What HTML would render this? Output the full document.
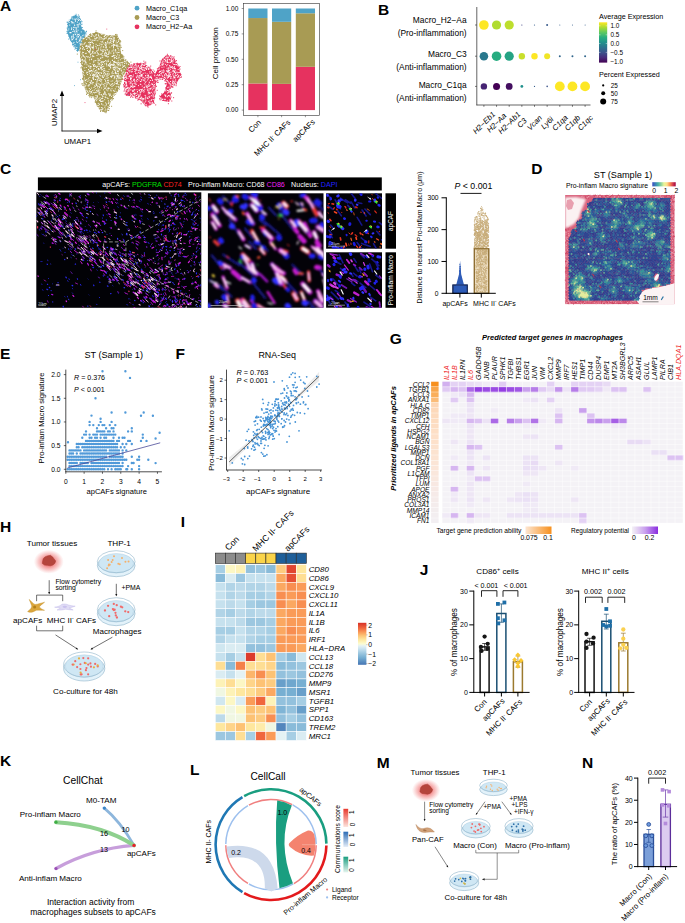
<!DOCTYPE html>
<html><head><meta charset="utf-8"><style>
html,body{margin:0;padding:0;background:#fff;}
svg{display:block}
text{font-family:"Liberation Sans",sans-serif;}
</style></head><body>
<svg width="685" height="923" viewBox="0 0 685 923">
<rect width="685" height="923" fill="#fff"/>
<text x="0" y="11.1" font-size="15.5" text-anchor="start" font-weight="bold" font-style="normal" fill="#000" >A</text>
<polygon points="90.9,34.2 96.7,31.9 103.7,34.9 117.7,35.8 120.5,42.4 120.5,51.7 124.7,58.7 129.9,63.4 128.3,69.2 122.9,75.1 120.5,84.4 117.7,91.4 111.9,98.4 108.4,107.8 106.1,113.6 102.6,111.3 96.7,105.4 94.4,98.4 87.4,93.8 83.9,86.8 82.7,75.1 81.5,65.7 80.4,56.4 79.2,47.0 82.7,40.0" fill="#A89B54" opacity="1"/>
<path d="M95.3 43.8h0M107.7 62.3h0M101.3 100.1h0M108.8 64.2h0M123.1 56.0h0M95.5 100.0h0M111.2 62.2h0M81.7 47.6h0M94.2 80.0h0M89.2 78.4h0M116.8 55.3h0M101.2 94.9h0M118.7 78.0h0M113.3 79.8h0M105.0 86.9h0M119.5 56.3h0M89.6 42.2h0M83.9 53.6h0M80.9 67.8h0M91.7 67.7h0M88.3 52.2h0M110.3 53.4h0M99.7 77.6h0M105.1 82.0h0M100.4 65.5h0M89.6 45.5h0M86.8 62.0h0M110.3 45.1h0M99.9 38.8h0M103.3 71.7h0M96.9 52.9h0M105.7 43.8h0M107.2 110.5h0M93.5 63.6h0M105.8 96.3h0M90.5 74.4h0M80.5 56.5h0M131.0 67.1h0M127.8 62.5h0M87.3 46.8h0M120.6 69.3h0M118.1 72.9h0M97.2 97.1h0M116.4 46.3h0M97.1 76.9h0M103.7 109.2h0M92.1 57.4h0M94.1 68.1h0M94.9 68.0h0M99.0 106.9h0M103.7 46.9h0M87.7 69.1h0M93.7 73.5h0M84.6 78.6h0M116.5 72.6h0M124.4 67.2h0M103.7 88.9h0M102.7 106.5h0M107.9 108.4h0M86.2 68.4h0M86.7 89.8h0M101.6 71.6h0M86.3 67.0h0M89.1 57.7h0M108.4 68.0h0M114.0 75.1h0M86.5 54.1h0M90.6 43.7h0M122.3 55.2h0M108.5 89.3h0M116.6 67.9h0M113.4 98.6h0M99.6 58.7h0M91.9 42.3h0M85.5 45.3h0M95.1 55.8h0M104.4 46.6h0M116.9 78.2h0M118.4 67.3h0M97.8 70.1h0M96.1 98.3h0M100.3 60.5h0M94.1 46.4h0M93.1 52.9h0M86.9 71.4h0M96.1 61.0h0M103.7 74.3h0M84.0 64.6h0M93.4 50.1h0M116.7 83.2h0M99.6 58.5h0M118.1 85.1h0M84.0 74.6h0M108.0 103.2h0M91.6 35.3h0M106.2 81.9h0M104.5 75.2h0M117.4 52.9h0M116.0 45.4h0M102.4 63.4h0M117.8 81.9h0M86.6 51.6h0M81.4 52.2h0M112.1 55.5h0M103.5 41.1h0M102.7 56.6h0M90.8 80.5h0M122.2 72.2h0M102.7 57.4h0M97.2 100.6h0M99.7 64.0h0M97.4 67.2h0M91.1 53.5h0M115.5 34.6h0M117.3 84.9h0M102.6 61.8h0M111.3 56.0h0M88.4 47.6h0M107.7 47.6h0M102.2 43.8h0M96.6 40.2h0M108.1 103.2h0M99.4 75.5h0M83.0 54.4h0M105.3 82.7h0M91.9 52.9h0M124.6 70.5h0M100.1 105.5h0M82.9 44.2h0M110.5 94.8h0M112.6 57.4h0M111.8 89.3h0M105.1 80.1h0M96.2 69.1h0M124.1 71.6h0M93.0 33.7h0M99.1 50.5h0M90.0 35.7h0M114.4 46.2h0M105.8 48.4h0M89.6 96.9h0M104.5 48.4h0M87.4 67.2h0M84.2 62.5h0M112.1 63.6h0M94.0 60.4h0M97.8 97.9h0M89.2 61.5h0M100.1 97.9h0M98.0 53.7h0M92.1 91.3h0M93.9 69.9h0M97.5 53.0h0M109.5 59.7h0M89.2 93.9h0M93.8 39.5h0M115.3 69.6h0M110.6 84.7h0M113.4 40.9h0M107.9 61.6h0M93.2 54.0h0M105.5 60.8h0M105.5 49.1h0M104.7 96.6h0M81.8 56.4h0M127.2 61.3h0M92.9 95.3h0M109.6 83.7h0M86.3 50.2h0M113.3 48.6h0M113.3 47.7h0M120.0 76.9h0M98.9 76.4h0M86.7 89.2h0M94.3 79.2h0M97.5 47.2h0M98.6 100.3h0M104.1 45.3h0M82.7 83.8h0M83.9 54.7h0M85.8 69.0h0M92.3 41.1h0M104.7 35.7h0M117.1 51.3h0M89.1 64.4h0M85.0 49.5h0M108.9 76.1h0M98.9 80.3h0M103.5 67.9h0M104.2 49.0h0M101.9 46.6h0M86.8 67.8h0M104.7 34.8h0M104.0 36.3h0M104.8 109.7h0M82.5 59.8h0M117.8 43.6h0M88.7 53.3h0M82.6 49.1h0M84.3 74.4h0M111.6 106.3h0M111.4 63.2h0M96.8 94.6h0M117.3 35.0h0M108.9 86.2h0M80.0 43.2h0M105.8 105.7h0M84.8 62.6h0M108.1 47.6h0M93.0 45.0h0M101.3 53.6h0M106.9 59.5h0M101.7 52.0h0M87.6 81.5h0M120.1 47.1h0M116.9 68.6h0M90.7 40.8h0M95.4 91.0h0M114.1 53.2h0M119.0 76.4h0M92.3 48.3h0M117.8 57.9h0M109.5 85.6h0M102.2 98.3h0M100.4 90.7h0M92.3 84.0h0M97.0 43.5h0M113.7 81.8h0M98.7 96.4h0M84.9 48.9h0M110.7 98.6h0M84.3 39.1h0M96.3 66.6h0M92.8 91.2h0M100.3 96.6h0M106.8 49.2h0M104.7 98.3h0M96.6 102.7h0M93.1 48.1h0M86.6 84.9h0M110.0 61.6h0M90.8 52.6h0M98.6 105.5h0M106.2 91.8h0M98.2 60.5h0M113.4 93.7h0M119.3 80.2h0M88.2 54.3h0M87.1 45.7h0M105.3 45.7h0M86.5 63.1h0M116.9 69.0h0M84.4 48.9h0M98.9 95.2h0M112.3 71.0h0M100.8 91.7h0M107.5 93.5h0M119.5 87.7h0M111.1 70.5h0M84.5 64.3h0M109.9 52.9h0M109.5 62.9h0M88.7 84.2h0M105.5 111.9h0M82.5 78.4h0M105.9 82.8h0M88.3 89.1h0M97.0 37.7h0M100.0 89.7h0M91.9 91.9h0M100.5 50.7h0M118.7 84.0h0M98.0 82.1h0M102.3 55.7h0M122.0 60.1h0M97.6 52.9h0M93.0 53.2h0M100.3 83.0h0M113.0 52.7h0M90.6 95.9h0M108.8 93.5h0M87.3 88.1h0M100.5 103.7h0M90.7 43.3h0M101.5 43.7h0M108.8 102.5h0M101.8 75.9h0M98.7 66.0h0M113.1 84.2h0M105.3 71.3h0M114.3 85.0h0M95.7 70.3h0M88.5 68.2h0M121.7 54.7h0M101.5 53.9h0M111.9 97.5h0M93.0 78.2h0M82.5 56.5h0M113.9 95.5h0M109.9 81.6h0M113.1 48.1h0M118.0 40.4h0M113.4 60.1h0M107.3 54.1h0M93.6 64.9h0M121.4 78.3h0M99.6 39.6h0M115.6 50.9h0M114.9 37.4h0M102.5 111.2h0M96.2 93.6h0M102.8 37.9h0M102.8 88.9h0M96.8 83.7h0M100.7 95.4h0M110.9 57.0h0M98.3 81.1h0M107.4 58.2h0M96.2 86.3h0M121.1 55.0h0M101.6 77.5h0M109.5 52.5h0M94.8 38.1h0M90.2 92.8h0M109.2 87.4h0M92.5 92.0h0M116.1 49.7h0M103.6 80.8h0M87.4 90.4h0M99.8 74.4h0M84.7 82.9h0M109.2 60.0h0M122.2 71.2h0M120.6 66.0h0M92.3 35.7h0M104.6 103.8h0M111.7 66.4h0M90.3 75.7h0M112.5 64.2h0M90.4 36.1h0M82.1 40.9h0M111.8 55.2h0M84.5 59.0h0M103.6 46.3h0M118.2 48.4h0M88.5 70.0h0M102.7 58.4h0M111.1 43.9h0M116.9 79.0h0M93.2 66.3h0M122.4 60.4h0M112.1 49.3h0M89.8 51.1h0M84.5 55.3h0M116.2 55.8h0M120.2 59.8h0M121.9 76.1h0M109.0 45.0h0M115.7 48.2h0M109.9 73.2h0M110.8 88.3h0M89.3 36.0h0M116.2 35.4h0M126.0 70.1h0M96.7 46.4h0M103.2 75.3h0M94.0 91.4h0M105.0 75.2h0M88.4 42.5h0M116.2 48.0h0M108.3 74.1h0M104.1 73.4h0M97.8 41.8h0M86.6 78.0h0M99.7 65.0h0M118.6 60.6h0M91.1 65.5h0M104.8 38.1h0M111.3 52.7h0M106.0 106.8h0M106.5 67.0h0M95.9 85.9h0M92.1 69.9h0M85.1 43.8h0M95.1 52.6h0M108.7 86.8h0M101.5 75.8h0M95.2 53.1h0M99.7 79.8h0M106.6 75.5h0M94.4 95.4h0M124.5 68.3h0M102.2 92.5h0M86.0 60.9h0M111.1 100.0h0M116.7 91.3h0M114.9 79.8h0M108.7 63.6h0M108.7 63.3h0M114.7 56.8h0M99.2 55.9h0M104.9 69.1h0M86.1 78.7h0M101.2 106.3h0M109.6 71.5h0M105.0 73.1h0M95.6 82.8h0M114.4 75.5h0M97.3 76.6h0M102.6 82.9h0M106.6 99.5h0M106.6 39.8h0M124.8 67.1h0M105.4 73.8h0M108.8 84.2h0M99.4 98.0h0M111.5 48.0h0M88.7 83.9h0M108.8 66.0h0M118.3 41.0h0M104.0 97.7h0M118.0 57.2h0M89.9 55.2h0M107.6 60.8h0M101.5 82.9h0M118.1 54.9h0M104.4 110.7h0M114.7 52.2h0M103.8 97.4h0M98.3 46.9h0M106.5 41.0h0M101.2 38.8h0M97.4 52.8h0M90.7 33.8h0M87.9 90.1h0M101.9 99.6h0M94.9 93.0h0M104.2 50.6h0M116.3 52.2h0M97.2 51.5h0M104.9 78.3h0M97.8 85.2h0M100.0 41.0h0M96.7 87.0h0M97.4 73.2h0M96.3 51.7h0M95.3 63.7h0M87.7 54.8h0M111.3 61.5h0M115.3 51.3h0M113.1 48.5h0M116.7 90.2h0M87.0 49.2h0M80.7 56.7h0M121.6 77.6h0M101.2 87.9h0M94.7 34.1h0M83.2 53.2h0M116.8 37.8h0M94.6 38.8h0M112.8 69.5h0M101.5 73.4h0M94.1 76.2h0M107.8 52.7h0M99.8 48.9h0M115.1 87.6h0M106.4 67.8h0M85.3 79.8h0M107.9 95.6h0M109.8 67.3h0M84.5 56.1h0M82.9 56.6h0M101.3 42.3h0M97.8 45.7h0M84.0 72.1h0M112.3 53.1h0M122.4 57.7h0M96.2 46.0h0M96.3 78.6h0M89.8 34.5h0M104.8 73.5h0M108.4 37.8h0M101.5 47.4h0M118.7 68.4h0M104.6 67.4h0M93.2 67.7h0M88.5 40.0h0M113.0 83.2h0M110.6 58.4h0M80.0 46.1h0M96.8 80.1h0M108.4 64.8h0M91.2 39.5h0M104.2 78.7h0M84.5 73.6h0M97.7 38.8h0M107.1 89.7h0M100.6 45.5h0M118.5 42.6h0M92.8 62.5h0M89.7 55.2h0M86.6 94.5h0M85.2 59.5h0M107.7 39.4h0M113.9 53.9h0M121.9 79.6h0M88.1 78.9h0M99.6 42.6h0M94.1 44.2h0M112.9 64.1h0M123.2 62.8h0M83.6 61.3h0M109.6 36.4h0M102.1 79.8h0M92.7 34.4h0M81.0 42.9h0M92.9 74.3h0M106.3 110.1h0M109.1 93.4h0M110.7 84.5h0M94.5 92.8h0M110.2 60.1h0M80.7 62.6h0M103.6 62.8h0M99.3 43.1h0M101.2 67.9h0M87.4 38.3h0M117.0 76.5h0M80.1 44.8h0M95.1 96.2h0M83.4 70.9h0M92.7 34.6h0M114.3 50.2h0M109.3 101.9h0M110.6 36.1h0M97.1 44.4h0M95.0 92.1h0M114.8 59.9h0M95.4 71.7h0M110.1 91.5h0M87.2 43.0h0M118.9 66.1h0M106.5 85.0h0M116.3 51.0h0M119.0 53.9h0M99.3 54.2h0M103.5 84.3h0M118.2 39.3h0M108.4 46.3h0M86.6 43.7h0M120.0 51.5h0M111.9 58.7h0M101.0 103.1h0M101.6 106.4h0M90.5 53.7h0M91.0 46.8h0M91.5 80.4h0M91.0 59.2h0M86.3 86.9h0M109.2 106.5h0M98.0 95.0h0M96.8 36.0h0M87.4 92.5h0M112.4 41.5h0M104.3 51.0h0M86.1 72.7h0M89.4 89.5h0M103.7 42.2h0M126.4 63.5h0M93.0 46.8h0M99.8 77.5h0M112.6 84.8h0M96.6 59.5h0M98.3 63.7h0M91.5 82.4h0M90.4 39.6h0M113.5 57.2h0M119.2 71.4h0M91.0 82.2h0M113.7 63.8h0M112.5 57.1h0M90.3 84.6h0M101.8 90.7h0M91.7 42.8h0M106.1 74.2h0M103.7 82.0h0M98.8 99.3h0M87.9 53.1h0M119.4 74.6h0M112.3 68.9h0M117.2 43.1h0M104.8 52.1h0M99.0 34.8h0M81.9 45.5h0M95.9 51.2h0M89.9 64.9h0M97.0 35.9h0M113.9 56.9h0M119.1 61.7h0M97.9 86.7h0M116.1 62.7h0M103.3 68.6h0M101.9 105.2h0M104.2 97.6h0M98.9 33.8h0M87.1 50.9h0M84.4 37.5h0M117.0 72.0h0M102.6 79.6h0M99.7 74.4h0M92.8 54.2h0M106.1 66.5h0M88.3 35.9h0M101.7 71.3h0M121.2 47.5h0M80.6 57.3h0M107.5 60.4h0M94.5 88.4h0M99.9 109.1h0M81.9 67.0h0M110.8 45.9h0M119.0 71.0h0M94.5 48.5h0M84.9 36.8h0M100.1 88.3h0M115.7 45.2h0M93.2 50.4h0M108.5 43.9h0M97.8 35.7h0M91.6 77.2h0M115.9 66.5h0M93.9 58.9h0M102.5 101.6h0M83.3 45.8h0M111.8 37.1h0M92.7 94.5h0M93.8 37.3h0M106.1 95.5h0M85.2 85.9h0M96.7 61.9h0M97.0 99.7h0M87.2 39.1h0M105.3 76.6h0M86.4 75.6h0M89.4 65.5h0M107.5 104.9h0M102.3 95.8h0M91.4 94.0h0M105.9 55.4h0M106.8 49.8h0M115.3 38.6h0M111.0 87.4h0M120.4 69.5h0M126.4 65.8h0M91.3 91.2h0M96.9 44.1h0M104.0 69.9h0M117.8 85.5h0M98.7 44.7h0M118.3 40.4h0M110.1 65.6h0M90.1 48.3h0M103.4 104.4h0M99.6 94.2h0M98.5 37.1h0M97.5 78.7h0M119.3 65.3h0M94.8 51.2h0M111.4 56.2h0M113.6 66.2h0M87.5 88.3h0M89.6 53.8h0M100.6 72.3h0M102.2 99.2h0M85.2 76.0h0M100.6 111.5h0M109.4 62.3h0M112.0 78.1h0M98.1 42.3h0M86.2 79.7h0M98.5 92.2h0M116.6 55.3h0M115.1 89.0h0M108.7 98.3h0M86.8 73.6h0M116.5 46.2h0M97.3 62.5h0M89.4 56.9h0M96.2 68.3h0M100.1 63.2h0M100.7 98.7h0M95.2 42.9h0M107.5 85.7h0M105.4 54.8h0M119.4 80.4h0M94.0 52.4h0M115.5 88.4h0M82.9 54.5h0M111.5 87.3h0M96.9 62.9h0M104.9 72.2h0M87.1 60.1h0M103.9 100.1h0M99.3 81.1h0M86.9 85.4h0M85.4 87.8h0M91.4 36.0h0M93.1 49.8h0M119.7 60.8h0M123.4 58.5h0M87.4 54.8h0M109.5 98.4h0M84.1 49.4h0M96.4 80.4h0M122.2 76.2h0M99.4 35.6h0M107.3 64.5h0M101.7 43.3h0M114.7 69.7h0M100.3 56.8h0M106.0 69.5h0M87.4 52.9h0M116.6 91.0h0M115.7 84.5h0M88.5 83.5h0M79.9 48.2h0M120.4 69.4h0M103.7 99.5h0M108.0 74.3h0M117.2 61.1h0M89.9 79.8h0M103.8 34.4h0M81.0 56.5h0M104.0 85.0h0M126.4 64.1h0M84.1 48.6h0M111.0 89.8h0M114.7 36.5h0M113.4 91.9h0M115.9 72.5h0M109.8 40.5h0M91.3 61.8h0M111.8 92.6h0M91.9 86.1h0M119.4 40.0h0M89.1 75.0h0M105.7 99.0h0M109.7 97.4h0M106.7 55.7h0M101.9 41.2h0M102.4 40.7h0M96.8 37.2h0M97.9 55.9h0M82.4 39.6h0M104.2 70.0h0M102.3 106.3h0M101.6 90.6h0M97.9 59.1h0M117.4 55.5h0M82.3 49.0h0M96.3 92.4h0M121.2 76.7h0M94.1 84.2h0M103.4 84.3h0M98.7 103.7h0M83.1 51.8h0M87.4 66.0h0M93.6 53.2h0M91.5 52.7h0M107.7 84.4h0M94.8 37.2h0M98.6 44.4h0M93.3 95.3h0M94.1 64.1h0M117.1 39.2h0M114.0 54.6h0M112.2 79.2h0M87.7 39.7h0M112.3 78.9h0M99.0 92.6h0M91.4 61.7h0M93.7 62.1h0M88.2 50.5h0M112.0 70.2h0M90.5 34.5h0M103.0 90.4h0M103.7 47.4h0M98.9 69.6h0M82.8 48.5h0M91.9 45.2h0M84.6 52.9h0M115.3 38.3h0M89.2 86.5h0M113.6 74.1h0M116.9 77.2h0M111.2 86.8h0M123.3 61.5h0M91.1 80.5h0M89.6 35.0h0M86.4 91.7h0M102.5 87.6h0M88.1 70.7h0M111.1 48.9h0M94.5 66.6h0M90.5 68.3h0M88.4 53.6h0M85.2 42.8h0M89.9 44.9h0M98.7 102.5h0M129.5 66.0h0M96.3 55.0h0M101.8 73.4h0M113.0 74.4h0M113.4 77.4h0M107.8 45.8h0M89.4 61.5h0M109.8 68.5h0M113.1 89.2h0M91.8 66.9h0M115.4 59.5h0M85.9 51.0h0M101.2 67.0h0M96.5 89.7h0M111.4 47.3h0M110.9 80.7h0M88.9 95.4h0M122.3 79.0h0M110.5 48.2h0M116.1 54.2h0M88.8 88.8h0M92.9 90.0h0M95.7 75.7h0M103.9 53.2h0M86.1 38.0h0M92.4 95.5h0M105.5 46.6h0M81.4 43.3h0M116.2 48.6h0M84.7 81.5h0M90.1 38.2h0M85.7 47.3h0M111.3 52.8h0M108.1 91.5h0M89.2 54.2h0M89.1 56.5h0M87.5 48.1h0M118.7 58.9h0M107.5 43.2h0M103.6 49.0h0M105.3 60.1h0M119.6 41.1h0M103.3 51.8h0M94.8 68.9h0M100.6 67.2h0M108.9 40.9h0M95.9 34.6h0M85.0 69.3h0M119.3 68.2h0M81.9 54.8h0M87.9 74.7h0M101.4 60.1h0M94.4 90.8h0M102.4 109.5h0M102.7 89.8h0M96.3 53.5h0M123.4 59.9h0M94.6 48.3h0M91.9 62.6h0M98.7 43.5h0M101.5 82.5h0M119.8 51.6h0M107.0 58.4h0M115.8 85.9h0M105.8 70.9h0M90.1 60.2h0M96.0 33.2h0M115.6 48.4h0M96.0 82.7h0M106.3 39.3h0M103.3 72.7h0M112.2 49.7h0M100.6 90.7h0M106.0 97.8h0M90.7 92.0h0M100.5 60.3h0M88.5 58.2h0M86.9 76.6h0M120.8 46.0h0M107.1 103.6h0M104.5 107.9h0M109.7 98.3h0M91.1 55.1h0M104.0 39.5h0M115.6 94.0h0M103.3 44.6h0M89.1 77.8h0M115.0 92.2h0M127.4 68.3h0M83.7 66.3h0M96.3 95.3h0M86.6 64.7h0M88.1 50.1h0M95.8 74.4h0M103.1 109.3h0M109.4 44.1h0M98.7 61.3h0M115.6 65.9h0M98.2 82.8h0M99.5 55.7h0M87.8 60.1h0M107.6 89.7h0M107.3 65.3h0M101.8 74.3h0M98.5 74.6h0M102.1 60.1h0M118.2 54.0h0M105.4 56.3h0M88.1 88.4h0M87.5 50.8h0M118.8 89.2h0M109.4 108.7h0M101.2 45.3h0M100.2 38.0h0M115.6 83.8h0M86.9 78.9h0M101.2 64.7h0M115.3 46.8h0M98.4 92.7h0M100.3 95.9h0M98.5 63.4h0M85.1 47.4h0M121.2 74.0h0M98.4 85.8h0M109.7 58.4h0M95.2 95.4h0M104.4 54.1h0M107.2 105.4h0M118.5 40.9h0M123.2 67.1h0M117.4 85.7h0M115.2 48.6h0M101.6 76.7h0M99.9 104.2h0M103.2 40.9h0M115.1 36.1h0M116.0 41.7h0M102.4 68.3h0M88.8 42.5h0M88.3 73.4h0M126.5 69.7h0M112.0 74.4h0M114.8 51.3h0M86.2 87.4h0M86.3 43.3h0M90.9 61.2h0M109.9 44.4h0M87.5 79.2h0M107.7 57.7h0M84.4 54.0h0M112.5 74.9h0M96.5 84.3h0M106.6 48.7h0M82.7 66.5h0M98.4 104.5h0M80.8 50.5h0M106.5 58.1h0M116.2 34.4h0M91.7 45.3h0M112.1 43.5h0M97.4 106.1h0M85.4 42.9h0M85.9 72.3h0M100.5 76.3h0M100.7 50.3h0M83.1 71.6h0M116.9 48.0h0M103.6 72.2h0M89.3 38.1h0M82.8 85.4h0M105.2 109.1h0M96.3 57.4h0M101.5 45.6h0M88.5 83.5h0M96.1 38.3h0M104.5 44.5h0M112.8 39.3h0M90.7 64.9h0M95.8 52.9h0M98.9 88.4h0M83.5 73.0h0M113.5 71.5h0M102.6 43.5h0M111.1 87.3h0M119.6 41.5h0M107.7 92.5h0M97.2 93.4h0M114.2 42.5h0M98.2 103.3h0M88.1 74.4h0M97.4 73.2h0M92.0 72.9h0M111.9 46.8h0M118.5 88.0h0M104.8 63.7h0M104.0 92.9h0M96.1 58.5h0M116.6 50.9h0M111.2 85.8h0M92.8 37.1h0M119.7 51.1h0M103.7 63.4h0M100.2 69.3h0M88.0 47.4h0M123.9 56.9h0M101.0 46.4h0M100.7 63.8h0M97.0 34.2h0M95.5 86.9h0M110.9 58.1h0M108.8 79.1h0M94.5 83.7h0M84.9 50.4h0M100.2 108.0h0M91.3 80.1h0M89.3 95.8h0M82.2 64.6h0M107.2 63.0h0M88.9 94.8h0M83.8 69.7h0M83.1 40.2h0M104.5 54.1h0M103.4 73.9h0M96.2 58.3h0M94.7 38.4h0M83.9 85.3h0M95.2 102.0h0M98.6 43.6h0M102.1 67.2h0M101.0 101.3h0M82.4 49.4h0M112.7 72.6h0M87.6 83.7h0M111.3 42.5h0M104.4 57.3h0M104.4 83.0h0M112.0 75.1h0M106.1 50.8h0M107.1 94.4h0M112.1 40.4h0M116.5 53.1h0M123.7 74.7h0M100.9 98.4h0M125.8 59.7h0M111.4 42.6h0M121.5 53.9h0M118.6 52.0h0M107.6 81.4h0M114.9 68.5h0M93.9 92.0h0M114.6 65.1h0M126.1 61.9h0M96.2 50.6h0M111.9 65.0h0M123.7 70.3h0M87.9 92.7h0M83.1 53.4h0M98.6 80.4h0M106.8 80.6h0M120.0 54.1h0M102.1 86.7h0M83.6 65.5h0M99.5 45.5h0M87.6 70.4h0M107.5 100.6h0M117.3 78.3h0M118.7 56.1h0M107.3 85.8h0M112.4 43.8h0M91.8 39.2h0M103.6 53.6h0M97.9 95.7h0M95.2 38.7h0M99.3 108.6h0M103.3 68.7h0M121.8 71.9h0M123.6 63.9h0M102.6 80.4h0M98.1 103.8h0M111.7 82.4h0M85.4 54.5h0M88.6 82.9h0M95.3 81.2h0M113.4 54.3h0M108.3 99.2h0M96.8 47.4h0M99.2 41.7h0M127.4 63.5h0M99.0 94.2h0M101.4 94.9h0M107.9 65.7h0M91.0 77.9h0M101.2 108.2h0M115.7 36.8h0M95.6 90.5h0M86.3 70.6h0M91.1 39.0h0M106.0 41.9h0M92.2 51.3h0M118.0 39.4h0M109.8 102.7h0M114.2 79.0h0M103.5 47.5h0M108.6 58.0h0M105.4 51.5h0M103.9 91.6h0M111.9 48.5h0M122.3 78.6h0M87.5 52.5h0M104.1 91.2h0M83.4 69.3h0M82.5 47.2h0M100.1 60.6h0M110.8 64.1h0M119.0 89.5h0M118.7 71.8h0M87.1 44.2h0M97.3 41.8h0M95.6 102.2h0M103.7 63.1h0M93.6 35.0h0M108.7 74.1h0M130.9 62.1h0M107.9 99.6h0M93.4 66.3h0M107.1 94.4h0M109.0 58.0h0M83.6 56.4h0M113.9 85.2h0M101.8 68.6h0M85.1 81.7h0M84.6 43.0h0M101.3 96.2h0M84.4 69.0h0M100.5 99.8h0M90.1 56.8h0M111.2 74.6h0M96.5 33.1h0M99.6 97.3h0M121.5 79.7h0M98.3 53.0h0M105.5 62.6h0M121.0 81.8h0M91.0 79.7h0M117.0 83.6h0M102.1 73.9h0M109.8 69.8h0M112.1 98.5h0M89.1 89.2h0M97.7 79.2h0M104.1 65.2h0M88.5 74.7h0M77.3 54.1h0M99.7 76.5h0M96.6 45.4h0M116.3 80.8h0M105.9 41.6h0M122.7 50.6h0M112.4 99.8h0M94.2 85.6h0M107.9 55.9h0M116.0 88.3h0M118.8 57.5h0M118.6 69.4h0M85.1 59.9h0M82.2 50.0h0M101.0 68.8h0M91.0 94.3h0M107.0 89.9h0M94.0 54.1h0M96.8 53.7h0M106.1 61.6h0M102.6 77.5h0M90.3 40.3h0M88.5 67.1h0M99.5 99.8h0M85.3 81.2h0M111.7 56.9h0M104.0 68.8h0M126.8 70.8h0M123.7 65.6h0M98.6 101.6h0M103.7 67.5h0M117.1 39.0h0M96.0 64.6h0M99.0 41.3h0M110.0 68.3h0M98.3 68.5h0M108.3 76.6h0M92.0 73.3h0M108.4 49.0h0M97.4 95.3h0M117.3 67.6h0M111.1 90.0h0M122.2 57.2h0M113.7 50.6h0M110.1 55.0h0M89.2 45.5h0M116.0 58.8h0M111.6 63.7h0M107.1 84.7h0M115.8 58.4h0M93.1 92.6h0M109.4 98.4h0M107.0 62.6h0M106.8 93.7h0M118.3 49.7h0M92.5 84.6h0M101.3 91.1h0M106.2 80.0h0M95.9 60.5h0M117.1 80.8h0M86.7 41.2h0M116.4 88.4h0M93.1 49.2h0M95.6 32.4h0M89.5 41.9h0M87.2 51.7h0M95.0 73.0h0M118.2 78.0h0M112.3 38.8h0M91.8 74.7h0M105.1 87.8h0M89.6 90.2h0M84.4 43.9h0M85.7 48.3h0M108.6 110.4h0M110.2 39.9h0M93.6 88.9h0M96.5 97.9h0M95.8 76.6h0M116.4 66.1h0M114.7 91.2h0M124.2 66.5h0M94.0 33.8h0M83.3 43.0h0M91.3 42.8h0M106.3 44.1h0M105.1 73.2h0M120.7 41.7h0M91.0 51.9h0M106.6 104.5h0M94.8 42.2h0M127.2 70.2h0M94.9 92.9h0M109.9 96.2h0M89.5 38.6h0M110.5 95.4h0M110.4 80.1h0M107.1 43.0h0M100.3 78.6h0M101.3 62.1h0M98.3 67.9h0M93.5 70.3h0M90.7 50.7h0M103.2 65.7h0M86.9 80.2h0M104.3 44.4h0M115.1 68.8h0M109.4 39.4h0M116.4 42.9h0M106.2 59.2h0M87.0 93.3h0M108.5 41.8h0M112.2 60.0h0M107.0 47.4h0M91.8 81.8h0M84.7 54.3h0M88.1 48.2h0M96.1 62.9h0M103.7 61.7h0M100.8 110.5h0M105.1 88.3h0M96.0 89.3h0M88.7 47.9h0M116.1 67.7h0M107.1 59.6h0M93.9 58.1h0M113.0 41.3h0M93.0 73.6h0M103.0 51.4h0M97.4 35.5h0M113.1 60.4h0M85.4 45.0h0M111.6 88.5h0M94.4 48.2h0M90.6 44.0h0M105.5 46.1h0M86.7 51.5h0M108.3 90.5h0M86.6 80.5h0M113.3 38.8h0M99.3 43.7h0M85.5 45.7h0M97.6 76.6h0M118.4 74.1h0M87.2 54.1h0M95.0 65.0h0M95.4 41.9h0M99.3 61.8h0M102.0 99.1h0M106.0 92.1h0M115.7 63.3h0M107.0 64.0h0M120.5 57.2h0M118.8 74.6h0M102.3 78.9h0M83.6 41.7h0M79.9 50.6h0M106.9 96.1h0M98.8 74.0h0M118.2 89.3h0M102.2 99.0h0M111.9 67.9h0M108.6 110.5h0M115.8 71.3h0M96.8 89.2h0M82.7 79.3h0M103.8 37.0h0M106.9 69.7h0M86.4 61.0h0M92.1 36.3h0M112.5 77.2h0M116.1 86.9h0M104.0 55.6h0M112.0 45.2h0M103.7 48.2h0M98.7 82.2h0M97.3 59.6h0M110.5 99.9h0M106.3 110.4h0M105.1 60.0h0M98.0 81.3h0M112.7 39.4h0M114.8 60.7h0M105.1 96.3h0M102.8 53.9h0M116.9 85.6h0M108.3 103.5h0M109.5 43.2h0M87.5 64.8h0M115.3 44.8h0M117.3 81.0h0M98.2 49.5h0M89.6 37.5h0M91.6 67.7h0M95.8 71.7h0M114.9 57.6h0M81.8 83.9h0M114.3 63.3h0M115.8 70.8h0M110.6 67.7h0M108.6 105.1h0M94.5 48.6h0M93.0 88.3h0M125.4 65.6h0M89.9 60.1h0M94.7 69.1h0M112.0 47.4h0M110.5 78.2h0M94.6 81.2h0M117.5 63.6h0M116.7 89.4h0M110.9 60.1h0M99.5 61.8h0M119.9 41.8h0M105.7 50.6h0M129.3 63.7h0M116.8 51.3h0M102.6 42.3h0M114.9 73.3h0M99.4 90.3h0M115.3 79.6h0M82.9 40.4h0M116.8 84.1h0M90.0 78.6h0M87.5 53.4h0M91.9 76.3h0M106.7 82.9h0M85.9 42.7h0M92.3 63.2h0M91.8 52.9h0M99.7 58.6h0M117.5 72.2h0M125.5 71.4h0M105.4 78.5h0M109.4 85.7h0M100.6 37.7h0M88.6 62.4h0M92.0 78.0h0M98.8 39.3h0M85.0 53.3h0M105.8 100.8h0M106.3 46.4h0M84.4 59.4h0M82.4 49.0h0M109.7 82.0h0M90.3 79.8h0M125.8 64.9h0M117.9 74.2h0M116.5 49.0h0M91.3 97.6h0M103.5 64.9h0M119.1 52.2h0M126.7 68.6h0M102.8 75.9h0M104.3 38.8h0M95.7 72.5h0M92.6 62.4h0M104.8 97.0h0M88.7 62.7h0M125.4 66.4h0M112.2 79.5h0M108.1 80.3h0M97.6 87.1h0M98.6 53.9h0M93.5 71.6h0M83.4 63.9h0M120.3 40.7h0M121.5 69.6h0M91.9 44.2h0M109.1 103.5h0M102.7 43.4h0M114.0 72.0h0M88.5 52.6h0M108.1 69.6h0M114.8 77.9h0M98.8 70.6h0M105.9 110.1h0M82.4 68.9h0M88.8 54.7h0M110.2 38.4h0M84.2 63.4h0M106.6 76.9h0M102.7 57.0h0M86.2 40.8h0M119.5 70.5h0M86.3 50.7h0M110.1 80.6h0M84.7 49.7h0M85.0 50.9h0M106.5 50.4h0M94.7 65.7h0M110.6 46.2h0M104.6 90.3h0M95.7 79.6h0M111.1 56.9h0M106.3 48.7h0M98.6 50.4h0M111.9 60.1h0M87.7 59.9h0M109.1 41.2h0M105.7 106.5h0M102.7 75.5h0M87.9 82.8h0M113.9 79.5h0M89.7 88.5h0M113.1 98.6h0M121.8 61.7h0M108.1 47.3h0M101.8 34.2h0M106.2 108.4h0M116.4 45.9h0M124.1 73.7h0M115.0 70.7h0M116.2 51.7h0M112.1 40.5h0M92.6 95.4h0M103.9 102.6h0M113.1 82.8h0M105.4 46.2h0M107.7 72.3h0M99.8 77.2h0M92.6 96.3h0M117.5 52.4h0M91.8 65.8h0M104.4 76.1h0M96.0 87.7h0M91.8 49.1h0M105.0 40.8h0M104.7 109.0h0M97.8 65.7h0M96.1 30.9h0M114.7 39.1h0M98.4 70.4h0M109.6 36.2h0M116.5 74.7h0M111.6 87.5h0M95.9 101.1h0M84.9 60.0h0M98.3 62.4h0" stroke="#A89B54" stroke-width="1.0" stroke-linecap="square" fill="none" opacity="1"/>
<path d="M110.7 68.0h0M93.1 74.8h0M86.7 73.1h0M86.3 53.3h0M101.1 66.2h0M88.7 42.6h0M113.6 61.6h0M101.0 57.8h0M113.1 65.4h0M102.3 77.1h0M101.0 39.0h0M88.4 46.7h0M91.8 47.1h0M108.6 52.1h0M100.8 81.4h0M84.0 61.6h0M111.6 38.7h0M98.0 62.3h0M89.7 42.2h0M110.5 67.6h0M107.3 54.6h0M108.3 103.7h0M89.6 84.8h0M82.9 71.6h0M89.4 47.4h0M91.0 83.7h0M115.3 72.6h0M126.7 63.8h0M105.0 35.2h0M97.0 55.5h0M121.6 62.6h0M116.4 45.1h0M80.1 45.1h0M121.6 71.0h0M90.4 89.5h0M110.7 90.0h0M114.1 64.1h0M117.9 81.4h0M96.2 98.7h0M119.6 69.2h0M112.4 75.9h0M90.6 42.5h0M99.5 80.4h0M104.7 76.0h0M114.0 40.6h0M117.7 76.3h0M84.2 75.7h0M88.6 92.9h0M96.2 73.7h0M99.1 66.4h0M114.9 61.2h0M93.9 76.4h0M82.7 49.0h0M105.4 35.5h0M88.2 56.8h0M91.2 80.9h0M111.9 39.1h0M117.2 82.1h0M88.4 46.7h0M82.3 66.2h0M93.1 82.6h0M106.3 86.7h0M87.7 57.0h0M117.8 45.0h0M85.7 61.2h0M96.2 92.3h0M107.9 75.1h0M90.2 47.8h0M118.2 78.7h0M122.0 73.3h0M114.4 64.8h0M86.3 56.4h0M111.2 76.3h0M103.4 70.8h0M104.9 53.0h0M89.8 50.7h0M93.3 77.2h0M110.9 41.0h0M113.4 55.4h0M103.0 105.0h0M116.3 86.8h0M104.9 49.9h0M113.8 73.4h0M102.9 38.6h0M98.3 68.6h0M113.9 40.9h0M113.5 47.4h0M106.1 37.8h0M108.6 88.4h0M95.6 92.3h0M91.5 70.7h0M102.1 42.7h0M95.5 76.2h0M94.8 66.6h0M115.9 73.2h0M109.6 95.8h0M82.3 71.2h0M99.1 69.1h0M93.4 47.2h0M97.8 105.4h0M82.5 52.3h0M92.0 70.4h0M85.5 58.9h0M112.2 56.3h0M84.2 84.9h0M113.1 50.8h0M114.6 82.8h0M118.5 73.8h0M117.4 75.7h0M105.6 102.9h0M104.8 79.5h0M105.2 88.0h0M119.1 87.6h0M94.9 60.8h0M98.1 89.0h0M98.3 103.4h0M99.9 60.6h0M118.0 46.3h0M89.5 59.9h0M85.8 85.3h0M114.3 58.7h0M94.1 53.3h0M107.0 36.3h0M109.5 38.2h0M88.6 51.6h0M83.5 47.7h0M119.3 55.2h0M86.4 62.9h0M119.2 76.2h0M115.9 73.2h0M93.5 48.9h0M87.3 91.2h0M92.2 94.1h0M112.0 88.7h0M124.4 61.4h0M105.3 94.7h0M106.8 65.9h0M90.4 56.9h0M102.5 101.2h0M99.1 45.5h0M112.5 60.3h0M99.5 104.3h0M108.5 93.9h0M108.7 80.8h0M114.9 91.1h0M103.6 94.3h0M106.0 38.1h0M105.3 97.2h0M89.8 44.0h0M107.2 109.9h0M94.3 74.9h0M84.7 87.2h0M103.5 62.3h0M87.9 37.8h0M118.4 41.0h0M109.6 52.9h0M98.6 78.1h0M128.9 64.5h0M98.6 90.3h0M80.1 47.8h0M110.6 100.5h0M118.8 84.7h0M83.2 74.4h0M88.4 78.3h0M113.1 68.0h0M93.5 45.9h0M115.3 68.8h0M95.3 99.7h0M95.8 66.1h0M106.0 78.3h0M104.1 94.0h0M114.6 76.9h0M82.6 46.6h0M86.3 67.5h0M90.5 49.3h0M108.7 71.7h0M96.7 75.2h0M96.6 100.7h0M104.2 72.6h0M104.6 68.8h0M100.0 72.6h0M105.6 45.5h0M89.1 70.9h0M92.5 96.9h0M80.0 51.7h0M84.8 86.6h0M103.8 49.8h0M116.6 79.0h0M118.0 70.3h0M89.8 52.9h0M109.4 74.0h0M95.2 86.5h0M103.8 43.1h0M120.3 59.8h0M117.0 80.7h0M117.0 69.0h0M92.8 53.1h0M101.2 68.8h0M94.3 90.0h0M113.6 95.9h0M115.7 57.7h0M101.0 54.5h0M106.2 56.0h0M115.3 88.9h0M105.7 50.5h0M112.1 73.3h0M117.1 63.8h0M107.8 90.8h0M116.3 62.7h0M97.5 74.9h0M92.7 55.4h0M104.7 91.6h0M99.2 78.9h0M109.1 69.4h0M96.4 85.2h0M92.8 77.8h0M117.5 82.9h0M103.9 93.9h0M120.8 68.4h0M98.0 50.4h0M82.1 53.9h0M93.7 79.5h0M90.4 45.9h0M85.0 57.4h0M98.2 91.2h0M100.7 84.7h0M86.6 45.3h0M117.8 37.3h0M110.5 62.1h0M100.8 68.3h0M122.2 64.8h0M106.4 63.6h0M97.3 95.7h0M104.1 39.0h0M103.5 77.6h0M103.3 71.2h0M96.0 95.5h0M98.7 105.3h0M98.3 60.7h0M115.5 93.5h0M115.5 49.7h0M97.1 72.0h0M118.1 62.9h0M116.6 56.3h0M118.4 71.7h0M124.5 63.4h0M97.5 66.3h0M100.6 101.4h0M119.2 77.5h0M98.6 72.8h0M101.9 84.2h0M97.4 79.1h0M95.7 53.1h0M98.4 34.2h0M108.2 87.8h0M110.8 64.9h0M110.5 65.4h0M95.0 52.4h0M92.9 75.1h0M93.7 62.2h0M113.4 44.2h0M116.2 42.9h0M114.1 45.0h0M84.0 60.3h0M117.2 83.9h0M112.1 72.7h0M94.2 64.6h0M96.6 67.4h0M97.3 96.6h0M93.6 79.0h0M103.7 47.0h0M90.4 50.9h0M119.2 64.1h0M102.7 109.7h0M94.8 71.8h0M105.2 97.0h0M92.5 52.3h0M104.4 61.5h0M118.6 41.6h0M102.5 96.9h0M123.2 58.1h0M101.9 98.4h0M91.8 73.1h0M102.1 44.7h0M116.4 92.0h0M82.2 59.3h0M85.9 46.1h0M106.0 52.6h0M87.0 64.8h0M87.6 91.8h0M117.6 71.3h0M101.4 73.5h0M92.2 34.5h0M114.4 67.5h0M93.0 35.7h0M119.1 80.9h0M107.7 108.9h0M114.2 91.3h0M114.1 94.2h0M116.5 67.1h0M110.1 102.2h0M114.2 84.4h0M111.2 99.4h0M113.1 39.8h0M92.9 71.6h0M116.3 78.3h0M117.3 76.5h0M112.1 41.3h0M99.0 98.8h0M102.3 75.6h0M110.0 38.3h0M85.2 86.1h0M114.6 45.0h0M120.0 70.1h0M114.3 38.9h0M97.6 45.5h0M103.2 39.8h0M111.3 84.7h0M107.1 82.4h0M91.6 59.1h0M103.4 73.8h0M102.2 55.7h0M117.7 48.0h0M95.3 74.2h0M108.2 35.6h0M107.5 80.7h0M98.0 91.9h0M88.5 69.5h0M96.9 82.2h0M113.9 69.5h0M83.9 81.1h0M115.6 66.1h0M114.7 77.5h0M91.6 88.1h0M118.6 62.2h0M120.1 65.8h0M105.7 43.9h0M110.7 64.0h0M113.8 38.9h0M85.9 80.8h0M117.7 54.8h0M109.1 65.3h0M115.4 67.7h0M120.5 65.0h0M101.0 80.9h0M117.0 53.0h0M115.0 55.3h0M91.2 66.7h0M81.9 60.3h0M98.8 77.7h0M107.0 76.6h0M124.1 58.0h0M117.3 64.0h0M108.1 106.7h0M103.1 96.4h0M95.8 88.7h0M92.7 90.6h0M100.2 37.1h0M115.5 71.9h0M90.3 93.1h0M120.1 75.5h0M99.9 75.6h0M86.8 79.5h0M102.9 55.8h0M111.0 38.4h0M90.4 55.0h0M108.3 83.1h0M101.8 104.2h0M82.8 60.9h0M99.3 84.2h0M113.6 41.3h0M92.4 75.4h0M99.3 59.9h0M103.0 61.6h0M113.5 46.3h0M125.8 61.7h0M96.8 76.8h0M120.9 78.1h0M112.1 56.5h0M118.5 87.1h0M101.6 72.9h0M121.0 80.6h0M91.7 81.8h0M124.7 65.5h0M121.5 70.2h0M95.4 70.5h0M112.0 84.1h0M94.2 40.4h0M93.3 92.4h0M109.9 66.4h0M96.9 72.4h0M99.9 94.7h0M113.8 75.6h0M114.7 45.3h0M116.2 41.0h0M115.6 62.5h0M101.4 69.9h0M124.7 58.9h0M85.5 80.4h0M89.3 90.8h0M108.7 38.3h0M105.2 55.8h0M112.7 83.6h0M126.1 63.0h0M86.9 72.2h0M119.2 52.3h0M91.0 91.3h0M103.2 51.6h0M117.3 76.4h0M113.7 53.3h0M99.1 93.4h0M106.4 105.0h0M101.2 50.4h0M101.6 103.8h0M106.4 85.1h0M100.3 99.7h0M108.2 88.9h0M98.0 58.5h0M105.8 71.0h0M105.1 110.8h0M96.6 67.1h0M117.1 73.6h0M109.2 66.0h0M108.2 77.7h0M118.4 52.5h0M109.8 95.3h0M105.6 52.1h0M116.9 46.5h0M111.4 64.5h0M98.0 80.3h0M112.0 51.1h0M89.9 91.6h0M114.3 93.9h0M101.4 107.6h0M88.8 51.8h0M91.5 91.8h0M99.9 90.1h0M122.9 62.3h0M98.1 76.3h0M91.1 36.4h0M106.8 61.9h0M110.2 66.2h0M117.7 67.6h0M86.1 89.0h0M98.0 53.9h0M101.2 44.3h0M90.5 44.6h0M100.7 67.7h0M100.6 100.2h0M107.1 49.5h0M123.6 66.4h0M94.1 40.2h0M92.9 51.6h0M97.1 79.9h0M108.4 56.7h0M99.9 43.9h0M110.3 95.2h0M121.0 76.9h0M103.7 89.8h0M105.4 109.1h0M100.8 75.9h0M107.5 42.9h0M81.8 43.8h0M89.2 35.6h0M99.4 64.1h0M114.2 78.7h0M92.3 56.7h0M114.5 61.9h0M96.3 76.9h0M90.6 66.6h0M90.1 63.6h0M125.6 67.3h0M119.9 78.5h0M101.8 61.7h0M113.7 55.3h0M92.4 47.5h0M110.6 76.4h0M97.5 76.5h0M87.5 50.5h0M105.6 80.7h0M96.3 84.7h0M113.4 63.1h0M90.9 40.0h0M93.4 56.3h0M106.7 64.5h0M105.6 73.9h0M90.0 39.2h0M100.5 78.9h0M101.8 83.0h0M113.5 41.7h0M117.1 62.2h0M81.5 65.6h0M95.4 38.8h0M92.9 82.5h0M109.0 64.6h0M90.4 82.3h0M93.5 65.5h0M113.4 67.6h0M102.2 107.8h0M112.7 71.3h0M95.0 72.2h0M107.4 56.9h0M100.8 67.4h0M108.1 39.9h0M89.3 52.3h0M113.2 65.4h0M104.8 107.3h0M92.2 42.4h0M99.1 39.1h0M118.4 64.5h0M80.6 48.4h0M83.4 55.4h0M106.4 53.5h0M112.8 36.8h0M100.7 49.8h0M112.6 56.4h0M86.5 83.7h0M98.5 73.5h0M104.2 85.7h0M93.6 61.1h0M92.5 48.0h0M104.7 92.7h0M105.6 42.5h0M97.3 85.9h0M89.3 71.4h0M90.7 71.3h0M91.4 92.3h0M108.1 75.1h0M101.4 94.5h0M102.1 95.4h0M108.9 39.0h0M98.4 53.9h0M94.5 92.8h0M109.4 94.1h0M114.2 69.6h0M93.8 56.5h0M104.7 63.9h0M99.0 54.7h0M101.1 64.2h0M112.7 80.9h0M105.5 60.7h0M96.6 85.1h0M124.1 69.6h0M103.1 51.0h0M99.2 63.4h0M114.4 57.5h0M99.0 64.8h0M102.5 64.5h0M103.3 84.4h0M87.8 81.3h0M118.8 65.0h0M90.0 82.6h0M97.7 75.8h0M97.6 90.9h0M107.6 41.4h0M87.6 74.5h0M104.0 86.9h0M107.9 88.8h0M96.7 51.3h0M93.2 78.0h0M116.8 75.3h0M84.8 88.3h0M122.7 74.2h0M118.9 50.1h0M102.7 57.6h0M93.2 47.2h0M107.6 98.1h0M121.9 58.6h0M114.9 76.2h0M83.6 72.7h0M111.5 96.4h0M118.4 75.1h0M94.1 68.5h0M98.8 86.3h0M98.1 83.7h0M82.9 55.1h0M93.6 74.2h0M85.2 82.9h0M89.9 77.4h0M92.7 83.9h0M107.0 60.8h0M117.0 58.2h0M115.6 72.6h0M99.8 86.7h0M101.1 79.7h0M104.9 92.8h0M113.5 42.5h0M84.4 78.1h0M116.0 81.3h0M82.5 63.1h0M99.2 107.3h0M100.9 62.3h0M115.8 50.3h0M80.8 44.7h0M93.9 97.3h0M114.3 66.1h0M115.3 51.9h0M97.5 52.8h0M83.4 52.5h0M111.8 43.3h0M128.4 61.7h0M105.3 74.2h0M117.9 77.3h0M116.7 80.8h0M102.7 98.5h0M117.9 66.0h0M112.8 45.3h0M86.7 46.1h0M101.2 46.2h0M97.0 72.9h0M104.4 38.7h0M109.0 42.4h0M106.1 46.5h0M101.8 79.8h0M113.9 38.1h0M103.3 46.9h0M116.6 58.5h0M110.3 94.1h0M120.1 43.8h0M108.6 102.2h0M88.1 85.8h0M93.0 64.4h0M110.7 36.6h0M117.1 83.8h0M98.4 49.2h0M117.5 42.7h0M117.1 52.2h0M89.2 66.1h0M98.5 35.6h0M123.0 65.9h0M107.9 73.4h0M101.6 101.4h0M94.7 85.8h0M111.4 77.3h0M81.4 57.1h0M88.5 94.6h0M108.7 54.3h0M113.7 52.9h0M98.7 48.1h0M96.9 37.7h0M91.5 36.1h0M93.3 96.9h0M110.1 42.9h0M106.3 47.2h0M93.8 74.9h0M119.1 57.1h0M109.6 83.9h0M88.9 37.5h0M119.0 68.4h0M97.4 97.2h0M96.2 83.4h0M93.5 66.0h0M86.4 46.3h0M113.4 90.4h0M97.0 81.3h0M89.9 67.9h0M112.9 64.6h0M113.1 95.3h0M106.1 45.1h0M84.8 64.1h0M121.5 53.6h0M89.0 80.1h0M90.4 48.6h0M98.1 59.9h0M96.1 44.3h0M90.5 75.0h0M104.8 53.6h0M120.0 43.1h0M108.4 60.1h0M103.9 68.4h0M107.2 73.8h0M85.9 46.4h0M119.5 69.0h0M124.1 66.4h0M103.7 66.3h0M89.4 71.1h0M118.2 60.3h0M118.4 89.4h0M104.7 99.7h0M111.6 45.9h0M79.9 52.8h0M91.8 41.9h0M104.2 36.5h0M118.2 48.7h0M106.0 55.0h0M90.4 42.6h0M101.9 62.1h0M116.0 83.5h0M105.4 47.8h0M102.0 53.6h0M100.0 97.8h0M92.9 51.2h0M111.9 65.1h0M122.6 67.4h0M111.2 90.9h0M101.4 65.6h0M87.6 46.1h0M98.8 69.5h0M104.5 36.3h0M122.9 72.3h0M108.4 100.8h0M117.6 76.0h0M107.2 78.3h0M95.3 66.1h0M101.4 37.7h0M98.6 68.7h0M99.0 36.2h0M112.9 56.4h0M89.6 46.3h0M89.6 51.4h0M90.7 66.3h0M91.2 53.7h0M94.6 64.8h0M82.0 44.8h0M95.9 40.2h0M104.7 88.5h0M118.8 68.5h0M114.3 62.0h0M103.2 101.0h0M91.4 80.7h0M115.1 50.2h0M93.0 47.2h0M126.5 60.7h0M97.1 50.8h0M89.4 73.2h0M101.6 88.0h0M106.0 97.7h0M97.5 87.0h0M91.4 70.4h0M84.4 43.3h0M96.4 38.2h0M100.9 54.1h0M120.3 62.8h0M90.6 54.4h0M92.4 40.2h0M109.1 43.8h0M93.2 78.8h0M111.1 81.2h0M111.7 35.9h0M88.4 66.1h0M94.0 87.5h0M99.5 87.7h0M113.4 49.1h0M97.1 99.2h0M82.4 59.6h0M101.7 101.5h0M95.9 35.9h0M84.2 67.9h0M82.8 48.9h0M119.9 46.7h0M88.8 85.9h0M86.6 39.4h0M97.1 37.7h0M112.0 86.4h0M96.4 48.0h0M87.5 48.0h0M105.1 112.8h0M89.0 45.2h0M102.9 77.1h0M85.3 42.8h0M100.4 85.5h0M108.4 65.6h0M113.9 68.0h0M108.8 64.8h0M93.7 66.2h0M102.4 50.0h0M102.7 69.5h0M104.5 70.7h0M95.8 60.5h0M90.3 75.3h0M104.7 83.8h0M117.6 71.6h0M124.9 61.0h0M87.7 72.4h0M101.0 41.6h0M102.4 51.9h0M108.1 80.1h0M79.9 45.0h0M126.8 69.1h0M113.8 44.6h0M102.6 41.4h0M111.7 76.6h0M108.3 82.5h0M95.8 34.9h0M99.1 94.1h0M105.7 88.2h0M85.3 61.8h0M91.4 59.6h0M93.6 69.8h0M99.6 100.5h0M113.4 45.9h0M99.9 92.5h0M104.9 38.1h0M108.5 53.9h0M105.1 105.9h0M102.0 62.9h0M106.6 47.9h0M96.6 34.7h0M84.9 70.5h0M116.5 83.6h0M105.7 81.3h0M96.5 90.7h0M90.8 83.3h0M114.8 70.3h0M100.6 58.4h0M86.9 48.5h0M110.9 53.1h0M96.3 84.7h0M118.1 86.5h0M109.7 88.3h0M107.6 50.0h0M124.7 59.4h0M110.5 40.2h0M104.1 75.3h0M101.7 98.7h0M91.4 34.1h0M119.7 63.1h0M104.5 54.9h0M106.7 75.0h0M83.2 56.4h0M105.8 42.7h0M114.1 37.5h0M84.9 60.2h0M96.0 98.1h0M99.2 37.9h0M110.3 42.3h0M107.3 84.1h0M79.8 49.8h0M122.4 62.9h0M94.4 75.1h0M96.7 70.1h0M101.7 34.4h0M85.4 53.4h0M84.9 79.9h0M94.0 75.7h0M109.8 47.2h0M105.3 93.2h0M98.1 77.0h0M109.6 63.5h0M101.7 68.0h0M88.8 84.9h0M113.0 64.6h0M105.9 83.2h0M112.3 60.4h0M123.8 72.0h0M109.4 51.1h0M105.9 55.9h0M92.3 42.8h0M97.8 40.7h0M101.8 67.5h0M96.0 97.4h0M108.3 61.5h0M84.3 56.7h0M104.9 44.7h0M117.0 45.6h0M84.0 44.3h0M98.2 64.0h0M95.9 46.4h0M128.7 64.3h0M89.4 57.7h0M99.3 92.0h0M110.4 85.3h0M89.3 38.1h0M93.4 43.7h0M85.5 62.8h0M106.7 56.1h0M115.9 73.6h0M102.8 76.7h0M94.7 38.2h0M94.2 36.4h0M106.4 94.9h0M101.7 109.5h0M118.2 76.9h0M108.8 103.3h0M107.2 71.6h0M104.7 72.8h0M89.3 88.5h0M102.7 66.6h0M99.7 74.2h0M114.2 40.4h0M106.4 89.9h0M86.8 90.4h0M102.9 108.6h0M106.5 104.0h0M114.2 55.9h0M112.2 75.3h0M108.1 98.7h0M115.8 70.8h0M115.9 45.3h0M84.4 49.4h0M114.5 62.0h0M90.7 68.2h0M95.5 79.5h0M106.3 44.0h0M118.7 39.7h0M120.3 82.3h0M90.6 70.8h0M118.8 58.0h0M100.8 47.9h0M113.2 85.5h0" stroke="#fff" stroke-width="0.9" stroke-linecap="square" fill="none" opacity="1"/>
<polygon points="74.6,14.7 78.7,16.4 81.0,19.3 80.4,24.0 82.2,28.7 85.7,31.6 86.3,35.1 82.2,39.2 79.9,43.9 79.3,49.7 77.5,52.0 75.2,48.5 72.8,43.9 69.9,39.2 67.6,33.4 67.0,29.9 68.2,22.8 71.1,18.2" fill="#4FA3C7" opacity="1"/>
<path d="M72.5 23.0h0M80.1 35.7h0M74.4 22.0h0M78.4 17.6h0M76.8 44.3h0M85.2 33.4h0M74.2 30.1h0M77.0 29.6h0M68.7 24.2h0M78.1 43.9h0M79.2 25.2h0M77.8 25.8h0M72.1 32.7h0M69.7 20.5h0M83.6 35.4h0M74.7 33.8h0M76.4 18.3h0M75.3 41.0h0M78.5 21.1h0M67.6 30.5h0M78.9 19.6h0M70.2 28.4h0M76.8 17.7h0M78.4 28.7h0M79.0 34.1h0M70.8 28.4h0M75.9 20.1h0M78.0 48.7h0M72.7 39.2h0M69.7 28.8h0M78.3 24.1h0M76.9 36.6h0M69.8 22.0h0M75.0 49.2h0M68.8 33.2h0M71.9 31.0h0M73.7 26.5h0M83.2 34.2h0M80.0 29.7h0M69.8 22.7h0M70.0 37.1h0M79.3 30.2h0M76.1 25.5h0M76.8 28.5h0M71.1 40.5h0M85.0 32.5h0M76.1 14.3h0M77.3 31.9h0M74.5 18.9h0M77.9 40.7h0M82.5 33.1h0M69.3 20.2h0M77.2 16.8h0M79.4 20.6h0M76.5 36.9h0M73.4 21.8h0M80.9 39.1h0M78.1 45.5h0M77.1 46.2h0M78.1 36.1h0M74.6 38.0h0M75.8 18.2h0M69.7 28.0h0M77.1 24.4h0M77.2 46.4h0M80.4 23.4h0M76.1 41.7h0M81.0 20.7h0M75.9 41.8h0M81.8 30.3h0M70.7 22.2h0M78.7 42.6h0M72.0 35.4h0M80.2 27.7h0M76.8 37.8h0M80.9 27.5h0M75.1 38.6h0M70.5 39.0h0M71.2 31.4h0M74.6 24.1h0M71.3 27.5h0M72.6 31.8h0M81.3 24.7h0M69.0 25.8h0M76.2 17.3h0M72.6 18.4h0M71.8 33.5h0M83.1 35.4h0M80.8 22.9h0M82.0 21.7h0M73.8 26.6h0M82.0 35.6h0M71.7 26.4h0M67.9 24.0h0M81.9 30.2h0M74.8 34.5h0M83.6 35.1h0M79.9 40.5h0M73.5 44.5h0M85.8 33.8h0M82.3 27.5h0M79.4 29.7h0M74.1 29.5h0M68.8 39.1h0M68.2 29.7h0M73.7 34.0h0M69.0 22.7h0M72.0 34.2h0M74.7 27.6h0M74.6 26.7h0M70.4 27.2h0M78.8 28.2h0M68.1 30.4h0M72.4 30.4h0M79.7 33.0h0M76.3 16.4h0M79.2 21.3h0M77.2 44.2h0M80.0 32.0h0M71.3 22.8h0M80.4 33.6h0M79.6 38.7h0M83.2 36.8h0M79.0 45.3h0M69.2 21.8h0M69.1 23.1h0M72.2 16.8h0M69.7 29.3h0M74.1 37.3h0M77.2 19.5h0M71.5 41.6h0M72.1 17.2h0M68.8 32.0h0M79.2 31.4h0M67.6 24.4h0M80.3 22.2h0M73.0 28.8h0M79.2 24.0h0M75.8 35.4h0M79.2 21.7h0M68.9 36.2h0M74.4 39.3h0M73.0 27.5h0M69.2 33.1h0M78.0 50.3h0M73.9 46.7h0M71.3 23.9h0M80.5 41.7h0M81.0 21.3h0M78.0 41.1h0M78.5 38.9h0M70.1 32.0h0M80.5 33.0h0M72.0 34.9h0M67.0 33.3h0M74.1 44.2h0M75.1 19.8h0M78.5 20.7h0M75.6 28.9h0M75.2 40.9h0M77.0 36.0h0M80.6 42.1h0M85.4 35.2h0M69.7 34.5h0M70.9 40.7h0M72.5 23.5h0M78.6 26.3h0M74.4 22.4h0M72.6 44.9h0M78.2 25.9h0M72.6 21.3h0M72.3 33.9h0M73.8 37.0h0M75.7 26.4h0M83.2 31.4h0M74.8 22.0h0M75.7 44.1h0M70.1 38.0h0M78.9 20.3h0M74.8 15.5h0M85.3 34.1h0M75.9 15.7h0M82.0 42.5h0M82.7 34.6h0M79.0 28.7h0M78.4 20.7h0M77.2 24.4h0M72.8 22.1h0M69.9 32.0h0M77.2 36.7h0M75.6 31.5h0M80.1 21.2h0M80.7 30.0h0M69.6 30.7h0M77.7 18.7h0M77.7 30.1h0M79.9 41.4h0M69.8 21.0h0M67.6 33.2h0M73.6 30.4h0M78.4 45.0h0M76.2 18.7h0M74.1 26.1h0M74.7 38.8h0M74.5 31.0h0M84.4 34.8h0M70.2 29.2h0M72.4 24.1h0M80.0 43.5h0M71.8 28.5h0M76.1 27.4h0M86.4 31.8h0M78.6 47.0h0M77.1 46.9h0M67.2 28.1h0M76.7 45.5h0M77.6 28.6h0M70.5 25.6h0M78.4 24.9h0M83.2 36.7h0M70.6 27.0h0M76.0 31.1h0M78.1 48.3h0M69.8 36.6h0M74.8 25.1h0M73.9 42.5h0M70.2 27.7h0M72.5 28.9h0M74.5 20.8h0M75.6 43.9h0M67.2 22.2h0M78.3 31.1h0M72.9 31.3h0M80.3 22.4h0M72.7 44.4h0M76.7 35.9h0M86.5 31.3h0M80.9 32.6h0M71.3 32.8h0M76.1 36.7h0M70.7 21.2h0M83.4 34.2h0M68.5 30.7h0M67.4 22.3h0M69.6 32.6h0M73.8 41.5h0M76.1 33.2h0M75.1 28.1h0M81.2 31.7h0M74.6 15.7h0M76.4 45.2h0M72.2 23.9h0M71.4 32.6h0M77.9 47.0h0M79.4 21.6h0M73.4 34.5h0M70.4 31.8h0M73.0 19.4h0M82.5 33.9h0M71.9 24.9h0M70.3 21.2h0M77.9 34.0h0M76.6 47.2h0M85.2 34.8h0M71.2 26.4h0M77.0 28.3h0M78.3 25.2h0M80.1 41.1h0M76.2 24.5h0M82.2 31.0h0M72.9 36.0h0M81.4 34.6h0M74.1 18.5h0M69.3 28.8h0M77.7 37.0h0M78.0 30.6h0M82.5 33.3h0M76.6 39.9h0M77.0 50.2h0M70.3 20.6h0M78.4 15.0h0M77.3 43.8h0M81.1 38.8h0M73.7 33.9h0M69.4 27.6h0M71.9 33.9h0M81.2 35.2h0M77.5 42.8h0M80.2 20.6h0M73.2 43.7h0M72.2 28.9h0M71.6 26.3h0M78.6 27.3h0M77.5 37.9h0M77.0 41.3h0M75.5 31.4h0M71.9 17.9h0M75.3 21.2h0M75.3 36.8h0M67.9 30.1h0M82.0 24.2h0M74.6 35.0h0M78.9 20.0h0M76.5 42.6h0M79.4 16.3h0M72.8 36.1h0M74.0 34.8h0M68.9 25.9h0M71.2 20.2h0M82.8 37.2h0M67.0 31.4h0M70.5 27.6h0M70.2 23.8h0M72.0 24.2h0M77.8 42.1h0M78.3 27.4h0M78.6 39.6h0M77.6 48.8h0M69.9 31.2h0M68.9 23.0h0M77.0 45.6h0M68.3 32.8h0M77.4 22.5h0M76.6 33.3h0M76.1 37.9h0M71.2 32.2h0M76.1 47.1h0M81.3 27.9h0M79.4 30.8h0M72.7 19.0h0" stroke="#4FA3C7" stroke-width="1.0" stroke-linecap="square" fill="none" opacity="1"/>
<path d="M71.5 28.1h0M82.0 38.1h0M80.1 38.8h0M81.3 31.9h0M71.9 22.1h0M72.8 31.5h0M77.6 42.6h0M73.2 36.0h0M78.5 19.0h0M80.9 36.7h0M77.5 24.9h0M75.4 21.4h0M77.0 32.9h0M74.3 31.2h0M78.0 37.3h0M78.5 20.5h0M73.3 43.2h0M74.1 31.0h0M74.8 19.1h0M77.0 36.3h0M79.0 41.7h0M76.6 39.7h0M75.4 20.3h0M77.8 17.0h0M77.4 22.1h0M74.0 42.4h0M78.0 27.3h0M71.3 21.5h0M82.3 28.9h0M79.1 24.4h0M72.7 39.5h0M79.6 40.5h0M70.4 32.5h0M75.3 19.7h0M80.4 39.1h0M67.9 30.3h0M69.8 32.7h0M78.1 30.2h0M78.1 26.4h0M71.6 36.3h0M73.2 34.9h0M75.1 34.0h0M70.8 32.9h0M69.2 22.4h0M78.6 25.0h0M76.6 29.0h0M75.5 34.6h0M78.4 34.5h0M79.6 19.6h0M73.6 34.8h0M71.9 37.2h0M68.8 29.0h0M76.0 30.0h0M73.9 23.0h0M74.5 15.1h0M70.6 32.5h0M80.4 37.3h0M76.9 31.4h0M71.8 28.1h0M79.3 23.3h0M83.9 35.1h0M75.7 39.2h0M72.2 22.1h0M76.5 41.9h0M73.5 29.4h0M74.8 27.6h0M76.0 49.5h0M75.0 32.1h0M72.9 22.5h0M85.5 34.2h0M76.1 27.6h0M76.5 31.2h0M78.5 36.5h0M76.1 28.1h0M73.2 36.4h0M77.8 34.6h0M77.0 24.9h0M73.3 38.4h0M85.7 35.6h0M73.9 37.5h0M71.9 40.0h0M76.7 38.3h0M72.1 39.3h0M79.3 35.4h0M71.5 29.6h0M80.4 20.5h0M74.7 25.7h0M77.2 35.0h0M85.2 31.8h0M71.0 32.6h0M72.9 19.1h0M76.8 47.6h0M72.1 18.1h0M80.2 40.8h0M75.0 44.7h0M82.7 35.7h0M75.0 47.0h0M69.5 20.4h0M79.2 34.2h0M76.4 49.4h0M69.7 25.1h0M76.2 18.8h0M81.0 38.0h0M80.0 43.4h0M72.1 23.1h0M71.4 38.0h0M74.5 25.0h0M79.3 39.9h0M77.3 19.2h0M73.5 27.3h0" stroke="#fff" stroke-width="0.9" stroke-linecap="square" fill="none" opacity="1"/>
<polygon points="127.1,68.1 134.1,63.4 143.4,62.9 150.4,68.1 155.1,73.9 156.3,82.1 155.1,91.4 153.9,103.1 145.8,106.6 141.1,100.8 134.1,97.3 125.9,94.9 123.6,86.8 124.7,77.4" fill="#E6325F" opacity="1"/>
<path d="M138.8 92.1h0M146.3 91.4h0M149.6 85.7h0M131.9 82.4h0M142.1 100.1h0M145.0 74.7h0M149.0 72.0h0M143.5 67.0h0M143.2 98.5h0M146.5 87.0h0M147.8 78.8h0M129.4 91.6h0M124.9 85.0h0M139.7 88.1h0M143.7 69.2h0M142.9 66.3h0M147.0 102.7h0M144.0 79.2h0M142.4 85.3h0M147.3 76.5h0M126.8 82.5h0M134.7 78.1h0M137.1 89.7h0M143.1 70.3h0M132.5 80.5h0M149.9 90.1h0M144.0 70.1h0M153.2 76.8h0M151.7 103.7h0M148.1 81.5h0M134.0 66.2h0M129.4 91.6h0M136.1 87.2h0M133.9 68.3h0M130.4 89.2h0M147.6 70.3h0M129.1 88.4h0M146.9 90.5h0M148.6 90.0h0M134.2 81.8h0M140.6 73.1h0M131.7 86.0h0M138.6 67.7h0M149.3 96.1h0M148.7 95.9h0M151.9 96.3h0M148.9 105.5h0M149.0 94.2h0M132.2 93.1h0M129.4 70.3h0M137.9 70.5h0M142.2 83.7h0M143.9 94.6h0M155.7 104.9h0M151.7 74.6h0M146.3 83.8h0M136.0 75.6h0M135.5 89.6h0M140.8 98.7h0M149.0 77.1h0M153.7 91.7h0M151.3 91.3h0M150.5 104.7h0M127.0 77.6h0M129.0 71.4h0M152.7 103.5h0M145.6 97.8h0M133.1 65.2h0M145.6 79.7h0M123.7 84.7h0M132.4 80.2h0M131.5 78.2h0M128.5 78.9h0M129.8 78.3h0M125.1 82.8h0M148.5 75.9h0M150.9 71.5h0M140.1 79.5h0M139.0 87.6h0M148.5 67.4h0M141.4 72.4h0M148.6 98.7h0M132.3 83.5h0M130.2 86.3h0M150.3 82.3h0M135.4 66.9h0M142.2 65.6h0M147.8 73.1h0M140.1 83.9h0M127.8 71.7h0M133.6 77.5h0M133.8 63.9h0M150.5 78.6h0M145.5 92.5h0M137.0 82.0h0M150.1 77.2h0M131.9 93.8h0M147.5 83.3h0M152.0 93.6h0M131.3 64.7h0M149.2 79.5h0M140.8 95.0h0M154.6 95.2h0M154.7 98.0h0M146.7 67.6h0M136.1 72.5h0M146.7 101.0h0M134.4 83.8h0M148.9 91.1h0M136.0 98.4h0M128.5 69.2h0M139.4 68.1h0M146.2 87.9h0M151.4 89.8h0M154.1 83.4h0M128.8 71.1h0M137.7 86.0h0M142.8 95.2h0M130.6 83.0h0M146.9 75.3h0M140.0 64.4h0M126.2 79.4h0M154.6 79.2h0M146.1 68.6h0M149.0 69.4h0M153.1 70.0h0M148.6 95.0h0M144.2 98.0h0M125.2 84.7h0M146.6 89.2h0M132.7 82.2h0M131.5 83.8h0M157.2 90.3h0M148.8 104.6h0M135.1 72.1h0M152.1 98.7h0M124.4 86.1h0M142.2 80.5h0M149.8 67.3h0M148.0 98.9h0M145.7 85.7h0M134.6 84.1h0M135.6 69.6h0M143.2 75.6h0M136.9 69.6h0M151.3 95.7h0M128.4 81.9h0M139.4 83.8h0M134.5 77.0h0M129.0 86.5h0M130.7 95.0h0M135.6 80.3h0M139.9 90.4h0M135.9 92.2h0M131.8 82.3h0M143.7 96.3h0M145.7 63.2h0M148.6 68.1h0M153.0 99.0h0M129.0 68.3h0M152.9 94.8h0M130.8 69.9h0M150.1 85.5h0M152.3 98.5h0M131.6 67.6h0M149.4 74.1h0M138.4 99.6h0M134.6 79.3h0M124.1 91.1h0M147.0 88.9h0M137.4 81.0h0M141.8 65.4h0M126.7 70.8h0M137.0 82.1h0M130.3 73.0h0M150.5 85.5h0M126.9 93.9h0M131.9 69.9h0M129.6 93.4h0M142.3 96.4h0M150.3 94.0h0M143.2 77.6h0M134.2 86.4h0M136.9 86.8h0M132.9 97.5h0M140.8 87.5h0M142.0 78.9h0M131.5 71.9h0M145.4 77.4h0M138.9 67.8h0M133.0 92.5h0M141.9 92.3h0M131.2 73.5h0M137.2 63.8h0M128.7 89.5h0M149.2 78.6h0M131.3 72.8h0M142.2 90.2h0M151.5 77.9h0M144.9 80.5h0M149.6 88.2h0M136.0 67.2h0M132.8 85.1h0M150.6 77.7h0M125.6 85.1h0M149.4 93.3h0M140.1 70.9h0M124.5 83.7h0M132.2 92.6h0M148.7 92.2h0M146.1 67.3h0M147.5 103.6h0M127.5 81.5h0M126.4 81.9h0M144.6 72.2h0M131.6 93.1h0M147.2 98.4h0M133.6 67.8h0M131.0 81.4h0M152.7 79.9h0M149.3 100.0h0M147.5 90.6h0M136.2 95.5h0M134.6 85.6h0M145.8 70.7h0M133.9 71.9h0M131.0 75.7h0M145.7 104.1h0M132.1 90.8h0M153.1 76.8h0M148.3 99.1h0M152.8 77.1h0M148.5 90.9h0M150.0 89.9h0M132.9 85.9h0M141.6 63.7h0M139.2 99.5h0M151.1 95.0h0M143.3 99.4h0M138.3 89.2h0M151.6 88.1h0M135.4 86.7h0M134.8 80.1h0M152.5 73.0h0M134.6 75.4h0M141.9 91.9h0M136.9 92.9h0M150.4 73.7h0M134.5 87.4h0M150.0 91.4h0M140.8 67.3h0M153.4 82.2h0M134.4 90.3h0M124.5 80.2h0M150.5 84.3h0M147.8 81.4h0M133.5 84.4h0M149.7 78.7h0M149.7 90.8h0M125.8 86.9h0M144.7 73.2h0M147.7 81.6h0M153.8 78.1h0M147.5 106.1h0M140.5 69.3h0M133.7 85.7h0M130.2 76.9h0M143.8 86.4h0M150.0 73.0h0M154.2 88.5h0M144.8 81.4h0M148.0 102.2h0M129.3 71.6h0M137.5 73.2h0M136.1 97.5h0M140.4 68.9h0M137.4 76.5h0M128.8 72.5h0M128.7 88.5h0M134.7 85.1h0M133.7 78.3h0M134.0 69.9h0M141.8 83.4h0M137.9 69.7h0M138.6 95.7h0M132.5 93.1h0M153.5 80.9h0M136.1 94.9h0M139.6 90.0h0M125.2 83.8h0M128.9 79.7h0M145.7 88.4h0M152.4 75.5h0M145.8 85.6h0M134.0 94.2h0M155.4 82.0h0M126.6 81.7h0M135.7 73.9h0M133.6 76.2h0M138.2 90.3h0M140.8 63.2h0M150.8 86.6h0M153.5 97.4h0M130.6 97.2h0M142.5 88.5h0M151.1 103.8h0M145.3 95.1h0M146.1 76.0h0M139.8 84.3h0M149.1 88.2h0M134.9 64.3h0M139.0 71.6h0M151.3 88.3h0M141.1 86.1h0M143.2 94.2h0M127.2 73.0h0M140.0 94.5h0M146.3 103.0h0M136.5 67.4h0M139.8 77.9h0M153.8 73.9h0M137.8 72.3h0M138.3 96.8h0M134.9 66.8h0M141.4 73.1h0M135.6 86.6h0M135.8 74.2h0M131.6 94.3h0M154.8 84.5h0M153.4 86.0h0M153.4 74.4h0M146.6 73.4h0M131.6 86.8h0M133.5 70.8h0M151.5 84.8h0M152.9 99.5h0M132.8 79.0h0M137.3 63.2h0M151.0 96.6h0M148.9 93.2h0M127.2 78.3h0M150.5 92.6h0M145.2 65.6h0M131.2 80.0h0M136.0 90.4h0M126.4 95.2h0M154.1 90.5h0M128.1 82.2h0M129.3 66.6h0M151.4 98.1h0M142.7 92.4h0M137.8 77.9h0M128.0 95.6h0M154.3 97.7h0M129.4 71.6h0M130.1 86.7h0M134.4 68.8h0M148.0 101.7h0M149.6 86.3h0M139.5 94.6h0M125.5 87.2h0M147.8 74.6h0M131.4 91.3h0M126.7 71.2h0M135.4 85.0h0M148.1 107.0h0M140.6 87.2h0M136.8 83.3h0M139.3 79.6h0M143.9 75.9h0M137.3 65.2h0M136.2 84.1h0M136.7 77.2h0M133.6 84.0h0M133.8 75.2h0M132.2 78.1h0M132.6 93.7h0M131.2 95.8h0M143.1 72.0h0M143.8 102.1h0M140.3 78.5h0M131.1 90.1h0M127.1 93.9h0M150.5 85.9h0M140.0 97.4h0M126.6 94.0h0M130.0 94.8h0M147.3 78.3h0M138.8 66.5h0M135.9 69.1h0M124.4 84.9h0M131.5 70.2h0M126.1 91.7h0M150.8 76.9h0M137.8 100.1h0M144.0 79.9h0M151.7 102.7h0M138.6 95.8h0M149.2 75.6h0M136.4 88.2h0M142.0 89.1h0M141.8 66.0h0M136.9 94.0h0M139.9 69.8h0M152.4 80.4h0M141.3 87.3h0M150.4 87.0h0M136.6 92.6h0M127.4 77.5h0M131.3 72.4h0M137.4 85.7h0M153.1 78.5h0M134.6 66.0h0M145.4 76.6h0M147.6 84.7h0M142.6 93.4h0M151.2 95.5h0M151.7 72.8h0M146.0 97.2h0M133.6 83.8h0M145.8 85.8h0M144.4 63.0h0M151.9 90.7h0M153.1 88.1h0M149.5 89.9h0M132.6 79.6h0M133.3 76.1h0M139.7 76.3h0M144.6 68.9h0M130.2 66.0h0M127.5 83.2h0M139.5 72.6h0M129.7 64.9h0M132.2 77.3h0M141.7 75.7h0M147.0 79.2h0M133.2 93.0h0M149.9 76.7h0M128.5 94.5h0M151.9 71.7h0M131.6 84.5h0M145.7 62.1h0M153.8 94.4h0M155.1 93.3h0M128.0 83.9h0M149.7 92.1h0M134.3 79.3h0M142.8 95.5h0M137.0 98.3h0M148.8 68.1h0M149.5 77.7h0M140.8 80.9h0M155.8 75.6h0M144.0 89.6h0M148.1 87.9h0M148.2 70.4h0M147.3 102.1h0M148.9 93.2h0M135.2 70.9h0M153.8 81.6h0M137.1 90.8h0M151.6 88.4h0M124.4 76.3h0M140.6 80.9h0M135.1 70.9h0M130.8 92.0h0M149.8 90.2h0M152.9 88.7h0M130.1 84.0h0M144.2 87.7h0M137.2 86.9h0M151.8 97.8h0M126.6 86.2h0M128.3 90.9h0M132.9 75.9h0M126.5 91.6h0M126.4 94.9h0M146.1 80.5h0M140.6 72.2h0M132.1 83.3h0M142.9 67.8h0M141.4 76.6h0M129.8 71.9h0M122.9 79.4h0M154.3 103.2h0M131.1 89.0h0M137.1 89.6h0M130.1 93.6h0M140.3 88.4h0M138.9 92.0h0M141.1 96.4h0M151.9 77.3h0M150.9 80.2h0M138.0 67.2h0M128.5 89.7h0M152.1 73.0h0M145.4 98.0h0M141.9 94.7h0M142.8 66.6h0M147.8 77.9h0M137.1 66.9h0M141.6 69.7h0M136.3 64.5h0M144.4 67.8h0M142.4 71.3h0M130.5 89.8h0M134.8 90.9h0M148.2 77.6h0M147.6 76.6h0M145.9 100.0h0M146.8 69.2h0M152.3 87.5h0M151.8 89.3h0M142.1 70.9h0M151.1 93.6h0M135.0 72.5h0M140.9 85.2h0M135.5 64.7h0M134.9 91.6h0M127.1 80.8h0M128.1 88.2h0M134.8 74.3h0M151.2 83.4h0M146.8 89.3h0M141.7 74.4h0M134.3 82.2h0M150.9 80.7h0M146.4 88.1h0M144.6 104.6h0M152.1 93.8h0M152.5 77.9h0M147.1 66.8h0M139.9 68.3h0M145.5 87.6h0M126.7 72.5h0M147.9 69.7h0M125.1 89.0h0M150.7 66.1h0M134.9 65.8h0M144.4 78.8h0M130.8 87.1h0M151.5 92.9h0M148.8 80.3h0M143.2 101.6h0M155.1 80.3h0M153.6 83.3h0M130.2 83.7h0M146.3 87.9h0M152.4 77.9h0M144.2 86.0h0M130.1 75.1h0M134.7 84.1h0M133.4 86.4h0M143.0 69.7h0M146.7 100.8h0M142.4 74.1h0M137.8 71.7h0M135.8 86.4h0M130.6 83.7h0M151.9 95.2h0M136.7 82.5h0M135.3 94.9h0M149.6 76.3h0M156.5 86.3h0M138.0 89.4h0M140.2 73.5h0M136.9 68.2h0M127.0 84.6h0M131.8 71.3h0M142.4 79.4h0M141.3 75.6h0M140.4 84.3h0M155.4 76.3h0M125.1 94.1h0M128.5 84.9h0M149.3 100.7h0M128.5 76.8h0M143.9 61.2h0M155.6 92.0h0M143.6 92.0h0M134.4 82.6h0M131.5 76.2h0M129.8 86.2h0M141.1 103.8h0M134.8 92.0h0M146.9 75.7h0M150.9 77.0h0M134.9 86.9h0M148.4 83.5h0M141.6 71.2h0M124.5 85.3h0M151.9 78.9h0M136.0 84.7h0M147.3 99.3h0M147.1 93.2h0M129.8 82.5h0M132.3 67.9h0M145.7 93.9h0M130.8 67.1h0M140.2 65.4h0M131.5 67.8h0M147.5 94.7h0M138.8 79.0h0M131.1 87.9h0M130.5 76.8h0M131.9 85.5h0M150.4 94.0h0M143.6 88.5h0M151.7 82.8h0M132.3 89.1h0M134.1 67.3h0M142.1 68.3h0M138.6 82.4h0M137.1 68.6h0M126.8 74.9h0M125.3 79.8h0M133.7 91.6h0M146.6 77.7h0M144.8 96.0h0M136.3 65.2h0M130.9 95.0h0M152.4 94.2h0M147.2 90.4h0M147.0 103.1h0M145.9 84.7h0M133.9 78.7h0M127.5 69.1h0M136.9 89.2h0M132.8 87.9h0M134.7 81.8h0M138.5 89.4h0M131.4 74.2h0M155.4 93.9h0M143.6 67.8h0M140.4 73.0h0M152.4 84.8h0M139.6 87.2h0M132.6 91.6h0M127.2 72.1h0M126.7 87.9h0M150.3 88.9h0M139.1 95.8h0M150.1 102.7h0M145.7 96.9h0M148.6 76.8h0M137.8 91.2h0M128.5 90.9h0M144.4 93.1h0M144.0 96.0h0M135.6 68.3h0" stroke="#E6325F" stroke-width="1.0" stroke-linecap="square" fill="none" opacity="1"/>
<path d="M141.8 67.7h0M127.6 91.0h0M144.9 64.8h0M130.5 78.9h0M137.1 98.1h0M144.1 98.9h0M151.6 77.9h0M150.6 77.3h0M134.7 81.4h0M146.8 68.1h0M152.6 93.9h0M143.6 67.6h0M126.0 86.3h0M125.8 81.6h0M137.9 76.4h0M149.5 82.8h0M148.1 98.3h0M125.3 89.6h0M141.0 98.5h0M150.3 103.0h0M149.9 96.2h0M136.2 66.8h0M137.8 67.0h0M148.3 78.9h0M153.0 96.0h0M132.6 87.3h0M129.6 67.5h0M133.8 96.8h0M138.3 65.7h0M143.2 73.3h0M152.4 79.9h0M132.0 94.1h0M154.3 86.7h0M147.3 67.1h0M128.9 91.0h0M154.5 74.6h0M150.1 77.5h0M143.6 80.2h0M129.8 89.9h0M150.3 93.1h0M131.2 67.3h0M139.9 67.9h0M156.1 83.6h0M143.8 92.1h0M126.2 72.4h0M131.6 67.0h0M152.0 87.9h0M144.2 91.1h0M132.2 85.3h0M152.0 84.5h0M148.3 69.3h0M124.6 84.8h0M138.4 97.7h0M142.2 86.1h0M145.2 73.0h0M145.4 97.7h0M138.2 98.1h0M135.1 67.8h0M149.4 93.6h0M141.0 74.4h0M151.3 77.5h0M141.6 75.2h0M133.0 76.7h0M154.0 87.9h0M125.6 89.2h0M154.6 84.5h0M132.4 84.7h0M135.2 84.0h0M141.4 79.6h0M126.7 93.3h0M134.7 94.5h0M145.9 100.9h0M130.5 77.1h0M135.5 73.2h0M136.3 80.7h0M130.3 82.1h0M129.0 76.5h0M142.1 99.2h0M134.0 90.8h0M135.0 95.9h0M136.5 77.7h0M145.5 99.0h0M148.9 96.7h0M136.7 70.0h0M138.3 70.4h0M125.8 76.9h0M141.7 75.7h0M139.3 75.5h0M151.3 71.6h0M156.3 80.7h0M128.7 68.2h0M148.5 75.1h0M150.1 73.3h0M144.0 87.6h0M152.8 84.4h0M147.2 97.4h0M147.1 85.6h0M148.7 78.0h0M126.3 83.2h0M136.5 95.5h0M151.7 72.5h0M134.8 69.4h0M130.6 79.5h0M146.5 104.9h0M132.9 64.7h0M154.4 75.0h0M139.3 96.6h0M150.5 88.7h0M142.0 76.3h0M132.2 71.4h0M152.4 70.4h0M152.4 89.8h0M127.6 87.3h0M131.8 77.0h0M134.7 86.6h0M141.2 91.9h0M138.4 72.4h0M145.8 67.9h0M137.0 97.7h0M149.2 92.2h0M147.9 89.9h0M130.0 83.8h0M134.6 97.3h0M146.5 66.5h0M144.0 102.9h0M125.3 91.9h0M126.3 77.8h0M127.5 72.6h0M143.3 77.4h0M128.2 67.9h0M154.9 75.9h0M151.5 100.3h0M138.1 77.9h0M127.0 88.6h0M154.0 92.1h0M129.7 70.8h0M148.2 75.7h0M147.2 77.3h0M148.4 75.9h0M141.5 76.0h0M130.9 86.9h0M129.4 88.3h0M139.9 70.8h0M141.4 97.3h0M130.5 75.5h0M127.9 74.4h0M153.8 88.7h0M134.4 79.3h0M139.1 77.6h0M140.1 98.8h0M148.7 92.6h0M149.8 103.0h0M131.2 80.2h0M141.7 68.8h0M136.9 97.8h0M144.3 87.7h0M133.0 68.2h0M130.5 78.4h0M144.4 103.8h0M139.5 90.8h0M146.0 81.6h0M124.7 81.5h0M136.1 65.4h0M145.1 104.7h0M142.2 64.1h0M147.0 77.7h0M125.9 85.9h0M143.5 99.1h0M141.9 67.6h0M125.9 89.9h0M131.5 86.5h0M153.8 85.5h0M128.3 91.1h0M126.3 75.2h0M149.0 86.2h0M142.6 69.8h0M145.8 68.0h0M154.1 82.1h0M137.4 92.2h0M142.2 98.2h0M134.6 83.1h0M145.1 95.4h0M136.7 68.2h0M132.1 65.3h0M146.1 68.5h0M126.5 88.8h0M152.4 80.5h0M147.5 87.1h0M136.3 76.9h0M140.8 84.5h0M138.9 70.8h0M137.5 91.5h0M148.4 68.5h0M130.2 70.8h0M140.3 84.2h0M140.4 81.5h0M134.6 93.7h0M137.3 75.7h0M149.3 102.1h0M152.3 102.8h0M139.7 69.8h0M150.9 88.3h0M137.4 79.5h0M149.9 77.2h0M142.9 64.6h0M140.0 73.4h0M138.6 95.9h0M146.5 69.5h0M144.9 79.9h0M136.0 69.3h0M148.4 101.3h0M124.7 87.8h0M133.4 75.0h0M138.5 96.6h0M149.2 82.1h0M155.7 79.3h0M144.4 83.9h0M139.1 76.0h0M144.6 87.1h0M135.9 73.3h0M130.6 67.1h0M126.1 82.6h0M149.5 97.3h0M141.6 80.9h0M134.9 65.4h0M141.8 67.2h0M135.5 70.8h0M130.9 78.3h0M136.8 70.1h0M126.0 83.6h0M140.1 76.7h0M152.1 103.5h0M142.8 77.9h0M148.8 69.5h0M132.9 96.3h0M149.1 90.1h0M126.7 85.3h0M140.0 68.4h0M131.0 83.4h0M147.3 89.1h0M140.1 92.8h0M133.9 80.7h0M140.5 72.0h0M124.9 88.3h0M145.7 96.1h0M132.6 90.4h0M132.1 86.4h0M128.9 88.2h0M134.0 93.5h0M143.1 98.6h0M150.3 76.4h0M134.6 92.8h0M141.3 71.8h0M150.0 100.8h0M153.2 86.4h0M141.9 89.8h0M130.6 93.3h0M148.3 86.3h0M134.1 79.3h0M134.9 71.5h0M126.0 82.5h0M127.9 73.5h0M140.2 98.7h0M133.6 87.1h0M141.5 69.0h0M152.1 73.7h0M139.8 73.0h0M128.5 89.9h0M131.3 67.4h0M148.3 76.9h0M141.6 66.1h0M147.6 66.6h0M126.7 85.4h0M147.0 87.6h0M130.7 86.0h0M130.2 87.6h0M126.4 84.8h0M144.6 70.4h0M131.3 94.8h0M147.4 80.0h0M137.9 94.7h0M132.9 83.6h0M153.4 97.0h0M154.9 75.3h0M139.1 95.0h0M151.2 76.1h0M149.6 92.8h0M126.6 78.3h0M135.6 93.4h0M147.8 75.6h0M135.8 64.5h0M126.3 88.3h0M151.9 99.5h0M142.8 101.1h0M145.5 75.8h0M140.5 75.8h0M138.5 85.6h0M143.6 70.1h0M154.9 79.7h0M144.9 78.1h0M133.0 67.0h0M132.9 91.6h0M140.6 81.5h0M129.7 75.6h0M127.3 88.5h0M142.1 64.2h0M149.2 85.8h0M151.6 78.5h0M145.8 75.7h0M131.5 78.3h0M139.8 78.2h0M133.8 79.8h0M135.8 83.0h0M151.9 83.4h0M151.6 92.3h0M134.6 89.6h0M145.0 78.7h0M133.3 86.1h0M142.1 99.8h0M128.4 70.9h0M149.7 71.9h0M132.1 81.4h0M140.7 68.4h0M132.6 69.3h0M150.0 85.1h0M144.3 68.0h0M141.9 75.0h0M143.2 65.5h0M146.2 86.6h0M140.5 92.1h0M134.0 96.4h0M143.2 98.7h0M147.3 98.5h0M134.0 67.1h0M151.6 95.7h0M140.6 66.3h0M126.2 76.8h0M148.3 92.0h0M127.8 69.7h0M150.2 89.2h0M137.0 81.4h0M143.6 90.4h0M149.1 88.6h0M144.8 89.3h0M138.9 80.1h0M134.0 80.4h0M148.3 93.9h0M153.6 95.0h0M141.7 74.6h0M142.6 89.2h0M139.2 89.8h0M154.8 91.2h0M145.3 101.9h0M134.8 89.8h0M142.3 91.1h0M139.2 90.5h0M141.5 89.8h0M143.0 79.8h0M125.7 79.5h0M126.1 82.0h0M137.1 73.8h0M154.7 93.0h0M142.7 70.0h0M145.9 85.0h0M128.1 87.6h0M133.8 96.4h0M144.8 70.0h0M136.2 84.4h0M140.6 98.4h0M133.0 91.5h0M145.4 82.7h0M152.6 84.6h0M133.4 93.8h0M131.0 82.3h0M127.0 92.6h0M130.9 89.9h0M144.4 80.9h0M131.8 71.8h0M129.0 81.7h0M133.4 90.2h0M128.0 78.3h0M140.7 89.6h0M141.5 90.8h0M135.5 64.1h0M137.0 89.7h0M130.5 95.7h0M134.4 86.5h0M146.7 86.8h0M149.1 67.1h0M132.5 95.8h0M125.4 92.1h0M141.1 97.2h0M142.2 74.9h0M141.8 64.0h0M140.4 94.2h0M139.9 95.4h0M138.6 66.1h0M125.3 77.4h0M129.5 76.7h0M131.6 75.6h0M129.8 72.0h0M139.6 67.8h0M147.2 73.9h0M135.1 69.3h0M150.0 68.6h0M150.4 80.5h0M137.3 79.6h0M134.9 86.1h0M137.0 93.3h0M131.6 72.2h0M152.2 102.3h0M147.8 90.6h0M125.7 90.3h0M148.6 84.3h0M131.2 69.7h0M131.0 94.6h0M155.4 78.6h0M153.5 99.7h0M141.3 65.5h0M144.5 65.4h0" stroke="#fff" stroke-width="0.9" stroke-linecap="square" fill="none" opacity="1"/>
<polygon points="155.1,73.9 159.3,66.2 162.1,58.7 166.8,55.2 173.8,57.6 178.5,65.7 180.8,75.1 176.1,84.4 169.1,89.1 171.5,97.3 169.1,101.9 162.1,100.8 159.8,97.3 164.5,91.4 166.8,84.4 164.5,77.4 159.8,79.7 156.3,82.1" fill="#E6325F" opacity="1"/>
<path d="M172.2 84.1h0M172.0 56.6h0M176.4 60.6h0M164.0 66.2h0M164.4 61.4h0M159.6 75.1h0M158.5 78.6h0M161.6 72.8h0M165.5 60.9h0M166.5 77.6h0M168.4 83.9h0M175.8 70.2h0M170.1 58.7h0M171.1 70.0h0M172.2 76.6h0M165.4 56.9h0M159.0 68.2h0M166.1 60.5h0M173.6 97.7h0M172.3 80.1h0M174.8 80.3h0M172.4 68.0h0M159.0 67.4h0M165.8 79.5h0M154.3 74.6h0M178.1 75.1h0M168.4 66.6h0M157.6 74.5h0M167.5 57.5h0M172.7 57.1h0M174.0 67.8h0M164.7 80.8h0M166.2 61.7h0M167.5 60.8h0M169.2 81.3h0M163.3 97.0h0M170.5 72.1h0M160.3 99.8h0M163.3 61.7h0M166.1 98.3h0M171.8 70.4h0M163.2 66.9h0M174.8 82.5h0M172.2 70.1h0M175.6 60.8h0M166.6 59.9h0M162.6 96.9h0M175.4 79.5h0M171.6 63.2h0M160.7 68.9h0M176.3 79.2h0M167.1 83.9h0M170.9 58.6h0M168.9 82.1h0M174.6 64.0h0M158.6 72.9h0M175.0 78.9h0M174.1 56.9h0M165.6 60.6h0M163.6 62.2h0M173.8 59.1h0M167.4 83.5h0M165.8 97.2h0M165.8 56.2h0M164.6 58.0h0M175.8 68.5h0M169.3 60.5h0M165.1 76.3h0M168.7 77.3h0M176.5 80.1h0M172.3 60.9h0M162.5 60.4h0M156.7 78.6h0M154.6 71.2h0M166.0 79.7h0M176.6 78.3h0M177.5 71.7h0M176.1 85.7h0M168.5 92.8h0M161.7 93.9h0M164.6 73.3h0M160.3 76.5h0M163.9 72.9h0M170.1 65.7h0M158.4 79.3h0M174.7 73.5h0M169.6 83.7h0M169.9 67.1h0M167.5 67.7h0M170.2 69.8h0M166.3 100.4h0M165.2 72.4h0M159.5 78.9h0M160.4 72.4h0M177.7 67.8h0M169.2 97.5h0M180.2 74.3h0M169.9 72.8h0M169.9 99.8h0M175.3 76.0h0M174.6 68.5h0M166.2 78.9h0M157.4 75.1h0M176.1 73.9h0M170.3 73.3h0M163.3 74.2h0M171.0 63.3h0M178.7 73.3h0M171.4 58.0h0M172.9 72.4h0M164.4 99.3h0M170.0 79.7h0M176.0 80.1h0M162.0 74.6h0M168.9 71.5h0M162.2 60.6h0M165.9 97.5h0M170.3 74.7h0M171.1 86.5h0M172.3 61.9h0M178.2 73.8h0M165.8 74.0h0M169.6 96.8h0M174.1 64.1h0M174.0 65.4h0M167.6 57.9h0M157.4 72.8h0M164.4 93.1h0M172.2 76.0h0M170.0 58.6h0M164.1 71.8h0M165.8 74.9h0M167.2 59.8h0M178.4 70.8h0M161.6 74.7h0M164.7 61.1h0M163.6 61.2h0M162.9 59.7h0M171.8 57.1h0M169.2 69.9h0M157.4 68.7h0M168.4 88.1h0M165.3 83.6h0M154.9 80.3h0M163.6 71.2h0M173.1 64.9h0M179.0 73.8h0M168.6 98.4h0M165.4 60.9h0M168.3 84.4h0M170.4 80.0h0M167.4 54.3h0M173.7 66.2h0M174.4 70.0h0M166.4 91.8h0M159.9 78.5h0M157.9 82.5h0M168.1 75.4h0M170.5 69.0h0M167.7 80.9h0M176.0 67.0h0M168.0 59.8h0M172.9 76.7h0M156.9 73.1h0M172.8 87.5h0M159.5 98.8h0M163.2 67.2h0M162.0 78.6h0M170.3 98.9h0M166.1 95.4h0M181.5 76.9h0M178.7 73.0h0M165.4 75.7h0M166.7 68.9h0M170.7 69.8h0M175.5 65.3h0M162.2 66.6h0M175.3 67.3h0M168.6 95.9h0M161.4 95.9h0M167.1 75.7h0M159.4 73.8h0M167.3 67.1h0M163.4 75.6h0M174.8 80.5h0M164.8 59.1h0M167.6 71.5h0M165.7 69.8h0M168.3 66.8h0M165.0 78.2h0M178.0 75.1h0M170.5 71.0h0M170.1 78.3h0M174.6 65.2h0M166.0 93.9h0M159.0 78.2h0M166.1 96.0h0M170.9 71.4h0M170.1 68.2h0M167.6 100.0h0M171.1 79.6h0M170.4 87.4h0M167.9 97.7h0M173.3 79.2h0M161.0 73.5h0M180.8 74.9h0M164.8 78.4h0M164.5 71.2h0M164.8 73.5h0M170.3 94.3h0M170.6 68.3h0M173.2 64.6h0M170.2 67.2h0M174.1 74.0h0M176.4 81.1h0M159.0 75.1h0M167.3 71.2h0M175.3 71.1h0M163.7 62.4h0M161.8 95.1h0M171.5 69.9h0M179.3 67.5h0M166.5 90.3h0M166.0 93.3h0M164.3 100.1h0M173.6 71.3h0M159.2 72.6h0M171.1 83.8h0M165.1 61.7h0M166.2 80.1h0M180.2 73.7h0M161.7 75.9h0M168.3 64.7h0M163.5 68.6h0M173.5 74.6h0M158.6 71.8h0M168.8 99.1h0M167.5 61.8h0M156.0 78.1h0M177.7 77.9h0M157.1 75.4h0M169.1 77.5h0M168.8 63.5h0M173.5 79.3h0M171.3 65.1h0M162.6 79.5h0M160.0 61.0h0M160.7 96.9h0M173.3 63.9h0M167.5 87.6h0M160.7 64.9h0M163.3 61.9h0M174.8 75.0h0M172.3 76.7h0M170.1 82.5h0M162.2 95.9h0M171.0 56.2h0M158.0 80.6h0M163.8 64.3h0M170.5 58.4h0M176.5 82.9h0M170.7 55.7h0M167.5 64.8h0M178.1 69.3h0M175.1 62.8h0M176.1 84.2h0M173.2 62.4h0M167.8 65.0h0M164.7 67.5h0M167.9 55.5h0M166.2 77.3h0M174.6 73.5h0M166.2 72.5h0M168.4 63.1h0M161.8 74.6h0M165.9 87.7h0M176.0 70.1h0M156.2 74.6h0M167.7 83.2h0M169.4 66.0h0M173.8 80.5h0M171.9 62.7h0M162.5 61.5h0M168.3 91.6h0M171.2 60.4h0M164.6 96.8h0M163.9 78.6h0M172.6 65.9h0M165.4 83.9h0M171.2 93.2h0M176.4 74.2h0M180.0 69.1h0M170.1 84.0h0M164.4 64.9h0M164.9 93.4h0M160.5 96.7h0M160.7 72.1h0M161.4 78.9h0M166.1 76.0h0M163.7 66.0h0M159.5 78.0h0M169.6 75.0h0M166.2 61.5h0M160.2 69.5h0M173.0 75.0h0M178.7 74.4h0M171.3 85.2h0M166.5 89.8h0M176.3 75.0h0M163.5 67.0h0M177.4 67.1h0M163.1 63.0h0M170.2 79.9h0M167.9 65.5h0M174.6 61.5h0M166.9 96.6h0M170.2 69.8h0M161.1 66.2h0M160.2 73.6h0M164.6 68.5h0M175.4 74.5h0M159.9 78.8h0M169.9 58.3h0M162.5 63.7h0M166.9 57.2h0M174.0 83.9h0M168.7 56.0h0M164.4 74.9h0M176.3 67.8h0M175.9 67.7h0M169.8 72.6h0M170.6 60.1h0M163.5 60.2h0M168.4 97.4h0M170.4 88.2h0M174.5 64.0h0M172.7 76.2h0M164.2 61.9h0M169.4 76.8h0M165.8 94.3h0M161.3 74.2h0M170.8 73.7h0M160.4 75.8h0M155.2 78.1h0M166.1 81.1h0M167.0 69.7h0M175.8 82.9h0M163.2 68.4h0M169.2 75.8h0M171.6 92.8h0M160.2 71.0h0M174.1 59.9h0M163.2 63.4h0M164.8 93.5h0M169.6 70.2h0M171.8 69.5h0M165.3 65.5h0M167.9 69.9h0M177.4 70.5h0M165.5 72.2h0M161.6 66.9h0M177.4 71.6h0M162.9 98.9h0M164.3 70.1h0M180.0 74.9h0M172.6 83.6h0M169.2 73.2h0M166.6 94.3h0M165.9 96.0h0M169.4 96.2h0M174.2 78.4h0M170.5 69.4h0M160.5 64.8h0M173.9 63.4h0M169.2 91.0h0M164.4 95.5h0M180.0 75.1h0M163.4 63.1h0M159.7 96.0h0M173.7 83.9h0M169.2 77.5h0M171.8 101.0h0M163.0 68.4h0M173.0 69.6h0M158.8 76.9h0M165.7 74.9h0M166.2 65.4h0M169.7 95.0h0M172.1 83.2h0M177.4 79.6h0M173.8 77.0h0M179.1 75.9h0M171.5 63.4h0M159.0 77.2h0M158.4 80.4h0M180.0 66.5h0M167.0 70.9h0M152.8 74.1h0M163.3 59.8h0M161.9 71.5h0M169.7 94.2h0M168.7 92.1h0M164.2 77.5h0M169.2 66.0h0M180.8 77.5h0M169.2 69.1h0M179.1 78.3h0M162.3 98.7h0M158.4 72.4h0M156.5 73.1h0M171.4 77.9h0M163.0 60.4h0M157.9 82.3h0M165.3 66.6h0M166.7 94.0h0M166.7 97.6h0M160.4 67.3h0M172.9 62.5h0M169.1 97.7h0M161.2 97.2h0M169.6 57.8h0M166.5 93.2h0M165.2 72.9h0M168.4 103.7h0M166.5 89.4h0M170.9 79.1h0M167.9 57.8h0M173.8 66.4h0M174.1 74.7h0M165.9 65.8h0M174.9 76.0h0M164.5 93.2h0M176.1 64.9h0M163.9 69.0h0M171.1 86.5h0M169.3 74.5h0M167.1 78.1h0M170.3 77.2h0M173.0 62.6h0M173.2 70.2h0M179.8 75.7h0M172.9 58.7h0M173.6 84.6h0M163.9 65.5h0M163.1 65.7h0M174.7 70.0h0M169.0 61.2h0M155.9 74.1h0M180.8 74.6h0M163.8 99.7h0" stroke="#E6325F" stroke-width="1.0" stroke-linecap="square" fill="none" opacity="1"/>
<path d="M169.7 73.3h0M161.8 78.3h0M169.3 91.1h0M160.5 71.3h0M173.6 70.8h0M174.2 70.1h0M171.7 59.1h0M177.4 77.1h0M167.4 80.5h0M158.6 80.3h0M158.8 75.8h0M159.5 66.1h0M174.1 83.6h0M167.1 71.2h0M174.1 81.2h0M175.1 77.2h0M172.4 66.4h0M172.9 85.4h0M162.7 65.3h0M164.0 70.8h0M172.0 60.8h0M164.1 59.3h0M166.6 71.0h0M170.0 76.4h0M170.6 66.9h0M170.5 81.5h0M176.4 62.4h0M168.5 76.4h0M165.6 64.4h0M157.4 79.6h0M165.9 91.0h0M162.0 62.9h0M162.8 76.5h0M169.6 100.0h0M157.6 74.7h0M167.5 90.5h0M165.8 95.1h0M168.4 92.4h0M160.8 71.5h0M164.7 75.0h0M172.7 57.7h0M158.7 79.9h0M168.4 70.9h0M165.6 96.6h0M168.9 70.8h0M159.3 79.3h0M162.7 72.0h0M167.0 62.1h0M159.6 74.5h0M166.5 80.1h0M164.0 61.9h0M167.8 71.8h0M159.0 75.2h0M177.1 64.9h0M173.0 70.6h0M177.0 72.7h0M170.1 67.6h0M178.0 77.3h0M167.9 59.4h0M156.7 80.3h0M175.0 83.4h0M165.5 95.6h0M162.0 72.5h0M172.0 67.6h0M169.1 75.7h0M168.2 90.4h0M169.6 59.8h0M168.1 76.0h0M173.1 83.3h0M171.7 67.2h0M178.8 75.5h0M166.4 74.6h0M172.8 80.8h0M174.3 64.6h0M169.1 83.1h0M159.5 71.6h0M171.3 67.2h0M169.3 70.5h0M173.8 84.8h0M165.3 90.2h0M174.5 68.0h0M173.0 68.7h0M169.7 72.5h0M170.5 97.0h0M172.7 85.6h0M164.7 77.2h0M173.7 75.9h0M170.7 77.9h0M159.3 68.2h0M175.7 84.3h0M174.7 71.5h0M173.5 59.2h0M166.3 75.8h0M167.3 60.6h0M166.5 57.1h0M163.2 58.0h0M159.9 75.5h0M177.9 65.7h0M174.4 66.6h0M172.4 83.2h0M167.3 77.2h0M171.3 76.7h0M167.3 59.3h0M162.8 64.0h0M161.4 99.0h0M162.5 62.0h0M167.1 68.3h0M171.9 62.0h0M165.7 60.5h0M175.5 84.0h0M175.3 64.7h0M156.7 79.4h0M165.5 73.7h0M169.7 59.4h0M167.7 64.8h0M173.9 64.5h0M170.6 57.4h0M172.8 82.7h0M164.8 99.7h0M175.6 81.1h0M170.3 62.2h0M170.4 74.4h0M167.6 71.8h0M173.9 67.5h0M160.9 65.7h0M175.4 68.6h0M172.9 71.4h0M175.8 62.7h0M175.2 75.1h0M165.3 99.3h0M166.1 73.8h0M176.4 64.5h0M171.9 56.7h0M161.0 73.5h0M168.5 77.4h0M159.4 78.2h0M169.1 56.3h0M173.7 77.0h0M164.5 75.1h0M174.3 77.5h0M173.1 78.9h0M159.2 72.5h0M167.4 78.1h0M166.0 61.8h0M171.3 59.1h0M169.9 95.4h0M168.7 73.0h0M162.2 75.4h0M167.7 96.3h0M168.5 74.9h0M168.4 67.9h0M163.7 63.8h0M171.0 85.6h0M168.2 69.6h0M166.7 82.4h0M173.1 85.0h0M163.5 70.0h0M165.6 60.9h0M174.4 68.5h0M161.9 64.4h0M169.2 76.5h0M169.6 92.0h0M170.3 86.9h0M167.3 61.1h0M167.6 57.1h0M171.0 72.2h0M175.6 70.1h0M170.9 84.3h0M166.6 65.8h0M172.8 74.8h0M168.7 71.2h0M165.5 78.2h0M168.7 70.8h0M157.0 75.5h0M158.6 79.3h0M174.5 71.8h0M171.4 61.4h0M177.6 74.4h0M163.0 60.9h0M171.2 60.5h0M178.2 69.5h0M164.6 59.4h0M162.3 99.2h0M168.3 57.7h0M167.2 96.8h0M168.1 71.9h0M160.8 97.7h0M168.5 95.5h0M170.3 62.5h0M168.8 68.4h0M173.8 71.8h0M161.4 78.7h0M172.8 63.1h0M169.9 96.3h0M167.5 93.0h0M170.3 69.3h0M158.9 69.5h0M178.6 76.5h0M173.2 73.4h0M171.5 61.4h0M162.5 99.4h0M169.9 83.5h0M172.7 68.3h0M162.0 70.4h0M169.2 75.7h0M163.4 92.6h0M175.7 79.8h0M168.7 91.2h0M162.9 64.4h0M177.0 82.1h0M165.1 59.8h0M165.6 57.9h0M170.9 78.5h0M179.5 72.3h0M170.1 75.9h0M167.6 101.0h0M175.2 72.5h0M173.4 61.0h0M174.9 78.2h0M169.7 65.8h0M167.0 57.9h0M168.8 87.2h0M174.7 72.4h0M164.4 77.5h0M167.7 87.7h0M175.7 75.7h0M174.5 77.4h0M163.4 72.8h0M164.1 99.2h0M164.6 95.0h0M174.7 82.4h0M167.3 75.6h0M175.3 60.9h0M167.0 70.6h0M178.3 72.6h0M176.4 75.4h0M164.0 71.9h0M156.5 77.8h0M170.1 84.8h0M169.7 65.8h0M166.0 89.8h0M167.5 62.0h0M160.7 78.4h0M171.8 57.8h0M169.9 74.7h0M172.4 60.9h0M167.4 62.4h0M176.9 72.0h0M164.0 67.0h0M172.4 81.9h0M168.8 62.6h0M175.5 73.7h0M168.8 82.7h0M174.0 76.9h0M162.0 67.4h0M173.6 81.6h0M157.5 78.0h0M168.0 81.5h0M161.3 73.9h0M156.0 79.9h0" stroke="#fff" stroke-width="0.9" stroke-linecap="square" fill="none" opacity="1"/>
<path d="M106.8 29.1h0M95.6 49.4h0M85.0 102.6h0M137.6 93.1h0M131.8 72.7h0" stroke="#E6325F" stroke-width="0.9" stroke-linecap="round" fill="none" opacity="1"/>
<path d="M74.5 85.6h0M80.4 79.7h0M78.0 62.2h0M128.3 94.5h0" stroke="#4FA3C7" stroke-width="0.9" stroke-linecap="round" fill="none" opacity="1"/>
<path d="M130.6 70.4h0M136.9 92.6h0M143.4 100.8h0M127.1 75.1h0" stroke="#A89B54" stroke-width="0.9" stroke-linecap="round" fill="none" opacity="1"/>
<circle cx="137.00" cy="8.20" r="2.40" fill="#4FA3C7" stroke="none" stroke-width="0" />
<text x="146" y="10.7" font-size="7.2" text-anchor="start" font-weight="normal" font-style="normal" fill="#000" >Macro_C1qa</text>
<circle cx="137.00" cy="17.50" r="2.40" fill="#A89B54" stroke="none" stroke-width="0" />
<text x="146" y="20.0" font-size="7.2" text-anchor="start" font-weight="normal" font-style="normal" fill="#000" >Macro_C3</text>
<circle cx="137.00" cy="26.80" r="2.40" fill="#E6325F" stroke="none" stroke-width="0" />
<text x="146" y="29.3" font-size="7.2" text-anchor="start" font-weight="normal" font-style="normal" fill="#000" >Macro_H2−Aa</text>
<line x1="62" y1="131.3" x2="62" y2="94" stroke="#000" stroke-width="0.8" />
<line x1="61.6" y1="131" x2="99" y2="131" stroke="#000" stroke-width="0.8" />
<polygon points="62,90.5 59.8,96 64.2,96" fill="#000"/>
<polygon points="102.5,131 97,128.8 97,133.2" fill="#000"/>
<text x="56.8" y="112.5" font-size="7.9" text-anchor="middle" font-weight="normal" font-style="normal" fill="#000" transform="rotate(-90 56.8 112.5)" >UMAP2</text>
<text x="77.5" y="143.8" font-size="7.9" text-anchor="middle" font-weight="normal" font-style="normal" fill="#000" >UMAP1</text>
<rect x="243.50" y="3.40" width="75.90" height="112.00" fill="none" stroke="#333" stroke-width="0.6" />
<rect x="248.30" y="83.48" width="19.20" height="26.62" fill="#E6325F" stroke="none" stroke-width="0" />
<rect x="248.30" y="18.05" width="19.20" height="65.43" fill="#A89B54" stroke="none" stroke-width="0" />
<rect x="248.30" y="8.50" width="19.20" height="9.55" fill="#4FA3C7" stroke="none" stroke-width="0" />
<rect x="272.00" y="83.89" width="19.20" height="26.21" fill="#E6325F" stroke="none" stroke-width="0" />
<rect x="272.00" y="21.81" width="19.20" height="62.08" fill="#A89B54" stroke="none" stroke-width="0" />
<rect x="272.00" y="8.50" width="19.20" height="13.31" fill="#4FA3C7" stroke="none" stroke-width="0" />
<rect x="295.80" y="66.82" width="19.20" height="43.28" fill="#E6325F" stroke="none" stroke-width="0" />
<rect x="295.80" y="13.28" width="19.20" height="53.54" fill="#A89B54" stroke="none" stroke-width="0" />
<rect x="295.80" y="8.50" width="19.20" height="4.78" fill="#4FA3C7" stroke="none" stroke-width="0" />
<line x1="241.7" y1="8.5" x2="243.5" y2="8.5" stroke="#333" stroke-width="0.5" />
<text x="238.3" y="10.8" font-size="6.5" text-anchor="end" font-weight="normal" font-style="normal" fill="#000" >1.00</text>
<line x1="241.7" y1="33.900000000000006" x2="243.5" y2="33.900000000000006" stroke="#333" stroke-width="0.5" />
<text x="238.3" y="36.2" font-size="6.5" text-anchor="end" font-weight="normal" font-style="normal" fill="#000" >0.75</text>
<line x1="241.7" y1="59.3" x2="243.5" y2="59.3" stroke="#333" stroke-width="0.5" />
<text x="238.3" y="61.599999999999994" font-size="6.5" text-anchor="end" font-weight="normal" font-style="normal" fill="#000" >0.50</text>
<line x1="241.7" y1="84.69999999999999" x2="243.5" y2="84.69999999999999" stroke="#333" stroke-width="0.5" />
<text x="238.3" y="86.99999999999999" font-size="6.5" text-anchor="end" font-weight="normal" font-style="normal" fill="#000" >0.25</text>
<line x1="241.7" y1="110.1" x2="243.5" y2="110.1" stroke="#333" stroke-width="0.5" />
<text x="238.3" y="112.39999999999999" font-size="6.5" text-anchor="end" font-weight="normal" font-style="normal" fill="#000" >0.00</text>
<text x="218" y="53.2" font-size="8.0" text-anchor="middle" font-weight="normal" font-style="normal" fill="#000" transform="rotate(-90 218 53.2)" >Cell proportion</text>
<line x1="257.90000000000003" y1="115.4" x2="257.90000000000003" y2="117.2" stroke="#333" stroke-width="0.5" />
<line x1="281.6" y1="115.4" x2="281.6" y2="117.2" stroke="#333" stroke-width="0.5" />
<line x1="305.40000000000003" y1="115.4" x2="305.40000000000003" y2="117.2" stroke="#333" stroke-width="0.5" />
<text x="261.6" y="122.9" font-size="7.8" text-anchor="end" font-weight="normal" font-style="normal" fill="#000" transform="rotate(-45 261.6 122.9)" >Con</text>
<text x="291" y="122.9" font-size="7.8" text-anchor="end" font-weight="normal" font-style="normal" fill="#000" transform="rotate(-45 291 122.9)" >MHC II<tspan dy="-2.5" font-size="5">-</tspan><tspan dy="2.5"> CAFs</tspan></text>
<text x="315.6" y="122.5" font-size="7.8" text-anchor="end" font-weight="normal" font-style="normal" fill="#000" transform="rotate(-45 315.6 122.5)" >apCAFs</text>
<text x="378" y="15" font-size="15.5" text-anchor="start" font-weight="bold" font-style="normal" fill="#000" >B</text>
<line x1="476.8" y1="7" x2="476.8" y2="105.3" stroke="#222" stroke-width="0.7" />
<line x1="476.5" y1="105" x2="590.5" y2="105" stroke="#222" stroke-width="0.7" />
<line x1="475.0" y1="25" x2="476.8" y2="25" stroke="#222" stroke-width="0.6" />
<circle cx="483.90" cy="25.00" r="4.80" fill="#fde725" stroke="none" stroke-width="0" />
<circle cx="496.55" cy="25.00" r="4.60" fill="#b0dc2f" stroke="none" stroke-width="0" />
<circle cx="509.20" cy="25.00" r="4.60" fill="#bdde2d" stroke="none" stroke-width="0" />
<circle cx="521.85" cy="25.00" r="0.60" fill="#3f4384" stroke="none" stroke-width="0" />
<circle cx="534.50" cy="25.00" r="0.60" fill="#355e8c" stroke="none" stroke-width="0" />
<circle cx="547.15" cy="25.00" r="1.00" fill="#37598b" stroke="none" stroke-width="0" />
<circle cx="559.80" cy="25.00" r="0.50" fill="#355e8c" stroke="none" stroke-width="0" />
<circle cx="572.45" cy="25.00" r="0.50" fill="#355e8c" stroke="none" stroke-width="0" />
<circle cx="585.10" cy="25.00" r="0.50" fill="#355e8c" stroke="none" stroke-width="0" />
<line x1="475.0" y1="56.2" x2="476.8" y2="56.2" stroke="#222" stroke-width="0.6" />
<circle cx="483.90" cy="56.20" r="4.30" fill="#29788d" stroke="none" stroke-width="0" />
<circle cx="496.55" cy="56.20" r="4.80" fill="#27ac80" stroke="none" stroke-width="0" />
<circle cx="509.20" cy="56.20" r="4.60" fill="#25a384" stroke="none" stroke-width="0" />
<circle cx="521.85" cy="56.20" r="3.20" fill="#c9df2c" stroke="none" stroke-width="0" />
<circle cx="534.50" cy="56.20" r="3.20" fill="#fde725" stroke="none" stroke-width="0" />
<circle cx="547.15" cy="56.20" r="3.00" fill="#f0e526" stroke="none" stroke-width="0" />
<circle cx="559.80" cy="56.20" r="1.00" fill="#31668c" stroke="none" stroke-width="0" />
<circle cx="572.45" cy="56.20" r="1.00" fill="#31668c" stroke="none" stroke-width="0" />
<circle cx="585.10" cy="56.20" r="1.00" fill="#31668c" stroke="none" stroke-width="0" />
<line x1="475.0" y1="86.4" x2="476.8" y2="86.4" stroke="#222" stroke-width="0.6" />
<circle cx="483.90" cy="86.40" r="3.20" fill="#462473" stroke="none" stroke-width="0" />
<circle cx="496.55" cy="86.40" r="3.50" fill="#440154" stroke="none" stroke-width="0" />
<circle cx="509.20" cy="86.40" r="3.40" fill="#440f60" stroke="none" stroke-width="0" />
<circle cx="521.85" cy="86.40" r="1.40" fill="#21918c" stroke="none" stroke-width="0" />
<circle cx="534.50" cy="86.40" r="0.60" fill="#355e8c" stroke="none" stroke-width="0" />
<circle cx="547.15" cy="86.40" r="0.80" fill="#3b528b" stroke="none" stroke-width="0" />
<circle cx="559.80" cy="86.40" r="4.90" fill="#fde725" stroke="none" stroke-width="0" />
<circle cx="572.45" cy="86.40" r="4.90" fill="#fde725" stroke="none" stroke-width="0" />
<circle cx="585.10" cy="86.40" r="4.90" fill="#fde725" stroke="none" stroke-width="0" />
<text x="466.6" y="23.4" font-size="8.4" text-anchor="end" font-weight="normal" font-style="normal" fill="#000" >Macro_H2−Aa</text>
<text x="466.6" y="36" font-size="8.4" text-anchor="end" font-weight="normal" font-style="normal" fill="#000" >(Pro-inflammation)</text>
<text x="466.6" y="57" font-size="8.4" text-anchor="end" font-weight="normal" font-style="normal" fill="#000" >Macro_C3</text>
<text x="466.6" y="69.9" font-size="8.4" text-anchor="end" font-weight="normal" font-style="normal" fill="#000" >(Anti-inflammation)</text>
<text x="466.6" y="88.1" font-size="8.4" text-anchor="end" font-weight="normal" font-style="normal" fill="#000" >Macro_C1qa</text>
<text x="466.6" y="101.2" font-size="8.4" text-anchor="end" font-weight="normal" font-style="normal" fill="#000" >(Anti-inflammation)</text>
<line x1="483.9" y1="105" x2="483.9" y2="106.8" stroke="#222" stroke-width="0.6" />
<text transform="translate(483.9 122.8) rotate(-45)" x="0" y="2.7" font-size="7.7" text-anchor="middle" font-style="italic">H2−Eb1</text>
<line x1="496.54999999999995" y1="105" x2="496.54999999999995" y2="106.8" stroke="#222" stroke-width="0.6" />
<text transform="translate(496.5 122.8) rotate(-45)" x="0" y="2.7" font-size="7.7" text-anchor="middle" font-style="italic">H2−Aa</text>
<line x1="509.2" y1="105" x2="509.2" y2="106.8" stroke="#222" stroke-width="0.6" />
<text transform="translate(509.2 122.8) rotate(-45)" x="0" y="2.7" font-size="7.7" text-anchor="middle" font-style="italic">H2−Ab1</text>
<line x1="521.85" y1="105" x2="521.85" y2="106.8" stroke="#222" stroke-width="0.6" />
<text transform="translate(521.9 122.8) rotate(-45)" x="0" y="2.7" font-size="7.7" text-anchor="middle" font-style="italic">C3</text>
<line x1="534.5" y1="105" x2="534.5" y2="106.8" stroke="#222" stroke-width="0.6" />
<text transform="translate(534.5 122.8) rotate(-45)" x="0" y="2.7" font-size="7.7" text-anchor="middle" font-style="italic">Vcan</text>
<line x1="547.15" y1="105" x2="547.15" y2="106.8" stroke="#222" stroke-width="0.6" />
<text transform="translate(547.1 122.8) rotate(-45)" x="0" y="2.7" font-size="7.7" text-anchor="middle" font-style="italic">Ly6i</text>
<line x1="559.8" y1="105" x2="559.8" y2="106.8" stroke="#222" stroke-width="0.6" />
<text transform="translate(559.8 122.8) rotate(-45)" x="0" y="2.7" font-size="7.7" text-anchor="middle" font-style="italic">C1qa</text>
<line x1="572.4499999999999" y1="105" x2="572.4499999999999" y2="106.8" stroke="#222" stroke-width="0.6" />
<text transform="translate(572.4 122.8) rotate(-45)" x="0" y="2.7" font-size="7.7" text-anchor="middle" font-style="italic">C1qb</text>
<line x1="585.1" y1="105" x2="585.1" y2="106.8" stroke="#222" stroke-width="0.6" />
<text transform="translate(585.1 122.8) rotate(-45)" x="0" y="2.7" font-size="7.7" text-anchor="middle" font-style="italic">C1qc</text>
<text x="599" y="18.5" font-size="7.2" text-anchor="start" font-weight="normal" font-style="normal" fill="#000" >Average Expression</text>
<defs><linearGradient id="virg" x1="0" y1="1" x2="0" y2="0"><stop offset="0" stop-color="#440154"/><stop offset="0.125" stop-color="#472d7b"/><stop offset="0.25" stop-color="#3b528b"/><stop offset="0.375" stop-color="#2c728e"/><stop offset="0.5" stop-color="#21918c"/><stop offset="0.625" stop-color="#28ae80"/><stop offset="0.75" stop-color="#5ec962"/><stop offset="0.875" stop-color="#addc30"/><stop offset="1" stop-color="#fde725"/></linearGradient></defs>
<rect x="599.00" y="22.30" width="8.20" height="40.30" fill="url(#virg)" stroke="none" stroke-width="0" />
<text x="610.4" y="28.1" font-size="6.4" text-anchor="start" font-weight="normal" font-style="normal" fill="#000" >1.0</text>
<line x1="599" y1="25.8" x2="600.5" y2="25.8" stroke="#fff" stroke-width="0.4" />
<line x1="605.7" y1="25.8" x2="607.2" y2="25.8" stroke="#fff" stroke-width="0.4" />
<text x="610.4" y="37.099999999999994" font-size="6.4" text-anchor="start" font-weight="normal" font-style="normal" fill="#000" >0.5</text>
<line x1="599" y1="34.8" x2="600.5" y2="34.8" stroke="#fff" stroke-width="0.4" />
<line x1="605.7" y1="34.8" x2="607.2" y2="34.8" stroke="#fff" stroke-width="0.4" />
<text x="610.4" y="45.8" font-size="6.4" text-anchor="start" font-weight="normal" font-style="normal" fill="#000" >0.0</text>
<line x1="599" y1="43.5" x2="600.5" y2="43.5" stroke="#fff" stroke-width="0.4" />
<line x1="605.7" y1="43.5" x2="607.2" y2="43.5" stroke="#fff" stroke-width="0.4" />
<text x="610.4" y="54.699999999999996" font-size="6.4" text-anchor="start" font-weight="normal" font-style="normal" fill="#000" >−0.5</text>
<line x1="599" y1="52.4" x2="600.5" y2="52.4" stroke="#fff" stroke-width="0.4" />
<line x1="605.7" y1="52.4" x2="607.2" y2="52.4" stroke="#fff" stroke-width="0.4" />
<text x="610.4" y="63.599999999999994" font-size="6.4" text-anchor="start" font-weight="normal" font-style="normal" fill="#000" >−1.0</text>
<text x="599" y="76.7" font-size="7.2" text-anchor="start" font-weight="normal" font-style="normal" fill="#000" >Percent Expressed</text>
<circle cx="603.20" cy="85.40" r="1.10" fill="#000" stroke="none" stroke-width="0" />
<text x="610.8" y="87.7" font-size="6.4" text-anchor="start" font-weight="normal" font-style="normal" fill="#000" >25</text>
<circle cx="603.20" cy="93.30" r="2.00" fill="#000" stroke="none" stroke-width="0" />
<text x="610.8" y="95.6" font-size="6.4" text-anchor="start" font-weight="normal" font-style="normal" fill="#000" >50</text>
<circle cx="603.20" cy="101.40" r="3.00" fill="#000" stroke="none" stroke-width="0" />
<text x="610.8" y="103.7" font-size="6.4" text-anchor="start" font-weight="normal" font-style="normal" fill="#000" >75</text>
<text x="0" y="173.5" font-size="15.5" text-anchor="start" font-weight="bold" font-style="normal" fill="#000" >C</text>
<rect x="37.90" y="177.40" width="343.90" height="13.10" fill="#000" stroke="none" stroke-width="0" />
<g font-size="7.15" fill="#fff"><text x="102.3" y="187.4">apCAFs: <tspan fill="#00e000">PDGFRA</tspan> <tspan fill="#ff2020">CD74</tspan></text><text x="188" y="187.4">Pro-inflam Macro: CD68 <tspan fill="#f020f0">CD86</tspan></text><text x="291" y="187.4">Nucleus: <tspan fill="#2020ff">DAPI</tspan></text></g>
<defs><filter id="b3" x="-5%" y="-5%" width="110%" height="110%"><feGaussianBlur stdDeviation="0.55"/></filter><filter id="b5" x="-5%" y="-5%" width="110%" height="110%"><feGaussianBlur stdDeviation="0.75"/></filter><filter id="b6" x="-5%" y="-5%" width="110%" height="110%"><feGaussianBlur stdDeviation="1.1"/></filter>
<clipPath id="cm"><rect x="36.3" y="192.3" width="165" height="115.5"/></clipPath><clipPath id="cz"><rect x="207.9" y="193.3" width="115.6" height="114.4"/></clipPath><clipPath id="cs1"><rect x="326.1" y="193.3" width="55.9" height="55.4"/></clipPath><clipPath id="cs2"><rect x="326.1" y="252.3" width="55.9" height="55.5"/></clipPath></defs>
<rect x="36.30" y="192.30" width="165.00" height="115.50" fill="#020206" stroke="none" stroke-width="0" />
<g clip-path="url(#cm)" filter="url(#b3)">
<path d="M110.9 257.0l0.1 0.1M141.0 261.1l0.5 0.4M36.4 216.5l0.1 0.0M192.9 202.2l-0.2 0.5M139.9 284.6l0.2 0.3M103.2 214.8l0.2 0.8M103.2 275.8l0.3 0.2M169.5 230.8l-0.1 0.0M92.8 267.5l0.8 0.1M65.0 252.3l0.0 0.0M65.9 277.1l0.5 0.7M168.2 206.1l-0.3 0.1M75.9 203.0l0.4 0.6M80.8 222.1l0.0 0.0M93.2 243.1l0.1 0.1M146.6 242.1l0.2 0.1M64.6 259.4l0.2 0.3M184.1 195.1l-0.2 0.2M169.9 250.5l0.5 0.3M109.0 279.1l0.3 0.2M156.4 288.8l-0.6 0.4M194.9 214.9l0.9 0.4M72.5 223.8l0.3 0.3M96.4 242.4l0.8 0.6M180.5 299.3l-0.4 0.4M84.4 230.5l0.2 0.2M69.6 195.8l0.1 0.2M58.0 282.5l0.1 0.3M178.6 195.8l0.3 0.3M126.5 225.0l0.7 0.6M56.6 221.2l0.1 0.1M196.6 272.9l-0.2 0.9M40.3 204.0l0.6 0.5M112.5 253.9l0.0 0.0M91.3 239.7l0.8 0.5M52.7 301.9l0.0 0.1M166.5 299.3l-0.3 0.0M125.3 271.0l0.5 0.3M178.3 265.1l0.5 0.4M199.8 305.7l0.4 0.9M64.5 208.8l0.2 0.2M115.7 261.2l0.6 0.8M191.6 227.0l0.4 0.6M178.2 194.3l0.1 0.1M95.0 260.1l0.4 0.5M165.1 274.7l-0.1 0.1M140.2 231.9l0.2 0.0M90.6 249.2l0.1 0.1M143.0 280.3l0.6 0.5M82.1 215.2l0.4 0.2M63.2 218.7l0.6 0.5M143.3 290.0l0.4 0.4M45.8 231.4l0.3 0.7M119.9 216.5l0.3 0.3M179.7 239.1l-0.8 0.3M180.9 290.8l-0.2 0.1M137.2 262.3l0.5 0.5M106.3 219.8l0.3 0.3M147.6 289.9l0.2 0.2M182.2 200.5l-0.6 0.1M141.4 269.2l0.5 0.4M88.8 251.8l0.6 0.6M140.9 199.3l0.5 0.5M75.9 219.5l0.2 0.3M158.8 289.0l0.4 0.8M196.0 255.3l0.0 0.0M130.7 237.3l0.6 0.5M157.0 275.3l0.0 0.1M195.8 239.3l0.0 0.2M99.8 282.2l0.1 0.1M201.2 285.0l-0.8 0.1M136.3 273.7l0.7 0.7M198.8 276.6l-0.2 0.4M107.3 277.0l0.8 0.0M110.6 293.6l0.4 0.1M98.9 248.8l0.3 0.3M135.6 218.7l0.3 0.5M170.3 257.8l0.3 0.1M188.4 231.4l0.2 0.3M142.1 271.3l0.4 0.3M131.3 268.1l0.8 0.5M177.1 278.8l0.1 0.2M91.1 254.1l0.3 0.2M72.0 285.3l0.7 0.5M197.9 276.6l-0.1 0.1M149.0 194.7l0.1 0.1M77.4 278.8l0.2 0.4M124.9 249.9l0.2 0.2M130.5 285.0l0.1 0.1M107.4 285.9l0.5 0.4M87.7 306.1l0.2 0.0M85.1 208.4l0.3 0.9M165.5 228.3l-0.2 0.9M180.1 210.8l-0.1 0.1M184.8 278.2l0.2 0.6M115.2 269.2l0.8 0.6M39.4 212.7l0.6 0.5M195.1 229.6l-0.2 0.4M174.3 224.0l0.7 0.6M180.1 222.6l0.0 0.1M159.6 223.8l0.1 0.0M166.0 246.7l0.8 0.2M93.6 285.1l0.3 0.6M174.4 242.1l-0.0 0.0M114.5 254.0l0.0 0.0M137.2 276.4l0.5 0.5M147.0 277.4l0.3 0.3M98.3 232.1l0.5 0.3M129.7 251.2l0.7 0.7M105.4 254.1l0.2 0.2M87.0 204.2l0.5 0.6M58.9 209.4l0.1 0.1M49.4 287.4l0.4 0.3M141.7 215.6l0.3 0.2M86.5 217.4l0.6 0.4M118.0 274.0l0.6 0.5M109.1 283.1l0.0 0.0M116.2 277.7l0.9 0.4M134.4 263.7l0.2 0.3M101.0 266.4l0.5 0.7M145.1 297.9l0.8 0.6M177.9 211.7l-0.5 0.0M47.1 264.1l0.3 0.3M171.3 225.0l-0.3 0.3M152.5 295.8l0.1 0.1M43.2 214.4l0.7 0.5M163.4 246.5l-0.5 0.6M61.2 225.7l0.3 0.3M156.4 249.9l0.0 0.1M110.8 249.5l0.5 0.5M163.2 224.8l0.3 0.4M86.3 230.0l0.8 0.4M140.1 222.4l0.3 0.7M88.1 193.8l0.2 0.3M127.6 269.8l0.6 0.6M160.7 249.6l-0.4 0.0M182.9 200.5l0.1 0.0M170.5 240.9l0.0 0.0M63.1 306.2l0.4 0.9M147.2 288.8l0.1 0.2M97.2 245.8l0.2 0.2M68.5 249.0l0.2 0.1M134.3 256.5l0.4 0.3M134.9 236.9l0.6 0.4M122.2 256.3l0.3 0.4M46.8 289.2l0.9 0.4M94.3 232.3l0.8 0.5M72.3 225.8l0.6 0.4M47.4 284.3l0.2 0.1M175.0 268.7l-0.4 0.9M83.2 260.1l0.5 0.4M71.9 243.2l0.5 0.8M42.7 218.7l0.2 0.2M75.2 264.1l0.4 0.1M51.1 290.6l0.1 0.0M167.2 206.3l0.1 0.5" stroke="#2828f0" stroke-width="1.2" stroke-linecap="round" fill="none"/>
<path d="M135.2 282.2l0.1 0.1M157.9 296.3l-1.9 1.4M153.2 258.2l0.5 0.0M90.0 255.7l2.9 2.9M156.1 234.6l-2.3 0.4M150.2 287.6l2.0 1.6M45.1 221.6l2.7 2.3M37.9 208.6l2.6 2.0M51.8 231.0l1.5 0.9M45.5 213.5l1.8 2.6M169.6 192.4l0.3 1.0M139.7 288.7l0.8 1.0M125.9 259.7l2.4 3.2M133.9 255.4l0.3 0.7M197.4 213.6l0.5 0.4M114.9 268.6l2.7 1.9M44.7 225.3l0.8 0.5M159.1 205.7l0.5 1.7M83.9 235.3l2.9 3.4M92.6 251.8l1.7 2.0M175.8 217.6l0.2 1.6M145.8 299.8l2.4 2.1M193.4 271.2l1.0 0.5M49.4 208.5l2.1 1.3M64.7 216.6l0.7 0.5M161.6 250.4l0.3 0.0M157.0 283.2l2.3 1.0M128.5 205.7l0.4 0.2M84.5 245.7l1.1 1.4M195.6 216.0l-1.4 2.1M150.7 276.6l2.4 3.1M70.1 224.4l1.4 1.7M195.0 228.1l0.6 2.1M123.6 221.1l1.3 0.8M83.9 248.3l3.3 2.6M92.2 258.0l2.3 1.4M36.7 192.8l2.0 1.8M134.7 266.8l1.9 1.8M149.4 272.2l1.4 1.1M68.5 230.2l0.5 0.4M194.5 268.9l-0.9 1.6M164.1 240.6l0.1 0.6M59.3 207.5l2.0 2.2M180.9 202.5l-2.1 1.4M86.7 213.5l1.7 0.7M130.8 274.7l2.0 2.6M90.4 258.8l2.1 1.4M77.5 200.2l1.0 0.8M40.8 207.2l1.0 1.8M173.4 255.7l-1.3 2.0M108.8 238.3l1.1 1.3M68.7 233.5l2.6 2.2M47.4 232.1l2.5 2.2M124.0 258.7l3.0 3.3M180.5 306.2l1.8 1.3M92.4 213.4l0.9 1.2M174.2 304.7l-1.9 0.1M81.1 242.8l1.9 2.1M181.2 204.8l0.0 0.6M178.5 263.1l-0.2 0.3M118.1 280.5l0.2 0.2M52.6 210.3l2.5 3.0M180.1 243.3l1.5 0.5M146.5 280.0l0.2 0.3M155.7 287.1l-1.7 1.8M129.6 234.8l1.2 0.7M165.9 236.8l0.5 0.3M64.7 247.2l0.9 0.6" stroke="#f6c8ee" stroke-width="0.9" stroke-linecap="round" fill="none"/>
<path d="M190.0 201.9l-0.0 0.3M141.8 271.1l1.3 1.0M120.8 257.8l2.2 3.0M166.4 266.5l1.7 0.3M111.5 248.5l0.9 0.9M44.9 211.1l2.6 2.8M82.4 252.7l3.1 2.0M177.4 235.0l-0.9 2.4M107.1 265.3l2.3 1.3M64.9 240.7l2.8 1.5M118.2 229.2l1.0 0.2M128.7 230.5l0.3 0.1M55.1 225.4l1.6 2.5M191.2 302.7l-0.9 0.9M134.0 221.5l0.4 0.4M130.4 273.4l1.3 0.9M163.4 243.6l-1.2 0.4M114.3 211.9l2.2 1.1M169.0 224.4l-0.1 1.7M187.8 304.2l1.3 0.5M67.1 257.9l0.3 0.3M89.6 207.1l0.6 0.2M149.0 279.2l1.4 1.3M93.4 234.9l0.6 0.3M181.4 237.4l-1.7 1.5M138.6 259.2l1.2 2.0M52.0 214.8l1.0 1.4M96.2 225.2l0.7 0.7M162.5 269.7l-0.5 1.9M174.0 203.7l-2.1 1.4M84.7 253.9l2.4 2.2M152.9 285.9l1.4 1.0M111.0 262.4l2.9 2.2M106.0 197.3l0.9 1.1M177.3 208.8l-0.6 0.7M54.8 241.0l1.3 0.7M148.8 211.7l1.6 0.0M139.1 304.5l1.0 0.5M92.6 251.0l1.3 1.5M138.9 290.1l1.9 1.5M124.2 206.1l0.4 0.2M186.3 306.9l-0.3 1.2M134.7 268.9l2.6 1.7M79.7 252.3l2.1 2.3M81.3 259.3l0.9 0.7M183.6 249.4l0.4 0.0M72.2 231.9l1.2 1.3M169.1 263.9l0.9 0.1M151.4 197.8l1.7 1.2M177.9 290.4l0.3 1.7M155.1 269.3l3.3 2.4M127.9 281.4l0.3 0.4M117.2 245.8l0.1 0.3M161.4 244.4l0.5 0.2M176.0 253.8l-1.7 0.4M175.6 198.7l-0.3 2.3M155.9 300.2l1.9 1.3M148.6 284.8l1.4 0.9M137.7 292.2l2.1 0.9M155.1 217.1l1.6 0.1M133.2 281.3l2.2 1.7M175.0 247.4l-0.6 0.8M175.7 243.2l0.3 1.2M66.8 225.8l1.0 1.0M36.7 220.6l1.1 1.3M143.8 278.6l2.4 3.8M197.8 241.3l-0.6 0.1M56.4 285.0l2.5 -0.0M130.7 282.4l2.8 2.7" stroke="#f6c8ee" stroke-width="1.2" stroke-linecap="round" fill="none"/>
<path d="M80.8 202.4l0.6 0.5M158.4 237.5l-2.5 0.6M121.8 279.4l1.5 1.4M41.2 222.4l1.6 1.4M196.8 247.2l-0.3 1.8M87.1 249.9l3.1 2.9M163.0 306.2l1.7 1.7M94.2 239.7l1.5 1.1M86.2 220.8l0.5 0.9M196.1 220.0l-0.2 0.3M78.5 244.9l1.2 0.9M96.8 214.3l1.2 1.0M127.9 254.1l0.5 0.5M136.6 264.2l2.9 3.1M193.0 278.1l-0.7 0.5M45.1 228.7l3.7 2.1M152.7 289.4l1.5 1.7M37.9 212.2l2.4 2.8M154.2 277.4l2.2 2.0M201.0 286.6l-0.1 0.3M89.7 237.4l1.3 1.0M123.1 239.0l0.6 1.5M179.0 215.9l-0.3 0.2M77.4 230.8l3.8 2.0M70.3 251.0l1.2 1.8M109.5 250.2l2.6 2.2M59.8 241.5l0.7 0.3M105.5 251.4l1.4 2.0M180.4 249.8l-0.6 2.2M43.4 204.9l1.7 1.6M135.6 281.1l1.4 1.3M70.8 271.8l1.4 1.8M200.0 294.6l1.0 1.0M65.7 223.0l3.1 2.8M163.0 272.3l0.4 2.3M165.0 285.3l0.3 0.7M176.5 299.6l0.7 0.9M145.0 193.8l0.2 0.2M78.1 219.5l0.5 2.0M105.3 205.7l1.3 1.4M41.6 212.8l3.0 2.0M134.9 278.0l2.5 2.7M82.3 258.9l0.7 0.8M98.2 277.1l1.6 0.9M92.8 205.7l2.0 0.8M172.2 296.6l0.2 0.4M58.8 232.9l2.8 3.1M168.4 287.8l-0.5 0.3M157.4 235.8l1.8 1.4M174.6 240.5l1.6 0.6M161.2 301.0l-0.6 0.7M170.6 271.6l-1.7 0.0" stroke="#7a1fd0" stroke-width="0.7" stroke-linecap="round" fill="none"/>
<path d="M134.1 307.6l1.4 0.8M99.4 259.6l1.9 3.1M98.3 240.0l2.4 1.7M67.6 205.6l0.7 0.5M153.7 247.2l-1.7 0.9M166.2 238.9l1.1 2.1M124.0 260.9l1.6 1.2M173.7 291.1l0.4 2.2M195.3 240.0l-0.4 0.5M64.7 212.3l2.9 2.9M195.1 282.2l1.4 0.8M144.3 241.7l1.2 0.6M157.0 231.6l1.2 0.2M194.2 194.0l1.6 1.7M54.2 204.5l2.9 3.0M138.8 236.7l0.3 1.6M156.4 280.6l0.0 0.2M168.4 262.0l0.6 0.1M37.9 276.0l0.5 0.3M108.2 207.9l0.3 0.3M111.7 201.5l0.9 2.0M95.8 254.1l2.0 1.2M128.3 274.8l3.0 2.6M103.9 270.6l2.0 1.8M58.4 223.8l1.9 1.6M170.1 214.8l0.8 1.2M60.2 205.1l0.8 1.1M178.7 279.0l0.2 0.4M85.6 240.2l2.9 2.6M193.7 228.1l-1.4 0.6M58.8 193.4l1.2 0.8M75.5 221.9l2.1 2.6M142.0 209.1l0.6 0.6M152.5 202.2l-0.4 0.1M58.3 224.4l2.6 2.3M169.2 214.3l-1.6 1.0M110.8 248.0l2.2 1.1M85.9 207.1l1.8 0.2M72.2 203.3l0.3 0.5M146.0 296.5l0.9 1.0M116.7 262.9l0.9 1.0M65.4 199.1l2.2 0.7M64.1 206.8l1.4 1.3M137.2 282.0l1.1 1.4M153.0 300.6l2.4 1.6M170.5 220.3l-1.4 1.2M131.6 235.7l0.4 0.5M166.3 285.7l1.9 0.5M139.0 291.0l2.8 2.0M53.3 240.1l0.3 0.7M172.7 223.4l0.7 0.4M177.7 216.6l-1.8 0.9M66.1 300.9l0.4 0.7M72.9 295.3l0.9 1.1M47.3 202.4l2.3 2.1M53.7 239.0l2.3 0.4M114.6 221.4l1.5 1.5M58.5 218.8l2.3 3.2M161.7 269.1l-0.0 0.7M184.1 211.5l1.2 2.1M118.6 265.1l1.3 2.4M141.3 270.9l1.8 1.1M175.1 297.5l0.3 0.9M121.2 219.0l0.5 0.5M69.2 241.2l1.5 1.2M110.9 227.8l0.6 0.3M83.4 240.7l2.7 3.3M132.2 215.5l1.4 1.5M60.3 232.2l2.0 2.0M156.9 272.4l-2.2 0.2M140.6 300.4l0.6 0.8M183.8 234.6l2.6 0.3M190.4 303.0l-1.9 0.3M164.9 305.6l-1.2 0.4M183.3 299.7l-0.7 1.3M197.2 228.6l-1.5 0.2M126.5 268.8l3.2 1.6M123.9 249.9l0.6 0.4M137.4 297.3l1.1 1.3M85.0 239.6l1.6 1.5M165.7 268.1l1.4 0.6M75.3 242.1l1.0 1.3M137.9 292.5l1.3 1.0M113.8 259.0l2.2 1.1M165.8 210.4l-0.1 0.2M126.8 281.7l1.9 1.9M165.9 274.4l-0.2 0.2M189.5 261.1l-1.1 1.5M158.7 197.2l0.9 1.7M196.7 256.3l-1.1 1.5M91.8 264.4l1.0 1.0M180.5 240.4l-0.0 0.3M180.9 307.3l0.4 0.7M163.1 230.5l-2.2 0.9M162.2 198.0l-1.6 0.0M100.6 270.0l2.0 0.8M195.7 237.8l1.7 0.0" stroke="#d020d8" stroke-width="1.2" stroke-linecap="round" fill="none"/>
<path d="M85.2 200.8l0.3 0.2M55.3 204.9l0.1 0.1M48.6 208.5l0.1 0.1M117.7 267.4l0.3 0.4M128.7 256.7l0.1 0.1M39.7 212.5l0.5 0.4M129.4 200.1l0.4 0.3M59.2 231.6l0.4 0.3M161.5 201.0l0.1 0.3M62.7 232.5l0.6 0.6M135.2 207.6l0.6 0.7M198.2 236.7l0.4 0.5M136.1 279.6l0.1 0.0M166.4 249.4l0.1 0.8M66.0 226.0l0.0 0.0M105.5 272.6l0.5 0.6M194.2 225.0l0.2 0.0M191.3 233.9l0.1 0.1M54.9 201.7l0.2 0.2M91.8 256.5l0.0 0.0M135.8 259.6l0.4 0.4M169.7 269.9l0.0 0.2M154.9 295.1l0.5 0.4M111.1 220.5l0.0 0.1M107.1 271.5l0.2 0.2M164.9 221.3l-0.2 0.1M168.0 217.5l-0.1 0.0M131.8 281.3l0.5 0.5M71.4 233.3l0.5 0.5M53.2 209.5l0.3 0.3M182.8 206.1l-0.4 0.6M174.0 284.1l0.4 0.6M68.3 299.2l0.7 0.4M56.0 241.6l0.6 0.6M176.9 301.5l-0.1 0.5M144.4 239.2l0.6 0.5M123.1 259.9l0.3 0.5M109.0 279.5l0.7 0.2M144.7 276.2l0.1 0.2M179.2 302.9l0.6 0.5M181.6 273.2l-0.8 0.2M80.9 233.6l0.2 0.2M123.6 240.0l0.6 0.2M96.3 192.8l0.3 0.1M190.9 265.6l0.1 0.5M119.5 275.7l0.1 0.0M108.9 201.4l0.6 0.6M192.8 212.6l-0.2 0.9M163.4 236.3l-0.2 0.1M169.8 247.1l-0.2 0.2M198.7 210.5l0.1 0.3M131.0 284.7l0.6 0.5M70.8 248.8l0.3 0.5M173.5 222.6l-0.5 0.0M167.0 303.6l0.3 0.4M38.7 204.8l0.7 0.5M170.3 229.6l-0.9 0.3M174.0 248.3l-0.1 0.1M158.4 225.0l0.2 0.4M63.6 228.0l0.2 0.2M87.4 206.9l0.7 0.6M93.6 248.7l0.0 0.0M121.9 234.3l0.7 0.6M152.5 282.8l0.0 0.0M41.9 215.3l0.6 0.7" stroke="#3a3aff" stroke-width="0.9" stroke-linecap="round" fill="none"/>
<path d="M58.7 236.9l1.5 0.9M78.6 238.7l2.9 3.1M134.4 218.2l0.6 0.8M91.3 259.8l0.9 0.8M181.4 204.1l-0.2 0.2M158.9 276.7l1.4 1.4M180.2 218.5l-0.2 0.3M51.7 294.4l1.1 0.4M146.9 273.9l1.5 1.9M161.2 294.2l-0.1 0.3M147.8 287.5l2.6 2.0M176.2 193.7l-1.4 1.1M158.7 294.1l-0.6 2.2M180.3 295.5l0.1 0.3M197.9 286.2l-1.7 0.6M136.5 206.2l1.6 0.9M169.1 306.6l0.9 0.4M155.5 294.6l-0.1 2.2M56.3 196.4l0.4 0.3M121.0 205.0l0.9 0.7M183.7 256.4l2.5 0.4M171.9 215.3l2.5 0.6M164.7 305.4l1.1 0.9M117.8 268.4l1.2 1.4M189.4 210.6l0.7 1.4M190.5 304.4l0.5 0.3M157.8 255.1l-0.6 0.3M167.4 251.9l0.2 0.3M180.2 262.5l-1.5 1.8M114.5 221.8l1.5 1.5M167.1 279.0l-1.8 0.3M145.6 285.1l3.0 2.5M151.6 299.9l2.1 2.2M94.2 261.2l2.7 2.9M179.8 252.1l0.4 1.9M69.6 208.8l0.8 1.4M80.2 229.1l1.6 0.7M108.5 213.8l1.6 0.8M133.2 292.2l1.4 1.1M159.7 251.2l-0.3 0.2M151.8 269.7l1.0 1.0M139.6 220.5l0.6 1.1M114.8 277.9l2.9 2.6M92.9 221.3l1.5 0.9M80.0 212.6l2.0 1.4M109.4 278.6l1.4 1.8M52.1 242.9l1.0 0.5M170.1 207.7l-0.2 0.1M139.2 236.4l1.5 1.5M171.1 203.2l1.3 0.7M153.8 289.2l3.0 3.1M102.5 221.1l1.8 0.8M124.7 207.1l1.3 0.9M187.1 302.5l0.3 1.4M121.6 267.2l3.0 2.0M193.5 298.8l-1.2 0.4M87.5 263.3l0.9 1.8M165.6 253.0l1.7 1.1M156.1 203.0l1.2 0.2" stroke="#b018e0" stroke-width="1.2" stroke-linecap="round" fill="none"/>
<path d="M135.9 241.0l2.3 0.9M67.5 200.4l1.5 0.5M140.0 193.4l0.5 0.7M168.7 241.0l0.2 0.6M75.4 221.1l0.6 1.3M82.4 207.8l1.3 0.5M106.4 210.6l0.9 0.4M162.7 257.6l-0.3 0.3M172.5 209.4l0.1 0.4M168.9 260.7l0.2 1.2M182.5 248.1l-1.9 0.7M162.3 288.0l0.5 2.0M86.2 236.0l1.8 1.0M173.8 276.3l-2.4 0.2M186.5 200.0l1.0 0.3M70.7 192.8l0.9 1.0M104.7 241.7l0.6 0.5M131.1 259.9l2.5 1.5M128.8 262.9l1.5 1.2M92.9 241.0l3.0 1.6M158.9 258.1l0.4 0.3M199.1 274.0l1.4 1.1M162.7 265.0l-2.1 1.4M179.6 287.3l-2.1 0.1M82.7 306.2l0.9 1.2M182.7 304.7l-2.4 0.3M124.5 284.2l3.4 2.3M74.0 223.5l1.3 1.1M155.9 299.6l0.5 0.1M199.0 244.2l1.8 0.2M163.3 214.6l1.6 1.9M190.1 259.2l0.4 0.1M55.1 225.9l3.6 2.4M111.5 264.0l2.8 2.5M90.5 269.1l0.8 1.8M106.4 266.3l3.1 2.7M53.3 229.6l1.9 2.1M191.4 260.4l0.5 0.5M62.0 254.6l0.3 0.2M176.4 206.9l-1.6 1.5M179.9 256.3l0.1 0.2M59.8 200.2l0.7 0.6M144.3 264.2l1.2 2.0M199.6 230.0l0.5 0.3M144.4 254.5l0.3 1.8M189.2 241.3l0.6 2.4M138.4 242.1l0.9 1.0M144.6 236.6l0.8 1.0M124.1 259.7l2.5 2.0M75.5 283.0l2.0 0.9M198.2 202.1l-2.1 0.8M141.7 255.0l1.6 1.1M155.7 298.3l0.9 1.5M174.7 204.4l-2.2 1.0M160.5 239.0l0.4 0.9M103.1 254.3l2.6 1.6M78.1 224.9l1.6 1.2M191.5 276.6l0.3 0.3M148.9 307.0l0.2 0.0M176.8 233.0l-0.4 0.3M189.3 290.4l0.0 0.3M64.4 213.5l3.1 2.9M82.2 219.1l1.1 0.9M80.1 222.0l0.9 0.6M161.6 211.6l-0.1 0.4M190.0 231.1l1.9 0.4M129.6 302.3l0.8 0.8M93.9 258.6l1.4 1.2M103.2 205.3l1.3 1.1M126.2 293.5l1.5 0.6M76.3 238.4l2.5 3.1M168.6 286.7l0.5 0.8M134.8 294.2l2.0 1.6M175.4 259.9l-1.0 0.4M132.5 280.0l1.8 1.6M197.3 213.7l-0.8 1.7M52.1 237.2l1.4 0.9M136.5 236.8l0.7 0.8M108.5 262.2l1.6 1.4M165.2 292.3l-0.3 0.1M100.6 252.6l1.3 1.2M150.9 302.2l1.9 2.5M188.3 255.7l-1.7 1.0M165.5 293.3l0.7 1.7M153.0 262.4l1.0 0.8M91.5 250.4l2.6 2.3" stroke="#d020d8" stroke-width="0.7" stroke-linecap="round" fill="none"/>
<path d="M70.0 194.2l0.0 0.0M51.5 208.3l0.8 0.5M112.5 280.6l0.6 0.2M190.4 207.7l0.2 0.4M167.7 277.6l0.5 0.3M52.6 283.8l0.0 0.0M156.4 195.1l0.6 0.3M168.9 252.9l-0.9 0.1M173.4 283.2l0.1 0.2M94.1 242.1l0.3 0.2M111.1 269.2l0.3 0.5M184.0 221.4l-0.2 0.5M152.0 307.5l0.2 0.6M104.6 198.6l0.8 0.3M165.8 252.5l0.2 0.4M40.0 228.2l0.0 0.0M159.9 269.6l0.2 0.7M104.7 239.3l0.3 0.9M150.4 278.3l0.8 0.6M48.6 220.8l0.6 0.6M183.0 224.3l0.3 0.4M190.6 240.9l0.1 0.7M159.0 280.0l0.0 0.1M85.1 226.3l0.2 0.2M190.4 199.7l-0.3 0.1M112.6 285.5l0.4 0.3M138.1 287.7l0.2 0.2M181.6 227.7l-0.2 0.5M130.5 255.2l0.1 0.1M51.4 220.2l0.5 0.5M64.7 296.5l0.3 0.4M136.0 254.9l0.2 0.1M137.3 280.5l0.1 0.1M195.0 213.9l-0.1 0.1M137.2 235.0l0.5 -0.0M54.2 195.5l0.2 0.3M171.0 195.0l0.3 0.8M197.3 247.0l0.0 0.0M198.2 250.3l-0.5 0.3M117.9 292.7l0.5 0.7M162.2 225.6l-0.2 0.1M115.7 252.8l0.1 0.1M72.4 288.4l0.3 0.5M148.5 242.5l0.5 0.7M193.7 264.8l0.2 0.2M128.4 268.1l0.4 0.4M177.3 299.2l-0.9 0.1M127.7 230.0l0.2 0.3M199.1 239.4l-0.6 0.1M116.4 225.9l0.0 0.0M41.7 284.0l0.3 0.6M117.9 261.1l0.8 0.5M186.7 194.8l-0.8 0.3M62.7 248.1l0.2 0.2M52.7 217.7l0.2 0.1M116.4 280.9l1.0 0.2M79.6 241.0l0.1 0.0M161.0 213.2l0.1 0.0M127.2 208.4l0.2 0.4M53.9 200.3l0.6 0.4M135.8 214.5l0.4 0.3M181.7 286.2l0.4 0.1M93.6 265.9l0.2 0.1M93.4 202.4l0.1 0.1M140.6 263.3l0.3 0.3M41.4 226.9l0.5 0.6M158.4 229.6l0.7 0.3M147.5 218.7l0.8 0.5M156.3 289.4l-0.0 0.1M106.4 247.8l0.1 0.1M66.4 236.2l0.4 0.3M177.0 266.1l-0.7 0.2M182.2 250.1l0.8 0.4M76.6 254.0l0.2 0.1M164.6 279.9l0.4 0.2M42.3 289.7l0.8 0.5M171.0 247.0l0.5 0.0M178.0 251.8l-0.4 0.2M88.0 279.0l0.1 0.1M130.8 260.6l0.3 0.2M43.4 234.3l0.2 0.1M127.7 280.9l0.7 0.5M40.7 194.7l0.1 0.1M47.7 260.0l0.2 0.8M60.4 250.4l0.5 0.8M45.9 213.6l0.7 0.6M84.2 205.4l0.0 0.0M151.5 298.7l0.0 0.0M139.2 200.9l0.9 0.5M87.4 232.1l0.3 0.3M70.8 257.4l0.5 0.3M70.8 212.7l0.4 0.5M98.0 202.1l0.1 0.1M44.6 221.2l0.2 0.1M183.9 296.7l-0.5 0.5M156.5 224.4l0.1 0.0M89.0 294.9l0.1 0.1M130.4 281.6l0.1 0.1M199.9 218.2l0.5 0.1M169.3 263.7l-0.3 0.4M169.3 231.6l-0.5 0.4M96.8 269.8l0.5 0.6M153.2 296.5l0.5 0.4M130.4 282.5l0.0 0.1M123.0 275.2l0.4 0.5M110.9 247.3l0.7 0.5M106.9 214.7l0.4 0.2M131.5 242.7l0.3 0.1M132.7 273.3l0.3 0.6M143.9 290.9l0.1 0.1M78.6 238.8l0.8 0.5M161.3 302.3l0.1 0.0M42.0 234.2l0.5 0.3M170.3 258.0l-0.1 0.0M117.7 206.7l0.6 0.8M173.7 199.1l0.0 0.0M40.9 261.5l0.1 0.2M172.4 220.0l-0.0 0.5M62.9 239.1l0.2 0.1M132.6 289.6l0.2 0.2M51.2 230.3l0.5 0.3M133.6 263.5l0.8 0.6M150.7 291.8l0.0 0.0M67.4 296.2l0.2 0.8M72.3 292.9l0.5 0.6M56.0 217.0l0.2 0.3M100.2 248.7l0.5 0.8M62.7 234.9l0.4 0.8M145.2 267.5l0.1 0.1M176.1 218.2l-0.0 0.1M47.4 209.7l0.8 0.3M82.8 236.4l0.4 0.4M141.5 218.7l0.6 0.6M67.6 236.0l0.6 0.7M69.4 230.5l0.4 0.4M146.3 289.8l0.2 0.2M141.5 300.6l0.6 0.2M169.6 263.5l-0.1 0.1M43.7 243.1l0.1 0.2M192.0 255.6l0.3 0.7M182.3 256.6l-0.2 0.1M83.1 233.3l0.5 0.4M109.9 233.4l0.0 0.0M192.5 282.3l0.5 0.2M124.0 284.1l0.5 0.4M106.7 234.3l0.4 0.1M175.1 278.0l0.0 0.2M42.3 219.5l0.1 0.1M141.2 272.3l0.4 0.3M117.4 199.2l0.4 0.2M142.9 301.7l0.0 0.0" stroke="#2828f0" stroke-width="0.7" stroke-linecap="round" fill="none"/>
<path d="M41.8 261.4l0.3 0.3M193.1 224.3l0.2 0.6M154.1 213.0l-0.3 0.7M176.3 273.1l-0.4 0.1M111.1 264.6l0.7 0.5M177.5 232.6l-0.1 0.8M194.2 299.0l-0.8 0.5M140.9 197.0l0.3 0.2M143.7 285.2l0.1 0.1M168.4 228.4l-0.2 0.6M87.6 201.1l0.6 0.4M160.0 302.5l0.2 0.1M164.4 208.0l0.0 0.1M63.3 215.8l0.3 0.1M57.4 216.4l0.6 0.4M99.3 297.4l0.3 0.2M102.3 218.0l0.3 0.1M143.1 235.4l0.1 0.2M128.7 298.8l0.1 0.0M114.3 264.4l0.3 0.2M106.6 256.4l0.6 0.6M67.5 280.8l0.6 0.4M80.5 284.4l0.4 0.9M166.9 274.1l0.1 0.4M93.1 241.6l0.7 0.5M147.8 203.6l0.5 0.3M187.3 270.5l-0.1 0.2M89.5 246.3l0.3 0.2M57.8 236.6l0.3 0.3M142.0 211.7l0.3 0.4M113.7 250.9l0.1 0.1M95.3 307.8l0.1 0.1M57.1 285.6l0.1 0.0M164.4 242.8l-0.4 0.6M174.5 195.8l-0.2 0.8M177.3 215.3l1.0 0.2M58.9 227.4l0.5 0.5M165.7 246.7l0.1 0.1M132.2 220.3l0.2 0.0M157.2 205.1l0.1 0.1M36.6 214.5l0.5 0.5M97.6 246.7l0.6 0.6M187.2 302.7l0.5 0.5M96.6 304.2l0.3 0.4M162.7 268.5l-0.1 0.7M104.5 192.9l0.3 0.1M156.1 240.5l-0.1 0.1M132.9 304.4l0.4 0.5M177.2 300.8l-0.2 0.3M159.5 277.7l0.2 0.8M92.8 251.9l0.3 0.3M42.3 223.2l0.1 0.1M170.1 281.7l0.9 0.0M157.4 289.9l-0.1 0.2M50.8 208.8l0.6 0.4M150.6 271.0l0.1 0.2M178.7 239.0l0.0 0.2M200.5 301.0l-0.3 0.9M143.1 302.7l0.6 0.0M68.3 235.2l0.5 0.4M175.6 296.0l-0.1 0.2M171.5 205.8l0.4 0.2M160.1 212.2l-0.5 0.4M163.4 288.6l0.0 0.7M141.1 300.9l0.5 0.3M127.6 229.0l0.2 0.2M155.8 216.7l0.4 0.3M155.2 286.7l0.0 0.3M149.6 292.1l0.0 0.0M185.9 293.2l0.5 0.7M174.5 250.4l-0.4 0.0M153.9 220.6l-0.1 0.5M189.9 236.3l-0.4 0.8M175.8 214.8l0.2 0.2M163.4 293.7l-0.1 0.8M174.2 227.5l0.2 0.2M127.0 283.1l0.6 0.5M48.6 278.5l0.0 0.0M100.7 251.2l0.6 0.6M179.1 255.8l-0.7 0.1M48.4 295.5l0.2 0.0M120.5 266.9l0.3 0.2M192.9 223.2l0.6 0.1M198.3 225.1l-0.8 0.2M42.2 302.8l0.4 0.3M110.2 228.0l0.2 0.2M60.2 240.7l0.6 0.6M130.4 257.8l0.1 0.6M109.4 263.0l0.1 0.0M184.0 256.9l0.8 0.1M141.4 256.9l0.7 0.7M121.6 253.9l0.1 0.1M150.6 304.5l0.1 0.1M175.2 206.6l0.8 0.1M128.0 260.7l0.6 0.4M139.3 207.6l0.4 0.3M96.2 233.3l0.4 0.4M175.8 242.5l-0.0 0.4M141.5 221.1l0.4 0.4M187.1 233.3l-0.2 0.1M89.4 231.0l0.8 0.5M129.9 299.2l0.1 0.1M149.1 197.5l0.2 0.2M56.2 228.5l0.1 0.1M69.8 200.1l0.0 0.0M191.3 219.4l0.6 0.7M184.4 201.3l-0.0 0.1M198.9 262.4l0.4 0.6M184.2 279.0l0.2 0.4M171.8 216.2l0.2 0.3M160.3 300.5l-0.2 0.1M114.6 274.3l0.2 0.1M117.6 202.8l0.4 0.3M139.8 285.6l0.4 0.2M38.2 203.6l0.8 0.6M71.9 254.8l0.6 0.4M158.8 274.8l0.4 0.8M87.6 260.5l0.0 0.1M199.9 240.9l-0.1 0.7M67.4 234.8l0.5 0.6M166.0 278.4l-0.6 0.2M39.1 229.6l0.8 0.5M161.8 289.8l0.7 0.4M80.2 195.5l0.3 0.2M49.8 227.6l0.1 0.1M60.0 198.3l0.5 0.1M165.8 298.1l-0.3 0.1M96.3 252.6l0.3 0.4M163.0 214.8l-0.3 0.9M154.6 269.3l0.0 0.0M193.8 211.7l-0.0 0.0M141.0 262.3l0.1 0.1M68.8 279.0l0.7 0.3M156.2 256.4l0.0 0.0M193.9 221.0l-0.0 0.0M40.6 211.4l0.4 0.2M122.0 253.2l0.3 0.3M194.2 221.1l0.4 0.7M42.0 196.0l0.1 0.1M175.8 298.5l-0.4 0.1M148.9 243.3l0.0 0.0M126.3 222.6l0.9 0.1M81.9 231.6l0.2 0.2M42.8 204.7l0.5 0.5M199.5 248.3l0.3 0.5M154.8 261.3l0.2 0.1M166.3 301.6l-0.6 0.7M174.4 203.1l0.0 0.7M90.3 226.7l0.2 0.1M144.5 283.1l0.0 0.0M65.1 199.9l0.6 0.3M44.1 221.8l0.2 0.2M57.6 225.9l0.2 0.2M101.5 260.8l0.5 0.5M172.6 216.9l-0.5 0.5M67.3 202.5l0.0 0.0M140.5 286.3l0.3 0.3M81.6 241.2l0.1 0.1M50.0 207.6l0.7 0.6M126.9 304.4l0.6 0.7M123.8 195.8l0.4 0.5M161.0 297.6l0.7 0.5M154.4 235.8l0.3 0.3M172.8 274.8l0.0 0.0M155.1 238.2l0.1 0.7M99.0 267.6l0.1 0.1M162.0 267.6l0.1 0.5M82.8 239.9l0.6 0.7" stroke="#2828f0" stroke-width="0.9" stroke-linecap="round" fill="none"/>
<path d="M50.3 247.0l0.1 0.2M145.2 281.4l2.8 2.6M181.5 307.7l-0.1 0.6M165.8 225.5l0.0 2.5M159.2 290.0l-0.0 0.4M110.0 198.7l0.1 0.2M132.8 252.2l1.7 0.6M180.1 232.7l-1.4 1.4M75.2 225.9l2.7 2.6M178.6 283.0l-0.0 1.6M195.7 194.5l-0.2 0.6M165.5 238.1l0.4 2.5M37.6 226.5l-0.0 1.4M141.7 286.0l2.0 2.2M129.9 258.4l0.6 0.8M104.6 236.7l1.1 0.4M128.8 291.2l0.2 0.3" stroke="#e8305a" stroke-width="1.2" stroke-linecap="round" fill="none"/>
<path d="M87.5 202.4l0.4 0.3M149.6 298.1l2.1 1.6M130.3 253.9l1.9 0.8M128.7 253.9l1.5 2.1M112.5 279.0l1.3 0.7M177.3 270.5l0.7 1.9M188.7 271.9l-0.6 0.7M54.3 226.7l2.3 2.2M174.0 305.5l0.6 0.9M85.5 198.9l1.1 1.3M46.4 201.8l2.6 2.7M106.8 261.5l3.0 2.8M136.1 243.6l1.9 1.4M112.7 252.0l3.4 2.3M162.8 228.6l-1.0 0.6M81.4 250.7l2.7 2.6M40.8 228.2l1.0 0.9M113.0 268.6l2.6 3.4M181.5 233.1l-0.1 1.7M99.9 252.0l1.8 1.8M201.0 261.2l-0.6 1.2M83.8 250.3l1.8 1.8M184.3 205.7l-0.3 1.1M116.2 258.8l1.2 1.2M187.1 301.4l-1.0 0.1M180.9 252.0l-0.7 0.5M172.5 300.7l0.0 1.3M121.7 264.0l3.1 3.0M177.3 218.0l-0.4 1.2M163.8 297.7l-1.6 1.7M140.6 260.3l0.9 1.3M177.0 304.0l1.6 0.6M134.1 288.1l0.9 1.2M54.3 199.9l1.1 0.6M146.5 246.9l0.3 0.2M79.1 196.4l1.3 1.5M195.0 287.8l0.4 0.1M104.4 222.7l1.3 0.8M82.6 256.7l1.6 1.7M44.0 201.3l2.0 1.9M147.9 283.7l2.7 2.7M198.1 284.8l1.0 1.0M147.8 259.6l1.7 1.1M172.5 233.5l0.3 0.4M45.6 195.8l2.4 0.6M69.3 235.7l1.9 2.5M127.0 196.0l1.6 0.2M175.6 264.1l0.9 2.4M143.9 297.0l1.2 1.2M172.4 202.5l-0.8 0.4M166.8 272.4l0.4 0.8" stroke="#7a1fd0" stroke-width="1.2" stroke-linecap="round" fill="none"/>
<path d="M147.2 275.0l0.2 0.2M161.4 234.2l0.2 0.7M75.2 248.8l0.3 0.4M80.5 223.6l0.3 0.2M113.1 248.8l0.7 0.6M192.3 214.6l-0.7 0.3M167.1 304.6l0.8 0.5M107.1 247.3l0.5 0.2M158.5 292.3l-0.9 0.1M120.5 199.1l0.6 0.4M116.3 215.2l0.1 0.2M118.2 243.8l0.0 0.0M148.9 287.7l0.3 0.5M117.5 238.4l0.3 0.9M157.2 291.8l0.6 0.2M155.8 280.0l0.2 0.3M124.3 241.8l0.1 0.1M89.6 258.7l0.8 0.5M105.8 272.4l0.6 0.7M181.2 199.8l-0.0 0.4M170.0 299.8l0.6 0.2M172.4 301.5l0.3 0.3M141.9 285.1l0.6 0.3M92.4 248.1l0.1 0.1M193.8 254.8l0.1 0.0M185.2 193.0l-0.0 0.3M69.2 201.7l0.2 0.3M148.9 305.9l0.5 0.4M177.4 216.1l-0.1 0.0M165.8 265.1l0.3 0.2M179.9 205.3l0.5 0.7M144.6 283.0l0.5 0.4M116.5 217.7l0.2 0.4M175.1 299.9l-0.3 0.8M102.3 232.4l0.3 0.2M175.8 301.3l-0.2 0.6M155.0 197.4l-0.1 0.1M103.2 265.5l0.5 0.8M120.2 255.2l0.6 0.8M197.2 306.6l0.1 0.0M90.3 211.3l0.3 0.3M172.8 282.5l0.0 0.1M126.4 234.2l0.6 0.6M194.5 261.8l-0.4 0.0M174.9 240.6l0.1 0.5M144.4 253.0l0.1 0.1M163.4 298.1l0.1 0.6M164.8 204.0l0.2 0.2M50.7 208.7l0.2 0.2M114.1 276.7l0.7 0.6M144.3 272.3l0.0 0.0M62.4 219.2l0.2 0.1M59.5 200.3l0.3 0.2M146.6 290.4l0.5 0.3M87.0 210.4l0.0 0.0M126.7 233.5l0.3 0.3M124.1 287.6l0.4 0.2M138.6 280.9l0.1 0.0M164.9 289.7l0.2 0.2M46.7 211.1l0.3 0.5M143.9 237.4l0.9 0.1M106.1 201.8l0.5 0.5M196.7 304.6l-0.4 0.2M134.8 300.5l0.1 0.1M70.2 226.7l0.2 0.2M196.2 251.8l0.4 0.1M122.6 279.6l0.6 0.5M62.7 226.7l0.4 0.4M80.9 231.4l0.2 0.2M104.3 223.7l0.3 0.6" stroke="#3a3aff" stroke-width="1.2" stroke-linecap="round" fill="none"/>
<path d="M90.2 305.8l0.5 0.6M137.4 226.5l0.6 0.4M157.9 306.6l2.4 1.0M90.5 248.8l3.3 2.6M54.4 197.3l0.7 0.7M195.1 222.5l0.8 1.0M100.5 250.5l2.2 1.7M106.5 257.8l1.9 2.4M182.4 294.3l-0.7 0.3M184.0 303.5l1.4 1.4M122.0 198.0l1.2 0.8M163.8 197.9l-1.1 1.2M42.7 206.4l1.8 0.5M110.1 265.8l1.7 1.5M129.1 286.0l1.4 0.8M182.0 253.1l0.4 0.5M67.0 198.9l1.1 0.9M198.1 275.8l-1.9 0.8M159.6 274.8l-2.1 0.2M65.8 209.5l0.7 1.1M97.8 244.7l1.0 0.8M165.7 197.1l0.8 0.0M164.9 268.5l1.0 0.6M98.4 253.1l2.4 2.0" stroke="#e8305a" stroke-width="0.9" stroke-linecap="round" fill="none"/>
<path d="M179.9 262.7l-0.1 0.8M104.9 252.4l2.8 2.0M134.1 202.7l0.2 0.3M189.2 208.4l-0.8 1.1M162.2 210.6l-0.0 0.5M184.3 294.0l-0.2 0.8M96.7 222.3l2.0 1.2M123.5 244.5l0.9 1.2M166.6 208.7l0.2 0.2M80.4 261.6l1.3 1.2M198.3 205.1l1.0 1.2M46.7 195.1l1.9 1.7M186.6 300.0l-2.3 0.1M133.3 206.4l1.4 0.6M92.3 192.4l0.9 0.4M174.2 289.1l-2.4 0.8M73.5 233.8l1.2 1.1M177.1 245.1l-1.2 1.0M183.3 287.1l1.0 1.3M147.5 287.4l2.1 1.9M44.4 280.0l1.1 1.1M87.3 200.1l0.7 0.3M44.0 216.1l0.8 1.2M158.7 263.7l-0.4 0.5M161.8 257.2l0.3 2.6M57.8 227.8l2.1 1.1M109.8 216.5l0.6 0.9M113.9 209.7l0.7 0.5M124.4 254.6l0.6 0.4M187.4 296.0l-0.5 0.4M183.7 243.2l1.5 0.2M76.3 258.7l0.1 0.2M131.7 275.3l1.3 1.2M107.3 266.2l2.8 3.1M184.6 303.2l-1.9 0.9M127.7 275.4l3.0 2.3M172.2 306.6l1.6 1.3M110.8 248.7l1.5 1.7M70.4 226.3l2.6 2.9M166.2 235.4l-1.4 0.2M119.2 263.9l2.1 1.6M178.2 227.9l0.3 0.2M94.2 208.2l0.6 0.5M192.5 257.9l-0.7 0.7M83.8 247.7l2.0 1.7M99.1 222.8l0.5 1.6M106.2 253.2l2.4 2.6M168.5 281.1l0.7 0.9M145.7 293.2l2.5 2.0M180.9 223.4l0.4 1.9M166.4 289.7l-0.4 0.4M141.7 285.3l3.0 2.1M176.4 290.8l2.0 1.4M60.3 221.3l2.6 2.0M182.9 196.2l0.1 1.2M196.6 286.9l1.2 2.1M132.7 242.2l0.5 1.0M170.8 263.0l-0.6 0.3M193.2 253.3l0.5 0.6M182.1 226.0l0.5 1.0M95.4 225.4l1.0 1.9M102.3 246.7l3.4 2.8M166.6 199.2l-0.3 0.1M163.1 299.9l-2.2 1.2M137.6 254.4l0.3 0.1M179.5 280.9l0.3 0.6M81.9 263.6l0.3 0.0M44.8 205.8l3.0 3.0M176.1 302.2l-0.2 0.6M70.2 238.8l1.5 1.1M179.3 283.2l-1.2 0.7M108.7 192.5l1.8 0.7M150.0 267.5l1.4 1.4M167.9 210.0l-1.3 1.2M145.8 273.1l1.4 0.9M119.4 240.5l1.1 0.3M52.6 210.5l2.4 3.2M65.4 199.6l1.6 -0.3M186.6 218.6l0.7 1.5M181.0 293.1l1.8 0.2M104.1 207.1l0.3 0.9M157.6 282.8l-0.4 2.2M129.0 278.1l3.0 2.1M113.0 198.4l0.8 1.5M55.3 194.5l0.9 0.9M134.3 285.4l2.6 1.9M160.1 304.1l-0.6 0.0M142.7 299.8l2.1 2.2M48.5 221.6l2.0 1.8M74.5 250.5l3.3 2.5M128.8 279.4l3.2 2.2" stroke="#d020d8" stroke-width="0.9" stroke-linecap="round" fill="none"/>
<path d="M139.9 232.4l0.8 0.3M171.1 262.0l0.0 0.2M48.6 206.1l0.3 0.3M60.9 207.1l0.7 0.0M156.0 296.3l-0.0 0.1M123.5 253.6l0.6 0.5M39.0 195.8l0.7 0.7M151.1 283.1l0.7 0.6M117.1 260.5l0.1 0.0M153.8 280.3l0.6 0.4M52.5 218.9l0.3 0.2M59.0 215.1l0.6 0.6M62.2 219.7l0.0 0.0M74.0 220.5l0.8 0.6M86.7 237.9l0.2 0.3M178.3 253.4l0.1 0.7M182.6 301.6l-0.0 0.5M120.4 212.8l0.0 0.1M132.9 200.3l0.2 0.3M48.7 307.4l0.6 0.2M199.2 196.6l-0.5 0.4M166.9 305.1l-0.2 0.2M65.8 220.9l0.7 0.4M150.3 246.4l0.5 0.4M119.0 265.8l0.3 0.3M183.1 307.2l-0.5 0.8M68.8 229.6l0.3 0.4M164.3 229.0l-0.2 0.7M59.8 249.5l0.1 0.0M124.9 263.5l0.0 0.0M80.4 213.4l0.6 0.5M45.7 212.7l0.0 0.0M174.0 215.8l-0.3 0.5M172.0 273.0l-0.7 0.0M201.0 222.1l0.1 0.0M153.6 211.6l-0.5 0.4M158.6 259.8l-0.4 0.2M101.7 251.7l0.1 0.1M142.1 256.1l0.1 0.3M146.0 293.5l0.7 0.5M174.9 200.5l-0.3 0.0M192.5 219.7l0.1 0.1M134.3 214.8l0.5 0.8M155.7 246.0l0.0 0.1M100.1 196.0l0.2 0.1M194.4 218.0l-0.0 0.1M158.8 294.0l0.1 0.9M54.4 238.8l0.7 -0.0M63.1 224.7l0.2 0.1M152.8 284.3l0.2 0.2M201.1 245.7l0.3 0.4M98.7 231.8l0.9 0.4M135.2 276.7l0.1 0.1M50.6 264.0l0.2 0.1M166.8 298.3l-0.1 0.1M100.1 209.2l0.5 0.5M156.9 241.2l-0.0 0.0M152.9 307.8l-0.9 0.3M157.3 271.0l0.4 0.3M182.5 304.6l0.1 0.0M53.9 213.6l0.4 0.3" stroke="#3a3aff" stroke-width="0.7" stroke-linecap="round" fill="none"/>
<path d="M58.4 219.9l2.4 2.9M146.3 290.9l2.6 1.4M129.2 275.9l2.5 2.4M41.4 205.5l0.4 0.4M70.1 236.5l0.3 0.2M158.9 268.6l1.9 0.8M179.0 307.1l-0.4 0.5M121.7 259.8l0.9 0.8M117.7 271.9l2.3 2.1M172.1 267.5l-0.7 1.1M118.5 282.9l0.9 0.8M108.1 267.8l2.3 2.7M109.6 275.2l2.3 2.0M84.2 244.9l1.5 2.0M74.4 220.4l1.4 1.3M109.6 280.8l1.6 1.9M69.3 236.0l1.1 1.0M56.3 227.3l2.8 3.0M97.2 245.0l0.5 0.4M135.5 261.8l1.4 1.8M183.8 302.3l0.6 0.9M93.5 220.9l1.1 0.9M155.0 289.4l0.3 0.1M81.1 202.1l0.6 -0.1M70.1 194.1l1.2 1.9M76.4 205.9l0.8 0.4M85.5 195.5l0.5 0.6M165.0 287.3l0.3 0.7M124.9 261.5l0.1 0.0M75.6 222.8l1.6 0.8M71.0 229.1l1.6 1.2M131.7 271.8l0.1 0.2M159.5 220.7l0.9 1.7M79.5 236.0l2.8 2.4M114.4 217.5l1.5 0.7M113.4 259.4l0.6 0.5M171.1 270.2l1.4 0.2M171.4 268.1l-0.3 1.8M187.0 234.2l-0.5 0.4M153.3 288.9l2.1 1.9M81.2 223.7l0.2 0.2M80.7 236.3l2.8 3.3M84.4 243.9l1.4 1.5M174.5 211.8l-0.0 1.2M175.0 196.6l0.4 0.3M153.5 272.9l0.4 0.3M130.4 283.0l1.8 1.3M119.6 267.2l1.2 0.8M151.4 277.7l3.4 2.0M79.9 237.6l2.9 2.8M130.0 273.1l0.6 0.7M168.1 282.3l2.3 0.1M149.2 289.8l0.0 0.0M160.3 303.8l-1.5 1.6M180.3 269.2l0.1 0.2M140.1 227.7l0.3 0.4M124.7 223.9l1.1 1.5M92.2 235.5l2.0 1.9M71.3 234.4l2.7 2.7M147.7 279.4l3.1 1.9M43.7 197.0l2.1 1.4M148.2 281.0l1.6 1.5M77.4 248.0l3.5 1.5M95.5 229.9l0.5 0.4M117.9 272.2l1.8 2.4M196.3 304.6l-0.5 0.6M169.9 267.1l-1.1 0.2M103.6 260.0l0.4 0.2M43.7 206.9l1.1 0.8M135.8 281.4l1.8 2.6M41.7 203.9l1.4 0.9M68.9 231.5l0.3 0.3M70.1 222.8l1.5 2.3M146.4 285.2l1.4 1.3M142.3 282.2l0.3 0.4M78.8 252.8l0.0 0.0M176.2 229.1l-0.4 0.3M199.5 264.2l0.6 1.6M52.8 218.8l1.3 1.0M111.4 252.4l1.0 1.1M47.1 226.1l3.3 3.0M53.0 217.7l1.7 1.4M138.5 282.9l1.7 1.9M142.5 223.8l1.9 0.6M69.4 223.9l0.6 0.7M163.8 212.0l-1.9 1.0M129.8 197.3l0.6 0.2M47.6 220.8l0.6 0.5M118.9 271.6l0.2 0.3M173.5 292.0l0.4 0.4M131.9 216.2l1.3 1.7M74.6 210.3l1.2 1.3M97.3 265.2l3.1 2.0M155.1 263.3l0.4 0.2M41.1 201.8l3.5 2.6M136.2 293.3l1.5 1.3M137.9 273.9l2.2 2.6M126.2 262.1l0.6 0.5M141.1 288.8l1.4 1.5M80.9 240.5l1.9 1.9M145.9 287.7l0.5 0.6M109.4 253.1l1.7 1.3M124.4 265.2l3.0 3.3M75.3 222.5l2.5 1.8M51.6 209.4l1.4 1.4M55.7 214.8l0.5 0.2M150.5 270.7l2.6 1.7M117.9 245.7l0.4 0.4M104.5 230.9l0.8 1.1M114.7 276.1l2.1 1.6M89.5 239.9l1.0 0.8M200.9 275.4l1.4 0.4M51.7 238.6l1.9 1.0M131.1 193.0l1.7 1.4M109.5 267.3l0.9 0.8M73.6 255.5l0.5 0.6M117.3 194.5l1.6 1.4M110.3 263.2l3.5 2.2M172.6 304.7l-0.5 0.9" stroke="#ffffff" stroke-width="0.6" stroke-linecap="round" fill="none"/>
<path d="M185.2 198.0l0.4 0.6M186.9 210.9l0.1 1.0M164.0 283.3l-2.2 0.8M76.6 217.5l1.0 0.5M190.4 270.5l-0.2 0.4M79.8 226.6l2.5 2.1M72.9 207.0l1.3 2.1M109.3 259.1l1.9 2.3M158.4 244.6l0.9 0.3M177.8 300.7l-0.7 0.3M156.7 298.5l1.6 1.4M173.5 228.2l0.5 2.0M196.1 200.3l-0.2 0.1M198.5 300.5l2.0 0.0M196.7 209.4l-0.9 0.6M69.6 216.1l0.8 1.3M156.2 252.3l2.4 0.2M194.2 262.3l0.7 0.7M121.3 247.5l1.2 0.9M92.7 239.9l1.2 1.2M51.0 203.2l3.0 2.0M36.6 234.3l1.7 1.6M200.8 253.2l0.4 1.5M90.0 257.1l3.0 0.7M79.5 239.2l3.0 3.0M177.4 249.0l2.0 0.3M201.2 201.5l-0.4 0.1M69.1 245.7l3.4 2.2M196.5 223.4l-1.9 1.0M160.8 243.3l-0.8 2.1M44.1 235.4l0.9 0.9M98.3 231.5l1.1 1.4M111.9 256.7l2.6 1.9M99.7 224.5l1.1 1.2M41.7 226.1l3.5 2.4M165.8 256.1l-1.3 0.8M152.4 243.2l-1.4 2.0M168.1 241.5l1.3 0.1M148.1 282.5l3.4 1.9M158.4 263.0l-0.4 0.7" stroke="#7a1fd0" stroke-width="0.9" stroke-linecap="round" fill="none"/>
<path d="M123.2 261.3l2.9 2.1M103.8 271.3l1.9 1.2M139.1 276.3l2.4 1.7M109.8 201.4l0.5 0.4M62.8 215.5l2.2 2.7M124.8 292.3l1.0 1.4M115.8 266.4l1.4 1.4M57.4 220.8l1.5 2.3M168.8 289.9l0.6 1.7M159.5 280.9l0.9 1.5M155.7 285.0l-0.1 0.5M194.0 244.2l-1.0 0.1M113.4 267.0l1.8 1.8M198.8 297.8l-0.2 0.1M108.3 197.8l1.7 1.7M50.4 207.1l1.6 2.3M54.8 242.7l1.1 1.7M128.8 269.6l2.0 1.7M90.4 207.5l1.5 0.5M113.1 279.4l1.0 1.0M164.9 295.1l-1.0 1.3M118.3 254.2l1.4 1.3M175.0 296.4l-1.5 0.4M140.6 208.5l0.4 1.6M41.2 222.1l2.2 2.0M191.5 239.2l-2.1 1.3M44.5 229.1l2.0 1.7M115.2 253.6l1.5 2.0M195.2 238.0l-0.8 1.1M177.7 200.2l-1.2 1.7M196.1 197.3l-1.0 2.1M196.0 281.2l-1.2 0.8M69.9 194.4l1.4 0.4M50.3 223.6l3.0 3.3M164.9 281.8l-0.7 1.0M104.4 240.8l1.8 1.3M88.5 224.8l0.8 0.5M58.3 230.4l2.6 2.1M101.6 262.0l2.5 2.3M45.7 210.0l1.7 1.1M150.6 204.6l0.3 0.3M129.9 263.1l2.9 2.8M77.7 235.3l2.7 2.3M191.7 239.5l-0.6 0.7M81.1 239.5l1.8 1.8M128.9 228.8l0.5 0.7M182.4 273.7l0.9 1.4M157.4 284.1l0.0 0.3M173.8 241.1l-1.7 0.0M194.9 264.0l-0.0 1.1M89.3 235.6l0.9 0.9M47.5 300.8l0.6 1.5M126.5 284.5l3.9 1.9M78.4 209.0l0.7 1.1M70.6 251.6l0.8 0.8M156.0 241.1l1.2 0.1" stroke="#b018e0" stroke-width="0.7" stroke-linecap="round" fill="none"/>
<path d="M129.5 260.6l2.8 3.1M55.8 197.2l0.6 0.7M83.1 237.5l2.3 2.0M40.7 211.8l1.8 2.3M124.5 268.5l1.2 2.1M88.0 256.4l0.8 0.9M150.3 195.4l0.2 0.3M121.4 274.7l0.6 0.5M181.6 306.2l-0.9 1.3M76.9 227.3l1.7 1.2M173.2 245.0l0.2 0.0M89.3 260.6l1.2 0.6M65.6 227.0l0.5 0.2M123.1 223.1l1.2 1.0M37.8 212.0l2.5 3.2M176.0 239.8l0.4 1.0M126.8 262.8l1.2 1.5M116.4 274.3l2.7 2.7M68.4 242.2l3.0 2.7M71.8 244.5l1.5 2.6M144.6 286.6l0.3 0.2M169.7 295.9l-1.2 2.1M68.1 244.4l0.1 0.2M132.5 252.7l0.5 0.2M108.8 281.8l1.8 0.5M111.5 256.6l2.1 1.8M71.6 233.8l0.8 1.1M56.8 207.1l1.0 1.3M147.2 209.8l0.4 0.4M144.4 193.6l0.4 0.8M178.2 294.9l-0.1 0.2M46.1 235.1l0.3 0.7M150.5 286.8l3.9 2.2M93.4 230.1l0.3 0.0M63.6 234.0l2.6 3.5M176.3 306.5l0.5 1.1M179.4 307.1l-2.1 1.2M115.5 249.1l1.5 0.5M95.8 234.7l1.3 2.0M78.2 237.8l2.7 2.8M189.6 297.7l0.2 0.2M175.3 236.0l-0.6 0.5M51.0 221.5l3.3 2.3M115.2 222.7l0.1 2.3M70.7 229.6l1.8 3.0M117.1 244.4l1.0 1.0M172.9 242.8l0.0 0.8M92.4 239.3l1.4 1.3M59.6 222.8l2.8 3.2M192.2 284.3l-0.2 0.1M82.9 236.8l2.5 1.4M102.1 265.1l0.1 0.1M76.8 237.6l0.3 0.3M184.4 272.4l0.5 1.6M119.0 277.6l2.8 2.5M109.9 253.3l1.0 2.6" stroke="#f6c8ee" stroke-width="0.7" stroke-linecap="round" fill="none"/>
<path d="M159.4 267.3l-0.8 0.8M146.2 209.3l1.5 1.2M81.2 235.9l0.9 0.9M70.6 238.1l3.1 2.3M103.7 273.8l1.0 1.6M150.4 277.3l1.9 1.8M164.3 237.3l-0.2 1.8M189.9 240.1l0.1 0.7M111.2 235.3l0.4 0.5M40.1 210.9l2.5 1.5M189.8 294.6l-0.8 2.5M167.2 282.7l-2.4 0.2M169.3 227.6l0.0 0.2M176.1 305.1l-1.3 1.4M154.2 301.8l1.1 1.0M156.7 288.3l0.1 0.5M83.1 216.4l0.6 0.6M100.7 229.6l1.0 0.9M170.5 246.8l1.2 0.3M198.6 243.2l-0.9 1.7M87.8 194.3l0.8 0.6M156.1 270.7l-1.5 0.8M184.6 278.8l-2.2 0.5M79.7 227.6l2.5 1.4M131.6 206.6l1.8 0.7M149.0 225.8l1.7 1.5M131.1 257.9l2.0 1.0M70.3 229.5l2.1 2.2M117.6 270.6l2.2 2.7M115.5 202.2l1.1 1.3M137.4 276.1l2.7 2.0M162.3 247.7l-0.0 1.1M112.8 279.7l1.6 0.6M119.3 251.9l1.1 0.8M171.7 307.2l0.4 1.3M136.0 247.4l1.9 1.8M40.7 205.4l3.0 2.2M94.9 225.4l0.9 1.4M143.0 282.9l1.0 0.7M116.0 198.9l1.3 1.1M147.3 263.4l0.8 1.9M124.0 255.0l0.2 0.4M164.1 281.9l1.7 1.5M69.0 225.2l2.4 2.2M190.6 246.4l-1.7 0.0M77.6 247.1l1.7 1.3M149.7 259.1l2.1 0.9M165.9 298.2l-1.1 1.1M144.1 274.5l1.1 1.0M191.4 283.4l1.9 0.3M117.9 291.6l0.6 0.7M192.7 208.0l-0.5 0.4M184.3 218.3l0.5 1.1M87.4 251.7l2.0 2.1M160.5 278.4l-0.6 1.4M135.1 225.9l1.1 1.7M140.3 215.6l0.8 0.9M40.0 204.7l3.8 1.3M186.3 286.5l-2.5 0.5M134.0 199.3l0.4 1.5M87.0 193.9l2.3 0.9" stroke="#b018e0" stroke-width="0.9" stroke-linecap="round" fill="none"/>
<path d="M100.5 253.4l1.3 1.1M181.1 306.5l-0.1 1.8M52.8 206.0l3.2 2.7M175.5 215.8l2.3 0.9M178.1 295.8l0.7 0.5M106.0 204.1l1.4 1.1M181.2 212.7l1.6 1.6M57.7 201.0l0.0 1.6M47.4 226.0l1.3 1.2M143.1 283.2l2.9 2.8M97.7 237.3l0.9 1.7M143.7 277.0l0.9 1.1M122.7 264.9l1.0 1.7M179.4 300.7l0.3 2.3M52.6 226.0l2.1 1.6M176.2 244.9l0.7 1.9M38.5 208.0l2.2 2.2M123.3 282.1l2.3 1.6M200.2 269.3l0.7 1.9M40.4 213.3l1.2 1.4M122.5 253.9l0.5 0.2M50.5 211.6l1.2 1.1M73.6 198.1l1.4 1.1M90.0 259.7l2.0 2.5" stroke="#e8305a" stroke-width="0.7" stroke-linecap="round" fill="none"/>
<path d="M121.0 258.6l2.5 1.8M115.7 271.6l3.1 2.7M72.1 243.9l0.4 0.4M109.7 254.5l1.1 1.0M55.2 218.7l1.0 2.3M133.2 264.4l1.2 2.4M58.4 211.0l0.0 0.0M81.2 247.5l2.7 2.7M117.3 257.7l0.3 0.3M63.7 215.5l2.9 2.6M110.2 259.3l2.5 2.5M109.4 251.6l2.3 1.7M44.2 223.5l1.1 1.0M131.8 281.7l2.5 2.5M92.7 235.3l0.1 0.1M41.3 218.3l0.2 0.1M123.5 270.8l1.5 1.5M99.8 257.1l0.4 0.4M93.2 251.5l3.0 2.6M55.3 222.8l0.6 0.2M152.8 283.0l2.1 1.7M58.0 219.7l2.7 3.1M41.8 223.2l0.7 0.6M56.9 228.9l1.3 1.1M111.6 264.6l3.0 2.3M67.3 225.8l1.4 1.8" stroke="#ffd8f0" stroke-width="0.7" stroke-linecap="round" fill="none"/>
<path d="M65.8 230.8l2.1 2.4M90.9 251.7l2.6 2.3M141.2 280.4l0.2 0.3M71.9 234.7l2.0 1.7M84.2 238.3l1.9 1.6M100.4 254.4l0.2 0.2M154.6 293.2l2.5 2.3M64.0 228.4l0.5 0.3M46.7 225.8l2.0 1.9M103.8 247.8l0.9 1.0M151.3 279.2l1.5 1.1M43.8 221.0l1.0 0.8M101.9 257.3l3.1 2.8M139.7 291.0l0.4 0.6M135.1 292.9l2.7 2.8M83.6 251.2l0.7 0.7M45.4 202.7l0.7 0.5" stroke="#ffd8f0" stroke-width="1.2" stroke-linecap="round" fill="none"/>
<path d="M88.1 243.3l0.4 0.5M59.9 240.6l0.6 0.5M53.9 202.7l3.0 3.1M138.4 283.5l0.6 0.7M154.7 289.2l0.4 0.5M148.9 288.5l0.4 0.4M134.1 272.2l2.1 2.9M90.6 242.0l0.3 0.3M85.9 246.3l1.3 1.6M81.3 247.3l1.6 1.8M150.0 284.8l2.7 3.0M63.3 217.6l1.6 1.1M91.6 254.6l0.3 0.3M61.9 237.6l0.8 0.6M150.5 281.7l0.5 0.3M139.6 288.8l1.1 0.7" stroke="#ffd8f0" stroke-width="0.9" stroke-linecap="round" fill="none"/>
</g>
<g stroke="#f0f0e8" stroke-width="0.6" fill="none" stroke-dasharray="3.6 2"><rect x="103.6" y="241.9" width="22.3" height="22.3"/><line x1="125.9" y1="241.9" x2="200.8" y2="199.5"/><line x1="125.9" y1="264.2" x2="200.8" y2="304"/></g>
<text x="38.3" y="304.6" font-size="3.4" text-anchor="start" font-weight="normal" font-style="normal" fill="#ddd" >20μm</text>
<line x1="38.3" y1="305.6" x2="46" y2="305.6" stroke="#ddd" stroke-width="0.5" />
<rect x="207.90" y="193.30" width="115.60" height="114.40" fill="#030208" stroke="none" stroke-width="0" />
<g clip-path="url(#cz)" filter="url(#b6)">
<path d="M279.9 278.2l5.7 9.6M227.1 295.3l1.7 8.1" stroke="#e83838" stroke-width="2.6" stroke-linecap="round" fill="none"/>
<path d="M297.6 221.8l3.4 1.1M260.2 274.3l6.9 7.1M261.9 211.2l4.1 3.2M250.6 300.6l6.1 5.5M245.4 245.2l4.9 2.9" stroke="#a018c8" stroke-width="2.6" stroke-linecap="round" fill="none"/>
<path d="M251.9 205.0l4.8 5.7M317.8 226.8l5.7 3.8" stroke="#a018c8" stroke-width="5.0" stroke-linecap="round" fill="none"/>
<path d="M223.9 263.9l1.3 4.2M267.8 292.1l6.7 10.8M270.1 242.0l5.5 7.1" stroke="#c81ed0" stroke-width="2.6" stroke-linecap="round" fill="none"/>
<path d="M318.9 212.3l2.9 4.3M307.3 197.5l6.5 11.7M223.0 277.0l4.2 10.9M212.1 222.2l4.0 6.9M290.7 220.4l5.0 6.5" stroke="#c81ed0" stroke-width="3.4" stroke-linecap="round" fill="none"/>
<path d="M319.6 295.5l3.1 5.5M298.3 221.4l9.1 10.5M242.6 300.2l5.5 11.9" stroke="#d83ad8" stroke-width="5.0" stroke-linecap="round" fill="none"/>
<path d="M238.4 231.3l5.1 8.1M304.5 223.6l5.9 12.5M318.0 291.2l3.9 8.1M293.6 227.7l3.7 4.5M212.9 205.7l4.3 5.8M212.2 214.6l7.5 11.0M294.6 270.2l1.7 2.9M274.3 268.4l9.6 4.9" stroke="#c81ed0" stroke-width="4.2" stroke-linecap="round" fill="none"/>
<path d="M302.5 248.3l5.4 3.5M253.8 200.2l4.2 4.0" stroke="#e03050" stroke-width="5.0" stroke-linecap="round" fill="none"/>
<path d="M237.5 300.7l3.4 6.6M293.7 293.8l3.2 5.6M283.6 203.1l3.0 3.2" stroke="#e83838" stroke-width="5.0" stroke-linecap="round" fill="none"/>
<path d="M315.4 301.1l6.4 5.9M224.7 305.3l5.6 8.3M248.1 267.0l8.8 6.7M276.7 272.1l4.4 11.6" stroke="#b030e0" stroke-width="5.0" stroke-linecap="round" fill="none"/>
<path d="M314.0 232.2l2.7 5.9M215.2 284.3l2.6 2.1M247.2 213.7l5.8 9.9" stroke="#d83ad8" stroke-width="4.2" stroke-linecap="round" fill="none"/>
<path d="M280.4 275.8l4.8 4.3M260.3 249.1l4.2 4.6M257.5 305.0l8.9 6.0M243.4 299.6l6.3 8.1M301.3 292.1l3.0 7.4" stroke="#e03050" stroke-width="3.4" stroke-linecap="round" fill="none"/>
<path d="M322.0 254.3l7.1 6.3M272.0 264.3l3.8 4.3M255.3 198.4l3.7 8.3" stroke="#b030e0" stroke-width="4.2" stroke-linecap="round" fill="none"/>
<path d="M214.7 241.4l3.3 3.2M308.5 272.0l0.8 8.7M252.0 230.6l6.4 11.4" stroke="#e83838" stroke-width="3.4" stroke-linecap="round" fill="none"/>
<path d="M280.4 250.4l5.6 3.8M316.3 247.9l7.5 7.5M233.2 271.8l7.4 6.6M275.2 267.5l3.8 3.0M302.6 283.9l7.3 8.2M263.4 230.3l8.4 8.3M317.1 242.4l2.2 3.3M299.9 236.6l4.2 4.6M316.6 267.2l3.0 0.8" stroke="#c81ed0" stroke-width="5.0" stroke-linecap="round" fill="none"/>
<path d="M242.9 256.6l7.5 11.8M249.8 197.5l11.1 8.4M240.6 277.1l9.5 5.3" stroke="#a018c8" stroke-width="3.4" stroke-linecap="round" fill="none"/>
<path d="M251.9 263.3l2.7 9.1M224.1 264.8l6.1 3.2M225.8 211.5l9.7 8.2" stroke="#a018c8" stroke-width="4.2" stroke-linecap="round" fill="none"/>
<path d="M303.5 194.8l5.4 7.0" stroke="#d83ad8" stroke-width="3.4" stroke-linecap="round" fill="none"/>
<path d="M242.7 254.3l6.4 6.1" stroke="#e03050" stroke-width="4.2" stroke-linecap="round" fill="none"/>
<path d="M311.8 246.5l8.1 7.9" stroke="#d83ad8" stroke-width="2.6" stroke-linecap="round" fill="none"/>
<path d="M222.2 207.3l6.6 7.2" stroke="#b030e0" stroke-width="2.6" stroke-linecap="round" fill="none"/>
<path d="M322.8 274.0l3.8 3.4" stroke="#b030e0" stroke-width="3.4" stroke-linecap="round" fill="none"/>
<path d="M313.7 209.1l3.0 5.5" stroke="#e83838" stroke-width="4.2" stroke-linecap="round" fill="none"/>
<path d="M309.1 302.0l11.1 12.8M229.6 220.0l11.5 17.5M299.3 203.2l5.9 6.9M292.3 264.8l10.1 9.9M249.2 241.7l6.8 7.1M209.3 279.8l14.4 10.2M311.0 307.7l11.2 9.7M298.1 223.4l9.9 9.4M223.2 254.7l16.1 10.4M319.8 269.5l8.1 8.7M264.9 221.8l15.4 13.3M310.3 201.5l16.0 9.8M251.8 281.3l13.2 16.6M223.1 196.5l7.1 7.1M287.4 282.7l9.5 10.3M220.2 285.4l11.2 11.3M245.0 228.4l7.9 9.7M211.8 255.3l11.3 14.5M211.1 207.2l7.1 12.2M237.7 302.1l6.1 5.5M268.9 207.6l7.0 7.6M279.5 212.0l13.3 17.2M238.9 262.6l13.9 12.5M258.1 242.4l9.5 8.4M259.4 219.4l6.6 5.7" stroke="#1a1a90" stroke-width="2.2" stroke-linecap="round" fill="none"/>
<path d="M285.1 211.7l1.4 1.0M231.8 226.1l0.5 0.2M275.0 280.2l2.2 1.8M287.5 305.8l0.9 0.9M304.4 302.8l1.2 0.4" stroke="#3030ff" stroke-width="5.8" stroke-linecap="round" fill="none"/>
<path d="M208.1 207.8l0.3 1.0M265.0 233.2l0.8 1.2M256.3 203.0l0.6 1.4M252.3 296.5l0.5 2.4M319.7 256.6l2.3 1.2M301.6 195.7l2.4 -1.1" stroke="#2222f0" stroke-width="4.2" stroke-linecap="round" fill="none"/>
<path d="M313.0 220.3l2.2 0.3M235.0 197.6l0.7 0.2M296.4 221.4l0.8 2.7M208.5 305.5l0.2 0.4M242.1 206.7l2.2 0.7" stroke="#3030ff" stroke-width="5.0" stroke-linecap="round" fill="none"/>
<path d="M261.6 216.3l1.0 1.5M253.8 279.5l0.6 1.1M256.1 242.0l1.7 0.7M230.3 211.2l0.7 0.2M311.2 256.1l1.9 -0.1M220.6 240.0l0.9 1.3M321.9 224.3l1.7 1.5M260.2 208.1l0.4 0.6" stroke="#2222f0" stroke-width="5.0" stroke-linecap="round" fill="none"/>
<path d="M248.6 221.7l2.7 1.1M253.4 193.6l1.8 1.1M279.1 205.3l1.7 1.9M224.3 296.9l1.4 1.6" stroke="#2222f0" stroke-width="5.8" stroke-linecap="round" fill="none"/>
<path d="M263.1 247.1l0.8 0.5M287.4 289.2l0.8 0.7" stroke="#1c1ce0" stroke-width="4.2" stroke-linecap="round" fill="none"/>
<path d="M219.9 262.5l1.5 1.4M216.9 302.0l0.4 0.6M242.1 256.8l1.7 0.9M245.6 205.0l0.4 0.5" stroke="#3030ff" stroke-width="4.2" stroke-linecap="round" fill="none"/>
<path d="M244.6 196.4l1.4 0.9M254.0 305.7l0.8 2.4M285.4 254.7l1.2 1.6M278.8 237.5l0.4 0.6M219.8 200.7l1.0 1.3M317.1 201.6l1.8 1.6" stroke="#1c1ce0" stroke-width="5.8" stroke-linecap="round" fill="none"/>
<path d="M311.5 220.7l2.9 0.2M233.9 200.5l2.7 -0.3" stroke="#1c1ce0" stroke-width="5.0" stroke-linecap="round" fill="none"/>
<path d="M320.2 215.5l5.7 3.4M297.5 210.7l5.9 -0.4" stroke="#ffffff" stroke-width="2.0" stroke-linecap="round" fill="none"/>
<path d="M267.9 302.7l4.1 1.4M226.4 281.5l4.0 2.1M239.2 247.0l2.3 1.9M260.9 246.9l2.1 4.9" stroke="#ffffff" stroke-width="1.2" stroke-linecap="round" fill="none"/>
<path d="M210.7 281.3l6.5 1.8M298.2 241.6l-1.0 2.3" stroke="#ffe8f8" stroke-width="1.2" stroke-linecap="round" fill="none"/>
<path d="M323.4 279.8l2.3 6.9" stroke="#f8d0f0" stroke-width="2.0" stroke-linecap="round" fill="none"/>
<path d="M295.5 202.1l2.6 2.9" stroke="#f8d0f0" stroke-width="1.2" stroke-linecap="round" fill="none"/>
<path d="M282.8 278.8l3.2 3.2" stroke="#f0b0e8" stroke-width="2.8" stroke-linecap="round" fill="none"/>
<path d="M301.8 203.1l1.0 1.6" stroke="#f0b0e8" stroke-width="2.0" stroke-linecap="round" fill="none"/>
<path d="M220.7 266.9l1.4 1.2M251.2 232.3l0.4 0.9M291.2 201.2l0.9 0.2M227.3 256.5l0.9 1.0" stroke="#f03030" stroke-width="1.6" stroke-linecap="round" fill="none"/>
<path d="M271.2 244.0l-0.2 1.0M260.3 227.5l3.6 0.3M283.9 250.3l3.6 1.2M231.6 203.4l0.3 1.7" stroke="#f03030" stroke-width="2.2" stroke-linecap="round" fill="none"/>
<path d="M209.4 237.4l1.3 -0.1M209.7 217.5l0.8 1.1M300.9 220.6l-0.4 2.9M260.4 200.1l0.2 0.8M209.0 198.3l1.5 3.2M287.3 244.5l2.1 1.4" stroke="#f03030" stroke-width="1.0" stroke-linecap="round" fill="none"/>
<path d="M272.4 243.6l1.7 3.3M212.8 275.2l1.1 1.1" stroke="#ffe040" stroke-width="2.2" stroke-linecap="round" fill="none"/>
<path d="M239.8 260.0l1.3 2.2" stroke="#40e040" stroke-width="1.6" stroke-linecap="round" fill="none"/>
<path d="M242.8 212.4l1.0 1.8M303.8 209.1l2.2 1.2M237.0 196.1l1.3 0.4M299.1 273.6l3.7 -0.1M258.1 257.7l1.2 -0.5" stroke="#ff5030" stroke-width="2.2" stroke-linecap="round" fill="none"/>
<path d="M279.5 204.6l1.6 1.6M276.0 206.7l2.9 1.0" stroke="#ffe040" stroke-width="1.6" stroke-linecap="round" fill="none"/>
<path d="M223.8 199.2l3.0 0.9M278.7 218.6l0.3 0.6" stroke="#ffe040" stroke-width="1.0" stroke-linecap="round" fill="none"/>
<path d="M257.1 264.4l0.8 0.6" stroke="#40e040" stroke-width="1.0" stroke-linecap="round" fill="none"/>
<path d="M279.2 215.7l2.3 -0.1" stroke="#40e040" stroke-width="2.2" stroke-linecap="round" fill="none"/>
<path d="M298.1 222.0l2.4 0.8M224.1 264.6l0.9 2.9M223.2 208.4l4.6 5.0" stroke="#f8d0f0" stroke-width="1.6" stroke-linecap="round" fill="none"/>
<path d="M252.6 205.8l3.4 4.0M303.3 248.8l3.8 2.5M238.0 301.7l2.4 4.6M303.7 285.1l5.1 5.7M254.5 200.8l2.9 2.8" stroke="#ffffff" stroke-width="3.0" stroke-linecap="round" fill="none"/>
<path d="M319.3 212.9l2.0 3.0M223.6 278.6l3.0 7.6M261.0 249.8l2.9 3.2M244.0 258.4l5.3 8.2M244.4 300.9l4.4 5.7M323.4 274.5l2.6 2.3M242.1 277.9l6.7 3.7" stroke="#f8d0f0" stroke-width="2.0" stroke-linecap="round" fill="none"/>
<path d="M320.1 296.4l2.2 3.8M225.6 306.5l3.9 5.8M249.4 268.0l6.2 4.7M277.3 273.9l3.1 8.2M264.7 231.5l5.9 5.8M243.5 302.0l3.8 8.4" stroke="#f8d0f0" stroke-width="3.0" stroke-linecap="round" fill="none"/>
<path d="M239.2 232.5l3.6 5.7M215.6 284.6l1.8 1.5M248.1 215.2l4.1 6.9M318.6 292.4l2.7 5.7M225.0 265.3l4.3 2.2M275.8 269.1l6.7 3.4" stroke="#f6b8e8" stroke-width="2.5" stroke-linecap="round" fill="none"/>
<path d="M316.3 302.0l4.5 4.2M281.2 251.0l3.9 2.6M318.7 227.4l4.0 2.7M294.2 294.6l2.3 3.9" stroke="#f6b8e8" stroke-width="3.0" stroke-linecap="round" fill="none"/>
<path d="M308.3 199.2l4.6 8.2M308.6 273.3l0.6 6.1M258.9 305.9l6.3 4.2" stroke="#f6b8e8" stroke-width="2.0" stroke-linecap="round" fill="none"/>
<path d="M314.4 233.1l1.9 4.1M213.6 206.5l3.0 4.0" stroke="#ffffff" stroke-width="2.5" stroke-linecap="round" fill="none"/>
<path d="M281.1 276.4l3.3 3.0M301.8 293.2l2.1 5.2M251.4 198.7l7.8 5.9" stroke="#ffffff" stroke-width="2.0" stroke-linecap="round" fill="none"/>
<path d="M323.0 255.3l5.0 4.4M252.3 264.7l1.9 6.4M213.3 216.3l5.3 7.7" stroke="#ffe8f8" stroke-width="2.5" stroke-linecap="round" fill="none"/>
<path d="M317.4 249.0l5.3 5.2M299.7 223.0l6.4 7.3M284.1 203.5l2.1 2.2" stroke="#ffe8f8" stroke-width="3.0" stroke-linecap="round" fill="none"/>
<path d="M227.3 296.5l1.2 5.7M270.9 243.0l3.9 4.9" stroke="#f6b8e8" stroke-width="1.6" stroke-linecap="round" fill="none"/>
<path d="M262.6 211.7l2.9 2.2M246.1 245.7l3.4 2.0" stroke="#ffffff" stroke-width="1.6" stroke-linecap="round" fill="none"/>
<path d="M253.0 232.3l4.5 8.0M212.7 223.2l2.8 4.9M291.5 221.4l3.5 4.5" stroke="#ffe8f8" stroke-width="2.0" stroke-linecap="round" fill="none"/>
<path d="M243.6 255.3l4.4 4.3M272.6 265.0l2.7 3.0M227.2 212.7l6.8 5.7" stroke="#f8d0f0" stroke-width="2.5" stroke-linecap="round" fill="none"/>
<path d="M313.0 247.7l5.7 5.5" stroke="#ffe8f8" stroke-width="1.6" stroke-linecap="round" fill="none"/>
</g>
<text x="219" y="303.3" font-size="3.4" text-anchor="start" font-weight="normal" font-style="normal" fill="#ddd" >20μm</text>
<line x1="210.5" y1="305.6" x2="244.5" y2="305.6" stroke="#ddd" stroke-width="0.7" />
<rect x="326.10" y="193.30" width="55.90" height="55.40" fill="#030208" stroke="none" stroke-width="0" />
<g clip-path="url(#cs1)" filter="url(#b5)">
<path d="M376.7 231.3l3.2 3.6M361.6 243.4l8.6 3.0M358.1 202.7l3.6 0.8M343.9 245.9l2.6 5.6M337.8 210.9l3.5 4.9M361.2 237.9l5.0 4.1M330.7 225.1l2.8 3.3M364.9 209.0l5.4 5.6M335.2 199.8l4.0 8.1M338.4 206.5l2.1 2.3M362.1 210.0l4.0 6.0M351.1 201.8l3.9 6.3M357.2 217.3l4.6 7.8M364.7 248.5l2.6 6.6M345.4 199.7l5.0 3.4M381.6 239.8l3.1 2.2M375.5 193.4l6.3 5.1M379.3 222.7l6.7 5.0M329.1 230.3l3.1 4.4M330.2 234.7l2.2 3.0M340.5 198.1l2.5 2.1M327.6 205.5l5.3 3.9M326.8 194.6l3.1 2.4M343.5 200.3l4.2 2.6M347.8 205.4l3.4 3.8M357.1 242.4l4.5 6.0M351.2 193.5l3.6 4.6M373.5 243.6l2.5 4.4" stroke="#15158a" stroke-width="1.6" stroke-linecap="round" fill="none"/>
<path d="M346.5 209.8l0.7 0.6M350.9 238.2l0.7 2.2M374.4 241.8l0.6 0.4M379.9 246.9l0.6 0.1" stroke="#f06020" stroke-width="1.2" stroke-linecap="round" fill="none"/>
<path d="M367.2 209.0l2.1 1.3M353.7 212.8l0.5 2.1" stroke="#f06020" stroke-width="0.8" stroke-linecap="round" fill="none"/>
<path d="M329.8 219.3l1.2 1.4M340.3 237.7l0.5 2.3M337.6 196.2l0.6 0.2M360.1 232.9l0.4 0.9M352.5 232.8l-0.9 1.1M332.0 203.8l1.6 0.3" stroke="#e83020" stroke-width="1.6" stroke-linecap="round" fill="none"/>
<path d="M360.9 212.2l0.2 0.2M379.2 231.4l0.3 0.3M374.8 211.0l1.6 1.9M328.3 203.8l1.1 -0.3M355.1 234.7l1.8 1.6M368.8 240.9l-0.1 2.0" stroke="#d02818" stroke-width="1.2" stroke-linecap="round" fill="none"/>
<path d="M360.2 246.8l-0.5 0.6M345.9 243.4l0.6 2.4M356.0 237.5l0.5 1.8M334.5 211.9l2.1 1.1" stroke="#ff4820" stroke-width="1.6" stroke-linecap="round" fill="none"/>
<path d="M371.9 194.4l0.3 0.5M361.3 245.3l0.2 0.3M329.8 226.3l0.7 1.2M328.0 212.8l0.8 0.5M341.5 212.2l0.4 0.5" stroke="#e83020" stroke-width="0.8" stroke-linecap="round" fill="none"/>
<path d="M364.2 212.7l0.3 0.5M376.5 238.8l2.0 1.2M361.8 233.9l1.3 1.0" stroke="#ff4820" stroke-width="1.2" stroke-linecap="round" fill="none"/>
<path d="M355.5 207.0l1.4 0.6M367.8 233.2l0.5 0.2M336.7 209.3l0.3 0.4M327.8 207.4l1.1 0.2" stroke="#d02818" stroke-width="1.6" stroke-linecap="round" fill="none"/>
<path d="M345.1 206.9l0.9 1.8M348.6 243.9l0.5 1.7" stroke="#d02818" stroke-width="0.8" stroke-linecap="round" fill="none"/>
<path d="M334.3 207.7l-0.7 1.2M343.2 248.0l1.4 -1.7M344.9 206.5l1.0 0.8M356.3 245.9l1.4 1.6" stroke="#e83020" stroke-width="1.2" stroke-linecap="round" fill="none"/>
<path d="M350.9 243.1l0.2 1.4M348.9 233.0l1.4 1.2M372.3 198.6l1.4 0.9M329.5 234.3l2.1 0.4" stroke="#ff4820" stroke-width="0.8" stroke-linecap="round" fill="none"/>
<path d="M380.9 243.7l2.2 1.2" stroke="#f06020" stroke-width="1.6" stroke-linecap="round" fill="none"/>
<path d="M373.9 221.5l1.2 0.2M370.9 236.5l0.8 0.6M340.5 199.3l1.3 0.6" stroke="#2222f0" stroke-width="2.0" stroke-linecap="round" fill="none"/>
<path d="M337.9 247.8l1.6 1.1M335.7 246.7l0.4 0.7M351.0 211.0l0.8 0.7M372.6 233.5l0.8 -0.2M356.8 204.6l0.7 0.3" stroke="#3030ff" stroke-width="2.0" stroke-linecap="round" fill="none"/>
<path d="M374.8 199.9l0.1 1.2M327.5 195.2l0.1 0.3M355.3 199.8l-0.1 0.7M337.5 196.1l0.9 -0.4" stroke="#3030ff" stroke-width="2.6" stroke-linecap="round" fill="none"/>
<path d="M346.5 234.8l0.2 0.3M366.3 220.7l0.5 0.1M369.1 201.5l1.3 -0.1M377.7 197.3l0.4 0.5" stroke="#1c1ce0" stroke-width="2.0" stroke-linecap="round" fill="none"/>
<path d="M341.8 227.9l1.1 0.8M330.1 242.5l-0.2 1.6M339.8 206.5l0.3 0.2M328.0 221.2l0.4 0.3M337.5 205.3l0.5 1.4M338.3 225.5l0.9 0.7M338.9 200.9l0.4 0.2" stroke="#3030ff" stroke-width="3.0" stroke-linecap="round" fill="none"/>
<path d="M327.0 236.4l0.4 0.2M377.5 226.9l0.9 0.1M341.4 248.2l0.3 0.2M344.3 218.6l0.4 0.1M330.6 198.2l0.2 0.9M378.7 205.0l0.7 0.5" stroke="#2222f0" stroke-width="2.6" stroke-linecap="round" fill="none"/>
<path d="M367.1 231.3l-0.8 1.1M338.9 207.1l0.9 -0.1M329.4 236.8l0.7 0.2M333.1 247.1l1.2 1.0" stroke="#2222f0" stroke-width="3.0" stroke-linecap="round" fill="none"/>
<path d="M354.0 243.3l0.6 1.6M360.6 193.9l0.7 0.8" stroke="#1c1ce0" stroke-width="2.6" stroke-linecap="round" fill="none"/>
<path d="M330.7 243.2l1.2 0.2M365.6 241.9l0.4 0.1M349.9 223.7l-0.1 0.7" stroke="#1c1ce0" stroke-width="3.0" stroke-linecap="round" fill="none"/>
<path d="M337.3 223.8l1.5 1.2M340.1 226.5l1.5 1.2M369.7 226.5l1.5 1.2M375.3 201.6l1.5 1.2M337.3 203.3l1.5 1.2M349.6 208.8l1.5 1.2" stroke="#30f030" stroke-width="1.6" stroke-linecap="round" fill="none"/>
<path d="M338.3 223.2l1.0 0.5M341.1 225.9l1.0 0.5M370.7 225.9l1.0 0.5M376.3 201.0l1.0 0.5M338.3 202.7l1.0 0.5M350.6 208.2l1.0 0.5" stroke="#fff040" stroke-width="1.0" stroke-linecap="round" fill="none"/>
</g>
<text x="331" y="244.50000000000003" font-size="3.4" text-anchor="start" font-weight="normal" font-style="normal" fill="#ddd" >20μm</text>
<line x1="328" y1="246.20000000000002" x2="345" y2="246.20000000000002" stroke="#ddd" stroke-width="0.6" />
<rect x="326.10" y="252.30" width="55.90" height="55.40" fill="#030208" stroke="none" stroke-width="0" />
<g clip-path="url(#cs2)" filter="url(#b5)">
<path d="M335.3 290.5l3.7 2.6M370.4 297.1l5.4 3.8M354.3 265.4l3.9 5.9M330.0 296.3l3.3 3.3M339.1 254.6l3.9 8.2M360.5 254.2l3.8 3.7M353.9 258.7l2.3 3.4M371.8 259.2l7.1 6.3M351.4 282.9l3.4 2.6M328.2 300.3l2.6 3.9M369.7 263.9l2.8 7.8M368.7 284.5l6.2 5.2M332.9 278.7l6.2 7.1M375.7 275.0l4.4 3.4M351.3 273.7l1.7 2.7M331.3 292.1l7.1 7.0M353.8 279.5l4.1 2.0M360.1 283.1l5.7 4.6M336.2 261.7l4.7 2.6M359.5 269.3l1.4 3.4M329.8 297.4l5.3 5.7M363.9 302.1l8.1 5.4M348.9 307.1l4.5 8.0M353.5 273.1l3.6 3.1M375.1 261.3l3.6 7.6M353.1 298.7l2.0 2.7M340.5 268.4l2.7 2.2M345.0 302.1l6.5 7.4" stroke="#15158a" stroke-width="1.6" stroke-linecap="round" fill="none"/>
<path d="M367.8 278.8l3.0 2.9M359.3 288.0l1.4 2.1M378.8 293.4l5.3 4.2M335.2 284.7l1.3 2.3M346.7 278.8l5.2 3.3" stroke="#7018b0" stroke-width="1.2" stroke-linecap="round" fill="none"/>
<path d="M379.4 302.1l0.5 3.1M353.7 264.5l1.7 1.0M339.1 305.7l2.2 1.1M364.0 272.9l3.1 3.3" stroke="#9018c0" stroke-width="1.8" stroke-linecap="round" fill="none"/>
<path d="M359.7 275.9l2.7 1.0M352.9 279.6l4.4 3.6M348.6 277.8l4.1 2.8M336.6 305.5l1.1 0.5M334.4 306.2l1.3 1.7M329.4 297.5l3.3 1.9M363.5 262.6l1.3 2.9" stroke="#d040e0" stroke-width="1.2" stroke-linecap="round" fill="none"/>
<path d="M369.0 252.9l4.3 2.7M346.8 259.8l2.6 3.3M376.8 289.9l4.1 4.9" stroke="#c020d0" stroke-width="1.8" stroke-linecap="round" fill="none"/>
<path d="M333.6 257.6l1.4 0.8M365.2 281.4l3.1 3.0M330.3 284.4l3.1 2.0M354.2 292.6l4.2 2.4" stroke="#c020d0" stroke-width="2.4" stroke-linecap="round" fill="none"/>
<path d="M351.1 260.1l0.9 1.5M331.6 285.6l6.3 2.6" stroke="#d040e0" stroke-width="1.8" stroke-linecap="round" fill="none"/>
<path d="M337.4 293.5l2.8 2.9M371.6 306.4l5.5 4.2M330.0 253.7l4.2 2.7M344.4 264.9l3.9 5.2M371.0 299.0l0.4 1.0M341.2 271.9l2.3 1.5" stroke="#c020d0" stroke-width="1.2" stroke-linecap="round" fill="none"/>
<path d="M347.8 300.2l3.0 1.5M336.6 274.6l4.1 1.5M327.9 265.2l1.7 1.4" stroke="#9018c0" stroke-width="2.4" stroke-linecap="round" fill="none"/>
<path d="M366.7 307.2l5.1 3.0M362.5 287.0l3.4 4.8M353.0 279.9l2.7 0.8M380.0 307.1l1.6 2.4" stroke="#7018b0" stroke-width="2.4" stroke-linecap="round" fill="none"/>
<path d="M360.8 253.4l3.3 2.4M341.5 285.0l4.9 3.1M359.5 267.7l2.4 2.2" stroke="#7018b0" stroke-width="1.8" stroke-linecap="round" fill="none"/>
<path d="M334.2 282.9l1.0 1.1" stroke="#d040e0" stroke-width="2.4" stroke-linecap="round" fill="none"/>
<path d="M330.7 253.9l6.7 1.3M350.5 298.4l5.9 3.7M379.4 275.8l1.8 2.4" stroke="#9018c0" stroke-width="1.2" stroke-linecap="round" fill="none"/>
<path d="M347.9 304.5l-0.2 1.9M336.3 306.3l0.7 0.9M338.8 280.8l1.3 1.0M369.2 293.9l0.7 1.2M350.1 273.2l1.1 0.4M342.7 298.4l0.6 0.9M370.4 303.7l0.3 0.5M362.3 292.1l1.0 0.8M353.3 297.8l0.2 0.8" stroke="#3030ff" stroke-width="2.0" stroke-linecap="round" fill="none"/>
<path d="M377.1 261.9l0.7 0.7M372.2 255.6l0.8 0.8M327.1 295.5l0.4 0.6M377.3 268.5l0.1 0.5" stroke="#1c1ce0" stroke-width="2.0" stroke-linecap="round" fill="none"/>
<path d="M339.5 285.5l0.2 0.9M337.9 258.2l1.9 0.2M376.1 280.8l0.5 0.9M366.3 256.2l1.0 1.0M369.2 279.7l-0.6 1.8M359.3 276.9l1.1 0.1" stroke="#1c1ce0" stroke-width="2.6" stroke-linecap="round" fill="none"/>
<path d="M358.1 307.4l-0.5 1.5M333.9 264.4l0.2 0.3M327.2 287.9l1.2 0.5" stroke="#1c1ce0" stroke-width="3.0" stroke-linecap="round" fill="none"/>
<path d="M328.1 297.9l0.9 0.9M344.8 271.9l1.3 0.0M326.6 299.0l0.4 0.7M350.3 253.5l0.5 0.9M377.9 256.7l1.9 0.4" stroke="#3030ff" stroke-width="3.0" stroke-linecap="round" fill="none"/>
<path d="M374.7 283.0l0.2 0.3M360.6 288.1l0.2 1.2M339.8 276.2l0.7 1.3" stroke="#2222f0" stroke-width="2.6" stroke-linecap="round" fill="none"/>
<path d="M367.8 266.1l0.4 1.9M364.8 268.9l0.1 0.6M334.9 260.8l1.0 0.8M362.1 287.1l0.8 1.2" stroke="#2222f0" stroke-width="3.0" stroke-linecap="round" fill="none"/>
<path d="M331.0 279.5l0.4 0.5M343.0 269.9l1.7 -0.7M340.7 298.0l0.9 0.7" stroke="#3030ff" stroke-width="2.6" stroke-linecap="round" fill="none"/>
<path d="M328.0 279.9l0.1 1.3" stroke="#2222f0" stroke-width="2.0" stroke-linecap="round" fill="none"/>
<path d="M341.2 289.8l2.0 4.2M367.8 298.1l3.5 3.4M374.6 271.0l2.2 3.0M340.0 271.9l2.2 3.1" stroke="#ffffff" stroke-width="1.2" stroke-linecap="round" fill="none"/>
<path d="M366.7 254.9l2.3 2.7" stroke="#f8d0f0" stroke-width="1.2" stroke-linecap="round" fill="none"/>
<path d="M336.5 302.9l0.8 0.8" stroke="#ffffff" stroke-width="0.8" stroke-linecap="round" fill="none"/>
</g>
<text x="331" y="303.5" font-size="3.4" text-anchor="start" font-weight="normal" font-style="normal" fill="#ddd" >20μm</text>
<line x1="328" y1="305.2" x2="345" y2="305.2" stroke="#ddd" stroke-width="0.6" />
<line x1="331.3" y1="230.4" x2="334.5" y2="228.1" stroke="#fff" stroke-width="0.7" />
<polygon points="335.0,227.7 333.7,229.8 332.6,228.3" fill="#fff"/>
<line x1="363.7" y1="232.2" x2="366.9" y2="229.9" stroke="#fff" stroke-width="0.7" />
<polygon points="367.4,229.5 366.1,231.7 365.0,230.1" fill="#fff"/>
<line x1="367.6" y1="197.0" x2="370.9" y2="199.3" stroke="#fff" stroke-width="0.7" />
<polygon points="371.4,199.6 368.9,199.0 370.0,197.5" fill="#fff"/>
<line x1="328.7" y1="269.5" x2="330.2" y2="272.1" stroke="#f0a020" stroke-width="0.7" />
<polygon points="330.5,272.6 328.5,271.1 330.2,270.1" fill="#f0a020"/>
<line x1="362.0" y1="273.0" x2="364.2" y2="275.7" stroke="#f0a020" stroke-width="0.7" />
<polygon points="364.6,276.2 362.4,275.0 363.8,273.7" fill="#f0a020"/>
<line x1="349.9" y1="301.6" x2="353.8" y2="301.1" stroke="#f0a020" stroke-width="0.7" />
<polygon points="354.4,301.0 352.2,302.3 351.9,300.4" fill="#f0a020"/>
<rect x="385.50" y="193.30" width="10.50" height="55.40" fill="#000" stroke="none" stroke-width="0" />
<rect x="385.50" y="252.30" width="10.50" height="55.50" fill="#000" stroke="none" stroke-width="0" />
<text x="393.3" y="221" font-size="6.4" text-anchor="middle" font-weight="normal" font-style="normal" fill="#fff" transform="rotate(-90 393.3 221)" >apCAF</text>
<text x="393.3" y="280.2" font-size="6.6" text-anchor="middle" font-weight="normal" font-style="normal" fill="#fff" transform="rotate(-90 393.3 280.2)" >Pro-inflam Macro</text>
<rect x="474.30" y="248.73" width="14.50" height="44.57" fill="#EBDCC0" stroke="#8A6A2C" stroke-width="1.0" />
<path d="M483.0 244.0h0M476.0 289.0h0M478.5 280.0h0M485.3 270.2h0M483.5 236.5h0M481.8 248.7h0M476.6 260.8h0M479.3 264.6h0M485.6 250.7h0M484.6 238.0h0M484.9 273.7h0M486.4 256.5h0M477.4 287.5h0M483.3 221.5h0M481.6 236.1h0M482.7 242.5h0M486.3 260.3h0M484.0 246.0h0M486.8 221.2h0M482.3 250.0h0M485.2 282.2h0M486.7 234.4h0M484.9 287.9h0M476.4 229.4h0M474.8 230.7h0M476.4 256.6h0M485.8 276.6h0M487.1 268.5h0M474.7 219.7h0M480.2 226.2h0M486.9 231.6h0M488.2 230.6h0M481.1 274.5h0M482.4 243.0h0M481.6 248.3h0M484.7 245.6h0M481.8 243.4h0M474.5 246.5h0M483.4 225.8h0M484.1 242.4h0M484.5 242.7h0M476.6 291.0h0M477.9 247.3h0M479.5 241.9h0M479.6 239.0h0M485.5 236.9h0M482.5 222.9h0M478.4 277.6h0M478.0 280.9h0M478.9 235.2h0M486.4 238.5h0M479.1 229.2h0M481.0 250.9h0M476.0 239.0h0M486.4 225.9h0M479.4 214.1h0M484.9 262.2h0M485.8 226.9h0M479.3 226.5h0M487.6 243.8h0M474.3 227.8h0M487.0 251.1h0M480.8 208.5h0M483.3 253.1h0M478.4 241.5h0M482.8 232.8h0M486.0 229.2h0M487.7 219.0h0M482.4 250.2h0M485.1 243.5h0M481.9 238.7h0M487.5 217.4h0M486.8 238.2h0M485.6 226.1h0M486.1 228.8h0M485.8 220.0h0M485.1 254.6h0M476.5 249.2h0M478.9 250.0h0M485.5 244.9h0M475.0 227.4h0M488.4 230.4h0M481.5 288.0h0M478.8 230.4h0M479.5 242.6h0M479.0 245.6h0M480.2 250.5h0M476.8 239.7h0M480.2 249.3h0M480.7 263.1h0M481.4 245.7h0M483.7 272.5h0M484.3 233.0h0M480.4 219.3h0M480.3 213.9h0M478.8 255.3h0M477.3 251.9h0M485.8 261.2h0M484.1 261.0h0M474.3 221.3h0M485.5 224.2h0M487.1 229.1h0M474.5 230.6h0M485.4 286.4h0M486.6 253.2h0M485.4 232.5h0M484.6 236.4h0M475.1 233.6h0M482.2 260.2h0M477.9 280.8h0M479.9 247.8h0M480.0 246.2h0M481.5 237.6h0M484.3 272.8h0M484.3 231.1h0M481.7 260.7h0M476.4 248.7h0M484.3 252.6h0M480.9 268.0h0M478.9 283.4h0M477.6 242.0h0M478.5 247.7h0M485.5 272.8h0M478.1 238.6h0M479.8 220.5h0M479.5 231.6h0M488.7 232.5h0M482.9 239.8h0M482.3 222.7h0M484.0 251.8h0M484.1 273.4h0M478.5 270.3h0M488.2 236.9h0M478.0 280.8h0M478.0 250.3h0M486.0 252.1h0M480.4 226.9h0M476.9 288.0h0M479.9 278.5h0M484.1 240.9h0M481.3 239.7h0M482.7 222.9h0M482.0 273.9h0M475.8 236.1h0M477.0 249.8h0M484.6 274.6h0M483.5 278.3h0M478.9 254.6h0M484.0 247.3h0M476.6 216.7h0M484.1 244.4h0M476.9 218.8h0M477.9 262.7h0M477.3 261.6h0M479.6 285.5h0M482.1 264.3h0M479.4 270.8h0M484.8 216.9h0M485.0 225.9h0M486.9 234.6h0M481.6 222.2h0M479.1 232.2h0M482.1 244.1h0M485.4 275.6h0M475.8 234.1h0M478.0 258.2h0M480.3 228.2h0M484.3 254.1h0M477.0 226.5h0M482.5 224.3h0M474.6 233.5h0M486.5 250.6h0M482.0 213.5h0M483.6 254.5h0M485.5 256.9h0M474.2 248.3h0M481.4 261.3h0M480.9 244.4h0M481.5 236.5h0M482.2 271.4h0M477.4 250.6h0M476.5 263.1h0M477.6 234.0h0M479.5 259.1h0M477.4 259.7h0M486.3 264.1h0M479.7 257.6h0M486.8 248.7h0M485.3 239.8h0M475.3 230.8h0M476.5 231.3h0M480.4 237.9h0M481.1 277.9h0M477.9 273.4h0M480.0 258.6h0M481.9 247.0h0M477.3 233.3h0M481.1 285.4h0M477.3 232.6h0M474.6 239.2h0M476.7 229.5h0M480.7 231.2h0M484.5 232.6h0M474.6 242.9h0M477.0 281.9h0M476.6 226.9h0M477.3 275.9h0M485.7 234.7h0M487.8 242.6h0M486.1 233.5h0M476.9 276.0h0M482.8 247.0h0M474.6 224.4h0M475.0 232.0h0M478.1 250.2h0M484.9 269.9h0M474.7 248.3h0M483.1 230.7h0M479.2 287.9h0M480.3 286.7h0M476.7 244.7h0M485.3 257.9h0M486.2 257.3h0M485.6 240.6h0M478.1 229.2h0M484.6 236.3h0M481.4 248.8h0M481.0 234.1h0M477.0 260.5h0M486.5 235.8h0M485.7 251.2h0M479.1 218.6h0M475.3 244.7h0M482.5 228.3h0M475.4 234.9h0M476.4 280.8h0M474.4 242.8h0M488.3 245.4h0M485.6 244.5h0M485.7 238.0h0M475.4 230.7h0M476.2 286.8h0M485.9 282.8h0M481.0 226.8h0M483.6 225.9h0M479.8 251.5h0M480.7 247.4h0M486.1 225.6h0M482.1 246.7h0M479.3 234.1h0M475.2 238.0h0M483.7 234.6h0M477.3 245.4h0M480.5 223.1h0M477.4 233.7h0M486.3 216.7h0M486.3 263.6h0M480.3 241.2h0M486.5 250.1h0M488.8 231.7h0M486.4 278.5h0M475.6 245.0h0M481.7 278.3h0M484.2 290.1h0M485.0 243.1h0M477.1 278.7h0M480.2 229.1h0M484.4 222.3h0M487.0 246.5h0M476.8 217.5h0M482.1 247.1h0M486.6 230.2h0M484.9 256.7h0M477.7 228.0h0M477.4 291.6h0M474.9 240.2h0M485.4 235.0h0M485.7 213.5h0M476.9 236.1h0M474.9 242.9h0M475.6 229.2h0M480.3 233.1h0M477.9 212.8h0M487.5 245.4h0M477.4 280.5h0M481.6 255.3h0M479.0 266.4h0M474.4 245.8h0M486.0 250.3h0M486.1 246.8h0M480.5 256.2h0M484.2 230.0h0M480.5 266.6h0M480.8 227.1h0M486.6 271.0h0M480.2 239.0h0M486.3 253.6h0M474.6 220.7h0M478.3 246.1h0M477.0 249.7h0M481.7 274.8h0M483.6 247.4h0M487.6 237.5h0M479.4 249.4h0M488.1 219.1h0M480.3 277.3h0M488.5 227.6h0M477.6 227.1h0M485.0 221.2h0M485.1 262.7h0M478.3 226.7h0M478.9 288.8h0M474.9 235.1h0M488.2 219.1h0M488.7 227.5h0M477.5 262.0h0M485.3 237.5h0M487.0 225.6h0M485.6 213.7h0M479.9 237.5h0M477.4 279.0h0M476.1 229.8h0M477.0 229.5h0M488.5 245.7h0M479.4 235.8h0M483.8 269.5h0M485.1 223.0h0M481.1 265.6h0M480.7 232.0h0M482.9 229.6h0M477.9 252.6h0M477.8 253.0h0M477.2 240.1h0M486.9 221.8h0M474.4 235.0h0M487.0 255.1h0M484.5 267.6h0M476.3 245.4h0M478.9 236.6h0M479.4 240.5h0M488.5 226.3h0M485.3 252.0h0M476.0 224.5h0M484.9 234.8h0M488.3 239.2h0M481.2 240.8h0M481.6 209.7h0M482.8 257.3h0M484.6 253.3h0M486.7 223.4h0M477.3 222.6h0M487.1 234.7h0M479.5 221.3h0M481.6 246.8h0M487.0 245.0h0M476.3 221.5h0M476.2 244.4h0M478.9 222.0h0M487.7 219.4h0M485.0 230.8h0M486.1 253.1h0M487.0 235.8h0M481.1 238.8h0M478.0 278.7h0M476.9 264.2h0M486.4 234.3h0M478.2 232.3h0M483.4 245.6h0M477.0 271.8h0M476.8 259.9h0M485.2 234.4h0M476.0 289.0h0M485.2 254.9h0M480.3 222.0h0M479.9 227.7h0M483.6 238.6h0M482.6 220.6h0M477.6 239.0h0M478.4 224.5h0M481.8 261.3h0M478.6 244.6h0M481.9 285.9h0M487.5 245.5h0M478.2 257.7h0M480.5 217.9h0M477.4 225.4h0M475.9 248.4h0M478.3 273.6h0M478.5 211.7h0M485.2 250.2h0M480.1 218.6h0M478.0 229.6h0M477.1 276.2h0M480.7 225.6h0M477.3 232.9h0M477.9 263.7h0M481.9 273.7h0M483.0 215.7h0M485.1 214.5h0M482.7 226.5h0M477.4 219.4h0M479.3 246.2h0M477.9 269.6h0M484.1 276.3h0M475.8 243.8h0M482.1 225.7h0M481.4 271.3h0M486.2 244.0h0M482.2 217.3h0M487.2 222.7h0M487.0 266.9h0M479.2 257.3h0M479.3 241.6h0M482.3 250.3h0M479.8 238.2h0M482.3 247.4h0M480.0 234.6h0M480.2 240.4h0M481.2 230.4h0M481.6 231.1h0M487.7 222.0h0M480.3 268.1h0M478.2 225.0h0M488.0 228.1h0M480.5 235.5h0M482.5 226.3h0M477.1 235.2h0M483.5 213.3h0M483.8 287.4h0M481.0 281.6h0M484.4 276.8h0M483.9 235.3h0M486.9 244.5h0M483.6 268.6h0M485.9 234.1h0M479.9 248.1h0M476.7 237.6h0M484.4 282.2h0M483.1 212.2h0M474.8 239.9h0M477.2 234.2h0M486.9 259.3h0M484.2 269.5h0M482.7 249.8h0M476.2 238.1h0M477.4 250.9h0M480.2 216.0h0M488.7 223.5h0M474.2 234.9h0M483.8 215.7h0M479.0 219.9h0M484.9 287.3h0M486.0 230.6h0M477.5 238.5h0M485.9 242.3h0M475.6 232.0h0M482.6 221.7h0M474.6 241.2h0M479.1 238.9h0M485.3 241.6h0M483.9 237.2h0M480.7 267.8h0M481.5 214.6h0M487.7 225.6h0M476.0 242.2h0M480.0 284.2h0M481.5 286.4h0M477.8 242.1h0M476.0 272.8h0M485.6 215.5h0M483.5 289.8h0M481.1 232.9h0M483.3 235.5h0M488.3 227.7h0M475.4 226.2h0M484.5 267.4h0M483.4 235.1h0M488.2 239.8h0M475.2 245.6h0M480.6 249.0h0M480.3 266.0h0M478.7 235.7h0M481.2 280.0h0M479.4 235.1h0M486.6 257.5h0M475.1 230.4h0M482.7 223.5h0M475.6 233.1h0M481.5 226.2h0M479.2 222.4h0M474.8 243.3h0M480.0 257.1h0M478.4 279.4h0M483.6 228.3h0M484.5 287.2h0M479.7 218.7h0M480.0 240.4h0M486.1 258.8h0M487.2 230.3h0M486.9 258.9h0M476.0 229.4h0M486.5 257.7h0M480.6 218.1h0M478.3 253.1h0M479.4 272.4h0M474.5 225.6h0M480.2 277.3h0M476.9 278.9h0M478.4 280.7h0M486.0 281.4h0M478.6 237.3h0M480.0 247.6h0M478.6 237.3h0M485.2 248.6h0M478.7 288.7h0M486.6 216.5h0M477.2 266.1h0M480.4 208.6h0M479.1 279.7h0M486.2 282.7h0M487.3 236.2h0M479.2 238.1h0M478.7 264.4h0M486.9 235.7h0M476.7 234.6h0M482.1 225.9h0M479.1 226.9h0M480.8 253.3h0M477.2 269.6h0M486.6 231.8h0M486.6 243.7h0M479.5 224.2h0M481.2 219.1h0M480.8 232.5h0M488.5 235.0h0M486.8 240.6h0M475.3 231.0h0M486.4 242.0h0M486.9 251.3h0M485.2 237.4h0M485.1 229.7h0M484.1 245.6h0M476.8 266.5h0M476.9 287.8h0M483.3 279.0h0M474.7 229.0h0M486.6 215.8h0M483.3 238.8h0M476.1 259.6h0M481.9 251.6h0M482.5 281.9h0M481.8 226.3h0M484.1 285.7h0M479.1 252.1h0M476.6 243.7h0M480.3 271.7h0M479.1 236.6h0M479.2 255.9h0M487.7 243.0h0M480.4 264.4h0M478.3 272.0h0M479.5 242.7h0M481.0 261.8h0M482.8 264.1h0M481.8 220.9h0M485.7 229.8h0M486.6 240.0h0M484.6 245.8h0M478.0 232.3h0M474.2 247.4h0M477.1 239.1h0M482.2 270.9h0M484.0 244.7h0M480.8 251.1h0M479.8 214.0h0M483.3 227.9h0M481.7 256.1h0M475.1 232.9h0M479.3 242.8h0M474.8 222.7h0M482.3 214.9h0M484.6 221.0h0M484.3 289.1h0M478.4 227.1h0M486.8 233.6h0M477.6 265.1h0M487.6 234.6h0M484.4 248.7h0M488.4 237.2h0M476.8 235.5h0M484.2 287.6h0M487.0 227.9h0M485.4 260.1h0M480.5 234.5h0M484.2 251.2h0M479.9 259.7h0M485.1 222.5h0M479.9 274.8h0M474.2 230.2h0M478.1 269.5h0M481.4 209.9h0M482.5 250.9h0M477.7 251.0h0M487.0 253.3h0M478.2 273.8h0M484.4 282.2h0M478.6 228.5h0M480.1 261.2h0M480.6 243.0h0M479.1 268.0h0M484.4 250.9h0M486.2 227.1h0M484.0 282.1h0M480.0 216.0h0M484.3 249.2h0M482.3 286.9h0M482.4 261.5h0M484.8 290.6h0M479.4 264.9h0M476.0 228.2h0M485.9 234.7h0M481.8 274.1h0M485.3 221.2h0M486.2 248.6h0M475.1 245.6h0M487.2 238.7h0M485.0 277.4h0M475.3 224.2h0M478.7 288.7h0M482.0 286.7h0M479.8 264.6h0M482.4 253.7h0M480.5 277.0h0M474.2 246.9h0M477.5 240.4h0M477.8 282.7h0M486.8 284.2h0M477.9 216.4h0M478.4 272.7h0M484.5 246.1h0M477.1 240.6h0M478.2 213.0h0M476.4 223.3h0M483.6 242.4h0M486.9 230.4h0M479.9 253.8h0M476.7 236.1h0M477.1 290.8h0M485.5 251.2h0M485.7 266.2h0M480.7 266.1h0M480.9 226.1h0M488.4 228.8h0M477.5 234.9h0M478.1 247.5h0M484.9 257.6h0M480.5 254.9h0M480.3 227.1h0M486.3 287.9h0M488.4 228.0h0M488.1 224.6h0M483.7 252.7h0M487.1 230.7h0M475.1 238.2h0M476.7 277.3h0M484.6 224.3h0M485.5 262.7h0M480.2 258.8h0M476.5 231.9h0M478.9 228.1h0M482.0 215.4h0M478.8 284.8h0M483.4 282.1h0M486.7 273.9h0M485.2 220.3h0M481.7 283.0h0M481.0 238.2h0M484.8 249.8h0M483.8 285.4h0M474.2 248.4h0M484.5 222.5h0M480.0 235.1h0M481.9 264.2h0M483.9 277.9h0M485.1 246.1h0M486.7 288.3h0M475.6 234.2h0M486.4 220.7h0M477.7 251.8h0M484.6 243.2h0M485.0 224.2h0M475.3 238.3h0M478.6 213.9h0M483.1 247.2h0M487.8 231.6h0M476.0 284.9h0M477.1 272.9h0M479.6 235.7h0M483.2 275.7h0M482.9 255.2h0M483.1 277.6h0M481.4 264.7h0M483.9 282.5h0M478.7 290.4h0M485.1 288.2h0M475.2 240.3h0M485.4 291.7h0M479.1 211.7h0M476.4 244.7h0M476.7 287.6h0M478.9 228.0h0M482.3 240.1h0M481.1 223.6h0M477.8 280.7h0M485.9 277.3h0M479.6 274.7h0M487.0 236.9h0M477.5 237.4h0M482.1 286.0h0M481.5 267.8h0M477.0 227.5h0M482.2 250.3h0M476.7 226.9h0M482.3 253.4h0M488.5 237.5h0M484.8 252.4h0M485.4 288.5h0M474.9 227.0h0M486.0 259.1h0M480.6 240.0h0M485.5 252.2h0M483.6 283.0h0M481.3 214.6h0M487.5 236.0h0M475.7 226.3h0M483.5 268.3h0M486.4 227.3h0M487.5 225.2h0M480.7 227.7h0M476.4 237.8h0M477.4 242.9h0M478.9 222.8h0M480.6 288.3h0M478.8 265.4h0M477.4 287.0h0M479.1 254.5h0M485.9 225.0h0M476.3 216.6h0M476.3 231.6h0M478.2 226.0h0M476.5 259.5h0M479.7 243.6h0M477.9 235.9h0M478.4 275.7h0M476.7 216.8h0M480.7 224.6h0M485.4 247.1h0M479.0 241.5h0M477.3 234.0h0M485.1 222.9h0M483.2 245.6h0M485.3 291.0h0M479.2 229.1h0M479.8 256.9h0M479.7 244.8h0M482.6 228.7h0M478.5 232.4h0M476.8 271.2h0M475.0 247.5h0M482.3 210.6h0M477.7 248.2h0M474.5 244.8h0M480.4 221.7h0M480.3 253.6h0M483.5 235.2h0M481.7 221.0h0M486.2 229.9h0M477.0 225.5h0M479.3 244.9h0M477.4 235.0h0M482.8 237.5h0M488.5 236.4h0M483.7 285.9h0M486.1 215.5h0M486.9 262.4h0M484.1 218.4h0M485.5 252.1h0M482.8 229.7h0M486.8 219.6h0M481.9 260.1h0M484.9 283.0h0M478.2 220.3h0M483.0 242.6h0M487.0 235.2h0M480.6 238.4h0M480.9 263.8h0M477.9 236.3h0M476.9 286.4h0M481.8 274.7h0M484.7 232.8h0M486.6 233.4h0M483.3 233.8h0M483.0 233.5h0M486.4 244.6h0M484.4 282.7h0M478.0 281.0h0M476.1 247.3h0M478.9 248.8h0M484.7 278.2h0M483.7 239.3h0M476.4 278.5h0M478.0 232.4h0M485.9 257.5h0M480.2 285.8h0M487.0 252.4h0M484.4 259.0h0M476.3 272.1h0M482.8 224.3h0M477.8 232.7h0M482.8 242.1h0M478.8 288.8h0M487.8 222.7h0M485.0 261.5h0M483.4 225.0h0M485.1 239.3h0M484.8 235.0h0M476.5 224.9h0M482.9 243.5h0M484.9 262.3h0M486.9 238.0h0M476.2 267.4h0M484.8 232.4h0M482.0 256.5h0M478.2 275.5h0M485.4 263.4h0M478.6 275.7h0M485.7 248.9h0M479.7 234.1h0M478.1 274.1h0M484.0 254.4h0M476.6 290.0h0M477.0 228.6h0M482.1 215.5h0M481.7 225.9h0M478.0 273.2h0M482.0 257.1h0M483.2 243.2h0M487.3 220.5h0M488.5 227.1h0M479.4 213.8h0M487.2 233.7h0M482.4 254.6h0M486.4 229.2h0M485.2 254.3h0M476.0 265.3h0M487.6 240.5h0M477.6 259.5h0M484.6 243.3h0M478.9 250.1h0M475.2 228.5h0M484.9 234.1h0M486.0 239.1h0M483.6 254.2h0M485.6 259.4h0M485.6 263.5h0M487.8 226.2h0M481.1 227.6h0M484.8 260.2h0M477.1 238.0h0M482.0 233.7h0M475.7 218.8h0M474.6 226.3h0M479.7 216.7h0M479.6 271.5h0M481.7 279.3h0M484.5 245.8h0M481.2 212.0h0M480.0 252.3h0M476.8 235.8h0M483.6 279.7h0M481.7 280.8h0M481.9 279.5h0M478.3 247.5h0M481.6 214.3h0M478.2 258.7h0M481.1 231.4h0M479.7 245.5h0M488.3 246.2h0M479.6 229.9h0M476.9 288.2h0M480.5 220.3h0M487.1 236.8h0M486.1 260.1h0M478.6 236.1h0M479.6 226.8h0M482.9 209.8h0M480.9 275.7h0M485.7 227.3h0M486.5 247.9h0M474.2 234.6h0M483.3 228.2h0M478.2 238.2h0M481.0 287.3h0M486.6 248.1h0M485.3 221.0h0M482.5 264.3h0M478.2 234.6h0M481.1 259.0h0M482.1 277.4h0M482.7 251.0h0M482.0 236.3h0M484.4 238.4h0M477.6 246.3h0M481.5 270.1h0M478.3 228.2h0M477.6 239.8h0M479.5 236.8h0M487.8 248.7h0M484.2 219.7h0M480.4 258.3h0M479.3 232.6h0M484.7 288.9h0M475.9 246.9h0M477.5 255.7h0M478.0 250.2h0M486.6 224.3h0M485.8 231.8h0M485.4 285.0h0M479.6 261.9h0M478.0 243.7h0M478.8 262.5h0M481.5 229.3h0M483.1 261.1h0M480.9 256.8h0M479.7 261.1h0M485.2 246.5h0M482.1 220.8h0M485.4 243.7h0M486.7 289.6h0M488.3 240.7h0M479.2 281.7h0M487.7 217.2h0M484.6 275.3h0M479.0 243.7h0M482.4 236.5h0M485.8 243.0h0M480.9 246.3h0M477.9 287.0h0M480.2 226.5h0M483.0 264.2h0M479.2 253.8h0M482.9 241.5h0M479.9 235.4h0M477.6 280.2h0M486.0 283.0h0M481.3 222.6h0M475.0 242.5h0M476.8 281.9h0M482.4 267.1h0M478.8 258.0h0M477.5 243.1h0M481.6 247.9h0M476.4 227.8h0M482.5 249.3h0M481.0 251.8h0M487.1 281.2h0M476.0 266.1h0M474.2 224.8h0M478.7 229.7h0M478.3 225.8h0M488.1 223.7h0M475.8 247.7h0M486.4 280.8h0M484.7 222.5h0M477.0 285.9h0M480.8 254.0h0M483.1 213.1h0M484.1 230.3h0M484.3 291.7h0M485.8 251.6h0M485.8 237.9h0M476.5 273.2h0M480.1 237.0h0M485.6 270.1h0M478.4 233.6h0M479.5 274.9h0M485.7 271.3h0M480.7 253.3h0M480.8 225.0h0M482.5 248.2h0M482.4 213.1h0M476.6 223.5h0M478.1 235.8h0M481.4 242.2h0M484.6 223.2h0M474.4 229.2h0M477.5 226.9h0M477.9 278.6h0M481.4 215.1h0M482.1 230.1h0M486.3 250.2h0M482.8 232.8h0M478.8 277.3h0M482.9 226.4h0M478.6 286.5h0M477.4 259.0h0M483.9 258.7h0M483.5 221.4h0M477.9 253.2h0M477.3 236.0h0M481.2 222.7h0M481.5 242.9h0M486.9 235.3h0M484.3 251.7h0M480.4 245.2h0M482.3 275.5h0M479.5 228.8h0M476.0 287.9h0M480.7 242.7h0M485.8 248.8h0M476.7 255.1h0M480.7 221.2h0M485.6 231.7h0M479.7 279.6h0M477.0 242.5h0M477.9 240.7h0M480.5 257.5h0M485.3 229.6h0M487.3 218.0h0M482.2 222.2h0M479.8 267.9h0M482.7 209.6h0M483.6 229.3h0M484.4 233.7h0M475.4 244.6h0M474.7 235.5h0M484.7 236.4h0M485.5 271.3h0M480.9 279.3h0M481.6 269.6h0M481.1 285.1h0M478.9 249.5h0M480.9 240.7h0M482.4 226.8h0M480.0 261.7h0M488.0 239.7h0M477.3 226.8h0M479.9 291.8h0M475.0 229.3h0M480.6 291.5h0M488.6 242.3h0M479.7 233.0h0M487.3 224.1h0M483.9 234.4h0M486.6 281.3h0M484.7 242.6h0M486.3 270.5h0M482.6 257.5h0M476.4 223.4h0M486.1 235.6h0M487.4 230.1h0M486.3 228.6h0M478.7 265.9h0M478.0 222.5h0M487.8 231.2h0M482.8 280.7h0M486.3 233.4h0M480.5 235.7h0M476.8 277.2h0M487.6 245.4h0M476.1 219.8h0M485.5 227.7h0M485.6 256.9h0M486.8 290.3h0M476.4 220.9h0M486.9 286.3h0M483.1 222.0h0M486.1 227.3h0M488.1 235.0h0M477.4 260.0h0M478.2 278.6h0M485.6 243.4h0M478.7 248.8h0M480.1 230.6h0M478.3 260.5h0M483.8 253.2h0M484.2 279.3h0M483.4 224.7h0M479.8 239.0h0M485.0 243.3h0M476.7 278.5h0M474.4 233.0h0M476.7 271.8h0M485.4 268.4h0M485.8 253.7h0M486.0 244.2h0M483.3 238.1h0M486.8 240.0h0M485.2 253.4h0M476.7 272.3h0M485.6 277.8h0M480.6 242.8h0M482.5 252.6h0M482.0 239.1h0M479.5 229.1h0M479.2 239.1h0M479.6 255.2h0M483.5 234.5h0M482.5 247.1h0M485.9 224.8h0M478.4 239.7h0M478.4 228.8h0M484.6 235.7h0M480.3 286.4h0M477.3 285.4h0M476.8 292.0h0M480.5 228.0h0M487.2 242.6h0M483.6 229.4h0M480.6 222.6h0M475.1 224.0h0M477.7 291.5h0M477.6 229.4h0M482.3 252.4h0M483.9 253.1h0M486.4 268.0h0M482.2 231.1h0M481.2 255.3h0M479.2 256.2h0M479.3 232.9h0M475.3 244.5h0M486.0 224.8h0M478.7 234.2h0M488.2 244.0h0M480.8 208.1h0M481.7 255.1h0M483.7 216.0h0M479.1 232.4h0M483.1 241.7h0M479.1 224.8h0M476.9 247.8h0M478.5 262.0h0M485.3 256.2h0M486.1 229.8h0M474.2 230.1h0M476.4 246.4h0M479.0 259.7h0M477.9 235.0h0M483.8 240.5h0M479.1 277.1h0M481.1 239.3h0M475.8 241.1h0M481.4 259.7h0M484.8 227.1h0M477.7 221.3h0M479.9 264.5h0M477.5 276.7h0M483.2 244.6h0M485.5 231.5h0M486.7 230.5h0M478.4 254.0h0M485.4 263.1h0M480.1 277.2h0M477.0 278.5h0M488.0 242.7h0M480.0 236.8h0M485.2 263.8h0M486.7 251.5h0M480.4 264.0h0M481.8 231.8h0M479.9 224.8h0M481.2 223.2h0M482.3 234.7h0M483.0 248.4h0M481.2 275.0h0M477.5 227.6h0M476.6 280.9h0M481.0 234.7h0M478.4 232.3h0M481.6 222.9h0M487.1 224.0h0M481.6 208.8h0M488.0 219.8h0M480.8 231.8h0M482.5 291.5h0M487.1 232.9h0M483.3 288.0h0M479.3 254.8h0M480.1 245.3h0M485.5 281.3h0M484.3 231.4h0M476.1 243.7h0M480.2 225.4h0M483.4 223.6h0M476.0 284.5h0M487.1 248.0h0M479.8 223.5h0M480.7 252.7h0M479.4 235.1h0M481.0 212.8h0M486.9 247.3h0M475.4 233.7h0M486.4 287.1h0M479.2 245.4h0M475.5 230.3h0M475.7 217.1h0M485.2 241.6h0M486.3 268.6h0M484.6 277.7h0M484.7 283.3h0M484.0 234.2h0M483.7 261.8h0M477.1 272.9h0M487.0 241.3h0M485.9 276.6h0M482.0 291.1h0M477.6 214.0h0M478.9 235.4h0M482.2 240.4h0M478.9 232.6h0M484.4 283.4h0M484.9 252.1h0M479.0 231.8h0M485.5 262.0h0M485.7 227.4h0M479.4 243.2h0M483.1 261.9h0M478.6 271.6h0M486.9 246.3h0M479.4 284.4h0M482.4 229.2h0M482.4 263.2h0M488.5 229.4h0M483.6 261.7h0M474.5 225.4h0M488.5 225.8h0M477.4 232.6h0M476.2 231.6h0M476.5 233.3h0M476.2 237.7h0M482.9 279.0h0M484.4 237.7h0M478.5 236.4h0M477.1 282.2h0M481.3 210.7h0M479.4 245.3h0M480.5 250.7h0M485.5 235.6h0M482.8 268.2h0M486.7 235.8h0M475.2 248.3h0M484.9 264.8h0M479.9 256.2h0M480.5 263.3h0M478.9 226.6h0M483.3 228.8h0M483.3 265.8h0M485.6 238.2h0M483.6 246.8h0M486.2 231.1h0M481.5 267.4h0M486.8 267.9h0M483.6 268.9h0M487.4 245.4h0M486.5 231.8h0M480.4 263.3h0M481.3 233.2h0M476.4 262.7h0M484.6 213.7h0M479.4 272.0h0M477.9 221.8h0M484.8 241.5h0M485.1 274.4h0M478.1 226.8h0M476.7 287.9h0M480.5 270.1h0M480.1 250.6h0M485.9 286.0h0M475.2 235.0h0M475.9 232.1h0M478.4 245.7h0M482.8 264.9h0M485.2 269.5h0M477.1 239.3h0M488.0 246.3h0M481.5 268.9h0M478.4 262.6h0M484.6 252.6h0M479.5 260.8h0M477.7 258.9h0M476.6 272.2h0M480.6 281.5h0M486.2 247.6h0M483.4 250.9h0M487.9 235.4h0M479.6 239.4h0M475.9 219.9h0M477.7 221.4h0M478.0 280.1h0M485.3 283.0h0M476.3 231.9h0M478.7 245.7h0M487.0 260.4h0M479.8 241.5h0M481.6 272.6h0M487.3 230.3h0M480.7 233.2h0M475.4 233.2h0M482.0 291.9h0M480.0 269.8h0M486.1 259.8h0M479.4 257.6h0M475.9 269.4h0M475.1 217.5h0M476.4 256.9h0M481.6 283.9h0M479.8 269.3h0M483.4 237.7h0M487.0 251.1h0M479.9 269.8h0M479.3 249.2h0M476.5 275.8h0M486.1 222.1h0M479.2 255.0h0M481.6 288.1h0M479.8 241.9h0M487.0 254.2h0M481.3 240.3h0M485.5 276.2h0M485.9 234.3h0M475.4 227.9h0M485.5 234.8h0M483.9 273.2h0M477.5 237.9h0M477.3 225.1h0M483.1 241.5h0M486.0 239.9h0M482.7 230.0h0M476.3 246.4h0M481.6 257.8h0M481.3 267.1h0M476.7 256.2h0M485.3 287.7h0M485.9 227.7h0M488.2 242.6h0M481.7 243.6h0M479.2 233.5h0M482.9 238.2h0M485.8 281.6h0M476.9 282.1h0M480.6 257.7h0M477.9 234.9h0M476.6 241.6h0M476.2 240.9h0M485.5 288.0h0M477.5 238.8h0M485.2 232.1h0M484.3 235.5h0M482.8 234.5h0M477.7 264.3h0M480.2 242.2h0M480.3 254.9h0M478.8 241.6h0M479.4 274.7h0M477.2 281.8h0M486.3 222.9h0M483.0 235.4h0M482.0 224.2h0M486.2 223.7h0M485.2 231.0h0M483.7 245.4h0M476.0 232.6h0M486.8 221.7h0M488.6 240.1h0M477.4 227.5h0M480.3 239.9h0M484.8 248.5h0M478.9 232.2h0M477.2 221.2h0M478.7 235.1h0M482.8 253.1h0M475.6 248.4h0M479.1 228.2h0M484.4 230.8h0M484.5 279.8h0M483.3 287.7h0M485.5 233.5h0M474.7 234.4h0M479.3 235.0h0M480.3 224.2h0M487.8 228.4h0M487.0 238.1h0M486.1 240.3h0M485.7 238.4h0M487.0 250.3h0M485.0 284.0h0M476.2 223.8h0M485.0 257.5h0M487.9 242.6h0M485.3 252.6h0M480.0 256.2h0M486.0 272.5h0M475.7 236.5h0M484.1 270.8h0M484.8 233.2h0M483.5 227.3h0M488.0 225.6h0M484.1 254.8h0M475.7 242.5h0M477.0 273.0h0M478.4 234.8h0M485.4 280.3h0M477.1 235.7h0M485.4 235.2h0M477.1 258.5h0M474.7 248.2h0M481.1 274.6h0M483.0 246.0h0M477.4 218.0h0M486.5 249.3h0M481.4 249.5h0M483.0 227.4h0M486.6 238.4h0M484.0 249.4h0M477.4 286.5h0M485.9 268.9h0M475.0 218.0h0M486.0 233.3h0M482.2 287.0h0M485.3 212.9h0M477.1 244.1h0M476.0 248.2h0M480.6 234.4h0M478.8 249.0h0M484.3 228.9h0M486.4 237.5h0M485.4 223.2h0M477.5 236.9h0M480.0 224.6h0M487.0 261.4h0M481.4 236.3h0M485.9 225.4h0M480.5 220.3h0M478.6 229.9h0M483.0 245.6h0M477.7 223.5h0M480.8 231.4h0M488.0 219.9h0M482.3 248.9h0M483.3 271.5h0M484.8 259.2h0M480.7 210.8h0M478.5 250.4h0M476.8 224.9h0M476.6 233.0h0M475.2 219.2h0M482.3 208.0h0M474.4 233.6h0M487.7 243.5h0M483.6 241.9h0M486.0 230.4h0M481.9 264.5h0M485.8 289.7h0M488.8 241.2h0M484.5 280.1h0M477.8 252.0h0M486.5 236.7h0M477.0 232.6h0M478.8 274.7h0M479.0 246.1h0M484.8 287.0h0M477.8 246.4h0M480.4 240.7h0M483.9 217.9h0M486.8 221.9h0M478.1 226.8h0M486.6 284.5h0M487.2 228.8h0M478.9 215.7h0M484.2 215.6h0M481.1 232.6h0M483.5 259.6h0M486.8 280.7h0M483.5 277.2h0M484.9 251.5h0M486.0 222.2h0M476.7 273.9h0M480.9 289.2h0M476.3 252.8h0M480.1 238.2h0M483.4 250.3h0M476.6 241.2h0M481.4 206.7h0" stroke="#C7AB78" stroke-width="1.0" stroke-linecap="round" fill="none" opacity="1"/>
<rect x="474.30" y="248.73" width="14.50" height="44.57" fill="none" stroke="#8A6A2C" stroke-width="1.0" />
<rect x="452.90" y="285.02" width="14.40" height="8.28" fill="#2E5CB8" stroke="#1D2F5E" stroke-width="1.0" />
<path d="M459.8 278.9h0M457.6 289.5h0M462.1 287.3h0M460.1 291.8h0M455.9 290.2h0M461.2 289.1h0M462.8 286.0h0M461.9 284.2h0M460.8 283.6h0M460.8 276.6h0M459.5 282.8h0M463.6 290.3h0M458.7 292.5h0M459.6 279.9h0M459.0 287.8h0M461.8 285.5h0M459.0 292.2h0M459.9 279.1h0M459.9 266.3h0M457.9 287.7h0M460.1 278.5h0M460.6 280.5h0M463.6 290.5h0M465.4 292.2h0M459.3 281.9h0M459.2 286.7h0M463.4 288.2h0M460.7 288.4h0M454.5 292.3h0M459.5 288.1h0M460.2 273.6h0M460.2 277.3h0M459.9 273.9h0M463.4 292.5h0M458.6 285.2h0M459.8 291.0h0M460.4 276.6h0M460.7 288.7h0M459.2 289.7h0M462.2 291.2h0M460.4 292.5h0M455.8 292.0h0M461.4 282.7h0M463.2 287.7h0M460.3 284.0h0M457.4 286.1h0M463.1 291.9h0M464.1 289.4h0M457.9 290.6h0M464.7 291.0h0M458.6 287.1h0M461.1 292.2h0M464.8 292.6h0M463.1 291.5h0M459.6 278.8h0M461.2 286.5h0M459.4 288.4h0M459.6 277.6h0M457.1 286.8h0M462.9 286.8h0M462.0 289.1h0M459.0 289.9h0M463.2 289.2h0M456.0 289.9h0M460.6 287.1h0M459.9 286.1h0M462.1 290.2h0M457.7 290.7h0M455.2 291.3h0M462.0 291.0h0M459.7 289.1h0M457.6 290.8h0M462.1 284.5h0M462.3 291.6h0M460.1 270.1h0M459.5 276.9h0M458.8 281.9h0M455.9 291.0h0M463.5 292.6h0M458.9 289.7h0M459.1 283.4h0M459.4 279.0h0M460.4 266.6h0M463.1 287.8h0M461.2 279.6h0M459.3 290.2h0M459.6 290.1h0M462.3 287.0h0M460.6 289.9h0M459.6 290.4h0M460.6 292.3h0M460.6 286.0h0M460.1 278.5h0M464.5 290.4h0M457.6 289.1h0M461.5 287.7h0M457.5 290.5h0M460.8 292.0h0M462.6 289.4h0M461.4 291.4h0M456.7 291.5h0M461.8 291.8h0M459.8 283.5h0M460.9 280.4h0M460.4 278.6h0M459.5 288.5h0M459.5 281.5h0M465.2 290.7h0M460.3 273.5h0M458.9 280.2h0M460.4 282.3h0M458.0 290.2h0M462.0 284.7h0M458.4 283.1h0M459.1 286.5h0M455.5 290.9h0M458.7 286.6h0M460.1 289.8h0M459.7 276.7h0M461.0 286.7h0M461.4 282.9h0M463.9 290.9h0M459.6 292.1h0M461.7 283.4h0M461.7 289.7h0M458.1 284.3h0M461.3 282.9h0M458.0 291.6h0M463.5 288.7h0M459.8 270.6h0M457.0 289.1h0M456.5 292.3h0M460.6 273.5h0M461.4 291.1h0M459.8 285.6h0M459.1 279.5h0M456.3 290.4h0M460.6 275.8h0M457.0 288.5h0M460.8 279.2h0M461.1 278.4h0M460.1 285.0h0M459.0 281.3h0M459.6 279.9h0M463.0 288.6h0M458.0 292.6h0M459.8 280.9h0M460.5 276.3h0M460.0 290.9h0M461.5 289.6h0M460.1 283.9h0M464.5 292.1h0M461.6 291.3h0M460.0 280.5h0M460.7 292.3h0M456.2 291.9h0M456.6 291.0h0M461.6 286.6h0M463.6 288.6h0M458.0 292.1h0M460.4 289.9h0M459.0 284.9h0M459.2 288.8h0M456.1 289.7h0M458.3 283.0h0M457.9 288.8h0M461.7 288.9h0M461.2 281.5h0M459.0 285.8h0M455.5 292.6h0M459.9 277.5h0M458.9 289.3h0M457.3 289.8h0M459.8 290.4h0M456.8 288.4h0M454.5 291.8h0M461.2 288.2h0M459.9 277.8h0M461.7 286.1h0M460.4 287.3h0M462.2 291.5h0M459.3 283.6h0M458.7 285.1h0M458.1 291.9h0M459.4 287.1h0M464.8 290.6h0M459.1 284.2h0M462.8 292.1h0M460.4 274.8h0M462.2 284.6h0M458.4 284.3h0M459.3 288.2h0M458.1 286.6h0M461.2 285.8h0M461.3 290.4h0M461.6 289.7h0M463.5 288.2h0M456.7 288.3h0M462.5 292.2h0M463.3 292.0h0M459.0 287.9h0M462.9 289.0h0M459.6 287.2h0M460.7 288.2h0M461.7 288.4h0M458.4 289.0h0M459.6 291.8h0M456.8 291.3h0M458.5 291.3h0M460.1 275.8h0M459.8 290.4h0M456.8 288.4h0M460.1 281.1h0M458.8 285.6h0M459.8 264.3h0M456.1 291.4h0M456.0 291.5h0M459.5 276.5h0M457.6 288.0h0M456.3 290.0h0M458.2 289.4h0M462.1 283.6h0M459.7 291.2h0M462.7 285.9h0M462.0 292.2h0M460.1 289.0h0M460.9 284.2h0M462.7 289.2h0M458.5 286.6h0M456.8 291.2h0M461.2 281.0h0M461.1 291.4h0M454.7 292.1h0M460.4 284.7h0M459.6 288.7h0M459.2 288.4h0M464.3 290.3h0M461.2 292.2h0M458.6 291.3h0M455.6 292.4h0M457.5 286.1h0M461.0 288.9h0M457.7 286.7h0M458.7 288.8h0M461.2 281.3h0M461.7 286.4h0M463.9 288.9h0M461.7 283.8h0M462.3 291.4h0M461.0 284.9h0M459.6 277.0h0M460.8 291.8h0M465.0 290.9h0M460.1 275.6h0M460.4 281.1h0M460.2 275.5h0M465.3 291.1h0M456.3 290.5h0M460.6 282.1h0M459.5 278.7h0M460.6 274.7h0M457.6 285.5h0M459.7 282.5h0M458.1 291.6h0M459.9 272.0h0M463.1 288.3h0M459.6 284.0h0M460.5 289.8h0M461.5 287.3h0M458.5 285.4h0M460.7 278.2h0M457.7 287.8h0M462.8 288.4h0M458.3 290.4h0M461.2 284.4h0M459.8 280.2h0M459.0 283.4h0M462.5 292.3h0M464.0 290.8h0M458.6 289.9h0M458.9 279.6h0M459.9 268.1h0M458.0 292.4h0M457.2 291.7h0M460.5 287.8h0M465.5 291.2h0M455.6 291.6h0M455.2 290.5h0M459.4 278.0h0M461.7 292.5h0M456.7 289.8h0M457.8 288.2h0M460.2 292.1h0M458.5 290.8h0M463.5 287.9h0M460.5 286.1h0M459.7 290.1h0M463.5 290.5h0M460.6 274.0h0M461.9 289.0h0M462.9 290.2h0M459.7 271.6h0M466.1 292.0h0M461.8 286.7h0M460.8 279.5h0M457.1 291.9h0M463.3 289.4h0M459.0 283.5h0M463.5 291.6h0M459.1 278.1h0M456.6 289.9h0M456.3 288.7h0M457.3 289.2h0M466.0 292.3h0M464.9 291.5h0M459.5 283.6h0M459.0 289.4h0M460.8 290.4h0M461.1 291.7h0M457.9 287.9h0M459.9 270.7h0M461.3 285.7h0M460.4 283.3h0M459.5 288.4h0M458.4 283.3h0M462.2 286.9h0M460.0 288.4h0M461.4 284.4h0M461.0 289.9h0M460.4 280.8h0M465.4 291.0h0M461.4 289.7h0M462.4 292.3h0M462.6 287.0h0M455.2 290.8h0M459.5 289.9h0M459.2 284.6h0M461.3 282.3h0M466.4 292.4h0M457.1 292.2h0M463.8 292.1h0M459.8 271.3h0M462.9 286.8h0M459.3 282.4h0M463.2 288.3h0M460.1 278.3h0M457.6 286.6h0M462.6 289.1h0M456.2 292.4h0M457.2 286.8h0M462.9 291.3h0M460.1 291.2h0M460.1 273.3h0M458.2 284.5h0M460.3 287.4h0M460.0 288.0h0M461.5 292.2h0M461.9 289.7h0M464.2 290.6h0M462.6 288.3h0M458.7 287.5h0M458.4 288.7h0M459.2 287.4h0M465.0 290.5h0M460.1 268.4h0M462.0 286.8h0M459.7 285.7h0M462.2 287.8h0M459.0 292.2h0M460.9 292.1h0M459.3 292.5h0M458.2 291.7h0M459.9 266.9h0M462.7 289.4h0M457.2 291.0h0M461.0 288.9h0M457.5 291.0h0M457.2 292.2h0M460.9 289.2h0M460.4 290.2h0M459.4 281.9h0M461.2 283.8h0M460.5 274.5h0M460.8 285.6h0M463.4 289.3h0M458.6 291.2h0M460.2 291.7h0M460.3 276.3h0M465.1 292.5h0M456.3 292.3h0M456.7 288.1h0M460.7 281.6h0M460.2 269.3h0M458.0 288.7h0M461.3 290.0h0M459.3 280.1h0M461.1 287.4h0M462.3 290.8h0M458.6 290.4h0M464.9 291.1h0M457.6 292.4h0M460.1 286.0h0M460.2 290.9h0M460.4 288.2h0M457.6 288.5h0M459.4 284.3h0M459.6 281.2h0M459.5 278.5h0M462.5 285.4h0M463.0 290.2h0M457.0 287.1h0M459.4 286.4h0M463.9 292.2h0M462.0 284.3h0M458.5 291.7h0M459.2 286.7h0M458.6 291.7h0M460.0 288.7h0M459.5 288.6h0" stroke="#2E5CB8" stroke-width="1.0" stroke-linecap="round" fill="none" opacity="1"/>
<polygon points="460.1,260.8 459,274.2 456.5,283.8 453,291.7 467.2,291.7 463.7,283.8 461.2,274.2" fill="#2E5CB8"/>
<rect x="452.90" y="285.02" width="14.40" height="8.28" fill="none" stroke="#1D2F5E" stroke-width="1.0" />
<line x1="446.3" y1="197.3" x2="446.3" y2="293.8" stroke="#000" stroke-width="1.0" />
<line x1="445.8" y1="293.3" x2="495.8" y2="293.3" stroke="#000" stroke-width="1.0" />
<line x1="441.5" y1="293.3" x2="446.3" y2="293.3" stroke="#000" stroke-width="1.0" />
<text x="438.6" y="295.7" font-size="6.7" text-anchor="end" font-weight="normal" font-style="normal" fill="#000" >0</text>
<line x1="441.5" y1="261.4666666666667" x2="446.3" y2="261.4666666666667" stroke="#000" stroke-width="1.0" />
<text x="438.6" y="263.8666666666667" font-size="6.7" text-anchor="end" font-weight="normal" font-style="normal" fill="#000" >100</text>
<line x1="441.5" y1="229.63333333333335" x2="446.3" y2="229.63333333333335" stroke="#000" stroke-width="1.0" />
<text x="438.6" y="232.03333333333336" font-size="6.7" text-anchor="end" font-weight="normal" font-style="normal" fill="#000" >200</text>
<line x1="441.5" y1="197.8" x2="446.3" y2="197.8" stroke="#000" stroke-width="1.0" />
<text x="438.6" y="200.20000000000002" font-size="6.7" text-anchor="end" font-weight="normal" font-style="normal" fill="#000" >300</text>
<line x1="459.9" y1="293.3" x2="459.9" y2="297.6" stroke="#000" stroke-width="1.0" />
<line x1="481.3" y1="293.3" x2="481.3" y2="297.6" stroke="#000" stroke-width="1.0" />
<text x="473.4" y="188.7" font-size="8.75" text-anchor="middle"><tspan font-style="italic">P</tspan> &lt; 0.001</text>
<line x1="460.5" y1="193.4" x2="481.5" y2="193.4" stroke="#000" stroke-width="0.9" />
<text x="421.6" y="237.5" font-size="7.0" text-anchor="middle" font-weight="normal" font-style="normal" fill="#000" transform="rotate(-90 421.6 237.5)" >Distance to nearest Pro-inflam Macro (μm)</text>
<text x="455.1" y="306" font-size="7.0" text-anchor="middle" font-weight="normal" font-style="normal" fill="#000" >apCAFs</text>
<text x="473.1" y="306" font-size="7.0">MHC II<tspan dy="-2.6" font-size="4.5">-</tspan><tspan dy="2.6"> CAFs</tspan></text>
<text x="531.3" y="173.5" font-size="15.5" text-anchor="start" font-weight="bold" font-style="normal" fill="#000" >D</text>
<text x="623.1" y="177.5" font-size="9.1" text-anchor="middle" font-weight="normal" font-style="normal" fill="#000" >ST (Sample 1)</text>
<text x="565.9" y="187.6" font-size="6.85" text-anchor="start" font-weight="normal" font-style="normal" fill="#000" >Pro-inflam Macro signature</text>
<defs><linearGradient id="spg" x1="0" y1="0" x2="1" y2="0"><stop offset="0.000" stop-color="#3a4cc0"/><stop offset="0.125" stop-color="#3b7fb8"/><stop offset="0.250" stop-color="#49b3a5"/><stop offset="0.375" stop-color="#8fd19e"/><stop offset="0.500" stop-color="#e8f59a"/><stop offset="0.625" stop-color="#fee08b"/><stop offset="0.750" stop-color="#f98e52"/><stop offset="0.875" stop-color="#d53e4f"/><stop offset="1.000" stop-color="#9e0142"/></linearGradient>
<clipPath id="cd"><rect x="565.2" y="195.0" width="109.29999999999995" height="109.10000000000002"/></clipPath><filter id="bd"><feGaussianBlur stdDeviation="0.8"/></filter></defs>
<rect x="652.30" y="182.20" width="23.40" height="4.20" fill="url(#spg)" stroke="none" stroke-width="0" />
<text x="654.2" y="192.7" font-size="6.8" text-anchor="middle" font-weight="normal" font-style="normal" fill="#000" >0</text>
<text x="665.6" y="192.7" font-size="6.8" text-anchor="middle" font-weight="normal" font-style="normal" fill="#000" >1</text>
<text x="676.3" y="192.7" font-size="6.8" text-anchor="middle" font-weight="normal" font-style="normal" fill="#000" >2</text>
<rect x="565.20" y="195.00" width="109.30" height="109.10" fill="#D9627C" stroke="none" stroke-width="0" />
<path d="M671.0 260.7h0M594.0 195.2h0M631.6 196.0h0M566.3 267.5h0M620.8 303.2h0M580.5 303.7h0M622.3 300.1h0M585.9 303.4h0M571.4 302.1h0M627.4 195.6h0M605.9 198.3h0M565.7 300.6h0M625.7 301.6h0M619.6 196.0h0M594.6 196.1h0M565.6 261.6h0M602.2 302.3h0M575.5 302.5h0M567.3 241.0h0M605.5 196.2h0M610.4 300.1h0M572.4 299.4h0M670.9 248.0h0M670.1 280.1h0M597.9 299.3h0M569.7 300.5h0M566.5 300.5h0M673.4 232.4h0M566.7 240.1h0M607.0 195.9h0M671.2 195.9h0M567.5 253.9h0M636.3 302.0h0M672.8 196.5h0M670.1 200.7h0M672.5 283.4h0M567.9 271.1h0M636.3 299.7h0M620.4 301.1h0M671.9 217.0h0M626.1 195.8h0M602.9 198.1h0M672.0 197.9h0M583.3 301.7h0M671.6 218.8h0M568.9 303.7h0M570.2 256.9h0M567.7 232.3h0M674.1 247.1h0M671.2 254.8h0M623.3 301.7h0M589.3 301.1h0M586.3 198.4h0M669.7 276.9h0M673.3 219.5h0M569.6 279.4h0M633.4 197.6h0M600.0 195.0h0M669.6 274.8h0M567.2 285.9h0M662.9 196.9h0M670.3 250.4h0M666.4 196.5h0M565.4 272.0h0M632.6 195.9h0M669.7 202.3h0M566.7 252.4h0M565.6 268.0h0M598.8 198.4h0M601.5 196.7h0M588.3 195.4h0M601.7 301.3h0M585.6 198.1h0M672.7 279.7h0M619.5 197.8h0M671.4 209.8h0M671.1 273.3h0M603.8 303.6h0M669.5 223.4h0M567.6 281.6h0M629.4 196.8h0M660.0 196.2h0M674.4 252.1h0M568.2 249.8h0M653.8 197.0h0M637.6 196.5h0M670.8 249.4h0M574.7 299.5h0M672.9 251.7h0M629.5 301.0h0M613.3 303.5h0M567.2 299.1h0M671.1 228.9h0M671.0 197.1h0M567.8 284.7h0M569.2 288.9h0M566.0 271.2h0M642.2 198.5h0M569.0 301.6h0M566.1 262.9h0M672.6 270.7h0M626.0 302.5h0M674.0 259.1h0M591.4 302.8h0M664.9 196.4h0M671.6 196.1h0M618.4 195.0h0M674.0 236.8h0M594.0 301.0h0M566.0 230.4h0M608.3 300.7h0M569.0 263.2h0M664.3 197.7h0M674.1 201.3h0M674.2 209.9h0M566.5 300.3h0M566.2 300.1h0M565.8 229.8h0M608.7 302.3h0M673.2 254.7h0M673.9 260.5h0M614.7 302.7h0M672.0 209.0h0M599.7 299.4h0M670.3 276.0h0M630.4 196.1h0M610.5 196.4h0M672.6 196.0h0M566.7 287.4h0M566.0 292.1h0M566.4 268.8h0M666.0 196.9h0M674.2 197.5h0M611.2 195.6h0M670.0 251.4h0M587.0 302.3h0M636.4 195.1h0M670.8 273.2h0M621.1 301.5h0M622.8 299.5h0M674.0 275.5h0M568.2 266.7h0M631.4 300.0h0M567.7 268.2h0M669.7 256.6h0M620.9 303.6h0M573.5 304.0h0M565.6 242.9h0M609.6 299.2h0M565.3 280.2h0M671.3 276.1h0M623.4 300.6h0M639.4 196.4h0M671.6 283.8h0M605.1 300.5h0M673.0 234.8h0M670.6 238.6h0M668.0 196.0h0M669.7 198.2h0M609.8 197.2h0M585.1 299.5h0M604.3 196.0h0M672.6 223.5h0M672.6 258.9h0M612.9 303.6h0M652.0 197.3h0M567.5 303.3h0M670.0 242.3h0M565.8 301.8h0M627.2 302.0h0M674.0 201.9h0M674.0 263.0h0M672.9 219.0h0M610.2 302.8h0M635.5 299.9h0M669.7 199.9h0M672.9 284.2h0M568.6 245.7h0M589.1 195.7h0M671.5 249.8h0M630.7 196.3h0M659.1 197.7h0M566.1 253.3h0M582.2 302.0h0M674.2 256.7h0M613.9 197.5h0M670.5 226.7h0M669.6 205.7h0M624.1 302.8h0M668.9 198.3h0M594.8 198.5h0M612.6 195.0h0M671.7 262.7h0M599.4 196.2h0M569.7 263.1h0M566.1 273.7h0M607.9 302.7h0M567.1 243.3h0M672.6 207.2h0M581.8 302.8h0M577.3 300.8h0M583.6 300.8h0M567.9 253.9h0M672.0 270.5h0M569.6 272.1h0M670.2 259.8h0M567.9 252.4h0M568.7 228.7h0M672.2 219.0h0M566.7 294.8h0M580.1 301.5h0M603.0 302.9h0M569.6 247.8h0M583.5 196.2h0M570.3 301.3h0M569.2 287.4h0M566.6 291.9h0M673.6 213.4h0M570.2 225.8h0M570.0 266.1h0M585.4 196.8h0M612.8 302.3h0M568.6 230.1h0M671.1 198.1h0M601.8 302.4h0M672.4 205.8h0M568.2 225.4h0M569.0 268.1h0M653.0 197.1h0M672.1 243.9h0M674.4 236.2h0M674.3 197.0h0M568.1 270.1h0M670.8 248.5h0M669.1 195.6h0M671.1 222.3h0M615.5 301.8h0M584.4 303.4h0M671.1 273.7h0M610.6 300.1h0M588.3 198.5h0M567.8 228.7h0M569.6 279.1h0M670.6 217.4h0M616.0 197.2h0M606.9 195.3h0M565.7 229.4h0M567.2 238.0h0M568.0 302.1h0M601.4 303.5h0M669.5 228.1h0M633.8 196.7h0M631.9 195.3h0M669.9 230.3h0M673.3 203.4h0M565.8 261.1h0M619.2 303.5h0M593.8 300.6h0M664.7 197.5h0M628.0 304.0h0M568.8 259.4h0M627.8 302.0h0M674.1 220.9h0M603.3 301.7h0M672.6 265.6h0M673.9 227.3h0M621.1 196.9h0M567.7 299.5h0M652.0 196.6h0M579.3 300.8h0M670.8 260.3h0M652.9 197.8h0M667.7 197.6h0M609.5 303.2h0M568.9 277.9h0M607.4 302.6h0M673.7 236.9h0M574.6 299.1h0M673.4 209.1h0M625.0 302.0h0M621.8 302.4h0M567.4 282.1h0M670.6 267.7h0M567.9 237.9h0M669.5 212.6h0M670.6 196.3h0M610.4 195.9h0M634.2 197.5h0M612.3 302.6h0M584.0 299.4h0M629.5 299.4h0M585.8 197.5h0M567.6 255.6h0M569.9 285.0h0M569.4 282.4h0M646.3 196.5h0M666.7 195.4h0M669.7 252.4h0M660.7 196.3h0M602.7 197.2h0M605.9 300.4h0M628.0 300.5h0M566.0 286.6h0M673.0 230.6h0M672.8 250.9h0M672.3 201.5h0M569.3 227.5h0M643.5 197.3h0M566.6 290.4h0M670.1 218.3h0M604.9 198.2h0M565.7 253.7h0M673.2 249.8h0M633.0 302.8h0M671.1 195.6h0M671.2 197.9h0M670.4 244.1h0M574.3 300.0h0M606.4 301.2h0M613.9 198.5h0M569.2 263.3h0M576.2 302.6h0M618.6 303.6h0M645.6 196.6h0M591.9 301.8h0M608.8 299.9h0M672.9 238.9h0M566.8 274.6h0M630.0 195.7h0M607.9 196.0h0M598.9 197.3h0M569.1 268.7h0M567.9 251.4h0M565.8 229.1h0M619.1 196.3h0M596.4 301.1h0M567.1 235.2h0M618.0 195.9h0M673.1 279.5h0M629.7 196.3h0M569.2 239.3h0M609.6 301.7h0M669.8 256.2h0M569.7 281.3h0M674.4 195.2h0M605.0 195.6h0M565.7 297.9h0M604.8 303.7h0M568.4 245.5h0M595.5 195.1h0" stroke="#C9405E" stroke-width="0.9" stroke-linecap="square" fill="none" opacity="1"/>
<path d="M583.3 300.4h0M569.5 302.2h0M660.8 197.0h0M672.4 204.1h0M594.4 302.7h0M620.9 196.6h0M634.1 198.3h0M628.3 196.0h0M627.6 302.5h0M567.4 266.0h0M671.0 255.6h0M604.1 196.6h0M569.6 303.0h0M614.8 198.0h0M575.3 300.3h0M607.9 304.1h0M660.2 196.0h0M627.3 197.1h0M600.3 196.4h0M621.6 302.8h0M596.6 300.2h0M588.8 196.7h0M669.8 282.7h0M565.9 256.5h0M618.6 299.8h0M567.5 237.8h0M618.5 299.5h0M568.0 261.9h0M626.9 197.4h0M670.1 254.8h0M661.8 197.8h0M598.3 303.1h0M674.2 215.6h0M597.3 196.4h0M566.7 298.0h0M672.5 225.6h0M674.0 258.1h0M565.4 265.4h0M577.3 299.6h0M617.3 300.1h0M672.5 243.4h0M571.8 299.8h0M672.6 273.0h0M672.4 274.8h0M669.7 274.4h0M610.9 301.4h0M673.2 205.1h0M635.2 302.1h0M569.3 299.1h0M642.7 197.8h0M569.9 300.4h0M568.9 286.3h0M654.2 195.2h0M623.7 196.7h0M610.0 195.2h0M672.9 247.8h0M634.3 198.5h0M600.1 299.3h0M674.4 214.7h0M660.7 195.4h0M673.2 218.9h0M672.4 248.4h0M566.1 234.2h0M568.8 295.1h0M633.5 195.8h0M672.3 285.2h0M670.3 219.3h0M580.4 299.5h0M567.3 302.9h0M602.4 303.7h0M669.9 235.5h0M646.1 196.0h0M635.0 300.5h0M600.3 196.9h0M609.9 195.5h0M600.3 303.1h0M674.3 238.3h0M672.5 216.6h0M568.3 252.5h0M628.9 195.1h0M581.6 303.3h0M674.4 200.7h0M598.1 198.2h0M567.6 286.5h0M669.7 272.2h0M674.3 263.9h0M671.2 254.3h0M605.2 197.8h0M592.2 300.2h0M607.8 196.5h0M671.0 273.9h0M566.4 245.6h0M651.2 196.0h0M671.1 201.1h0M605.8 303.5h0M569.3 261.1h0M613.5 198.4h0M673.1 230.6h0M632.3 301.3h0M570.0 301.1h0M569.1 235.1h0M630.0 196.1h0M672.5 233.4h0M591.0 301.8h0M673.5 230.1h0M671.2 270.4h0M673.1 203.6h0M608.5 302.8h0M670.0 254.2h0M565.8 232.4h0M587.1 197.6h0M673.8 234.5h0M671.4 279.7h0M581.9 196.7h0M634.3 300.2h0M673.8 249.4h0M639.4 196.6h0M568.9 299.6h0M584.5 302.1h0M633.0 195.4h0M569.5 252.1h0M674.3 282.6h0M671.9 253.3h0M662.8 196.9h0M566.8 263.7h0M591.9 195.6h0M567.2 255.1h0M634.1 300.5h0M565.5 259.7h0M565.5 251.6h0M626.4 197.3h0M595.8 197.0h0M674.0 268.8h0M672.9 266.1h0M632.1 303.8h0M627.8 197.7h0M655.3 197.3h0M566.2 237.3h0M568.7 301.4h0M567.8 280.9h0M602.7 302.8h0M673.3 251.2h0M629.6 197.1h0M569.5 266.6h0M673.6 273.3h0M586.0 303.1h0M567.8 262.9h0M596.2 303.8h0M670.7 195.4h0M569.3 243.8h0M670.1 242.5h0M566.7 248.0h0M672.5 252.6h0M672.3 215.0h0M568.7 244.3h0M672.4 198.4h0M673.3 226.3h0M671.4 257.0h0M567.6 261.0h0M672.0 228.5h0M566.3 243.9h0M673.7 226.3h0M669.6 202.4h0M673.1 221.5h0M615.5 302.3h0M672.0 234.4h0M674.2 262.6h0M583.4 303.8h0M568.6 285.5h0M661.8 197.9h0M567.9 250.2h0M670.4 212.6h0M567.6 285.1h0M566.8 256.9h0M626.6 195.1h0M648.5 195.2h0M578.8 299.7h0M626.6 196.8h0M644.8 195.5h0M670.5 202.2h0M569.4 239.7h0M670.0 282.9h0M633.4 300.7h0M672.8 263.3h0M631.2 300.4h0M566.7 302.5h0M672.4 234.4h0M672.4 269.3h0M671.6 201.0h0M670.4 276.8h0M569.7 256.0h0M673.3 272.0h0M669.6 224.9h0M633.2 300.9h0M569.8 245.6h0M566.0 287.1h0M570.3 303.2h0M583.8 197.0h0M615.4 302.7h0M604.0 195.6h0M674.0 227.9h0M625.3 197.0h0M637.7 196.4h0M671.6 238.3h0M612.1 198.4h0M670.4 209.2h0M569.1 231.0h0M673.1 207.0h0M621.4 300.7h0M610.0 195.5h0M608.9 302.0h0M567.4 239.6h0M672.8 223.5h0M672.3 279.6h0M672.5 196.9h0M568.2 281.6h0M603.8 302.0h0M567.9 289.2h0M589.0 301.2h0M667.9 196.9h0M669.8 280.0h0M634.8 301.1h0M633.2 301.9h0M576.2 301.1h0M672.8 215.3h0M568.2 226.1h0M566.5 238.9h0M670.9 212.9h0M565.5 289.4h0M673.8 238.1h0M613.4 301.9h0M618.9 197.0h0M568.4 301.7h0M622.9 299.4h0M586.3 299.6h0M623.2 197.0h0M569.3 285.1h0M566.3 262.6h0M672.8 256.7h0M671.7 225.9h0M670.0 251.6h0M671.4 252.3h0M566.3 274.3h0M625.2 198.0h0M634.0 198.1h0M600.1 300.6h0M567.4 249.9h0M567.2 242.6h0M622.2 197.6h0M602.6 299.4h0M670.9 257.3h0M569.6 303.4h0M565.2 252.2h0M566.2 303.4h0M670.6 247.9h0M671.0 260.5h0M672.5 240.4h0M671.4 248.6h0M610.0 303.6h0M672.5 235.2h0M620.6 301.7h0M568.9 235.3h0M571.6 301.1h0M566.0 264.1h0M618.7 196.7h0M587.8 197.8h0M645.3 196.1h0M616.0 301.9h0M568.7 297.7h0M586.7 300.9h0M565.3 282.2h0M569.7 252.8h0M674.3 269.5h0M674.1 200.4h0M568.7 258.8h0M568.2 256.5h0M565.3 301.0h0M565.5 240.5h0M609.4 195.2h0M566.0 276.2h0M614.5 197.2h0M673.0 204.9h0M568.0 282.3h0M565.6 282.7h0M586.2 299.9h0M657.1 196.6h0M611.0 301.0h0M673.1 196.8h0M568.9 235.9h0M569.3 249.0h0M577.6 302.6h0M583.0 195.9h0M636.2 299.9h0M660.9 198.0h0M586.6 299.5h0M615.4 299.6h0M566.9 232.2h0M569.1 295.1h0M640.6 195.3h0M646.0 195.1h0M580.9 303.0h0M567.1 260.5h0M573.9 300.9h0M632.9 196.4h0M671.6 216.3h0M670.2 214.3h0M568.1 231.2h0M565.5 286.1h0M671.7 221.8h0M670.7 219.0h0M614.9 196.6h0M614.0 197.7h0M565.4 282.7h0M590.1 195.1h0M660.1 196.1h0M661.1 198.3h0M576.1 300.4h0M597.5 195.2h0M568.6 233.6h0M672.5 245.2h0M631.4 303.3h0M673.7 199.6h0M674.3 205.7h0M673.4 253.2h0M599.5 196.3h0M646.0 195.3h0M565.8 300.8h0M565.8 296.9h0M670.1 203.4h0M588.7 196.4h0M673.6 274.3h0M673.6 209.2h0M566.6 290.3h0M565.6 299.6h0M569.9 269.2h0M674.2 280.1h0M567.2 299.9h0M602.4 299.5h0M613.7 198.5h0M565.3 297.3h0M672.4 259.0h0M630.6 302.2h0M611.5 198.2h0M610.7 299.8h0M663.7 197.4h0M671.8 228.1h0M602.3 299.5h0M670.2 240.8h0M568.8 300.3h0M672.7 195.2h0" stroke="#EDA0B0" stroke-width="0.9" stroke-linecap="square" fill="none" opacity="1"/>
<g clip-path="url(#cd)">
<polygon points="565,197.5 576,197 586,199 584,204 581,211 579,218 574,224 569,227 565,228" fill="#fbf1f2" filter="url(#bd)"/>
<polygon points="567,200 571,199 574,203 572,209 568,210 566,206" fill="#E38B9E" opacity="0.8"/>
<polygon points="675,283 668,285 660,287 652,288 645,290 638,295 636,300 640,305 675,305" fill="#fbf3f4"/>
</g>
<path d="M594.0 198.6h0M595.5 198.6h0M601.7 198.6h0M604.8 198.6h0M626.5 198.6h0M628.1 198.6h0M593.2 199.9h0M607.2 199.9h0M608.7 199.9h0M656.8 199.9h0M659.9 199.9h0M663.0 199.9h0M626.5 201.3h0M631.2 201.3h0M632.7 201.3h0M637.4 201.3h0M660.6 201.3h0M666.8 201.3h0M590.1 202.6h0M591.7 202.6h0M593.2 202.6h0M599.4 202.6h0M624.2 202.6h0M639.7 202.6h0M642.8 202.6h0M667.6 202.6h0M589.3 204.0h0M590.9 204.0h0M595.5 204.0h0M604.8 204.0h0M642.0 204.0h0M657.5 204.0h0M666.8 204.0h0M668.4 204.0h0M588.6 205.3h0M590.1 205.3h0M593.2 205.3h0M627.3 205.3h0M633.5 205.3h0M641.3 205.3h0M642.8 205.3h0M598.6 206.7h0M600.2 206.7h0M607.9 206.7h0M611.0 206.7h0M623.4 206.7h0M626.5 206.7h0M631.2 206.7h0M666.8 206.7h0M594.8 208.0h0M599.4 208.0h0M613.4 208.0h0M621.1 208.0h0M667.6 208.0h0M592.4 209.4h0M594.0 209.4h0M642.0 209.4h0M666.8 209.4h0M601.0 210.7h0M633.5 210.7h0M636.6 210.7h0M641.3 210.7h0M644.4 210.7h0M664.5 210.7h0M600.2 212.1h0M601.7 212.1h0M631.2 212.1h0M634.3 212.1h0M635.8 212.1h0M637.4 212.1h0M659.1 212.1h0M611.8 213.4h0M619.6 213.4h0M630.4 213.4h0M647.5 213.4h0M659.9 213.4h0M667.6 213.4h0M598.6 214.8h0M601.7 214.8h0M612.6 214.8h0M615.7 214.8h0M617.2 214.8h0M632.7 214.8h0M638.2 216.1h0M598.6 217.5h0M620.3 217.5h0M604.1 218.8h0M611.8 218.8h0M633.5 218.8h0M583.9 221.5h0M602.5 221.5h0M610.3 221.5h0M635.1 221.5h0M667.6 221.5h0M669.2 221.5h0M604.8 222.9h0M624.2 224.2h0M655.2 224.2h0M656.8 224.2h0M621.9 225.6h0M602.5 226.9h0M604.1 226.9h0M664.5 226.9h0M666.1 226.9h0M620.3 228.3h0M621.9 228.3h0M623.4 228.3h0M659.1 228.3h0M622.7 229.6h0M666.1 229.6h0M669.2 229.6h0M601.7 231.0h0M607.9 231.0h0M612.6 231.0h0M621.9 231.0h0M623.4 231.0h0M628.1 231.0h0M663.7 231.0h0M576.2 232.3h0M585.5 232.3h0M596.3 232.3h0M608.7 232.3h0M611.8 232.3h0M614.9 232.3h0M621.1 232.3h0M622.7 232.3h0M625.8 232.3h0M642.8 232.3h0M666.1 232.3h0M669.2 232.3h0M576.9 233.7h0M590.9 233.7h0M592.4 233.7h0M594.0 233.7h0M611.0 233.7h0M615.7 233.7h0M623.4 233.7h0M625.0 233.7h0M626.5 233.7h0M632.7 233.7h0M663.7 233.7h0M668.4 233.7h0M573.1 235.0h0M574.6 235.0h0M588.6 235.0h0M593.2 235.0h0M610.3 235.0h0M619.6 235.0h0M622.7 235.0h0M632.0 235.0h0M656.8 235.0h0M667.6 235.0h0M669.2 235.0h0M570.8 236.4h0M573.8 236.4h0M580.0 236.4h0M583.1 236.4h0M611.0 236.4h0M621.9 236.4h0M623.4 236.4h0M626.5 236.4h0M629.6 236.4h0M643.6 236.4h0M663.7 236.4h0M666.8 236.4h0M580.8 237.7h0M583.9 237.7h0M610.3 237.7h0M611.8 237.7h0M616.5 237.7h0M625.8 237.7h0M573.8 239.1h0M575.4 239.1h0M581.6 239.1h0M594.0 239.1h0M606.4 239.1h0M612.6 239.1h0M615.7 239.1h0M618.8 239.1h0M665.3 239.1h0M666.8 239.1h0M573.1 240.4h0M582.4 240.4h0M628.9 240.4h0M630.4 240.4h0M642.8 240.4h0M653.7 240.4h0M570.8 241.8h0M581.6 241.8h0M583.1 241.8h0M594.0 241.8h0M600.2 241.8h0M607.9 241.8h0M620.3 241.8h0M628.1 241.8h0M651.3 241.8h0M666.8 241.8h0M594.8 243.1h0M599.4 243.1h0M628.9 243.1h0M580.0 244.4h0M604.8 244.4h0M606.4 244.4h0M611.0 244.4h0M614.1 244.4h0M617.2 244.4h0M629.6 244.4h0M651.3 244.4h0M654.4 244.4h0M590.1 245.8h0M596.3 245.8h0M597.9 245.8h0M602.5 245.8h0M604.1 245.8h0M618.0 245.8h0M580.0 247.1h0M581.6 247.1h0M589.3 247.1h0M590.9 247.1h0M597.1 247.1h0M600.2 247.1h0M604.8 247.1h0M606.4 247.1h0M614.1 247.1h0M645.1 247.1h0M648.2 247.1h0M649.8 247.1h0M580.8 248.5h0M582.4 248.5h0M585.5 248.5h0M588.6 248.5h0M593.2 248.5h0M614.9 248.5h0M641.3 248.5h0M645.9 248.5h0M650.6 248.5h0M653.7 248.5h0M569.2 249.8h0M583.1 249.8h0M604.8 249.8h0M609.5 249.8h0M628.1 249.8h0M642.0 249.8h0M648.2 249.8h0M649.8 249.8h0M656.0 249.8h0M666.8 249.8h0M669.9 249.8h0M580.8 251.2h0M587.0 251.2h0M593.2 251.2h0M601.0 251.2h0M604.1 251.2h0M613.4 251.2h0M616.5 251.2h0M639.7 251.2h0M645.9 251.2h0M649.0 251.2h0M652.1 251.2h0M655.2 251.2h0M667.6 251.2h0M569.2 252.5h0M578.5 252.5h0M581.6 252.5h0M583.1 252.5h0M620.3 252.5h0M625.0 252.5h0M626.5 252.5h0M631.2 252.5h0M640.5 252.5h0M645.1 252.5h0M666.8 252.5h0M579.3 253.9h0M583.9 253.9h0M591.7 253.9h0M604.1 253.9h0M627.3 253.9h0M632.0 253.9h0M636.6 253.9h0M641.3 253.9h0M652.1 253.9h0M655.2 253.9h0M572.3 255.2h0M580.0 255.2h0M581.6 255.2h0M587.8 255.2h0M601.7 255.2h0M617.2 255.2h0M623.4 255.2h0M631.2 255.2h0M643.6 255.2h0M583.9 256.6h0M587.0 256.6h0M616.5 256.6h0M625.8 256.6h0M636.6 256.6h0M569.2 257.9h0M578.5 257.9h0M580.0 257.9h0M584.7 257.9h0M595.5 257.9h0M598.6 257.9h0M603.3 257.9h0M620.3 257.9h0M642.0 257.9h0M645.1 257.9h0M649.8 257.9h0M654.4 257.9h0M659.1 257.9h0M570.0 259.3h0M574.6 259.3h0M576.2 259.3h0M583.9 259.3h0M585.5 259.3h0M590.1 259.3h0M591.7 259.3h0M594.8 259.3h0M601.0 259.3h0M618.0 259.3h0M636.6 259.3h0M572.3 260.6h0M573.8 260.6h0M575.4 260.6h0M578.5 260.6h0M583.1 260.6h0M586.2 260.6h0M597.1 260.6h0M620.3 260.6h0M640.5 260.6h0M645.1 260.6h0M648.2 260.6h0M649.8 260.6h0M651.3 260.6h0M654.4 260.6h0M656.0 260.6h0M660.6 260.6h0M574.6 262.0h0M576.2 262.0h0M583.9 262.0h0M587.0 262.0h0M594.8 262.0h0M597.9 262.0h0M638.2 262.0h0M642.8 262.0h0M658.3 262.0h0M661.4 262.0h0M569.2 263.3h0M576.9 263.3h0M581.6 263.3h0M594.0 263.3h0M615.7 263.3h0M640.5 263.3h0M642.0 263.3h0M649.8 263.3h0M652.9 263.3h0M660.6 263.3h0M666.8 263.3h0M570.0 264.7h0M577.7 264.7h0M580.8 264.7h0M621.1 264.7h0M641.3 264.7h0M644.4 264.7h0M652.1 264.7h0M656.8 264.7h0M575.4 266.0h0M584.7 266.0h0M586.2 266.0h0M649.8 266.0h0M652.9 266.0h0M571.5 267.4h0M577.7 267.4h0M614.9 267.4h0M616.5 267.4h0M641.3 267.4h0M645.9 267.4h0M653.7 267.4h0M655.2 267.4h0M656.8 267.4h0M659.9 267.4h0M663.0 267.4h0M572.3 268.7h0M576.9 268.7h0M578.5 268.7h0M580.0 268.7h0M583.1 268.7h0M603.3 268.7h0M615.7 268.7h0M623.4 268.7h0M648.2 268.7h0M656.0 268.7h0M579.3 270.1h0M622.7 270.1h0M627.3 270.1h0M626.5 271.4h0M654.4 271.4h0M659.1 271.4h0M602.5 272.8h0M608.7 272.8h0M613.4 272.8h0M614.9 272.8h0M627.3 272.8h0M655.2 272.8h0M659.9 272.8h0M586.2 274.1h0M603.3 274.1h0M620.3 274.1h0M623.4 274.1h0M628.1 274.1h0M654.4 274.1h0M660.6 274.1h0M663.7 274.1h0M571.5 275.5h0M587.0 275.5h0M597.9 275.5h0M599.4 275.5h0M605.6 275.5h0M611.8 275.5h0M618.0 275.5h0M619.6 275.5h0M625.8 275.5h0M627.3 275.5h0M628.9 275.5h0M635.1 275.5h0M638.2 275.5h0M659.9 275.5h0M661.4 275.5h0M663.0 275.5h0M664.5 275.5h0M572.3 276.8h0M595.5 276.8h0M600.2 276.8h0M604.8 276.8h0M612.6 276.8h0M631.2 276.8h0M638.9 276.8h0M659.1 276.8h0M570.0 278.2h0M593.2 278.2h0M594.8 278.2h0M599.4 278.2h0M604.1 278.2h0M625.8 278.2h0M635.1 278.2h0M638.2 278.2h0M664.5 278.2h0M667.6 278.2h0M590.9 279.5h0M632.7 279.5h0M635.8 279.5h0M640.5 279.5h0M642.0 279.5h0M643.6 279.5h0M663.7 279.5h0M666.8 279.5h0M639.7 280.9h0M663.0 280.9h0M666.1 280.9h0M587.8 282.2h0M592.4 282.2h0M597.1 282.2h0M628.1 282.2h0M631.2 282.2h0M634.3 282.2h0M637.4 282.2h0M642.0 282.2h0M669.9 282.2h0M590.1 283.6h0M597.9 283.6h0M613.4 283.6h0M625.8 283.6h0M633.5 283.6h0M638.2 283.6h0M642.8 283.6h0M647.5 283.6h0M663.0 283.6h0M590.9 284.9h0M645.1 284.9h0M644.4 286.3h0M645.9 286.3h0M642.0 287.6h0M621.1 288.9h0M607.9 290.3h0M599.4 291.6h0M604.1 291.6h0M607.2 291.6h0M619.6 291.6h0M633.5 291.6h0M603.3 293.0h0M620.3 293.0h0M621.9 293.0h0M599.4 294.3h0M601.0 294.3h0M602.5 294.3h0M610.3 294.3h0M625.8 294.3h0M597.1 295.7h0M609.5 295.7h0M611.0 295.7h0M620.3 295.7h0M621.9 295.7h0M625.0 295.7h0M628.1 295.7h0M635.8 295.7h0M610.3 297.0h0M613.4 297.0h0M619.6 297.0h0M627.3 297.0h0M633.5 297.0h0M569.2 298.4h0M615.7 298.4h0M625.0 298.4h0M626.5 298.4h0M628.1 298.4h0M570.0 299.7h0M571.5 299.7h0M573.1 299.7h0M594.8 299.7h0M596.3 299.7h0M597.9 299.7h0M613.4 299.7h0M616.5 299.7h0M630.4 299.7h0M632.0 299.7h0" stroke="#353a8a" stroke-width="1.85" stroke-linecap="round" fill="none"/>
<path d="M598.6 198.6h0M600.2 198.6h0M603.3 198.6h0M607.9 198.6h0M609.5 198.6h0M623.4 198.6h0M625.0 198.6h0M631.2 198.6h0M635.8 198.6h0M637.4 198.6h0M638.9 198.6h0M643.6 198.6h0M645.1 198.6h0M648.2 198.6h0M656.0 198.6h0M660.6 198.6h0M662.2 198.6h0M597.9 199.9h0M599.4 199.9h0M601.0 199.9h0M604.1 199.9h0M610.3 199.9h0M624.2 199.9h0M628.9 199.9h0M635.1 199.9h0M636.6 199.9h0M638.2 199.9h0M644.4 199.9h0M645.9 199.9h0M653.7 199.9h0M658.3 199.9h0M661.4 199.9h0M664.5 199.9h0M666.1 199.9h0M669.2 199.9h0M594.0 201.3h0M595.5 201.3h0M603.3 201.3h0M604.8 201.3h0M609.5 201.3h0M625.0 201.3h0M628.1 201.3h0M629.6 201.3h0M634.3 201.3h0M635.8 201.3h0M638.9 201.3h0M640.5 201.3h0M642.0 201.3h0M643.6 201.3h0M645.1 201.3h0M657.5 201.3h0M659.1 201.3h0M663.7 201.3h0M669.9 201.3h0M597.9 202.6h0M602.5 202.6h0M607.2 202.6h0M608.7 202.6h0M628.9 202.6h0M630.4 202.6h0M633.5 202.6h0M638.2 202.6h0M641.3 202.6h0M658.3 202.6h0M664.5 202.6h0M666.1 202.6h0M669.2 202.6h0M592.4 204.0h0M598.6 204.0h0M603.3 204.0h0M609.5 204.0h0M611.0 204.0h0M614.1 204.0h0M625.0 204.0h0M628.1 204.0h0M629.6 204.0h0M631.2 204.0h0M632.7 204.0h0M640.5 204.0h0M643.6 204.0h0M665.3 204.0h0M591.7 205.3h0M594.8 205.3h0M596.3 205.3h0M602.5 205.3h0M605.6 205.3h0M608.7 205.3h0M610.3 205.3h0M624.2 205.3h0M628.9 205.3h0M630.4 205.3h0M635.1 205.3h0M656.8 205.3h0M667.6 205.3h0M669.2 205.3h0M587.8 206.7h0M590.9 206.7h0M592.4 206.7h0M595.5 206.7h0M597.1 206.7h0M601.7 206.7h0M603.3 206.7h0M606.4 206.7h0M609.5 206.7h0M612.6 206.7h0M621.9 206.7h0M629.6 206.7h0M640.5 206.7h0M643.6 206.7h0M665.3 206.7h0M668.4 206.7h0M590.1 208.0h0M591.7 208.0h0M593.2 208.0h0M597.9 208.0h0M602.5 208.0h0M604.1 208.0h0M607.2 208.0h0M608.7 208.0h0M610.3 208.0h0M622.7 208.0h0M624.2 208.0h0M627.3 208.0h0M630.4 208.0h0M658.3 208.0h0M661.4 208.0h0M669.2 208.0h0M612.6 209.4h0M614.1 209.4h0M620.3 209.4h0M623.4 209.4h0M626.5 209.4h0M631.2 209.4h0M632.7 209.4h0M635.8 209.4h0M637.4 209.4h0M643.6 209.4h0M663.7 209.4h0M668.4 209.4h0M669.9 209.4h0M611.8 210.7h0M614.9 210.7h0M618.0 210.7h0M621.1 210.7h0M622.7 210.7h0M625.8 210.7h0M628.9 210.7h0M630.4 210.7h0M632.0 210.7h0M638.2 210.7h0M639.7 210.7h0M659.9 210.7h0M661.4 210.7h0M666.1 210.7h0M667.6 210.7h0M669.2 210.7h0M583.1 212.1h0M594.0 212.1h0M598.6 212.1h0M604.8 212.1h0M611.0 212.1h0M614.1 212.1h0M618.8 212.1h0M621.9 212.1h0M626.5 212.1h0M629.6 212.1h0M632.7 212.1h0M638.9 212.1h0M642.0 212.1h0M643.6 212.1h0M651.3 212.1h0M652.9 212.1h0M657.5 212.1h0M663.7 212.1h0M665.3 212.1h0M666.8 212.1h0M668.4 212.1h0M599.4 213.4h0M602.5 213.4h0M613.4 213.4h0M614.9 213.4h0M616.5 213.4h0M618.0 213.4h0M627.3 213.4h0M628.9 213.4h0M633.5 213.4h0M638.2 213.4h0M641.3 213.4h0M642.8 213.4h0M644.4 213.4h0M645.9 213.4h0M656.8 213.4h0M666.1 213.4h0M583.1 214.8h0M597.1 214.8h0M611.0 214.8h0M637.4 214.8h0M638.9 214.8h0M666.8 214.8h0M582.4 216.1h0M583.9 216.1h0M599.4 216.1h0M613.4 216.1h0M614.9 216.1h0M616.5 216.1h0M619.6 216.1h0M621.1 216.1h0M633.5 216.1h0M635.1 216.1h0M641.3 216.1h0M642.8 216.1h0M667.6 216.1h0M597.1 217.5h0M600.2 217.5h0M601.7 217.5h0M603.3 217.5h0M607.9 217.5h0M611.0 217.5h0M614.1 217.5h0M618.8 217.5h0M623.4 217.5h0M634.3 217.5h0M637.4 217.5h0M638.9 217.5h0M642.0 217.5h0M648.2 217.5h0M582.4 218.8h0M583.9 218.8h0M601.0 218.8h0M602.5 218.8h0M605.6 218.8h0M608.7 218.8h0M610.3 218.8h0M613.4 218.8h0M624.2 218.8h0M635.1 218.8h0M649.0 218.8h0M669.2 218.8h0M580.0 220.2h0M581.6 220.2h0M601.7 220.2h0M603.3 220.2h0M604.8 220.2h0M606.4 220.2h0M623.4 220.2h0M625.0 220.2h0M634.3 220.2h0M637.4 220.2h0M654.4 220.2h0M669.9 220.2h0M577.7 221.5h0M580.8 221.5h0M582.4 221.5h0M585.5 221.5h0M599.4 221.5h0M604.1 221.5h0M605.6 221.5h0M608.7 221.5h0M624.2 221.5h0M636.6 221.5h0M647.5 221.5h0M655.2 221.5h0M658.3 221.5h0M597.1 222.9h0M601.7 222.9h0M607.9 222.9h0M609.5 222.9h0M632.7 222.9h0M659.1 222.9h0M660.6 222.9h0M662.2 222.9h0M668.4 222.9h0M577.7 224.2h0M579.3 224.2h0M580.8 224.2h0M597.9 224.2h0M599.4 224.2h0M602.5 224.2h0M604.1 224.2h0M653.7 224.2h0M663.0 224.2h0M664.5 224.2h0M667.6 224.2h0M580.0 225.6h0M586.2 225.6h0M603.3 225.6h0M604.8 225.6h0M606.4 225.6h0M625.0 225.6h0M626.5 225.6h0M662.2 225.6h0M663.7 225.6h0M665.3 225.6h0M666.8 225.6h0M669.9 225.6h0M580.8 226.9h0M582.4 226.9h0M599.4 226.9h0M601.0 226.9h0M605.6 226.9h0M619.6 226.9h0M621.1 226.9h0M624.2 226.9h0M625.8 226.9h0M647.5 226.9h0M650.6 226.9h0M653.7 226.9h0M656.8 226.9h0M658.3 226.9h0M659.9 226.9h0M661.4 226.9h0M663.0 226.9h0M667.6 226.9h0M669.2 226.9h0M580.0 228.3h0M600.2 228.3h0M601.7 228.3h0M604.8 228.3h0M643.6 228.3h0M645.1 228.3h0M649.8 228.3h0M654.4 228.3h0M656.0 228.3h0M657.5 228.3h0M660.6 228.3h0M662.2 228.3h0M663.7 228.3h0M665.3 228.3h0M666.8 228.3h0M573.1 229.6h0M576.2 229.6h0M577.7 229.6h0M588.6 229.6h0M599.4 229.6h0M601.0 229.6h0M604.1 229.6h0M607.2 229.6h0M608.7 229.6h0M610.3 229.6h0M618.0 229.6h0M619.6 229.6h0M621.1 229.6h0M625.8 229.6h0M627.3 229.6h0M642.8 229.6h0M656.8 229.6h0M658.3 229.6h0M661.4 229.6h0M663.0 229.6h0M667.6 229.6h0M573.8 231.0h0M575.4 231.0h0M576.9 231.0h0M580.0 231.0h0M587.8 231.0h0M590.9 231.0h0M592.4 231.0h0M594.0 231.0h0M604.8 231.0h0M606.4 231.0h0M614.1 231.0h0M617.2 231.0h0M618.8 231.0h0M620.3 231.0h0M631.2 231.0h0M643.6 231.0h0M656.0 231.0h0M660.6 231.0h0M662.2 231.0h0M669.9 231.0h0M573.1 232.3h0M580.8 232.3h0M588.6 232.3h0M590.1 232.3h0M597.9 232.3h0M607.2 232.3h0M610.3 232.3h0M616.5 232.3h0M618.0 232.3h0M624.2 232.3h0M627.3 232.3h0M628.9 232.3h0M661.4 232.3h0M572.3 233.7h0M575.4 233.7h0M578.5 233.7h0M584.7 233.7h0M586.2 233.7h0M587.8 233.7h0M595.5 233.7h0M606.4 233.7h0M609.5 233.7h0M612.6 233.7h0M618.8 233.7h0M620.3 233.7h0M621.9 233.7h0M629.6 233.7h0M631.2 233.7h0M635.8 233.7h0M637.4 233.7h0M640.5 233.7h0M659.1 233.7h0M660.6 233.7h0M662.2 233.7h0M669.9 233.7h0M576.2 235.0h0M583.9 235.0h0M585.5 235.0h0M587.0 235.0h0M590.1 235.0h0M594.8 235.0h0M596.3 235.0h0M597.9 235.0h0M611.8 235.0h0M614.9 235.0h0M616.5 235.0h0M625.8 235.0h0M627.3 235.0h0M628.9 235.0h0M630.4 235.0h0M633.5 235.0h0M635.1 235.0h0M638.2 235.0h0M639.7 235.0h0M642.8 235.0h0M644.4 235.0h0M661.4 235.0h0M666.1 235.0h0M572.3 236.4h0M575.4 236.4h0M576.9 236.4h0M578.5 236.4h0M581.6 236.4h0M584.7 236.4h0M586.2 236.4h0M587.8 236.4h0M592.4 236.4h0M594.0 236.4h0M595.5 236.4h0M612.6 236.4h0M614.1 236.4h0M617.2 236.4h0M618.8 236.4h0M620.3 236.4h0M625.0 236.4h0M628.1 236.4h0M637.4 236.4h0M640.5 236.4h0M642.0 236.4h0M645.1 236.4h0M656.0 236.4h0M659.1 236.4h0M660.6 236.4h0M662.2 236.4h0M665.3 236.4h0M668.4 236.4h0M571.5 237.7h0M579.3 237.7h0M585.5 237.7h0M587.0 237.7h0M588.6 237.7h0M593.2 237.7h0M594.8 237.7h0M608.7 237.7h0M622.7 237.7h0M624.2 237.7h0M630.4 237.7h0M644.4 237.7h0M658.3 237.7h0M659.9 237.7h0M664.5 237.7h0M666.1 237.7h0M667.6 237.7h0M669.2 237.7h0M569.2 239.1h0M572.3 239.1h0M583.1 239.1h0M584.7 239.1h0M590.9 239.1h0M597.1 239.1h0M607.9 239.1h0M611.0 239.1h0M620.3 239.1h0M625.0 239.1h0M626.5 239.1h0M635.8 239.1h0M642.0 239.1h0M645.1 239.1h0M656.0 239.1h0M657.5 239.1h0M659.1 239.1h0M660.6 239.1h0M668.4 239.1h0M669.9 239.1h0M570.0 240.4h0M571.5 240.4h0M574.6 240.4h0M576.2 240.4h0M579.3 240.4h0M580.8 240.4h0M583.9 240.4h0M587.0 240.4h0M593.2 240.4h0M597.9 240.4h0M605.6 240.4h0M611.8 240.4h0M616.5 240.4h0M619.6 240.4h0M621.1 240.4h0M624.2 240.4h0M625.8 240.4h0M627.3 240.4h0M632.0 240.4h0M633.5 240.4h0M641.3 240.4h0M649.0 240.4h0M655.2 240.4h0M666.1 240.4h0M669.2 240.4h0M569.2 241.8h0M572.3 241.8h0M573.8 241.8h0M575.4 241.8h0M576.9 241.8h0M580.0 241.8h0M595.5 241.8h0M597.1 241.8h0M606.4 241.8h0M609.5 241.8h0M611.0 241.8h0M614.1 241.8h0M615.7 241.8h0M618.8 241.8h0M621.9 241.8h0M623.4 241.8h0M625.0 241.8h0M626.5 241.8h0M629.6 241.8h0M631.2 241.8h0M643.6 241.8h0M648.2 241.8h0M649.8 241.8h0M570.0 243.1h0M571.5 243.1h0M576.2 243.1h0M580.8 243.1h0M583.9 243.1h0M585.5 243.1h0M587.0 243.1h0M596.3 243.1h0M597.9 243.1h0M602.5 243.1h0M608.7 243.1h0M610.3 243.1h0M611.8 243.1h0M613.4 243.1h0M614.9 243.1h0M616.5 243.1h0M618.0 243.1h0M625.8 243.1h0M627.3 243.1h0M630.4 243.1h0M632.0 243.1h0M645.9 243.1h0M649.0 243.1h0M652.1 243.1h0M667.6 243.1h0M581.6 244.4h0M583.1 244.4h0M584.7 244.4h0M594.0 244.4h0M597.1 244.4h0M598.6 244.4h0M601.7 244.4h0M607.9 244.4h0M609.5 244.4h0M612.6 244.4h0M615.7 244.4h0M618.8 244.4h0M628.1 244.4h0M646.7 244.4h0M652.9 244.4h0M570.0 245.8h0M579.3 245.8h0M580.8 245.8h0M583.9 245.8h0M587.0 245.8h0M593.2 245.8h0M594.8 245.8h0M599.4 245.8h0M601.0 245.8h0M605.6 245.8h0M607.2 245.8h0M608.7 245.8h0M611.8 245.8h0M613.4 245.8h0M614.9 245.8h0M625.8 245.8h0M644.4 245.8h0M645.9 245.8h0M649.0 245.8h0M653.7 245.8h0M569.2 247.1h0M586.2 247.1h0M587.8 247.1h0M595.5 247.1h0M601.7 247.1h0M603.3 247.1h0M607.9 247.1h0M612.6 247.1h0M615.7 247.1h0M617.2 247.1h0M625.0 247.1h0M628.1 247.1h0M629.6 247.1h0M643.6 247.1h0M654.4 247.1h0M662.2 247.1h0M587.0 248.5h0M594.8 248.5h0M601.0 248.5h0M604.1 248.5h0M605.6 248.5h0M610.3 248.5h0M611.8 248.5h0M613.4 248.5h0M616.5 248.5h0M618.0 248.5h0M619.6 248.5h0M625.8 248.5h0M628.9 248.5h0M633.5 248.5h0M638.2 248.5h0M642.8 248.5h0M644.4 248.5h0M647.5 248.5h0M649.0 248.5h0M652.1 248.5h0M655.2 248.5h0M656.8 248.5h0M664.5 248.5h0M666.1 248.5h0M570.8 249.8h0M578.5 249.8h0M580.0 249.8h0M584.7 249.8h0M587.8 249.8h0M592.4 249.8h0M594.0 249.8h0M607.9 249.8h0M612.6 249.8h0M615.7 249.8h0M617.2 249.8h0M618.8 249.8h0M620.3 249.8h0M623.4 249.8h0M625.0 249.8h0M626.5 249.8h0M629.6 249.8h0M634.3 249.8h0M635.8 249.8h0M638.9 249.8h0M640.5 249.8h0M646.7 249.8h0M654.4 249.8h0M657.5 249.8h0M668.4 249.8h0M571.5 251.2h0M576.2 251.2h0M577.7 251.2h0M579.3 251.2h0M582.4 251.2h0M583.9 251.2h0M585.5 251.2h0M588.6 251.2h0M590.1 251.2h0M591.7 251.2h0M594.8 251.2h0M602.5 251.2h0M614.9 251.2h0M619.6 251.2h0M621.1 251.2h0M622.7 251.2h0M624.2 251.2h0M625.8 251.2h0M627.3 251.2h0M628.9 251.2h0M630.4 251.2h0M636.6 251.2h0M638.2 251.2h0M641.3 251.2h0M642.8 251.2h0M644.4 251.2h0M647.5 251.2h0M653.7 251.2h0M663.0 251.2h0M664.5 251.2h0M666.1 251.2h0M570.8 252.5h0M572.3 252.5h0M573.8 252.5h0M575.4 252.5h0M576.9 252.5h0M580.0 252.5h0M584.7 252.5h0M586.2 252.5h0M587.8 252.5h0M589.3 252.5h0M590.9 252.5h0M592.4 252.5h0M600.2 252.5h0M617.2 252.5h0M618.8 252.5h0M629.6 252.5h0M635.8 252.5h0M637.4 252.5h0M643.6 252.5h0M646.7 252.5h0M649.8 252.5h0M652.9 252.5h0M654.4 252.5h0M656.0 252.5h0M665.3 252.5h0M570.0 253.9h0M573.1 253.9h0M574.6 253.9h0M576.2 253.9h0M577.7 253.9h0M582.4 253.9h0M585.5 253.9h0M587.0 253.9h0M588.6 253.9h0M590.1 253.9h0M601.0 253.9h0M602.5 253.9h0M607.2 253.9h0M608.7 253.9h0M610.3 253.9h0M616.5 253.9h0M618.0 253.9h0M624.2 253.9h0M635.1 253.9h0M638.2 253.9h0M639.7 253.9h0M644.4 253.9h0M649.0 253.9h0M650.6 253.9h0M653.7 253.9h0M656.8 253.9h0M661.4 253.9h0M666.1 253.9h0M569.2 255.2h0M570.8 255.2h0M573.8 255.2h0M586.2 255.2h0M590.9 255.2h0M598.6 255.2h0M603.3 255.2h0M604.8 255.2h0M614.1 255.2h0M618.8 255.2h0M620.3 255.2h0M626.5 255.2h0M628.1 255.2h0M632.7 255.2h0M634.3 255.2h0M635.8 255.2h0M637.4 255.2h0M638.9 255.2h0M640.5 255.2h0M642.0 255.2h0M645.1 255.2h0M648.2 255.2h0M651.3 255.2h0M652.9 255.2h0M654.4 255.2h0M656.0 255.2h0M657.5 255.2h0M659.1 255.2h0M660.6 255.2h0M662.2 255.2h0M570.0 256.6h0M571.5 256.6h0M574.6 256.6h0M577.7 256.6h0M579.3 256.6h0M585.5 256.6h0M590.1 256.6h0M593.2 256.6h0M596.3 256.6h0M597.9 256.6h0M601.0 256.6h0M602.5 256.6h0M607.2 256.6h0M614.9 256.6h0M627.3 256.6h0M628.9 256.6h0M635.1 256.6h0M638.2 256.6h0M639.7 256.6h0M641.3 256.6h0M642.8 256.6h0M645.9 256.6h0M647.5 256.6h0M649.0 256.6h0M652.1 256.6h0M653.7 256.6h0M655.2 256.6h0M656.8 256.6h0M572.3 257.9h0M573.8 257.9h0M575.4 257.9h0M581.6 257.9h0M587.8 257.9h0M592.4 257.9h0M597.1 257.9h0M600.2 257.9h0M601.7 257.9h0M607.9 257.9h0M621.9 257.9h0M626.5 257.9h0M629.6 257.9h0M631.2 257.9h0M632.7 257.9h0M634.3 257.9h0M635.8 257.9h0M638.9 257.9h0M640.5 257.9h0M648.2 257.9h0M651.3 257.9h0M652.9 257.9h0M656.0 257.9h0M657.5 257.9h0M660.6 257.9h0M577.7 259.3h0M579.3 259.3h0M580.8 259.3h0M582.4 259.3h0M588.6 259.3h0M596.3 259.3h0M607.2 259.3h0M610.3 259.3h0M614.9 259.3h0M616.5 259.3h0M619.6 259.3h0M627.3 259.3h0M632.0 259.3h0M635.1 259.3h0M638.2 259.3h0M641.3 259.3h0M642.8 259.3h0M644.4 259.3h0M645.9 259.3h0M647.5 259.3h0M649.0 259.3h0M650.6 259.3h0M652.1 259.3h0M653.7 259.3h0M655.2 259.3h0M656.8 259.3h0M658.3 259.3h0M569.2 260.6h0M570.8 260.6h0M576.9 260.6h0M580.0 260.6h0M581.6 260.6h0M584.7 260.6h0M589.3 260.6h0M592.4 260.6h0M595.5 260.6h0M607.9 260.6h0M609.5 260.6h0M617.2 260.6h0M618.8 260.6h0M646.7 260.6h0M652.9 260.6h0M657.5 260.6h0M659.1 260.6h0M570.0 262.0h0M571.5 262.0h0M577.7 262.0h0M579.3 262.0h0M580.8 262.0h0M582.4 262.0h0M585.5 262.0h0M588.6 262.0h0M591.7 262.0h0M599.4 262.0h0M611.8 262.0h0M616.5 262.0h0M619.6 262.0h0M641.3 262.0h0M645.9 262.0h0M647.5 262.0h0M649.0 262.0h0M650.6 262.0h0M652.1 262.0h0M653.7 262.0h0M655.2 262.0h0M656.8 262.0h0M659.9 262.0h0M669.2 262.0h0M570.8 263.3h0M572.3 263.3h0M573.8 263.3h0M583.1 263.3h0M584.7 263.3h0M586.2 263.3h0M587.8 263.3h0M589.3 263.3h0M595.5 263.3h0M598.6 263.3h0M614.1 263.3h0M617.2 263.3h0M638.9 263.3h0M643.6 263.3h0M645.1 263.3h0M646.7 263.3h0M651.3 263.3h0M654.4 263.3h0M657.5 263.3h0M571.5 264.7h0M573.1 264.7h0M574.6 264.7h0M579.3 264.7h0M582.4 264.7h0M583.9 264.7h0M594.8 264.7h0M596.3 264.7h0M601.0 264.7h0M611.8 264.7h0M613.4 264.7h0M614.9 264.7h0M616.5 264.7h0M636.6 264.7h0M639.7 264.7h0M642.8 264.7h0M647.5 264.7h0M649.0 264.7h0M650.6 264.7h0M653.7 264.7h0M655.2 264.7h0M659.9 264.7h0M663.0 264.7h0M664.5 264.7h0M572.3 266.0h0M573.8 266.0h0M576.9 266.0h0M578.5 266.0h0M583.1 266.0h0M598.6 266.0h0M600.2 266.0h0M601.7 266.0h0M603.3 266.0h0M612.6 266.0h0M615.7 266.0h0M617.2 266.0h0M618.8 266.0h0M620.3 266.0h0M621.9 266.0h0M637.4 266.0h0M638.9 266.0h0M646.7 266.0h0M651.3 266.0h0M654.4 266.0h0M656.0 266.0h0M657.5 266.0h0M662.2 266.0h0M574.6 267.4h0M580.8 267.4h0M582.4 267.4h0M583.9 267.4h0M585.5 267.4h0M601.0 267.4h0M613.4 267.4h0M618.0 267.4h0M621.1 267.4h0M624.2 267.4h0M642.8 267.4h0M644.4 267.4h0M658.3 267.4h0M661.4 267.4h0M664.5 267.4h0M575.4 268.7h0M581.6 268.7h0M584.7 268.7h0M600.2 268.7h0M617.2 268.7h0M618.8 268.7h0M620.3 268.7h0M625.0 268.7h0M626.5 268.7h0M635.8 268.7h0M637.4 268.7h0M651.3 268.7h0M652.9 268.7h0M654.4 268.7h0M659.1 268.7h0M660.6 268.7h0M663.7 268.7h0M574.6 270.1h0M576.2 270.1h0M580.8 270.1h0M582.4 270.1h0M583.9 270.1h0M611.8 270.1h0M613.4 270.1h0M614.9 270.1h0M618.0 270.1h0M619.6 270.1h0M621.1 270.1h0M624.2 270.1h0M628.9 270.1h0M650.6 270.1h0M655.2 270.1h0M656.8 270.1h0M663.0 270.1h0M572.3 271.4h0M573.8 271.4h0M578.5 271.4h0M583.1 271.4h0M586.2 271.4h0M601.7 271.4h0M604.8 271.4h0M606.4 271.4h0M609.5 271.4h0M611.0 271.4h0M614.1 271.4h0M615.7 271.4h0M621.9 271.4h0M623.4 271.4h0M625.0 271.4h0M628.1 271.4h0M635.8 271.4h0M652.9 271.4h0M656.0 271.4h0M657.5 271.4h0M663.7 271.4h0M570.0 272.8h0M571.5 272.8h0M574.6 272.8h0M577.7 272.8h0M582.4 272.8h0M585.5 272.8h0M587.0 272.8h0M588.6 272.8h0M590.1 272.8h0M599.4 272.8h0M605.6 272.8h0M607.2 272.8h0M618.0 272.8h0M621.1 272.8h0M622.7 272.8h0M624.2 272.8h0M628.9 272.8h0M635.1 272.8h0M653.7 272.8h0M656.8 272.8h0M661.4 272.8h0M663.0 272.8h0M664.5 272.8h0M669.2 272.8h0M569.2 274.1h0M570.8 274.1h0M572.3 274.1h0M575.4 274.1h0M583.1 274.1h0M584.7 274.1h0M587.8 274.1h0M590.9 274.1h0M598.6 274.1h0M600.2 274.1h0M601.7 274.1h0M604.8 274.1h0M606.4 274.1h0M607.9 274.1h0M609.5 274.1h0M611.0 274.1h0M614.1 274.1h0M621.9 274.1h0M625.0 274.1h0M626.5 274.1h0M629.6 274.1h0M631.2 274.1h0M635.8 274.1h0M637.4 274.1h0M662.2 274.1h0M666.8 274.1h0M668.4 274.1h0M669.9 274.1h0M573.1 275.5h0M574.6 275.5h0M590.1 275.5h0M594.8 275.5h0M602.5 275.5h0M604.1 275.5h0M607.2 275.5h0M608.7 275.5h0M610.3 275.5h0M613.4 275.5h0M614.9 275.5h0M616.5 275.5h0M621.1 275.5h0M630.4 275.5h0M632.0 275.5h0M633.5 275.5h0M636.6 275.5h0M653.7 275.5h0M667.6 275.5h0M669.2 275.5h0M570.8 276.8h0M594.0 276.8h0M597.1 276.8h0M598.6 276.8h0M603.3 276.8h0M606.4 276.8h0M607.9 276.8h0M614.1 276.8h0M615.7 276.8h0M621.9 276.8h0M623.4 276.8h0M626.5 276.8h0M629.6 276.8h0M635.8 276.8h0M640.5 276.8h0M660.6 276.8h0M662.2 276.8h0M665.3 276.8h0M669.9 276.8h0M585.5 278.2h0M587.0 278.2h0M588.6 278.2h0M596.3 278.2h0M597.9 278.2h0M601.0 278.2h0M608.7 278.2h0M611.8 278.2h0M613.4 278.2h0M624.2 278.2h0M628.9 278.2h0M632.0 278.2h0M636.6 278.2h0M639.7 278.2h0M642.8 278.2h0M661.4 278.2h0M663.0 278.2h0M666.1 278.2h0M569.2 279.5h0M586.2 279.5h0M589.3 279.5h0M595.5 279.5h0M597.1 279.5h0M601.7 279.5h0M609.5 279.5h0M612.6 279.5h0M614.1 279.5h0M629.6 279.5h0M631.2 279.5h0M637.4 279.5h0M638.9 279.5h0M645.1 279.5h0M659.1 279.5h0M665.3 279.5h0M668.4 279.5h0M669.9 279.5h0M587.0 280.9h0M588.6 280.9h0M591.7 280.9h0M594.8 280.9h0M596.3 280.9h0M601.0 280.9h0M611.8 280.9h0M613.4 280.9h0M630.4 280.9h0M632.0 280.9h0M633.5 280.9h0M636.6 280.9h0M638.2 280.9h0M644.4 280.9h0M659.9 280.9h0M669.2 280.9h0M586.2 282.2h0M594.0 282.2h0M595.5 282.2h0M598.6 282.2h0M600.2 282.2h0M614.1 282.2h0M617.2 282.2h0M623.4 282.2h0M626.5 282.2h0M632.7 282.2h0M638.9 282.2h0M646.7 282.2h0M665.3 282.2h0M668.4 282.2h0M585.5 283.6h0M588.6 283.6h0M591.7 283.6h0M594.8 283.6h0M604.1 283.6h0M611.8 283.6h0M618.0 283.6h0M622.7 283.6h0M624.2 283.6h0M627.3 283.6h0M628.9 283.6h0M636.6 283.6h0M639.7 283.6h0M641.3 283.6h0M570.8 284.9h0M589.3 284.9h0M601.7 284.9h0M603.3 284.9h0M609.5 284.9h0M612.6 284.9h0M614.1 284.9h0M615.7 284.9h0M617.2 284.9h0M620.3 284.9h0M626.5 284.9h0M628.1 284.9h0M637.4 284.9h0M646.7 284.9h0M649.8 284.9h0M570.0 286.3h0M596.3 286.3h0M599.4 286.3h0M602.5 286.3h0M604.1 286.3h0M605.6 286.3h0M619.6 286.3h0M632.0 286.3h0M633.5 286.3h0M635.1 286.3h0M642.8 286.3h0M649.0 286.3h0M569.2 287.6h0M589.3 287.6h0M597.1 287.6h0M600.2 287.6h0M603.3 287.6h0M607.9 287.6h0M611.0 287.6h0M617.2 287.6h0M618.8 287.6h0M621.9 287.6h0M640.5 287.6h0M643.6 287.6h0M645.1 287.6h0M648.2 287.6h0M649.8 287.6h0M570.0 288.9h0M599.4 288.9h0M607.2 288.9h0M619.6 288.9h0M635.1 288.9h0M569.2 290.3h0M570.8 290.3h0M600.2 290.3h0M604.8 290.3h0M606.4 290.3h0M618.8 290.3h0M620.3 290.3h0M635.8 290.3h0M596.3 291.6h0M601.0 291.6h0M605.6 291.6h0M621.1 291.6h0M622.7 291.6h0M624.2 291.6h0M569.2 293.0h0M592.4 293.0h0M594.0 293.0h0M595.5 293.0h0M597.1 293.0h0M598.6 293.0h0M600.2 293.0h0M604.8 293.0h0M606.4 293.0h0M607.9 293.0h0M618.8 293.0h0M623.4 293.0h0M625.0 293.0h0M632.7 293.0h0M640.5 293.0h0M570.0 294.3h0M571.5 294.3h0M591.7 294.3h0M593.2 294.3h0M597.9 294.3h0M604.1 294.3h0M607.2 294.3h0M619.6 294.3h0M622.7 294.3h0M624.2 294.3h0M627.3 294.3h0M630.4 294.3h0M636.6 294.3h0M638.2 294.3h0M639.7 294.3h0M569.2 295.7h0M570.8 295.7h0M595.5 295.7h0M600.2 295.7h0M603.3 295.7h0M606.4 295.7h0M607.9 295.7h0M617.2 295.7h0M618.8 295.7h0M626.5 295.7h0M632.7 295.7h0M638.9 295.7h0M570.0 297.0h0M571.5 297.0h0M594.8 297.0h0M596.3 297.0h0M601.0 297.0h0M608.7 297.0h0M616.5 297.0h0M618.0 297.0h0M621.1 297.0h0M624.2 297.0h0M625.8 297.0h0M630.4 297.0h0M632.0 297.0h0M636.6 297.0h0M570.8 298.4h0M572.3 298.4h0M575.4 298.4h0M592.4 298.4h0M594.0 298.4h0M595.5 298.4h0M597.1 298.4h0M598.6 298.4h0M611.0 298.4h0M612.6 298.4h0M614.1 298.4h0M618.8 298.4h0M620.3 298.4h0M621.9 298.4h0M629.6 298.4h0M631.2 298.4h0M632.7 298.4h0M634.3 298.4h0M599.4 299.7h0M605.6 299.7h0M608.7 299.7h0M610.3 299.7h0M619.6 299.7h0M622.7 299.7h0M624.2 299.7h0M625.8 299.7h0M627.3 299.7h0M628.9 299.7h0" stroke="#304692" stroke-width="1.85" stroke-linecap="round" fill="none"/>
<path d="M597.1 198.6h0M611.0 198.6h0M632.7 198.6h0M649.8 198.6h0M652.9 198.6h0M663.7 198.6h0M665.3 198.6h0M666.8 198.6h0M668.4 198.6h0M669.9 198.6h0M594.8 199.9h0M602.5 199.9h0M622.7 199.9h0M625.8 199.9h0M633.5 199.9h0M639.7 199.9h0M641.3 199.9h0M642.8 199.9h0M647.5 199.9h0M652.1 199.9h0M655.2 199.9h0M667.6 199.9h0M592.4 201.3h0M597.1 201.3h0M598.6 201.3h0M600.2 201.3h0M601.7 201.3h0M607.9 201.3h0M656.0 201.3h0M662.2 201.3h0M665.3 201.3h0M668.4 201.3h0M596.3 202.6h0M601.0 202.6h0M625.8 202.6h0M636.6 202.6h0M656.8 202.6h0M659.9 202.6h0M663.0 202.6h0M587.8 204.0h0M594.0 204.0h0M600.2 204.0h0M601.7 204.0h0M606.4 204.0h0M607.9 204.0h0M623.4 204.0h0M634.3 204.0h0M635.8 204.0h0M645.1 204.0h0M659.1 204.0h0M669.9 204.0h0M597.9 205.3h0M601.0 205.3h0M607.2 205.3h0M611.8 205.3h0M621.1 205.3h0M622.7 205.3h0M659.9 205.3h0M666.1 205.3h0M614.1 206.7h0M620.3 206.7h0M632.7 206.7h0M669.9 206.7h0M596.3 208.0h0M601.0 208.0h0M605.6 208.0h0M611.8 208.0h0M614.9 208.0h0M618.0 208.0h0M619.6 208.0h0M625.8 208.0h0M628.9 208.0h0M632.0 208.0h0M633.5 208.0h0M639.7 208.0h0M641.3 208.0h0M656.8 208.0h0M664.5 208.0h0M666.1 208.0h0M589.3 209.4h0M597.1 209.4h0M598.6 209.4h0M600.2 209.4h0M604.8 209.4h0M606.4 209.4h0M607.9 209.4h0M609.5 209.4h0M618.8 209.4h0M625.0 209.4h0M628.1 209.4h0M629.6 209.4h0M638.9 209.4h0M640.5 209.4h0M646.7 209.4h0M657.5 209.4h0M659.1 209.4h0M665.3 209.4h0M585.5 210.7h0M591.7 210.7h0M593.2 210.7h0M594.8 210.7h0M599.4 210.7h0M602.5 210.7h0M604.1 210.7h0M605.6 210.7h0M610.3 210.7h0M613.4 210.7h0M650.6 210.7h0M652.1 210.7h0M658.3 210.7h0M584.7 212.1h0M592.4 212.1h0M603.3 212.1h0M612.6 212.1h0M615.7 212.1h0M617.2 212.1h0M623.4 212.1h0M640.5 212.1h0M645.1 212.1h0M646.7 212.1h0M662.2 212.1h0M669.9 212.1h0M583.9 213.4h0M593.2 213.4h0M596.3 213.4h0M610.3 213.4h0M621.1 213.4h0M635.1 213.4h0M636.6 213.4h0M652.1 213.4h0M653.7 213.4h0M655.2 213.4h0M661.4 213.4h0M663.0 213.4h0M664.5 213.4h0M669.2 213.4h0M592.4 214.8h0M594.0 214.8h0M595.5 214.8h0M603.3 214.8h0M618.8 214.8h0M620.3 214.8h0M621.9 214.8h0M623.4 214.8h0M628.1 214.8h0M629.6 214.8h0M631.2 214.8h0M635.8 214.8h0M642.0 214.8h0M646.7 214.8h0M656.0 214.8h0M659.1 214.8h0M665.3 214.8h0M668.4 214.8h0M669.9 214.8h0M585.5 216.1h0M593.2 216.1h0M594.8 216.1h0M596.3 216.1h0M597.9 216.1h0M601.0 216.1h0M602.5 216.1h0M608.7 216.1h0M610.3 216.1h0M611.8 216.1h0M618.0 216.1h0M624.2 216.1h0M628.9 216.1h0M630.4 216.1h0M632.0 216.1h0M636.6 216.1h0M644.4 216.1h0M645.9 216.1h0M647.5 216.1h0M658.3 216.1h0M669.2 216.1h0M584.7 217.5h0M604.8 217.5h0M609.5 217.5h0M612.6 217.5h0M617.2 217.5h0M621.9 217.5h0M625.0 217.5h0M629.6 217.5h0M635.8 217.5h0M640.5 217.5h0M643.6 217.5h0M645.1 217.5h0M646.7 217.5h0M666.8 217.5h0M669.9 217.5h0M597.9 218.8h0M607.2 218.8h0M619.6 218.8h0M621.1 218.8h0M625.8 218.8h0M627.3 218.8h0M628.9 218.8h0M632.0 218.8h0M636.6 218.8h0M638.2 218.8h0M639.7 218.8h0M642.8 218.8h0M650.6 218.8h0M667.6 218.8h0M584.7 220.2h0M587.8 220.2h0M597.1 220.2h0M598.6 220.2h0M607.9 220.2h0M609.5 220.2h0M611.0 220.2h0M612.6 220.2h0M620.3 220.2h0M621.9 220.2h0M626.5 220.2h0M632.7 220.2h0M635.8 220.2h0M638.9 220.2h0M652.9 220.2h0M656.0 220.2h0M657.5 220.2h0M659.1 220.2h0M668.4 220.2h0M579.3 221.5h0M588.6 221.5h0M601.0 221.5h0M607.2 221.5h0M621.1 221.5h0M625.8 221.5h0M645.9 221.5h0M656.8 221.5h0M661.4 221.5h0M664.5 221.5h0M576.9 222.9h0M581.6 222.9h0M583.1 222.9h0M586.2 222.9h0M598.6 222.9h0M603.3 222.9h0M611.0 222.9h0M621.9 222.9h0M625.0 222.9h0M626.5 222.9h0M634.3 222.9h0M646.7 222.9h0M652.9 222.9h0M654.4 222.9h0M656.0 222.9h0M657.5 222.9h0M665.3 222.9h0M666.8 222.9h0M669.9 222.9h0M582.4 224.2h0M585.5 224.2h0M601.0 224.2h0M605.6 224.2h0M619.6 224.2h0M622.7 224.2h0M633.5 224.2h0M645.9 224.2h0M647.5 224.2h0M649.0 224.2h0M652.1 224.2h0M658.3 224.2h0M666.1 224.2h0M669.2 224.2h0M576.9 225.6h0M578.5 225.6h0M598.6 225.6h0M600.2 225.6h0M607.9 225.6h0M623.4 225.6h0M628.1 225.6h0M645.1 225.6h0M646.7 225.6h0M652.9 225.6h0M656.0 225.6h0M657.5 225.6h0M579.3 226.9h0M585.5 226.9h0M597.9 226.9h0M607.2 226.9h0M608.7 226.9h0M622.7 226.9h0M630.4 226.9h0M644.4 226.9h0M645.9 226.9h0M655.2 226.9h0M578.5 228.3h0M586.2 228.3h0M590.9 228.3h0M595.5 228.3h0M603.3 228.3h0M612.6 228.3h0M618.8 228.3h0M625.0 228.3h0M628.1 228.3h0M629.6 228.3h0M642.0 228.3h0M646.7 228.3h0M648.2 228.3h0M668.4 228.3h0M579.3 229.6h0M590.1 229.6h0M593.2 229.6h0M596.3 229.6h0M597.9 229.6h0M605.6 229.6h0M616.5 229.6h0M641.3 229.6h0M647.5 229.6h0M649.0 229.6h0M653.7 229.6h0M655.2 229.6h0M664.5 229.6h0M572.3 231.0h0M578.5 231.0h0M581.6 231.0h0M589.3 231.0h0M597.1 231.0h0M598.6 231.0h0M600.2 231.0h0M603.3 231.0h0M611.0 231.0h0M629.6 231.0h0M638.9 231.0h0M642.0 231.0h0M646.7 231.0h0M654.4 231.0h0M659.1 231.0h0M665.3 231.0h0M571.5 232.3h0M574.6 232.3h0M577.7 232.3h0M579.3 232.3h0M582.4 232.3h0M583.9 232.3h0M587.0 232.3h0M593.2 232.3h0M594.8 232.3h0M599.4 232.3h0M601.0 232.3h0M605.6 232.3h0M619.6 232.3h0M630.4 232.3h0M632.0 232.3h0M635.1 232.3h0M636.6 232.3h0M644.4 232.3h0M645.9 232.3h0M655.2 232.3h0M656.8 232.3h0M658.3 232.3h0M664.5 232.3h0M667.6 232.3h0M573.8 233.7h0M580.0 233.7h0M581.6 233.7h0M583.1 233.7h0M589.3 233.7h0M603.3 233.7h0M604.8 233.7h0M607.9 233.7h0M614.1 233.7h0M617.2 233.7h0M642.0 233.7h0M645.1 233.7h0M657.5 233.7h0M571.5 235.0h0M580.8 235.0h0M582.4 235.0h0M591.7 235.0h0M605.6 235.0h0M607.2 235.0h0M621.1 235.0h0M636.6 235.0h0M641.3 235.0h0M658.3 235.0h0M659.9 235.0h0M663.0 235.0h0M664.5 235.0h0M589.3 236.4h0M590.9 236.4h0M606.4 236.4h0M615.7 236.4h0M632.7 236.4h0M638.9 236.4h0M657.5 236.4h0M570.0 237.7h0M573.1 237.7h0M576.2 237.7h0M577.7 237.7h0M590.1 237.7h0M596.3 237.7h0M599.4 237.7h0M607.2 237.7h0M613.4 237.7h0M614.9 237.7h0M618.0 237.7h0M619.6 237.7h0M621.1 237.7h0M627.3 237.7h0M628.9 237.7h0M635.1 237.7h0M638.2 237.7h0M639.7 237.7h0M641.3 237.7h0M645.9 237.7h0M655.2 237.7h0M656.8 237.7h0M661.4 237.7h0M663.0 237.7h0M576.9 239.1h0M578.5 239.1h0M586.2 239.1h0M587.8 239.1h0M592.4 239.1h0M595.5 239.1h0M598.6 239.1h0M609.5 239.1h0M614.1 239.1h0M617.2 239.1h0M621.9 239.1h0M628.1 239.1h0M631.2 239.1h0M632.7 239.1h0M634.3 239.1h0M643.6 239.1h0M646.7 239.1h0M652.9 239.1h0M654.4 239.1h0M662.2 239.1h0M585.5 240.4h0M594.8 240.4h0M599.4 240.4h0M604.1 240.4h0M607.2 240.4h0M610.3 240.4h0M613.4 240.4h0M618.0 240.4h0M636.6 240.4h0M639.7 240.4h0M644.4 240.4h0M645.9 240.4h0M652.1 240.4h0M664.5 240.4h0M667.6 240.4h0M584.7 241.8h0M586.2 241.8h0M587.8 241.8h0M598.6 241.8h0M612.6 241.8h0M617.2 241.8h0M632.7 241.8h0M637.4 241.8h0M645.1 241.8h0M646.7 241.8h0M654.4 241.8h0M665.3 241.8h0M668.4 241.8h0M669.9 241.8h0M577.7 243.1h0M582.4 243.1h0M588.6 243.1h0M593.2 243.1h0M601.0 243.1h0M604.1 243.1h0M605.6 243.1h0M624.2 243.1h0M650.6 243.1h0M653.7 243.1h0M666.1 243.1h0M669.2 243.1h0M572.3 244.4h0M586.2 244.4h0M592.4 244.4h0M595.5 244.4h0M600.2 244.4h0M623.4 244.4h0M625.0 244.4h0M642.0 244.4h0M645.1 244.4h0M648.2 244.4h0M649.8 244.4h0M669.9 244.4h0M577.7 245.8h0M582.4 245.8h0M585.5 245.8h0M591.7 245.8h0M610.3 245.8h0M616.5 245.8h0M624.2 245.8h0M627.3 245.8h0M628.9 245.8h0M632.0 245.8h0M638.2 245.8h0M641.3 245.8h0M642.8 245.8h0M652.1 245.8h0M655.2 245.8h0M663.0 245.8h0M664.5 245.8h0M584.7 247.1h0M592.4 247.1h0M594.0 247.1h0M598.6 247.1h0M609.5 247.1h0M611.0 247.1h0M618.8 247.1h0M626.5 247.1h0M646.7 247.1h0M651.3 247.1h0M656.0 247.1h0M657.5 247.1h0M663.7 247.1h0M570.0 248.5h0M571.5 248.5h0M579.3 248.5h0M583.9 248.5h0M597.9 248.5h0M599.4 248.5h0M602.5 248.5h0M608.7 248.5h0M622.7 248.5h0M627.3 248.5h0M630.4 248.5h0M632.0 248.5h0M635.1 248.5h0M636.6 248.5h0M663.0 248.5h0M667.6 248.5h0M669.2 248.5h0M572.3 249.8h0M573.8 249.8h0M575.4 249.8h0M586.2 249.8h0M589.3 249.8h0M597.1 249.8h0M600.2 249.8h0M606.4 249.8h0M611.0 249.8h0M614.1 249.8h0M621.9 249.8h0M632.7 249.8h0M643.6 249.8h0M659.1 249.8h0M660.6 249.8h0M662.2 249.8h0M665.3 249.8h0M570.0 251.2h0M573.1 251.2h0M596.3 251.2h0M599.4 251.2h0M607.2 251.2h0M611.8 251.2h0M618.0 251.2h0M632.0 251.2h0M635.1 251.2h0M650.6 251.2h0M594.0 252.5h0M601.7 252.5h0M604.8 252.5h0M606.4 252.5h0M609.5 252.5h0M612.6 252.5h0M614.1 252.5h0M623.4 252.5h0M634.3 252.5h0M642.0 252.5h0M657.5 252.5h0M662.2 252.5h0M668.4 252.5h0M580.8 253.9h0M599.4 253.9h0M611.8 253.9h0M614.9 253.9h0M619.6 253.9h0M622.7 253.9h0M625.8 253.9h0M630.4 253.9h0M633.5 253.9h0M642.8 253.9h0M647.5 253.9h0M663.0 253.9h0M664.5 253.9h0M669.2 253.9h0M576.9 255.2h0M578.5 255.2h0M583.1 255.2h0M592.4 255.2h0M597.1 255.2h0M600.2 255.2h0M606.4 255.2h0M607.9 255.2h0M609.5 255.2h0M621.9 255.2h0M625.0 255.2h0M629.6 255.2h0M646.7 255.2h0M649.8 255.2h0M666.8 255.2h0M669.9 255.2h0M580.8 256.6h0M591.7 256.6h0M594.8 256.6h0M599.4 256.6h0M610.3 256.6h0M611.8 256.6h0M618.0 256.6h0M619.6 256.6h0M621.1 256.6h0M632.0 256.6h0M644.4 256.6h0M650.6 256.6h0M658.3 256.6h0M659.9 256.6h0M661.4 256.6h0M570.8 257.9h0M583.1 257.9h0M586.2 257.9h0M590.9 257.9h0M604.8 257.9h0M611.0 257.9h0M612.6 257.9h0M614.1 257.9h0M615.7 257.9h0M617.2 257.9h0M618.8 257.9h0M623.4 257.9h0M625.0 257.9h0M628.1 257.9h0M662.2 257.9h0M669.9 257.9h0M573.1 259.3h0M593.2 259.3h0M597.9 259.3h0M599.4 259.3h0M602.5 259.3h0M605.6 259.3h0M608.7 259.3h0M613.4 259.3h0M625.8 259.3h0M630.4 259.3h0M633.5 259.3h0M661.4 259.3h0M669.2 259.3h0M587.8 260.6h0M590.9 260.6h0M594.0 260.6h0M598.6 260.6h0M600.2 260.6h0M601.7 260.6h0M603.3 260.6h0M604.8 260.6h0M606.4 260.6h0M614.1 260.6h0M621.9 260.6h0M629.6 260.6h0M635.8 260.6h0M637.4 260.6h0M642.0 260.6h0M643.6 260.6h0M662.2 260.6h0M668.4 260.6h0M590.1 262.0h0M601.0 262.0h0M602.5 262.0h0M613.4 262.0h0M614.9 262.0h0M633.5 262.0h0M635.1 262.0h0M644.4 262.0h0M663.0 262.0h0M664.5 262.0h0M666.1 262.0h0M667.6 262.0h0M575.4 263.3h0M578.5 263.3h0M580.0 263.3h0M590.9 263.3h0M601.7 263.3h0M603.3 263.3h0M612.6 263.3h0M631.2 263.3h0M637.4 263.3h0M648.2 263.3h0M656.0 263.3h0M663.7 263.3h0M669.9 263.3h0M587.0 264.7h0M588.6 264.7h0M590.1 264.7h0M591.7 264.7h0M593.2 264.7h0M597.9 264.7h0M599.4 264.7h0M610.3 264.7h0M645.9 264.7h0M661.4 264.7h0M666.1 264.7h0M667.6 264.7h0M569.2 266.0h0M580.0 266.0h0M581.6 266.0h0M594.0 266.0h0M597.1 266.0h0M614.1 266.0h0M628.1 266.0h0M635.8 266.0h0M643.6 266.0h0M645.1 266.0h0M648.2 266.0h0M659.1 266.0h0M660.6 266.0h0M666.8 266.0h0M576.2 267.4h0M579.3 267.4h0M587.0 267.4h0M602.5 267.4h0M604.1 267.4h0M619.6 267.4h0M622.7 267.4h0M625.8 267.4h0M639.7 267.4h0M649.0 267.4h0M652.1 267.4h0M569.2 268.7h0M570.8 268.7h0M573.8 268.7h0M601.7 268.7h0M604.8 268.7h0M614.1 268.7h0M629.6 268.7h0M640.5 268.7h0M642.0 268.7h0M645.1 268.7h0M646.7 268.7h0M649.8 268.7h0M657.5 268.7h0M665.3 268.7h0M571.5 270.1h0M588.6 270.1h0M599.4 270.1h0M602.5 270.1h0M605.6 270.1h0M616.5 270.1h0M630.4 270.1h0M632.0 270.1h0M633.5 270.1h0M636.6 270.1h0M645.9 270.1h0M647.5 270.1h0M652.1 270.1h0M658.3 270.1h0M659.9 270.1h0M576.9 271.4h0M580.0 271.4h0M581.6 271.4h0M584.7 271.4h0M589.3 271.4h0M590.9 271.4h0M598.6 271.4h0M603.3 271.4h0M607.9 271.4h0M612.6 271.4h0M617.2 271.4h0M620.3 271.4h0M629.6 271.4h0M632.7 271.4h0M634.3 271.4h0M638.9 271.4h0M648.2 271.4h0M651.3 271.4h0M660.6 271.4h0M662.2 271.4h0M573.1 272.8h0M576.2 272.8h0M583.9 272.8h0M591.7 272.8h0M597.9 272.8h0M601.0 272.8h0M610.3 272.8h0M611.8 272.8h0M616.5 272.8h0M619.6 272.8h0M625.8 272.8h0M632.0 272.8h0M633.5 272.8h0M636.6 272.8h0M638.2 272.8h0M652.1 272.8h0M666.1 272.8h0M667.6 272.8h0M592.4 274.1h0M594.0 274.1h0M595.5 274.1h0M597.1 274.1h0M612.6 274.1h0M615.7 274.1h0M618.8 274.1h0M632.7 274.1h0M634.3 274.1h0M638.9 274.1h0M665.3 274.1h0M585.5 275.5h0M591.7 275.5h0M593.2 275.5h0M596.3 275.5h0M624.2 275.5h0M666.1 275.5h0M587.8 276.8h0M589.3 276.8h0M592.4 276.8h0M601.7 276.8h0M609.5 276.8h0M611.0 276.8h0M617.2 276.8h0M620.3 276.8h0M628.1 276.8h0M634.3 276.8h0M637.4 276.8h0M642.0 276.8h0M651.3 276.8h0M652.9 276.8h0M663.7 276.8h0M666.8 276.8h0M668.4 276.8h0M571.5 278.2h0M573.1 278.2h0M607.2 278.2h0M610.3 278.2h0M614.9 278.2h0M616.5 278.2h0M622.7 278.2h0M633.5 278.2h0M641.3 278.2h0M644.4 278.2h0M645.9 278.2h0M647.5 278.2h0M649.0 278.2h0M659.9 278.2h0M587.8 279.5h0M598.6 279.5h0M600.2 279.5h0M623.4 279.5h0M625.0 279.5h0M626.5 279.5h0M634.3 279.5h0M646.7 279.5h0M651.3 279.5h0M652.9 279.5h0M654.4 279.5h0M660.6 279.5h0M570.0 280.9h0M585.5 280.9h0M590.1 280.9h0M593.2 280.9h0M599.4 280.9h0M602.5 280.9h0M608.7 280.9h0M616.5 280.9h0M625.8 280.9h0M627.3 280.9h0M628.9 280.9h0M641.3 280.9h0M642.8 280.9h0M647.5 280.9h0M652.1 280.9h0M655.2 280.9h0M661.4 280.9h0M664.5 280.9h0M667.6 280.9h0M569.2 282.2h0M589.3 282.2h0M590.9 282.2h0M603.3 282.2h0M612.6 282.2h0M625.0 282.2h0M629.6 282.2h0M635.8 282.2h0M640.5 282.2h0M643.6 282.2h0M659.1 282.2h0M660.6 282.2h0M662.2 282.2h0M663.7 282.2h0M570.0 283.6h0M587.0 283.6h0M602.5 283.6h0M610.3 283.6h0M616.5 283.6h0M619.6 283.6h0M621.1 283.6h0M635.1 283.6h0M650.6 283.6h0M652.1 283.6h0M661.4 283.6h0M586.2 284.9h0M587.8 284.9h0M594.0 284.9h0M595.5 284.9h0M597.1 284.9h0M600.2 284.9h0M607.9 284.9h0M611.0 284.9h0M618.8 284.9h0M623.4 284.9h0M629.6 284.9h0M631.2 284.9h0M632.7 284.9h0M640.5 284.9h0M642.0 284.9h0M648.2 284.9h0M662.2 284.9h0M663.7 284.9h0M571.5 286.3h0M587.0 286.3h0M591.7 286.3h0M593.2 286.3h0M594.8 286.3h0M601.0 286.3h0M607.2 286.3h0M608.7 286.3h0M616.5 286.3h0M618.0 286.3h0M622.7 286.3h0M624.2 286.3h0M628.9 286.3h0M636.6 286.3h0M638.2 286.3h0M641.3 286.3h0M647.5 286.3h0M650.6 286.3h0M586.2 287.6h0M598.6 287.6h0M601.7 287.6h0M604.8 287.6h0M623.4 287.6h0M635.8 287.6h0M638.9 287.6h0M646.7 287.6h0M571.5 288.9h0M590.1 288.9h0M594.8 288.9h0M596.3 288.9h0M601.0 288.9h0M602.5 288.9h0M604.1 288.9h0M605.6 288.9h0M608.7 288.9h0M616.5 288.9h0M622.7 288.9h0M624.2 288.9h0M639.7 288.9h0M641.3 288.9h0M642.8 288.9h0M644.4 288.9h0M589.3 290.3h0M595.5 290.3h0M601.7 290.3h0M603.3 290.3h0M621.9 290.3h0M634.3 290.3h0M640.5 290.3h0M570.0 291.6h0M573.1 291.6h0M591.7 291.6h0M597.9 291.6h0M608.7 291.6h0M635.1 291.6h0M570.8 293.0h0M601.7 293.0h0M609.5 293.0h0M611.0 293.0h0M617.2 293.0h0M626.5 293.0h0M628.1 293.0h0M634.3 293.0h0M637.4 293.0h0M638.9 293.0h0M605.6 294.3h0M611.8 294.3h0M613.4 294.3h0M614.9 294.3h0M618.0 294.3h0M621.1 294.3h0M628.9 294.3h0M632.0 294.3h0M633.5 294.3h0M635.1 294.3h0M594.0 295.7h0M601.7 295.7h0M612.6 295.7h0M629.6 295.7h0M637.4 295.7h0M573.1 297.0h0M593.2 297.0h0M602.5 297.0h0M604.1 297.0h0M605.6 297.0h0M622.7 297.0h0M628.9 297.0h0M635.1 297.0h0M638.2 297.0h0M590.9 298.4h0M600.2 298.4h0M607.9 298.4h0M617.2 298.4h0M623.4 298.4h0M638.9 298.4h0M574.6 299.7h0M576.2 299.7h0M580.8 299.7h0M590.1 299.7h0M591.7 299.7h0M593.2 299.7h0M601.0 299.7h0M607.2 299.7h0M611.8 299.7h0M618.0 299.7h0M633.5 299.7h0" stroke="#2d5698" stroke-width="1.85" stroke-linecap="round" fill="none"/>
<path d="M614.1 198.6h0M615.7 198.6h0M620.3 198.6h0M621.9 198.6h0M629.6 198.6h0M646.7 198.6h0M605.6 199.9h0M649.0 199.9h0M650.6 199.9h0M611.0 201.3h0M621.9 201.3h0M623.4 201.3h0M594.8 202.6h0M604.1 202.6h0M605.6 202.6h0M611.8 202.6h0M613.4 202.6h0M627.3 202.6h0M632.0 202.6h0M635.1 202.6h0M647.5 202.6h0M661.4 202.6h0M626.5 204.0h0M637.4 204.0h0M654.4 204.0h0M662.2 204.0h0M663.7 204.0h0M599.4 205.3h0M604.1 205.3h0M613.4 205.3h0M644.4 205.3h0M655.2 205.3h0M658.3 205.3h0M589.3 206.7h0M617.2 206.7h0M634.3 206.7h0M646.7 206.7h0M656.0 206.7h0M657.5 206.7h0M659.1 206.7h0M660.6 206.7h0M663.7 206.7h0M635.1 208.0h0M638.2 208.0h0M642.8 208.0h0M644.4 208.0h0M645.9 208.0h0M647.5 208.0h0M663.0 208.0h0M615.7 209.4h0M617.2 209.4h0M621.9 209.4h0M634.3 209.4h0M645.1 209.4h0M652.9 209.4h0M656.0 209.4h0M596.3 210.7h0M597.9 210.7h0M607.2 210.7h0M608.7 210.7h0M619.6 210.7h0M645.9 210.7h0M647.5 210.7h0M649.0 210.7h0M655.2 210.7h0M656.8 210.7h0M590.9 212.1h0M597.1 212.1h0M607.9 212.1h0M625.0 212.1h0M648.2 212.1h0M654.4 212.1h0M656.0 212.1h0M660.6 212.1h0M582.4 213.4h0M591.7 213.4h0M594.8 213.4h0M608.7 213.4h0M625.8 213.4h0M632.0 213.4h0M639.7 213.4h0M658.3 213.4h0M586.2 214.8h0M590.9 214.8h0M600.2 214.8h0M625.0 214.8h0M634.3 214.8h0M645.1 214.8h0M651.3 214.8h0M652.9 214.8h0M657.5 214.8h0M660.6 214.8h0M663.7 214.8h0M590.1 216.1h0M604.1 216.1h0M605.6 216.1h0M622.7 216.1h0M627.3 216.1h0M639.7 216.1h0M650.6 216.1h0M656.8 216.1h0M659.9 216.1h0M664.5 216.1h0M666.1 216.1h0M583.1 217.5h0M586.2 217.5h0M587.8 217.5h0M589.3 217.5h0M590.9 217.5h0M594.0 217.5h0M606.4 217.5h0M615.7 217.5h0M626.5 217.5h0M649.8 217.5h0M657.5 217.5h0M587.0 218.8h0M588.6 218.8h0M614.9 218.8h0M616.5 218.8h0M618.0 218.8h0M641.3 218.8h0M644.4 218.8h0M647.5 218.8h0M656.8 218.8h0M658.3 218.8h0M589.3 220.2h0M600.2 220.2h0M628.1 220.2h0M642.0 220.2h0M643.6 220.2h0M645.1 220.2h0M646.7 220.2h0M649.8 220.2h0M651.3 220.2h0M660.6 220.2h0M666.8 220.2h0M587.0 221.5h0M594.8 221.5h0M596.3 221.5h0M618.0 221.5h0M619.6 221.5h0M622.7 221.5h0M627.3 221.5h0M638.2 221.5h0M639.7 221.5h0M644.4 221.5h0M649.0 221.5h0M650.6 221.5h0M652.1 221.5h0M653.7 221.5h0M663.0 221.5h0M666.1 221.5h0M580.0 222.9h0M595.5 222.9h0M635.8 222.9h0M637.4 222.9h0M638.9 222.9h0M648.2 222.9h0M651.3 222.9h0M663.7 222.9h0M587.0 224.2h0M596.3 224.2h0M607.2 224.2h0M608.7 224.2h0M610.3 224.2h0M613.4 224.2h0M621.1 224.2h0M627.3 224.2h0M632.0 224.2h0M635.1 224.2h0M636.6 224.2h0M659.9 224.2h0M661.4 224.2h0M583.1 225.6h0M595.5 225.6h0M609.5 225.6h0M617.2 225.6h0M618.8 225.6h0M620.3 225.6h0M629.6 225.6h0M631.2 225.6h0M632.7 225.6h0M649.8 225.6h0M659.1 225.6h0M577.7 226.9h0M583.9 226.9h0M587.0 226.9h0M590.1 226.9h0M610.3 226.9h0M618.0 226.9h0M627.3 226.9h0M628.9 226.9h0M632.0 226.9h0M652.1 226.9h0M576.9 228.3h0M583.1 228.3h0M592.4 228.3h0M594.0 228.3h0M597.1 228.3h0M598.6 228.3h0M606.4 228.3h0M607.9 228.3h0M609.5 228.3h0M626.5 228.3h0M632.7 228.3h0M574.6 229.6h0M582.4 229.6h0M591.7 229.6h0M613.4 229.6h0M614.9 229.6h0M628.9 229.6h0M630.4 229.6h0M633.5 229.6h0M639.7 229.6h0M644.4 229.6h0M650.6 229.6h0M652.1 229.6h0M583.1 231.0h0M584.7 231.0h0M586.2 231.0h0M609.5 231.0h0M615.7 231.0h0M626.5 231.0h0M634.3 231.0h0M635.8 231.0h0M637.4 231.0h0M640.5 231.0h0M649.8 231.0h0M652.9 231.0h0M657.5 231.0h0M668.4 231.0h0M604.1 232.3h0M613.4 232.3h0M633.5 232.3h0M638.2 232.3h0M639.7 232.3h0M641.3 232.3h0M647.5 232.3h0M653.7 232.3h0M663.0 232.3h0M597.1 233.7h0M600.2 233.7h0M628.1 233.7h0M646.7 233.7h0M656.0 233.7h0M666.8 233.7h0M577.7 235.0h0M599.4 235.0h0M608.7 235.0h0M613.4 235.0h0M618.0 235.0h0M597.1 236.4h0M598.6 236.4h0M607.9 236.4h0M635.8 236.4h0M669.9 236.4h0M597.9 237.7h0M605.6 237.7h0M632.0 237.7h0M636.6 237.7h0M647.5 237.7h0M603.3 239.1h0M604.8 239.1h0M623.4 239.1h0M629.6 239.1h0M637.4 239.1h0M640.5 239.1h0M649.8 239.1h0M663.7 239.1h0M588.6 240.4h0M590.1 240.4h0M602.5 240.4h0M638.2 240.4h0M647.5 240.4h0M650.6 240.4h0M656.8 240.4h0M658.3 240.4h0M659.9 240.4h0M589.3 241.8h0M590.9 241.8h0M592.4 241.8h0M634.3 241.8h0M642.0 241.8h0M652.9 241.8h0M656.0 241.8h0M573.1 243.1h0M574.6 243.1h0M591.7 243.1h0M607.2 243.1h0M621.1 243.1h0M622.7 243.1h0M635.1 243.1h0M638.2 243.1h0M642.8 243.1h0M647.5 243.1h0M655.2 243.1h0M658.3 243.1h0M664.5 243.1h0M578.5 244.4h0M587.8 244.4h0M589.3 244.4h0M631.2 244.4h0M632.7 244.4h0M635.8 244.4h0M637.4 244.4h0M638.9 244.4h0M640.5 244.4h0M643.6 244.4h0M660.6 244.4h0M663.7 244.4h0M665.3 244.4h0M666.8 244.4h0M668.4 244.4h0M571.5 245.8h0M588.6 245.8h0M619.6 245.8h0M630.4 245.8h0M639.7 245.8h0M661.4 245.8h0M669.2 245.8h0M570.8 247.1h0M575.4 247.1h0M576.9 247.1h0M620.3 247.1h0M621.9 247.1h0M623.4 247.1h0M631.2 247.1h0M634.3 247.1h0M635.8 247.1h0M637.4 247.1h0M638.9 247.1h0M652.9 247.1h0M666.8 247.1h0M573.1 248.5h0M574.6 248.5h0M577.7 248.5h0M591.7 248.5h0M621.1 248.5h0M639.7 248.5h0M659.9 248.5h0M576.9 249.8h0M598.6 249.8h0M637.4 249.8h0M645.1 249.8h0M652.9 249.8h0M574.6 251.2h0M658.3 251.2h0M661.4 251.2h0M597.1 252.5h0M598.6 252.5h0M607.9 252.5h0M611.0 252.5h0M621.9 252.5h0M648.2 252.5h0M651.3 252.5h0M660.6 252.5h0M663.7 252.5h0M669.9 252.5h0M597.9 253.9h0M628.9 253.9h0M658.3 253.9h0M575.4 255.2h0M594.0 255.2h0M573.1 256.6h0M576.2 256.6h0M582.4 256.6h0M588.6 256.6h0M605.6 256.6h0M608.7 256.6h0M613.4 256.6h0M624.2 256.6h0M630.4 256.6h0M633.5 256.6h0M666.1 256.6h0M667.6 256.6h0M669.2 256.6h0M576.9 257.9h0M589.3 257.9h0M668.4 257.9h0M571.5 259.3h0M611.8 259.3h0M622.7 259.3h0M624.2 259.3h0M628.9 259.3h0M639.7 259.3h0M659.9 259.3h0M666.1 259.3h0M611.0 260.6h0M612.6 260.6h0M615.7 260.6h0M626.5 260.6h0M628.1 260.6h0M631.2 260.6h0M634.3 260.6h0M638.9 260.6h0M663.7 260.6h0M665.3 260.6h0M666.8 260.6h0M573.1 262.0h0M596.3 262.0h0M607.2 262.0h0M621.1 262.0h0M630.4 262.0h0M636.6 262.0h0M607.9 263.3h0M609.5 263.3h0M611.0 263.3h0M621.9 263.3h0M629.6 263.3h0M634.3 263.3h0M635.8 263.3h0M659.1 263.3h0M668.4 263.3h0M585.5 264.7h0M605.6 264.7h0M607.2 264.7h0M608.7 264.7h0M622.7 264.7h0M630.4 264.7h0M638.2 264.7h0M669.2 264.7h0M589.3 266.0h0M595.5 266.0h0M604.8 266.0h0M606.4 266.0h0M611.0 266.0h0M623.4 266.0h0M626.5 266.0h0M663.7 266.0h0M665.3 266.0h0M669.9 266.0h0M570.0 267.4h0M591.7 267.4h0M597.9 267.4h0M607.2 267.4h0M611.8 267.4h0M627.3 267.4h0M630.4 267.4h0M633.5 267.4h0M636.6 267.4h0M650.6 267.4h0M666.1 267.4h0M606.4 268.7h0M607.9 268.7h0M612.6 268.7h0M621.9 268.7h0M631.2 268.7h0M632.7 268.7h0M634.3 268.7h0M638.9 268.7h0M643.6 268.7h0M573.1 270.1h0M585.5 270.1h0M587.0 270.1h0M590.1 270.1h0M597.9 270.1h0M607.2 270.1h0M610.3 270.1h0M625.8 270.1h0M638.2 270.1h0M639.7 270.1h0M644.4 270.1h0M661.4 270.1h0M664.5 270.1h0M569.2 271.4h0M587.8 271.4h0M597.1 271.4h0M600.2 271.4h0M631.2 271.4h0M645.1 271.4h0M665.3 271.4h0M666.8 271.4h0M669.9 271.4h0M593.2 272.8h0M594.8 272.8h0M596.3 272.8h0M630.4 272.8h0M639.7 272.8h0M576.9 274.1h0M578.5 274.1h0M651.3 274.1h0M652.9 274.1h0M570.0 275.5h0M577.7 275.5h0M622.7 275.5h0M639.7 275.5h0M642.8 275.5h0M644.4 275.5h0M650.6 275.5h0M652.1 275.5h0M573.8 276.8h0M586.2 276.8h0M632.7 276.8h0M646.7 276.8h0M583.9 278.2h0M590.1 278.2h0M602.5 278.2h0M605.6 278.2h0M618.0 278.2h0M621.1 278.2h0M630.4 278.2h0M650.6 278.2h0M652.1 278.2h0M570.8 279.5h0M584.7 279.5h0M592.4 279.5h0M594.0 279.5h0M603.3 279.5h0M604.8 279.5h0M615.7 279.5h0M617.2 279.5h0M621.9 279.5h0M628.1 279.5h0M649.8 279.5h0M571.5 280.9h0M579.3 280.9h0M583.9 280.9h0M597.9 280.9h0M604.1 280.9h0M610.3 280.9h0M614.9 280.9h0M622.7 280.9h0M624.2 280.9h0M653.7 280.9h0M570.8 282.2h0M611.0 282.2h0M645.1 282.2h0M648.2 282.2h0M649.8 282.2h0M651.3 282.2h0M652.9 282.2h0M654.4 282.2h0M657.5 282.2h0M666.8 282.2h0M583.9 283.6h0M599.4 283.6h0M605.6 283.6h0M664.5 283.6h0M667.6 283.6h0M669.2 283.6h0M572.3 284.9h0M578.5 284.9h0M581.6 284.9h0M583.1 284.9h0M584.7 284.9h0M592.4 284.9h0M604.8 284.9h0M606.4 284.9h0M621.9 284.9h0M625.0 284.9h0M634.3 284.9h0M635.8 284.9h0M652.9 284.9h0M665.3 284.9h0M573.1 286.3h0M583.9 286.3h0M588.6 286.3h0M610.3 286.3h0M611.8 286.3h0M614.9 286.3h0M652.1 286.3h0M653.7 286.3h0M570.8 287.6h0M572.3 287.6h0M584.7 287.6h0M587.8 287.6h0M592.4 287.6h0M594.0 287.6h0M606.4 287.6h0M609.5 287.6h0M612.6 287.6h0M615.7 287.6h0M620.3 287.6h0M625.0 287.6h0M631.2 287.6h0M634.3 287.6h0M651.3 287.6h0M573.1 288.9h0M587.0 288.9h0M588.6 288.9h0M593.2 288.9h0M597.9 288.9h0M610.3 288.9h0M618.0 288.9h0M625.8 288.9h0M632.0 288.9h0M633.5 288.9h0M636.6 288.9h0M638.2 288.9h0M592.4 290.3h0M594.0 290.3h0M611.0 290.3h0M617.2 290.3h0M625.0 290.3h0M626.5 290.3h0M631.2 290.3h0M637.4 290.3h0M571.5 291.6h0M593.2 291.6h0M594.8 291.6h0M610.3 291.6h0M616.5 291.6h0M618.0 291.6h0M625.8 291.6h0M627.3 291.6h0M630.4 291.6h0M638.2 291.6h0M639.7 291.6h0M641.3 291.6h0M572.3 293.0h0M590.9 293.0h0M614.1 293.0h0M629.6 293.0h0M631.2 293.0h0M594.8 294.3h0M616.5 294.3h0M572.3 295.7h0M573.8 295.7h0M592.4 295.7h0M598.6 295.7h0M614.1 295.7h0M574.6 297.0h0M591.7 297.0h0M597.9 297.0h0M607.2 297.0h0M611.8 297.0h0M614.9 297.0h0M604.8 298.4h0M609.5 298.4h0M635.8 298.4h0M602.5 299.7h0M604.1 299.7h0M614.9 299.7h0M621.1 299.7h0" stroke="#2a6b9e" stroke-width="1.85" stroke-linecap="round" fill="none"/>
<path d="M606.4 198.6h0M618.8 198.6h0M640.5 198.6h0M642.0 198.6h0M654.4 198.6h0M657.5 198.6h0M611.8 199.9h0M614.9 199.9h0M621.1 199.9h0M630.4 199.9h0M632.0 199.9h0M648.2 201.3h0M651.3 201.3h0M654.4 201.3h0M622.7 202.6h0M653.7 202.6h0M655.2 202.6h0M597.1 204.0h0M615.7 204.0h0M617.2 204.0h0M620.3 204.0h0M646.7 204.0h0M660.6 204.0h0M618.0 205.3h0M619.6 205.3h0M645.9 205.3h0M663.0 205.3h0M664.5 205.3h0M594.0 206.7h0M615.7 206.7h0M618.8 206.7h0M628.1 206.7h0M635.8 206.7h0M638.9 206.7h0M654.4 206.7h0M662.2 206.7h0M616.5 208.0h0M649.0 208.0h0M652.1 208.0h0M653.7 208.0h0M601.7 209.4h0M611.0 209.4h0M648.2 209.4h0M649.8 209.4h0M651.3 209.4h0M662.2 209.4h0M587.0 210.7h0M588.6 210.7h0M624.2 210.7h0M635.1 210.7h0M642.8 210.7h0M653.7 210.7h0M595.5 212.1h0M628.1 212.1h0M585.5 213.4h0M604.1 213.4h0M605.6 213.4h0M622.7 213.4h0M650.6 213.4h0M589.3 214.8h0M604.8 214.8h0M606.4 214.8h0M607.9 214.8h0M609.5 214.8h0M614.1 214.8h0M626.5 214.8h0M640.5 214.8h0M648.2 214.8h0M662.2 214.8h0M587.0 216.1h0M607.2 216.1h0M655.2 216.1h0M595.5 217.5h0M632.7 217.5h0M652.9 217.5h0M656.0 217.5h0M590.1 218.8h0M594.8 218.8h0M599.4 218.8h0M622.7 218.8h0M630.4 218.8h0M652.1 218.8h0M655.2 218.8h0M583.1 220.2h0M586.2 220.2h0M617.2 220.2h0M629.6 220.2h0M631.2 220.2h0M640.5 220.2h0M648.2 220.2h0M663.7 220.2h0M665.3 220.2h0M611.8 221.5h0M632.0 221.5h0M633.5 221.5h0M642.8 221.5h0M659.9 221.5h0M584.7 222.9h0M600.2 222.9h0M612.6 222.9h0M618.8 222.9h0M623.4 222.9h0M631.2 222.9h0M640.5 222.9h0M643.6 222.9h0M645.1 222.9h0M583.9 224.2h0M588.6 224.2h0M611.8 224.2h0M618.0 224.2h0M628.9 224.2h0M638.2 224.2h0M639.7 224.2h0M644.4 224.2h0M650.6 224.2h0M584.7 225.6h0M587.8 225.6h0M594.0 225.6h0M611.0 225.6h0M612.6 225.6h0M634.3 225.6h0M648.2 225.6h0M651.3 225.6h0M660.6 225.6h0M668.4 225.6h0M591.7 226.9h0M633.5 226.9h0M611.0 228.3h0M615.7 228.3h0M617.2 228.3h0M631.2 228.3h0M640.5 228.3h0M585.5 229.6h0M632.0 229.6h0M635.1 229.6h0M659.9 229.6h0M648.2 231.0h0M651.3 231.0h0M666.8 231.0h0M591.7 232.3h0M649.0 232.3h0M659.9 232.3h0M598.6 233.7h0M579.3 235.0h0M601.0 235.0h0M602.5 235.0h0M624.2 235.0h0M649.0 235.0h0M600.2 236.4h0M604.8 236.4h0M609.5 236.4h0M631.2 236.4h0M646.7 236.4h0M582.4 237.7h0M591.7 237.7h0M602.5 237.7h0M604.1 237.7h0M642.8 237.7h0M650.6 237.7h0M653.7 237.7h0M570.8 239.1h0M600.2 239.1h0M638.9 239.1h0M651.3 239.1h0M577.7 240.4h0M591.7 240.4h0M608.7 240.4h0M614.9 240.4h0M622.7 240.4h0M663.0 240.4h0M578.5 241.8h0M601.7 241.8h0M603.3 241.8h0M635.8 241.8h0M640.5 241.8h0M657.5 241.8h0M659.1 241.8h0M579.3 243.1h0M636.6 243.1h0M639.7 243.1h0M641.3 243.1h0M644.4 243.1h0M656.8 243.1h0M659.9 243.1h0M569.2 244.4h0M603.3 244.4h0M621.9 244.4h0M634.3 244.4h0M659.1 244.4h0M573.1 245.8h0M576.2 245.8h0M621.1 245.8h0M635.1 245.8h0M636.6 245.8h0M656.8 245.8h0M666.1 245.8h0M667.6 245.8h0M572.3 247.1h0M632.7 247.1h0M659.1 247.1h0M665.3 247.1h0M607.2 248.5h0M624.2 248.5h0M581.6 249.8h0M631.2 249.8h0M651.3 249.8h0M663.7 249.8h0M605.6 251.2h0M608.7 251.2h0M669.2 251.2h0M603.3 252.5h0M659.1 252.5h0M593.2 253.9h0M605.6 253.9h0M613.4 253.9h0M621.1 253.9h0M659.9 253.9h0M589.3 255.2h0M595.5 255.2h0M668.4 255.2h0M622.7 256.6h0M663.0 256.6h0M664.5 256.6h0M609.5 257.9h0M637.4 257.9h0M663.7 257.9h0M587.0 259.3h0M663.0 259.3h0M664.5 259.3h0M625.0 260.6h0M632.7 260.6h0M669.9 260.6h0M608.7 262.0h0M610.3 262.0h0M618.0 262.0h0M622.7 262.0h0M627.3 262.0h0M639.7 262.0h0M592.4 263.3h0M618.8 263.3h0M620.3 263.3h0M628.1 263.3h0M665.3 263.3h0M602.5 264.7h0M604.1 264.7h0M624.2 264.7h0M627.3 264.7h0M628.9 264.7h0M632.0 264.7h0M633.5 264.7h0M592.4 266.0h0M625.0 266.0h0M629.6 266.0h0M640.5 266.0h0M642.0 266.0h0M668.4 266.0h0M573.1 267.4h0M594.8 267.4h0M596.3 267.4h0M608.7 267.4h0M610.3 267.4h0M632.0 267.4h0M647.5 267.4h0M667.6 267.4h0M669.2 267.4h0M586.2 268.7h0M589.3 268.7h0M590.9 268.7h0M598.6 268.7h0M609.5 268.7h0M628.1 268.7h0M666.8 268.7h0M577.7 270.1h0M604.1 270.1h0M608.7 270.1h0M635.1 270.1h0M641.3 270.1h0M649.0 270.1h0M666.1 270.1h0M667.6 270.1h0M575.4 271.4h0M592.4 271.4h0M618.8 271.4h0M649.8 271.4h0M580.8 272.8h0M642.8 272.8h0M644.4 272.8h0M645.9 272.8h0M647.5 272.8h0M658.3 272.8h0M580.0 274.1h0M581.6 274.1h0M589.3 274.1h0M617.2 274.1h0M640.5 274.1h0M642.0 274.1h0M649.8 274.1h0M659.1 274.1h0M580.8 275.5h0M582.4 275.5h0M583.9 275.5h0M601.0 275.5h0M641.3 275.5h0M645.9 275.5h0M647.5 275.5h0M649.0 275.5h0M575.4 276.8h0M583.1 276.8h0M584.7 276.8h0M590.9 276.8h0M618.8 276.8h0M643.6 276.8h0M645.1 276.8h0M648.2 276.8h0M619.6 278.2h0M627.3 278.2h0M653.7 278.2h0M669.2 278.2h0M572.3 279.5h0M576.9 279.5h0M583.1 279.5h0M606.4 279.5h0M648.2 279.5h0M662.2 279.5h0M635.1 280.9h0M649.0 280.9h0M650.6 280.9h0M658.3 280.9h0M578.5 282.2h0M580.0 282.2h0M581.6 282.2h0M607.9 282.2h0M609.5 282.2h0M615.7 282.2h0M620.3 282.2h0M621.9 282.2h0M656.0 282.2h0M577.7 283.6h0M579.3 283.6h0M582.4 283.6h0M607.2 283.6h0M608.7 283.6h0M614.9 283.6h0M644.4 283.6h0M649.0 283.6h0M653.7 283.6h0M656.8 283.6h0M658.3 283.6h0M659.9 283.6h0M666.1 283.6h0M575.4 284.9h0M598.6 284.9h0M638.9 284.9h0M643.6 284.9h0M651.3 284.9h0M625.8 286.3h0M627.3 286.3h0M630.4 286.3h0M639.7 286.3h0M573.8 287.6h0M595.5 287.6h0M628.1 287.6h0M637.4 287.6h0M583.9 288.9h0M585.5 288.9h0M591.7 288.9h0M611.8 288.9h0M613.4 288.9h0M614.9 288.9h0M627.3 288.9h0M628.9 288.9h0M630.4 288.9h0M587.8 290.3h0M615.7 290.3h0M628.1 290.3h0M611.8 291.6h0M614.9 291.6h0M628.9 291.6h0M632.0 291.6h0M612.6 293.0h0M615.7 293.0h0M573.1 294.3h0M590.1 294.3h0M596.3 294.3h0M608.7 294.3h0M604.8 295.7h0M615.7 295.7h0M634.3 295.7h0M576.2 297.0h0M590.1 297.0h0M576.9 298.4h0M578.5 298.4h0M581.6 298.4h0M589.3 298.4h0M603.3 298.4h0M606.4 298.4h0M637.4 298.4h0M577.7 299.7h0M579.3 299.7h0M582.4 299.7h0M583.9 299.7h0M587.0 299.7h0M636.6 299.7h0M638.2 299.7h0" stroke="#2f809d" stroke-width="1.85" stroke-linecap="round" fill="none"/>
<path d="M651.3 198.6h0M596.3 199.9h0M613.4 199.9h0M619.6 199.9h0M627.3 199.9h0M606.4 201.3h0M612.6 201.3h0M615.7 201.3h0M649.8 201.3h0M652.9 201.3h0M614.9 202.6h0M616.5 202.6h0M619.6 202.6h0M644.4 202.6h0M612.6 204.0h0M618.8 204.0h0M621.9 204.0h0M638.9 204.0h0M648.2 204.0h0M656.0 204.0h0M632.0 205.3h0M636.6 205.3h0M638.2 205.3h0M647.5 205.3h0M653.7 205.3h0M661.4 205.3h0M604.8 206.7h0M637.4 206.7h0M642.0 206.7h0M645.1 206.7h0M588.6 208.0h0M636.6 208.0h0M659.9 208.0h0M590.9 209.4h0M654.4 209.4h0M660.6 209.4h0M616.5 210.7h0M627.3 210.7h0M663.0 210.7h0M586.2 212.1h0M589.3 212.1h0M649.8 212.1h0M597.9 213.4h0M601.0 213.4h0M607.2 213.4h0M649.0 213.4h0M584.7 214.8h0M587.8 214.8h0M643.6 214.8h0M654.4 214.8h0M591.7 216.1h0M625.8 216.1h0M652.1 216.1h0M592.4 217.5h0M628.1 217.5h0M631.2 217.5h0M665.3 217.5h0M668.4 217.5h0M585.5 218.8h0M591.7 218.8h0M653.7 218.8h0M666.1 218.8h0M590.9 220.2h0M594.0 220.2h0M595.5 220.2h0M615.7 220.2h0M591.7 221.5h0M593.2 221.5h0M613.4 221.5h0M630.4 221.5h0M641.3 221.5h0M578.5 222.9h0M587.8 222.9h0M606.4 222.9h0M614.1 222.9h0M617.2 222.9h0M620.3 222.9h0M628.1 222.9h0M642.0 222.9h0M649.8 222.9h0M591.7 224.2h0M614.9 224.2h0M616.5 224.2h0M625.8 224.2h0M630.4 224.2h0M642.8 224.2h0M581.6 225.6h0M589.3 225.6h0M592.4 225.6h0M597.1 225.6h0M601.7 225.6h0M614.1 225.6h0M588.6 226.9h0M593.2 226.9h0M594.8 226.9h0M596.3 226.9h0M613.4 226.9h0M616.5 226.9h0M639.7 226.9h0M641.3 226.9h0M642.8 226.9h0M581.6 228.3h0M584.7 228.3h0M587.8 228.3h0M614.1 228.3h0M634.3 228.3h0M652.9 228.3h0M587.0 229.6h0M624.2 229.6h0M636.6 229.6h0M595.5 231.0h0M625.0 231.0h0M645.1 231.0h0M601.7 233.7h0M634.3 233.7h0M643.6 233.7h0M665.3 233.7h0M647.5 235.0h0M655.2 235.0h0M601.7 236.4h0M634.3 236.4h0M654.4 236.4h0M574.6 237.7h0M601.0 237.7h0M649.0 237.7h0M580.0 239.1h0M589.3 239.1h0M601.7 239.1h0M601.0 240.4h0M635.1 240.4h0M661.4 240.4h0M604.8 241.8h0M660.6 241.8h0M619.6 243.1h0M661.4 243.1h0M663.0 243.1h0M570.8 244.4h0M575.4 244.4h0M576.9 244.4h0M590.9 244.4h0M620.3 244.4h0M626.5 244.4h0M656.0 244.4h0M657.5 244.4h0M662.2 244.4h0M574.6 245.8h0M622.7 245.8h0M633.5 245.8h0M647.5 245.8h0M650.6 245.8h0M658.3 245.8h0M659.9 245.8h0M642.0 247.1h0M576.2 248.5h0M590.1 248.5h0M596.3 248.5h0M658.3 248.5h0M661.4 248.5h0M590.9 249.8h0M610.3 251.2h0M633.5 251.2h0M656.8 251.2h0M659.9 251.2h0M595.5 252.5h0M615.7 252.5h0M632.7 252.5h0M638.9 252.5h0M594.8 253.9h0M667.6 253.9h0M584.7 255.2h0M665.3 255.2h0M604.1 256.6h0M594.0 257.9h0M646.7 257.9h0M665.3 257.9h0M666.8 257.9h0M604.1 259.3h0M621.1 259.3h0M623.4 260.6h0M604.1 262.0h0M625.8 262.0h0M597.1 263.3h0M604.8 263.3h0M632.7 263.3h0M662.2 263.3h0M576.2 264.7h0M618.0 264.7h0M635.1 264.7h0M570.8 266.0h0M587.8 266.0h0M607.9 266.0h0M609.5 266.0h0M634.3 266.0h0M590.1 267.4h0M599.4 267.4h0M628.9 267.4h0M635.1 267.4h0M638.2 267.4h0M587.8 268.7h0M662.2 268.7h0M668.4 268.7h0M593.2 270.1h0M642.8 270.1h0M653.7 270.1h0M669.2 270.1h0M595.5 271.4h0M637.4 271.4h0M640.5 271.4h0M642.0 271.4h0M643.6 271.4h0M646.7 271.4h0M579.3 272.8h0M641.3 272.8h0M650.6 272.8h0M573.8 274.1h0M643.6 274.1h0M645.1 274.1h0M646.7 274.1h0M588.6 275.5h0M578.5 276.8h0M625.0 276.8h0M649.8 276.8h0M574.6 278.2h0M577.7 278.2h0M579.3 278.2h0M591.7 278.2h0M573.8 279.5h0M578.5 279.5h0M580.0 279.5h0M611.0 279.5h0M618.8 279.5h0M620.3 279.5h0M576.2 280.9h0M577.7 280.9h0M580.8 280.9h0M582.4 280.9h0M605.6 280.9h0M618.0 280.9h0M621.1 280.9h0M645.9 280.9h0M572.3 282.2h0M583.1 282.2h0M584.7 282.2h0M601.7 282.2h0M604.8 282.2h0M606.4 282.2h0M618.8 282.2h0M576.2 283.6h0M580.8 283.6h0M593.2 283.6h0M596.3 283.6h0M601.0 283.6h0M630.4 283.6h0M632.0 283.6h0M645.9 283.6h0M655.2 283.6h0M576.9 284.9h0M654.4 284.9h0M657.5 284.9h0M660.6 284.9h0M574.6 286.3h0M582.4 286.3h0M585.5 286.3h0M597.9 286.3h0M613.4 286.3h0M575.4 287.6h0M626.5 287.6h0M629.6 287.6h0M632.7 287.6h0M572.3 290.3h0M573.8 290.3h0M583.1 290.3h0M586.2 290.3h0M590.9 290.3h0M609.5 290.3h0M612.6 290.3h0M614.1 290.3h0M638.9 290.3h0M602.5 291.6h0M636.6 291.6h0M575.4 293.0h0M576.9 295.7h0M623.4 295.7h0M631.2 295.7h0M577.7 297.0h0M599.4 297.0h0M573.8 298.4h0M580.0 298.4h0M583.1 298.4h0M601.7 298.4h0M585.5 299.7h0" stroke="#379599" stroke-width="1.85" stroke-linecap="round" fill="none"/>
<path d="M612.6 198.6h0M634.3 198.6h0M659.1 198.6h0M616.5 199.9h0M618.0 199.9h0M614.1 201.3h0M646.7 201.3h0M610.3 202.6h0M618.0 202.6h0M645.9 202.6h0M649.0 202.6h0M650.6 202.6h0M652.9 204.0h0M625.8 205.3h0M639.7 205.3h0M649.0 205.3h0M625.0 206.7h0M648.2 206.7h0M649.8 206.7h0M651.3 206.7h0M650.6 208.0h0M595.5 209.4h0M603.3 209.4h0M590.1 210.7h0M609.5 212.1h0M620.3 212.1h0M587.0 213.4h0M588.6 213.4h0M590.1 213.4h0M624.2 213.4h0M649.8 214.8h0M649.0 216.1h0M651.3 217.5h0M659.1 217.5h0M593.2 218.8h0M596.3 218.8h0M659.9 218.8h0M592.4 220.2h0M618.8 220.2h0M597.9 221.5h0M614.9 221.5h0M589.3 222.9h0M592.4 222.9h0M594.0 222.9h0M615.7 222.9h0M590.1 224.2h0M594.8 224.2h0M641.3 224.2h0M590.9 225.6h0M635.8 225.6h0M637.4 225.6h0M638.9 225.6h0M640.5 225.6h0M654.4 225.6h0M635.1 226.9h0M649.0 226.9h0M589.3 228.3h0M635.8 228.3h0M638.9 228.3h0M651.3 228.3h0M669.9 228.3h0M580.8 229.6h0M583.9 229.6h0M594.8 229.6h0M602.5 229.6h0M611.8 229.6h0M632.7 231.0h0M602.5 232.3h0M650.6 232.3h0M652.1 232.3h0M648.2 233.7h0M649.8 233.7h0M651.3 233.7h0M604.1 235.0h0M653.7 235.0h0M649.8 236.4h0M633.5 237.7h0M648.2 239.1h0M596.3 240.4h0M662.2 241.8h0M633.5 243.1h0M573.8 244.4h0M578.5 247.1h0M583.1 247.1h0M640.5 247.1h0M660.6 247.1h0M668.4 247.1h0M595.5 249.8h0M601.7 249.8h0M603.3 249.8h0M628.1 252.5h0M571.5 253.9h0M596.3 253.9h0M645.9 253.9h0M611.0 255.2h0M612.6 255.2h0M615.7 255.2h0M663.7 255.2h0M606.4 257.9h0M643.6 257.9h0M593.2 262.0h0M624.2 262.0h0M632.0 262.0h0M600.2 263.3h0M623.4 263.3h0M625.0 263.3h0M619.6 264.7h0M625.8 264.7h0M658.3 264.7h0M632.7 266.0h0M588.6 267.4h0M593.2 267.4h0M605.6 267.4h0M592.4 268.7h0M594.0 268.7h0M595.5 268.7h0M597.1 268.7h0M591.7 270.1h0M570.8 271.4h0M604.1 272.8h0M648.2 274.1h0M576.2 275.5h0M579.3 275.5h0M569.2 276.8h0M576.9 276.8h0M580.0 276.8h0M580.8 278.2h0M575.4 279.5h0M573.1 280.9h0M574.6 280.9h0M607.2 280.9h0M573.8 282.2h0M573.1 283.6h0M569.2 284.9h0M573.8 284.9h0M656.0 284.9h0M576.2 286.3h0M590.1 286.3h0M655.2 286.3h0M576.9 287.6h0M581.6 287.6h0M590.9 287.6h0M574.6 288.9h0M576.2 288.9h0M597.1 290.3h0M598.6 290.3h0M623.4 290.3h0M632.7 290.3h0M588.6 291.6h0M589.3 293.0h0M635.8 293.0h0M576.2 294.3h0M577.7 294.3h0M575.4 295.7h0M580.8 297.0h0M588.6 297.0h0M587.8 298.4h0M635.1 299.7h0" stroke="#4daa99" stroke-width="1.85" stroke-linecap="round" fill="none"/>
<path d="M617.2 198.6h0M617.2 201.3h0M649.8 204.0h0M614.9 205.3h0M616.5 205.3h0M650.6 205.3h0M652.1 205.3h0M652.9 206.7h0M655.2 208.0h0M663.7 217.5h0M645.9 218.8h0M662.2 220.2h0M590.1 221.5h0M616.5 221.5h0M628.9 221.5h0M615.7 225.6h0M642.0 225.6h0M643.6 225.6h0M614.9 226.9h0M636.6 226.9h0M638.2 226.9h0M575.4 228.3h0M645.9 229.6h0M638.9 233.7h0M645.9 235.0h0M650.6 235.0h0M648.2 236.4h0M651.3 236.4h0M652.9 236.4h0M638.9 241.8h0M663.7 241.8h0M590.1 243.1h0M669.9 247.1h0M597.9 251.2h0M667.6 259.3h0M605.6 262.0h0M628.9 262.0h0M606.4 263.3h0M669.9 268.7h0M570.0 270.1h0M601.0 270.1h0M594.0 271.4h0M668.4 271.4h0M581.6 276.8h0M581.6 279.5h0M619.6 280.9h0M576.9 282.2h0M571.5 283.6h0M580.0 284.9h0M577.7 286.3h0M621.1 286.3h0M578.5 287.6h0M614.1 287.6h0M580.8 288.9h0M582.4 288.9h0M584.7 290.3h0M576.2 291.6h0M585.5 291.6h0M587.0 291.6h0M590.1 291.6h0M578.5 293.0h0M580.0 293.0h0M587.8 293.0h0M574.6 294.3h0M588.6 294.3h0M589.3 295.7h0M584.7 298.4h0M586.2 298.4h0M588.6 299.7h0" stroke="#69be9c" stroke-width="1.85" stroke-linecap="round" fill="none"/>
<path d="M620.3 201.3h0M652.1 202.6h0M606.4 212.1h0M588.6 216.1h0M661.4 216.1h0M663.0 218.8h0M664.5 218.8h0M590.9 222.9h0M629.6 222.9h0M652.9 233.7h0M626.5 263.3h0M590.9 266.0h0M611.0 268.7h0M596.3 270.1h0M607.9 279.5h0M575.4 282.2h0M579.3 286.3h0M656.8 286.3h0M575.4 290.3h0M578.5 290.3h0M581.6 290.3h0M583.9 291.6h0M613.4 291.6h0M573.8 293.0h0M576.9 293.0h0M579.3 294.3h0M578.5 295.7h0" stroke="#91d19b" stroke-width="1.85" stroke-linecap="round" fill="none"/>
<path d="M618.8 201.3h0M621.1 202.6h0M651.3 204.0h0M587.8 209.4h0M653.7 216.1h0M663.0 216.1h0M654.4 217.5h0M662.2 217.5h0M614.1 220.2h0M611.8 226.9h0M637.4 228.3h0M638.2 229.6h0M654.4 233.7h0M652.1 235.0h0M652.1 237.7h0M573.8 247.1h0M631.2 266.0h0M594.8 270.1h0M649.0 272.8h0M576.2 278.2h0M582.4 278.2h0M574.6 283.6h0M580.8 286.3h0M577.7 288.9h0M579.3 288.9h0M629.6 290.3h0M574.6 291.6h0M577.7 291.6h0M579.3 291.6h0M582.4 291.6h0M584.7 293.0h0M590.9 295.7h0M582.4 297.0h0M587.0 297.0h0" stroke="#bfe29a" stroke-width="1.85" stroke-linecap="round" fill="none"/>
<path d="M587.8 212.1h0M660.6 217.5h0M661.4 218.8h0M593.2 224.2h0M603.3 236.4h0M659.1 284.9h0M658.3 286.3h0M580.0 287.6h0M583.1 287.6h0M576.9 290.3h0M580.0 290.3h0M580.8 291.6h0M581.6 293.0h0M583.1 293.0h0M586.2 293.0h0M580.8 294.3h0M582.4 294.3h0M583.9 294.3h0M585.5 294.3h0M587.0 294.3h0M580.0 295.7h0M581.6 295.7h0M583.1 295.7h0M584.7 295.7h0M586.2 295.7h0M587.8 295.7h0M579.3 297.0h0M583.9 297.0h0M585.5 297.0h0" stroke="#e2ed9d" stroke-width="1.85" stroke-linecap="round" fill="none"/>
<path d="M588.1 210.7l1.2 1.4" stroke="#c8304a" stroke-width="1.1" stroke-linecap="round"/>
<path d="M618.4 248.3l1.2 1.4" stroke="#c8304a" stroke-width="1.1" stroke-linecap="round"/>
<path d="M588.1 253.4l1.2 1.4" stroke="#c8304a" stroke-width="1.1" stroke-linecap="round"/>
<path d="M616.1 240.6l1.2 1.4" stroke="#c8304a" stroke-width="1.1" stroke-linecap="round"/>
<path d="M592.7 274.5l1.2 1.4" stroke="#c8304a" stroke-width="1.1" stroke-linecap="round"/>
<path d="M575.2 230.1l1.2 1.4" stroke="#c8304a" stroke-width="1.1" stroke-linecap="round"/>
<path d="M583.4 239.4l1.2 1.4" stroke="#c8304a" stroke-width="1.1" stroke-linecap="round"/>
<path d="M599.7 286.1l1.2 1.4" stroke="#c8304a" stroke-width="1.1" stroke-linecap="round"/>
<circle cx="588.54" cy="253.90" r="1.00" fill="#fff" stroke="none" stroke-width="0" />
<ellipse cx="656.6" cy="277.3" rx="1.7" ry="3.6" fill="#fdf6f7" transform="rotate(28 656.6 277.3)"/>
<text x="650.5" y="300.3" font-size="6.6" text-anchor="middle" font-weight="normal" font-style="normal" fill="#000" >1mm</text>
<line x1="642.5" y1="301.8" x2="658.5" y2="301.8" stroke="#333" stroke-width="0.6" />
<path d="M661.5 299.5l1.6-2.6" stroke="#2f78a4" stroke-width="1.2" stroke-linecap="round"/>
<text x="0" y="358.8" font-size="15.5" text-anchor="start" font-weight="bold" font-style="normal" fill="#000" >E</text>
<text x="113.7" y="357.6" font-size="9.1" text-anchor="middle" font-weight="normal" font-style="normal" fill="#000" >ST (Sample 1)</text>
<path d="M67.6 469.3h0M67.6 459.8h0M67.6 456.7h0M69.5 469.3h0M69.5 466.1h0M69.5 463.0h0M69.5 459.8h0M69.5 456.7h0M69.5 453.5h0M69.5 450.4h0M71.3 469.3h0M71.3 466.1h0M71.3 463.0h0M71.3 459.8h0M71.3 456.7h0M71.3 453.5h0M71.3 450.4h0M73.1 469.3h0M73.1 466.1h0M73.1 463.0h0M73.1 459.8h0M73.1 456.7h0M73.1 453.5h0M73.1 450.4h0M75.0 469.3h0M75.0 466.1h0M75.0 463.0h0M75.0 459.8h0M75.0 456.7h0M75.0 450.4h0M76.8 469.3h0M76.8 466.1h0M76.8 463.0h0M76.8 459.8h0M76.8 456.7h0M76.8 453.5h0M76.8 450.4h0M76.8 447.2h0M76.8 444.0h0M78.6 469.3h0M78.6 466.1h0M78.6 459.8h0M78.6 456.7h0M78.6 450.4h0M78.6 447.2h0M78.6 444.0h0M80.5 469.3h0M80.5 466.1h0M80.5 463.0h0M80.5 459.8h0M80.5 456.7h0M80.5 453.5h0M80.5 450.4h0M80.5 444.0h0M82.3 469.3h0M82.3 466.1h0M82.3 463.0h0M82.3 459.8h0M82.3 456.7h0M82.3 453.5h0M82.3 447.2h0M82.3 444.0h0M82.3 437.7h0M84.1 469.3h0M84.1 466.1h0M84.1 463.0h0M84.1 459.8h0M84.1 456.7h0M84.1 453.5h0M84.1 450.4h0M84.1 447.2h0M84.1 444.0h0M84.1 434.6h0M86.0 469.3h0M86.0 466.1h0M86.0 463.0h0M86.0 459.8h0M86.0 456.7h0M86.0 453.5h0M86.0 450.4h0M86.0 447.2h0M86.0 444.0h0M86.0 440.9h0M86.0 434.6h0M86.0 431.4h0M87.8 469.3h0M87.8 466.1h0M87.8 463.0h0M87.8 459.8h0M87.8 456.7h0M87.8 453.5h0M87.8 450.4h0M87.8 447.2h0M87.8 444.0h0M87.8 440.9h0M89.6 469.3h0M89.6 466.1h0M89.6 459.8h0M89.6 456.7h0M89.6 453.5h0M89.6 450.4h0M89.6 447.2h0M89.6 444.0h0M89.6 440.9h0M89.6 437.7h0M89.6 434.6h0M89.6 425.1h0M89.6 421.9h0M91.5 469.3h0M91.5 466.1h0M91.5 463.0h0M91.5 459.8h0M91.5 456.7h0M91.5 453.5h0M91.5 450.4h0M91.5 447.2h0M91.5 444.0h0M91.5 440.9h0M91.5 437.7h0M91.5 415.6h0M93.3 469.3h0M93.3 466.1h0M93.3 463.0h0M93.3 459.8h0M93.3 456.7h0M93.3 453.5h0M93.3 450.4h0M93.3 447.2h0M93.3 444.0h0M93.3 440.9h0M93.3 434.6h0M93.3 425.1h0M95.1 469.3h0M95.1 466.1h0M95.1 463.0h0M95.1 459.8h0M95.1 456.7h0M95.1 453.5h0M95.1 450.4h0M95.1 447.2h0M95.1 444.0h0M95.1 440.9h0M95.1 437.7h0M95.1 434.6h0M97.0 469.3h0M97.0 466.1h0M97.0 463.0h0M97.0 459.8h0M97.0 456.7h0M97.0 453.5h0M97.0 450.4h0M97.0 447.2h0M97.0 444.0h0M97.0 440.9h0M97.0 437.7h0M97.0 434.6h0M97.0 431.4h0M97.0 428.3h0M98.8 469.3h0M98.8 466.1h0M98.8 463.0h0M98.8 459.8h0M98.8 456.7h0M98.8 453.5h0M98.8 450.4h0M98.8 447.2h0M98.8 444.0h0M98.8 440.9h0M98.8 431.4h0M98.8 425.1h0M100.6 469.3h0M100.6 466.1h0M100.6 463.0h0M100.6 459.8h0M100.6 456.7h0M100.6 453.5h0M100.6 450.4h0M100.6 447.2h0M100.6 444.0h0M100.6 440.9h0M100.6 437.7h0M100.6 434.6h0M100.6 431.4h0M100.6 421.9h0M100.6 418.8h0M102.5 469.3h0M102.5 466.1h0M102.5 463.0h0M102.5 459.8h0M102.5 456.7h0M102.5 453.5h0M102.5 450.4h0M102.5 447.2h0M102.5 444.0h0M102.5 440.9h0M102.5 434.6h0M102.5 431.4h0M102.5 425.1h0M104.3 469.3h0M104.3 466.1h0M104.3 463.0h0M104.3 459.8h0M104.3 456.7h0M104.3 453.5h0M104.3 450.4h0M104.3 447.2h0M104.3 444.0h0M104.3 440.9h0M104.3 437.7h0M104.3 434.6h0M104.3 431.4h0M104.3 425.1h0M106.1 466.1h0M106.1 463.0h0M106.1 459.8h0M106.1 456.7h0M106.1 453.5h0M106.1 450.4h0M106.1 447.2h0M106.1 444.0h0M106.1 440.9h0M106.1 437.7h0M106.1 434.6h0M106.1 428.3h0M108.0 469.3h0M108.0 466.1h0M108.0 463.0h0M108.0 459.8h0M108.0 453.5h0M108.0 447.2h0M108.0 444.0h0M108.0 440.9h0M108.0 434.6h0M108.0 431.4h0M109.8 466.1h0M109.8 463.0h0M109.8 459.8h0M109.8 456.7h0M109.8 453.5h0M109.8 450.4h0M109.8 447.2h0M109.8 444.0h0M109.8 440.9h0M109.8 434.6h0M109.8 431.4h0M109.8 425.1h0M111.6 469.3h0M111.6 466.1h0M111.6 463.0h0M111.6 459.8h0M111.6 456.7h0M111.6 453.5h0M111.6 450.4h0M111.6 447.2h0M111.6 444.0h0M111.6 440.9h0M111.6 434.6h0M111.6 428.3h0M111.6 421.9h0M113.5 466.1h0M113.5 463.0h0M113.5 459.8h0M113.5 456.7h0M113.5 453.5h0M113.5 450.4h0M113.5 447.2h0M113.5 444.0h0M113.5 440.9h0M113.5 437.7h0M113.5 434.6h0M113.5 431.4h0M113.5 428.3h0M115.3 469.3h0M115.3 466.1h0M115.3 463.0h0M115.3 459.8h0M115.3 456.7h0M115.3 453.5h0M115.3 450.4h0M115.3 447.2h0M115.3 444.0h0M115.3 434.6h0M115.3 425.1h0M117.1 469.3h0M117.1 466.1h0M117.1 463.0h0M117.1 459.8h0M117.1 456.7h0M117.1 453.5h0M117.1 450.4h0M117.1 447.2h0M117.1 444.0h0M117.1 440.9h0M119.0 469.3h0M119.0 466.1h0M119.0 463.0h0M119.0 459.8h0M119.0 456.7h0M119.0 453.5h0M119.0 450.4h0M119.0 440.9h0M119.0 437.7h0M120.8 469.3h0M120.8 466.1h0M120.8 459.8h0M120.8 456.7h0M120.8 447.2h0M122.6 466.1h0M122.6 463.0h0M122.6 459.8h0M122.6 456.7h0M122.6 453.5h0M122.6 450.4h0M122.6 444.0h0M122.6 437.7h0M124.5 459.8h0M124.5 447.2h0M124.5 437.7h0M126.3 469.3h0M126.3 459.8h0M126.3 450.4h0M126.3 444.0h0M128.1 466.1h0M128.1 440.9h0M128.1 431.4h0M130.0 440.9h0M131.8 469.3h0M131.8 463.0h0M131.8 456.7h0M131.8 444.0h0M131.8 431.4h0M131.8 428.3h0M133.6 463.0h0M137.3 459.8h0M139.1 469.3h0M139.1 466.1h0M139.1 456.7h0M141.0 440.9h0M142.8 437.7h0M142.8 434.6h0M146.5 440.9h0M102.5 371.3h0M125.4 371.3h0M130.0 377.9h0M95.5 398.3h0M111.6 412.5h0M125.4 412.5h0M141.0 415.8h0M143.7 412.5h0M152.9 415.8h0M159.6 432.8h0M155.6 438.5h0M148.3 459.8h0M155.6 463.1h0M68.0 442.3h0M127.2 469.3h0M139.1 459.8h0M137.3 459.8h0" stroke="#3388D2" stroke-width="2.4" stroke-linecap="round" fill="none" opacity="0.85"/>
<line x1="67.6" y1="467.9" x2="160.2" y2="442.8" stroke="#4a4a98" stroke-width="0.8" />
<line x1="65.8" y1="369.6" x2="65.8" y2="472.1" stroke="#000" stroke-width="0.7" />
<line x1="65.5" y1="471.8" x2="161.9" y2="471.8" stroke="#000" stroke-width="0.7" />
<line x1="63.8" y1="469.3" x2="65.8" y2="469.3" stroke="#000" stroke-width="0.6" />
<text x="60.5" y="471.7" font-size="6.7" text-anchor="end" font-weight="normal" font-style="normal" fill="#000" >0.0</text>
<line x1="63.8" y1="445.63" x2="65.8" y2="445.63" stroke="#000" stroke-width="0.6" />
<text x="60.5" y="448.03" font-size="6.7" text-anchor="end" font-weight="normal" font-style="normal" fill="#000" >0.5</text>
<line x1="63.8" y1="421.96000000000004" x2="65.8" y2="421.96000000000004" stroke="#000" stroke-width="0.6" />
<text x="60.5" y="424.36" font-size="6.7" text-anchor="end" font-weight="normal" font-style="normal" fill="#000" >1.0</text>
<line x1="63.8" y1="398.29" x2="65.8" y2="398.29" stroke="#000" stroke-width="0.6" />
<text x="60.5" y="400.69" font-size="6.7" text-anchor="end" font-weight="normal" font-style="normal" fill="#000" >1.5</text>
<line x1="63.8" y1="374.62" x2="65.8" y2="374.62" stroke="#000" stroke-width="0.6" />
<text x="60.5" y="377.02" font-size="6.7" text-anchor="end" font-weight="normal" font-style="normal" fill="#000" >2.0</text>
<line x1="65.8" y1="471.8" x2="65.8" y2="473.8" stroke="#000" stroke-width="0.6" />
<text x="65.8" y="483.6" font-size="6.7" text-anchor="middle" font-weight="normal" font-style="normal" fill="#000" >0</text>
<line x1="84.13" y1="471.8" x2="84.13" y2="473.8" stroke="#000" stroke-width="0.6" />
<text x="84.13" y="483.6" font-size="6.7" text-anchor="middle" font-weight="normal" font-style="normal" fill="#000" >1</text>
<line x1="102.46" y1="471.8" x2="102.46" y2="473.8" stroke="#000" stroke-width="0.6" />
<text x="102.46" y="483.6" font-size="6.7" text-anchor="middle" font-weight="normal" font-style="normal" fill="#000" >2</text>
<line x1="120.78999999999999" y1="471.8" x2="120.78999999999999" y2="473.8" stroke="#000" stroke-width="0.6" />
<text x="120.78999999999999" y="483.6" font-size="6.7" text-anchor="middle" font-weight="normal" font-style="normal" fill="#000" >3</text>
<line x1="139.12" y1="471.8" x2="139.12" y2="473.8" stroke="#000" stroke-width="0.6" />
<text x="139.12" y="483.6" font-size="6.7" text-anchor="middle" font-weight="normal" font-style="normal" fill="#000" >4</text>
<line x1="157.45" y1="471.8" x2="157.45" y2="473.8" stroke="#000" stroke-width="0.6" />
<text x="157.45" y="483.6" font-size="6.7" text-anchor="middle" font-weight="normal" font-style="normal" fill="#000" >5</text>
<text x="74.1" y="380.2" font-size="7.1"><tspan font-style="italic">R</tspan> = 0.376</text>
<text x="74.1" y="391.5" font-size="7.1"><tspan font-style="italic">P</tspan> &lt; 0.001</text>
<text x="43.6" y="418" font-size="7.57" text-anchor="middle" font-weight="normal" font-style="normal" fill="#000" transform="rotate(-90 43.6 418)" >Pro-inflam Macro signature</text>
<text x="116.7" y="493.7" font-size="7.55" text-anchor="middle" font-weight="normal" font-style="normal" fill="#000" >apCAFs signature</text>
<text x="175.5" y="358.8" font-size="15.5" text-anchor="start" font-weight="bold" font-style="normal" fill="#000" >F</text>
<text x="277.2" y="357.6" font-size="8.9" text-anchor="middle" font-weight="normal" font-style="normal" fill="#000" >RNA-Seq</text>
<polygon points="229.2,457.3 232.3,454.8 235.4,452.3 238.5,449.8 241.6,447.2 244.8,444.6 247.8,442.0 250.9,439.3 254.0,436.6 257.1,433.8 260.2,431.1 263.3,428.2 266.4,425.4 269.6,422.5 272.6,419.6 275.8,416.6 278.8,413.7 281.9,410.6 285.1,407.6 288.1,404.5 291.2,401.4 294.4,398.2 297.4,395.0 300.6,391.8 303.6,388.5 306.8,385.3 309.8,381.9 312.9,378.6 316.1,375.2 319.1,371.7 319.1,380.9 316.1,383.4 312.9,385.9 309.8,388.4 306.8,391.0 303.6,393.6 300.6,396.2 297.4,398.9 294.4,401.6 291.2,404.4 288.1,407.1 285.1,410.0 281.9,412.8 278.8,415.7 275.8,418.6 272.6,421.6 269.6,424.5 266.4,427.6 263.3,430.6 260.2,433.7 257.1,436.8 254.0,440.0 250.9,443.2 247.8,446.4 244.8,449.7 241.6,452.9 238.5,456.3 235.4,459.6 232.3,463.0 229.2,466.5" fill="#dcdcdc" opacity="0.55"/>
<path d="M282.3 380.8h0M293.5 387.3h0M286.6 402.7h0M287.2 406.8h0M265.7 437.6h0M259.2 429.3h0M286.9 385.8h0M286.1 403.0h0M288.6 404.1h0M248.6 429.3h0M271.0 418.1h0M274.0 382.0h0M296.4 391.4h0M260.2 420.1h0M264.0 413.1h0M254.1 438.0h0M293.2 410.2h0M280.1 410.1h0M293.5 405.4h0M289.5 377.2h0M254.5 447.2h0M285.8 414.7h0M256.8 416.3h0M294.0 384.9h0M295.9 387.8h0M265.3 455.8h0M286.7 419.1h0M279.4 407.6h0M258.3 436.8h0M306.7 376.8h0M252.5 440.7h0M278.7 406.0h0M290.7 402.5h0M274.8 405.9h0M255.5 421.0h0M284.0 414.5h0M269.1 419.6h0M284.4 389.7h0M275.7 415.8h0M277.8 426.7h0M284.5 398.0h0M278.4 402.8h0M261.3 427.2h0M265.7 432.5h0M281.9 408.9h0M291.3 393.7h0M258.6 417.2h0M252.2 440.7h0M282.1 412.1h0M285.0 408.1h0M261.2 421.2h0M276.0 428.6h0M277.7 416.0h0M282.0 418.8h0M279.4 416.4h0M302.1 396.9h0M296.9 398.4h0M270.5 420.8h0M262.2 439.2h0M267.7 424.2h0M291.2 391.8h0M268.8 422.4h0M253.4 431.8h0M272.8 433.8h0M265.0 420.8h0M278.1 407.5h0M269.5 421.6h0M272.7 439.2h0M274.0 421.0h0M265.7 417.5h0M299.0 394.9h0M258.2 436.6h0M266.6 424.5h0M295.3 399.6h0M254.2 421.6h0M277.4 399.3h0M262.7 399.4h0M257.3 433.6h0M289.3 436.3h0M264.1 448.3h0M303.6 382.5h0M261.4 452.6h0M249.0 441.0h0M263.8 424.5h0M268.1 445.8h0M305.0 383.7h0M265.5 431.5h0M297.2 387.1h0M256.9 417.7h0M266.7 419.1h0M257.5 443.3h0M289.0 419.8h0M277.7 410.7h0M266.1 409.0h0M287.1 408.5h0M292.6 384.8h0M296.1 399.7h0M289.3 400.0h0M259.2 437.7h0M308.5 396.1h0M284.2 388.7h0M270.6 422.7h0M264.8 421.8h0M257.3 429.7h0M263.5 425.2h0M249.5 456.1h0M291.2 395.7h0M300.4 404.2h0M290.4 391.1h0M273.9 424.1h0M246.1 440.2h0M305.8 404.4h0M294.2 390.9h0M291.4 415.8h0M274.7 415.6h0M303.4 402.8h0M268.1 434.4h0M290.0 423.5h0M273.2 436.2h0M271.0 412.9h0M267.9 416.7h0M269.0 424.8h0M274.0 430.3h0M282.9 403.0h0M263.9 420.7h0M278.0 420.9h0M278.7 404.9h0M288.0 388.0h0M280.4 410.7h0M252.8 446.3h0M285.5 422.0h0M261.7 409.0h0M275.0 432.1h0M243.0 459.8h0M275.9 410.2h0M286.7 413.3h0M281.7 411.6h0M271.0 409.9h0M263.2 439.1h0M266.0 412.3h0M268.6 402.7h0M255.3 449.4h0M277.5 407.7h0M260.7 438.5h0M298.3 402.3h0M277.7 408.3h0M261.0 417.0h0M273.1 410.9h0M271.6 418.6h0M295.1 396.8h0M247.8 448.1h0M270.1 425.5h0M279.1 434.5h0M303.5 401.9h0M296.2 403.0h0M270.6 424.4h0M270.7 416.1h0M295.2 377.3h0M305.3 404.7h0M286.4 401.8h0M274.9 415.0h0M276.5 431.1h0M263.1 418.4h0M275.2 401.6h0M269.1 431.2h0M277.9 414.5h0M291.2 409.5h0M288.8 401.0h0M262.5 432.6h0M273.4 407.9h0M295.4 390.8h0M268.0 416.4h0M278.8 422.1h0M287.9 415.5h0M271.6 434.4h0M254.8 433.5h0M251.6 448.8h0M270.5 417.3h0M265.8 418.8h0M263.5 439.0h0M263.3 435.8h0M264.9 445.3h0M264.6 438.8h0M292.6 414.6h0M281.2 423.7h0M289.5 406.3h0M267.3 412.1h0M299.4 376.8h0M291.0 402.6h0M265.7 433.3h0M267.6 419.5h0M269.6 421.1h0M279.3 415.8h0M266.0 439.9h0M274.3 438.6h0M256.8 443.6h0M304.8 388.4h0M262.0 409.9h0M247.2 431.3h0M276.6 404.9h0M287.0 442.0h0M281.8 418.9h0M290.1 411.1h0M281.7 406.5h0M266.9 454.7h0M269.3 433.4h0M258.0 444.7h0M276.1 398.8h0M277.7 413.1h0M293.0 395.7h0M272.8 428.5h0M257.5 423.8h0M275.0 403.8h0M263.9 436.3h0M282.7 393.1h0M273.5 427.2h0M284.5 425.7h0M294.6 415.3h0M252.0 439.6h0M267.6 409.2h0M288.9 399.5h0M244.3 448.6h0M262.8 454.1h0M304.6 413.6h0M260.7 443.3h0M265.8 425.5h0M282.7 426.9h0M282.6 403.5h0M281.0 393.6h0M268.0 429.6h0M268.9 438.5h0M274.8 405.5h0M285.1 409.0h0M278.3 399.1h0M295.3 422.0h0M255.1 425.1h0M287.8 398.1h0M290.8 417.2h0M256.7 430.4h0M257.1 434.3h0M308.1 408.7h0M284.5 390.0h0M296.5 403.5h0M261.6 431.2h0M256.2 434.7h0M270.7 426.3h0M289.0 405.1h0M266.7 428.6h0M272.4 424.3h0M268.7 414.1h0M269.6 410.6h0M286.3 395.8h0M282.7 427.3h0M269.4 437.0h0M279.0 412.6h0M244.7 464.5h0M270.7 427.7h0M259.2 445.6h0M275.7 430.6h0M282.1 409.3h0M267.9 404.9h0M300.2 412.9h0M275.0 401.4h0M263.8 456.2h0M261.0 441.0h0M264.7 425.3h0M284.9 402.2h0M244.7 456.5h0M291.4 409.8h0M257.4 439.3h0M253.3 445.2h0M270.2 434.9h0M273.5 427.2h0M255.0 442.6h0M267.7 432.6h0M279.5 409.0h0M283.6 404.8h0M256.5 434.5h0M272.0 433.7h0M276.9 419.4h0M272.0 416.2h0M256.4 437.7h0M262.0 437.3h0M267.2 417.9h0M284.5 404.4h0M256.5 434.6h0M300.7 380.1h0M284.5 408.2h0M263.3 426.0h0M253.0 441.6h0M254.0 450.2h0M253.7 435.3h0M269.5 420.5h0M285.3 405.1h0M264.8 424.7h0M255.2 443.9h0M284.2 412.9h0M277.3 416.3h0M247.8 458.6h0M297.3 412.5h0M275.9 399.6h0M247.7 447.0h0M286.9 393.0h0M266.1 419.9h0M270.2 418.8h0M269.1 417.9h0M286.7 396.4h0M269.8 432.6h0M281.2 400.8h0M284.1 420.5h0M276.8 417.9h0M263.3 403.3h0M272.2 425.9h0M273.1 435.8h0M268.6 431.9h0M263.3 435.8h0M275.2 421.5h0M261.5 443.3h0M241.4 458.4h0M279.3 413.6h0M275.3 423.5h0M295.1 382.3h0M255.8 417.5h0M283.7 426.9h0M272.5 416.9h0M307.5 391.0h0M292.6 408.7h0M272.3 404.3h0M267.7 421.5h0M288.6 397.4h0M229.2 430.8h0M232.3 462.9h0M242.4 463.8h0M316.8 376.3h0M319.1 384.1h0M316.8 387.0h0M292.8 372.8h0M295.1 373.4h0M291.2 374.4h0M299.0 430.8h0" stroke="#3388D2" stroke-width="1.8" stroke-linecap="round" fill="none" opacity="0.9"/>
<line x1="229.2" y1="461.9" x2="319.1" y2="376.3" stroke="#3a3a3a" stroke-width="0.8" />
<line x1="226.5" y1="369.6" x2="226.5" y2="470.3" stroke="#000" stroke-width="0.7" />
<line x1="226.2" y1="470" x2="321.9" y2="470" stroke="#000" stroke-width="0.7" />
<line x1="224.5" y1="458.0" x2="226.5" y2="458.0" stroke="#000" stroke-width="0.6" />
<text x="222.9" y="460.1" font-size="6.0" text-anchor="end" font-weight="normal" font-style="normal" fill="#000" >−2</text>
<line x1="224.5" y1="438.55" x2="226.5" y2="438.55" stroke="#000" stroke-width="0.6" />
<text x="222.9" y="440.65000000000003" font-size="6.0" text-anchor="end" font-weight="normal" font-style="normal" fill="#000" >−1</text>
<line x1="224.5" y1="419.1" x2="226.5" y2="419.1" stroke="#000" stroke-width="0.6" />
<text x="222.9" y="421.20000000000005" font-size="6.0" text-anchor="end" font-weight="normal" font-style="normal" fill="#000" >0</text>
<line x1="224.5" y1="399.65000000000003" x2="226.5" y2="399.65000000000003" stroke="#000" stroke-width="0.6" />
<text x="222.9" y="401.75000000000006" font-size="6.0" text-anchor="end" font-weight="normal" font-style="normal" fill="#000" >1</text>
<line x1="224.5" y1="380.20000000000005" x2="226.5" y2="380.20000000000005" stroke="#000" stroke-width="0.6" />
<text x="222.9" y="382.30000000000007" font-size="6.0" text-anchor="end" font-weight="normal" font-style="normal" fill="#000" >2</text>
<line x1="227.7" y1="470" x2="227.7" y2="472" stroke="#000" stroke-width="0.6" />
<text x="226.5" y="480.6" font-size="6.0" text-anchor="middle" font-weight="normal" font-style="normal" fill="#000" >−3</text>
<line x1="243.2" y1="470" x2="243.2" y2="472" stroke="#000" stroke-width="0.6" />
<text x="242.0" y="480.6" font-size="6.0" text-anchor="middle" font-weight="normal" font-style="normal" fill="#000" >−2</text>
<line x1="258.7" y1="470" x2="258.7" y2="472" stroke="#000" stroke-width="0.6" />
<text x="257.5" y="480.6" font-size="6.0" text-anchor="middle" font-weight="normal" font-style="normal" fill="#000" >−1</text>
<line x1="274.2" y1="470" x2="274.2" y2="472" stroke="#000" stroke-width="0.6" />
<text x="274.2" y="480.6" font-size="6.0" text-anchor="middle" font-weight="normal" font-style="normal" fill="#000" >0</text>
<line x1="289.7" y1="470" x2="289.7" y2="472" stroke="#000" stroke-width="0.6" />
<text x="289.7" y="480.6" font-size="6.0" text-anchor="middle" font-weight="normal" font-style="normal" fill="#000" >1</text>
<line x1="305.2" y1="470" x2="305.2" y2="472" stroke="#000" stroke-width="0.6" />
<text x="305.2" y="480.6" font-size="6.0" text-anchor="middle" font-weight="normal" font-style="normal" fill="#000" >2</text>
<line x1="320.7" y1="470" x2="320.7" y2="472" stroke="#000" stroke-width="0.6" />
<text x="320.7" y="480.6" font-size="6.0" text-anchor="middle" font-weight="normal" font-style="normal" fill="#000" >3</text>
<text x="236.5" y="374.6" font-size="7.3"><tspan font-style="italic">R</tspan> = 0.763</text>
<text x="236.5" y="382.7" font-size="7.3"><tspan font-style="italic">P</tspan> &lt; 0.001</text>
<text x="213.8" y="423" font-size="8.0" text-anchor="middle" font-weight="normal" font-style="normal" fill="#000" transform="rotate(-90 213.8 423)" >Pro-inflam Macro signature</text>
<text x="278.1" y="493.7" font-size="8.0" text-anchor="middle" font-weight="normal" font-style="normal" fill="#000" >apCAFs signature</text>
<text x="389.8" y="344.2" font-size="15.5" text-anchor="start" font-weight="bold" font-style="normal" fill="#000" >G</text>
<text x="552.5" y="339.8" font-size="7.53" text-anchor="middle" font-weight="bold" font-style="italic" fill="#000" >Predicted target genes in macrophages</text>
<text x="395.6" y="438.4" font-size="7.54" text-anchor="middle" font-weight="bold" font-style="italic" fill="#000" transform="rotate(-90 395.6 438.4)" >Prioritized ligands in apCAFs</text>
<rect x="442.10" y="381.40" width="241.20" height="142.05" fill="#ffffff" stroke="none" stroke-width="0" />
<rect x="442.40" y="381.70" width="240.50" height="141.35" fill="#f4f2f6" stroke="none" stroke-width="0" />
<rect x="442.40" y="381.70" width="8.03" height="5.25" fill="#d2b0ef" stroke="none" stroke-width="0" />
<rect x="450.43" y="381.70" width="8.03" height="5.25" fill="#e4d2f4" stroke="none" stroke-width="0" />
<rect x="458.46" y="381.70" width="8.03" height="5.25" fill="#e4d2f4" stroke="none" stroke-width="0" />
<rect x="466.49" y="381.70" width="8.03" height="5.25" fill="#e9dcf4" stroke="none" stroke-width="0" />
<rect x="474.52" y="381.70" width="8.03" height="5.25" fill="#ece3f5" stroke="none" stroke-width="0" />
<rect x="498.61" y="381.70" width="8.03" height="5.25" fill="#e1ccf3" stroke="none" stroke-width="0" />
<rect x="546.79" y="381.70" width="8.03" height="5.25" fill="#e4d2f4" stroke="none" stroke-width="0" />
<rect x="570.88" y="381.70" width="8.03" height="5.25" fill="#e4d2f4" stroke="none" stroke-width="0" />
<rect x="578.91" y="381.70" width="8.03" height="5.25" fill="#e4d2f4" stroke="none" stroke-width="0" />
<rect x="586.94" y="381.70" width="8.03" height="5.25" fill="#e4d2f4" stroke="none" stroke-width="0" />
<rect x="594.97" y="381.70" width="8.03" height="5.25" fill="#e4d2f4" stroke="none" stroke-width="0" />
<rect x="603.00" y="381.70" width="8.03" height="5.25" fill="#e8dbf4" stroke="none" stroke-width="0" />
<rect x="482.55" y="381.70" width="8.03" height="5.25" fill="#f1ecf6" stroke="none" stroke-width="0" />
<rect x="490.58" y="381.70" width="8.03" height="5.25" fill="#f1ecf6" stroke="none" stroke-width="0" />
<rect x="442.40" y="386.95" width="8.03" height="5.25" fill="#e0caf3" stroke="none" stroke-width="0" />
<rect x="450.43" y="386.95" width="8.03" height="5.25" fill="#d6b6f0" stroke="none" stroke-width="0" />
<rect x="458.46" y="386.95" width="8.03" height="5.25" fill="#dcc2f2" stroke="none" stroke-width="0" />
<rect x="466.49" y="386.95" width="8.03" height="5.25" fill="#ab69e6" stroke="none" stroke-width="0" />
<rect x="474.52" y="386.95" width="8.03" height="5.25" fill="#943ee2" stroke="none" stroke-width="0" />
<rect x="482.55" y="386.95" width="8.03" height="5.25" fill="#9b4ce3" stroke="none" stroke-width="0" />
<rect x="490.58" y="386.95" width="8.03" height="5.25" fill="#9b4ce3" stroke="none" stroke-width="0" />
<rect x="498.61" y="386.95" width="8.03" height="5.25" fill="#943ee2" stroke="none" stroke-width="0" />
<rect x="506.64" y="386.95" width="8.03" height="5.25" fill="#9b4ce3" stroke="none" stroke-width="0" />
<rect x="514.67" y="386.95" width="8.03" height="5.25" fill="#a056e4" stroke="none" stroke-width="0" />
<rect x="522.70" y="386.95" width="8.03" height="5.25" fill="#c9a0ed" stroke="none" stroke-width="0" />
<rect x="530.73" y="386.95" width="8.03" height="5.25" fill="#b67de8" stroke="none" stroke-width="0" />
<rect x="538.76" y="386.95" width="8.03" height="5.25" fill="#e0caf3" stroke="none" stroke-width="0" />
<rect x="546.79" y="386.95" width="8.03" height="5.25" fill="#e8dbf4" stroke="none" stroke-width="0" />
<rect x="554.82" y="386.95" width="8.03" height="5.25" fill="#c394eb" stroke="none" stroke-width="0" />
<rect x="562.85" y="386.95" width="8.03" height="5.25" fill="#ece3f5" stroke="none" stroke-width="0" />
<rect x="570.88" y="386.95" width="8.03" height="5.25" fill="#b67de8" stroke="none" stroke-width="0" />
<rect x="578.91" y="386.95" width="8.03" height="5.25" fill="#e0caf3" stroke="none" stroke-width="0" />
<rect x="586.94" y="386.95" width="8.03" height="5.25" fill="#e0caf3" stroke="none" stroke-width="0" />
<rect x="594.97" y="386.95" width="8.03" height="5.25" fill="#e4d2f4" stroke="none" stroke-width="0" />
<rect x="603.00" y="386.95" width="8.03" height="5.25" fill="#efe9f5" stroke="none" stroke-width="0" />
<rect x="611.03" y="386.95" width="8.03" height="5.25" fill="#dcc2f2" stroke="none" stroke-width="0" />
<rect x="619.06" y="386.95" width="8.03" height="5.25" fill="#dcc2f2" stroke="none" stroke-width="0" />
<rect x="643.15" y="386.95" width="8.03" height="5.25" fill="#dcc2f2" stroke="none" stroke-width="0" />
<rect x="466.49" y="392.20" width="8.03" height="5.25" fill="#d6b6f0" stroke="none" stroke-width="0" />
<rect x="458.46" y="392.20" width="8.03" height="5.25" fill="#ece3f5" stroke="none" stroke-width="0" />
<rect x="450.43" y="392.20" width="8.03" height="5.25" fill="#f0eaf6" stroke="none" stroke-width="0" />
<rect x="450.43" y="397.45" width="8.03" height="5.25" fill="#e0caf3" stroke="none" stroke-width="0" />
<rect x="466.49" y="397.45" width="8.03" height="5.25" fill="#dcc2f2" stroke="none" stroke-width="0" />
<rect x="546.79" y="397.45" width="8.03" height="5.25" fill="#e4d2f4" stroke="none" stroke-width="0" />
<rect x="522.70" y="397.45" width="8.03" height="5.25" fill="#f0eaf6" stroke="none" stroke-width="0" />
<rect x="530.73" y="397.45" width="8.03" height="5.25" fill="#ece3f5" stroke="none" stroke-width="0" />
<rect x="466.49" y="402.70" width="8.03" height="5.25" fill="#ece3f5" stroke="none" stroke-width="0" />
<rect x="466.49" y="407.95" width="8.03" height="5.25" fill="#ece3f5" stroke="none" stroke-width="0" />
<rect x="578.91" y="407.95" width="8.03" height="5.25" fill="#c9a0ed" stroke="none" stroke-width="0" />
<rect x="554.82" y="407.95" width="8.03" height="5.25" fill="#ece3f5" stroke="none" stroke-width="0" />
<rect x="490.58" y="407.95" width="8.03" height="5.25" fill="#f1ecf6" stroke="none" stroke-width="0" />
<rect x="554.82" y="413.20" width="8.03" height="5.25" fill="#dcc2f2" stroke="none" stroke-width="0" />
<rect x="586.94" y="413.20" width="8.03" height="5.25" fill="#dcc2f2" stroke="none" stroke-width="0" />
<rect x="466.49" y="413.20" width="8.03" height="5.25" fill="#eee6f5" stroke="none" stroke-width="0" />
<rect x="450.43" y="413.20" width="8.03" height="5.25" fill="#f0eaf6" stroke="none" stroke-width="0" />
<rect x="458.46" y="413.20" width="8.03" height="5.25" fill="#f0eaf6" stroke="none" stroke-width="0" />
<rect x="442.40" y="418.45" width="8.03" height="5.25" fill="#eee6f5" stroke="none" stroke-width="0" />
<rect x="450.43" y="418.45" width="8.03" height="5.25" fill="#f0eaf6" stroke="none" stroke-width="0" />
<rect x="458.46" y="418.45" width="8.03" height="5.25" fill="#f1ecf6" stroke="none" stroke-width="0" />
<rect x="466.49" y="418.45" width="8.03" height="5.25" fill="#d6b6f0" stroke="none" stroke-width="0" />
<rect x="474.52" y="418.45" width="8.03" height="5.25" fill="#dcc2f2" stroke="none" stroke-width="0" />
<rect x="482.55" y="418.45" width="8.03" height="5.25" fill="#ece3f5" stroke="none" stroke-width="0" />
<rect x="490.58" y="418.45" width="8.03" height="5.25" fill="#ab69e6" stroke="none" stroke-width="0" />
<rect x="506.64" y="418.45" width="8.03" height="5.25" fill="#b67de8" stroke="none" stroke-width="0" />
<rect x="514.67" y="418.45" width="8.03" height="5.25" fill="#c9a0ed" stroke="none" stroke-width="0" />
<rect x="522.70" y="418.45" width="8.03" height="5.25" fill="#dcc2f2" stroke="none" stroke-width="0" />
<rect x="530.73" y="418.45" width="8.03" height="5.25" fill="#b173e7" stroke="none" stroke-width="0" />
<rect x="554.82" y="418.45" width="8.03" height="5.25" fill="#d6b6f0" stroke="none" stroke-width="0" />
<rect x="586.94" y="418.45" width="8.03" height="5.25" fill="#c394eb" stroke="none" stroke-width="0" />
<rect x="594.97" y="418.45" width="8.03" height="5.25" fill="#bc88ea" stroke="none" stroke-width="0" />
<rect x="603.00" y="418.45" width="8.03" height="5.25" fill="#c9a0ed" stroke="none" stroke-width="0" />
<rect x="611.03" y="418.45" width="8.03" height="5.25" fill="#a65fe5" stroke="none" stroke-width="0" />
<rect x="619.06" y="418.45" width="8.03" height="5.25" fill="#bc88ea" stroke="none" stroke-width="0" />
<rect x="538.76" y="418.45" width="8.03" height="5.25" fill="#f0eaf6" stroke="none" stroke-width="0" />
<rect x="466.49" y="423.70" width="8.03" height="5.25" fill="#ece3f5" stroke="none" stroke-width="0" />
<rect x="522.70" y="423.70" width="8.03" height="5.25" fill="#f1ecf6" stroke="none" stroke-width="0" />
<rect x="530.73" y="423.70" width="8.03" height="5.25" fill="#f1ecf6" stroke="none" stroke-width="0" />
<rect x="611.03" y="423.70" width="8.03" height="5.25" fill="#f0eaf6" stroke="none" stroke-width="0" />
<rect x="619.06" y="423.70" width="8.03" height="5.25" fill="#f0eaf6" stroke="none" stroke-width="0" />
<rect x="466.49" y="428.95" width="8.03" height="5.25" fill="#eee6f5" stroke="none" stroke-width="0" />
<rect x="466.49" y="434.20" width="8.03" height="5.25" fill="#eee6f5" stroke="none" stroke-width="0" />
<rect x="522.70" y="434.20" width="8.03" height="5.25" fill="#eee6f5" stroke="none" stroke-width="0" />
<rect x="530.73" y="434.20" width="8.03" height="5.25" fill="#ece3f5" stroke="none" stroke-width="0" />
<rect x="450.43" y="439.45" width="8.03" height="5.25" fill="#eee6f5" stroke="none" stroke-width="0" />
<rect x="466.49" y="439.45" width="8.03" height="5.25" fill="#ece3f5" stroke="none" stroke-width="0" />
<rect x="627.09" y="439.45" width="8.03" height="5.25" fill="#e8dbf4" stroke="none" stroke-width="0" />
<rect x="635.12" y="439.45" width="8.03" height="5.25" fill="#e8dbf4" stroke="none" stroke-width="0" />
<rect x="643.15" y="439.45" width="8.03" height="5.25" fill="#ece3f5" stroke="none" stroke-width="0" />
<rect x="466.49" y="444.70" width="8.03" height="5.25" fill="#d6b6f0" stroke="none" stroke-width="0" />
<rect x="474.52" y="444.70" width="8.03" height="5.25" fill="#dcc2f2" stroke="none" stroke-width="0" />
<rect x="554.82" y="444.70" width="8.03" height="5.25" fill="#dcc2f2" stroke="none" stroke-width="0" />
<rect x="651.18" y="449.95" width="8.03" height="5.25" fill="#eae0f5" stroke="none" stroke-width="0" />
<rect x="659.21" y="449.95" width="8.03" height="5.25" fill="#eae0f5" stroke="none" stroke-width="0" />
<rect x="466.49" y="449.95" width="8.03" height="5.25" fill="#ece3f5" stroke="none" stroke-width="0" />
<rect x="667.24" y="455.20" width="8.03" height="5.25" fill="#dcc2f2" stroke="none" stroke-width="0" />
<rect x="675.27" y="455.20" width="8.03" height="5.25" fill="#dcc2f2" stroke="none" stroke-width="0" />
<rect x="450.43" y="455.20" width="8.03" height="5.25" fill="#f0eaf6" stroke="none" stroke-width="0" />
<rect x="466.49" y="455.20" width="8.03" height="5.25" fill="#ece3f5" stroke="none" stroke-width="0" />
<rect x="482.55" y="455.20" width="8.03" height="5.25" fill="#ece3f5" stroke="none" stroke-width="0" />
<rect x="522.70" y="455.20" width="8.03" height="5.25" fill="#ece3f5" stroke="none" stroke-width="0" />
<rect x="530.73" y="455.20" width="8.03" height="5.25" fill="#ece3f5" stroke="none" stroke-width="0" />
<rect x="522.70" y="460.45" width="8.03" height="5.25" fill="#ece3f5" stroke="none" stroke-width="0" />
<rect x="530.73" y="460.45" width="8.03" height="5.25" fill="#e8dbf4" stroke="none" stroke-width="0" />
<rect x="554.82" y="460.45" width="8.03" height="5.25" fill="#eee6f5" stroke="none" stroke-width="0" />
<rect x="466.49" y="460.45" width="8.03" height="5.25" fill="#efe9f5" stroke="none" stroke-width="0" />
<rect x="450.43" y="465.70" width="8.03" height="5.25" fill="#d6b6f0" stroke="none" stroke-width="0" />
<rect x="466.49" y="465.70" width="8.03" height="5.25" fill="#d6b6f0" stroke="none" stroke-width="0" />
<rect x="482.55" y="465.70" width="8.03" height="5.25" fill="#eee6f5" stroke="none" stroke-width="0" />
<rect x="522.70" y="465.70" width="8.03" height="5.25" fill="#eae0f5" stroke="none" stroke-width="0" />
<rect x="530.73" y="465.70" width="8.03" height="5.25" fill="#eae0f5" stroke="none" stroke-width="0" />
<rect x="538.76" y="465.70" width="8.03" height="5.25" fill="#eee6f5" stroke="none" stroke-width="0" />
<rect x="570.88" y="465.70" width="8.03" height="5.25" fill="#f0eaf6" stroke="none" stroke-width="0" />
<rect x="466.49" y="470.95" width="8.03" height="5.25" fill="#ece3f5" stroke="none" stroke-width="0" />
<rect x="522.70" y="470.95" width="8.03" height="5.25" fill="#eee6f5" stroke="none" stroke-width="0" />
<rect x="530.73" y="470.95" width="8.03" height="5.25" fill="#eee6f5" stroke="none" stroke-width="0" />
<rect x="474.52" y="476.20" width="8.03" height="5.25" fill="#dcc2f2" stroke="none" stroke-width="0" />
<rect x="482.55" y="476.20" width="8.03" height="5.25" fill="#dcc2f2" stroke="none" stroke-width="0" />
<rect x="466.49" y="476.20" width="8.03" height="5.25" fill="#f0eaf6" stroke="none" stroke-width="0" />
<rect x="466.49" y="481.45" width="8.03" height="5.25" fill="#eee6f5" stroke="none" stroke-width="0" />
<rect x="522.70" y="481.45" width="8.03" height="5.25" fill="#f0eaf6" stroke="none" stroke-width="0" />
<rect x="450.43" y="486.70" width="8.03" height="5.25" fill="#d6b6f0" stroke="none" stroke-width="0" />
<rect x="466.49" y="486.70" width="8.03" height="5.25" fill="#eee6f5" stroke="none" stroke-width="0" />
<rect x="466.49" y="491.95" width="8.03" height="5.25" fill="#eee6f5" stroke="none" stroke-width="0" />
<rect x="514.67" y="491.95" width="8.03" height="5.25" fill="#eee6f5" stroke="none" stroke-width="0" />
<rect x="522.70" y="491.95" width="8.03" height="5.25" fill="#eae0f5" stroke="none" stroke-width="0" />
<rect x="530.73" y="491.95" width="8.03" height="5.25" fill="#ece3f5" stroke="none" stroke-width="0" />
<rect x="450.43" y="491.95" width="8.03" height="5.25" fill="#f0eaf6" stroke="none" stroke-width="0" />
<rect x="450.43" y="497.20" width="8.03" height="5.25" fill="#eee6f5" stroke="none" stroke-width="0" />
<rect x="466.49" y="497.20" width="8.03" height="5.25" fill="#ece3f5" stroke="none" stroke-width="0" />
<rect x="482.55" y="497.20" width="8.03" height="5.25" fill="#eee6f5" stroke="none" stroke-width="0" />
<rect x="506.64" y="497.20" width="8.03" height="5.25" fill="#eee6f5" stroke="none" stroke-width="0" />
<rect x="514.67" y="497.20" width="8.03" height="5.25" fill="#ece3f5" stroke="none" stroke-width="0" />
<rect x="522.70" y="497.20" width="8.03" height="5.25" fill="#eae0f5" stroke="none" stroke-width="0" />
<rect x="530.73" y="497.20" width="8.03" height="5.25" fill="#ece3f5" stroke="none" stroke-width="0" />
<rect x="570.88" y="497.20" width="8.03" height="5.25" fill="#eee6f5" stroke="none" stroke-width="0" />
<rect x="466.49" y="502.45" width="8.03" height="5.25" fill="#f0eaf6" stroke="none" stroke-width="0" />
<rect x="522.70" y="502.45" width="8.03" height="5.25" fill="#f0eaf6" stroke="none" stroke-width="0" />
<rect x="530.73" y="502.45" width="8.03" height="5.25" fill="#f0eaf6" stroke="none" stroke-width="0" />
<rect x="530.73" y="507.70" width="8.03" height="5.25" fill="#efe9f5" stroke="none" stroke-width="0" />
<rect x="522.70" y="507.70" width="8.03" height="5.25" fill="#f1ecf6" stroke="none" stroke-width="0" />
<rect x="450.43" y="512.95" width="8.03" height="5.25" fill="#d6b6f0" stroke="none" stroke-width="0" />
<rect x="466.49" y="512.95" width="8.03" height="5.25" fill="#d6b6f0" stroke="none" stroke-width="0" />
<rect x="474.52" y="512.95" width="8.03" height="5.25" fill="#eee6f5" stroke="none" stroke-width="0" />
<rect x="482.55" y="512.95" width="8.03" height="5.25" fill="#eee6f5" stroke="none" stroke-width="0" />
<rect x="506.64" y="512.95" width="8.03" height="5.25" fill="#ece3f5" stroke="none" stroke-width="0" />
<rect x="514.67" y="512.95" width="8.03" height="5.25" fill="#ece3f5" stroke="none" stroke-width="0" />
<rect x="522.70" y="512.95" width="8.03" height="5.25" fill="#ece3f5" stroke="none" stroke-width="0" />
<rect x="530.73" y="512.95" width="8.03" height="5.25" fill="#ece3f5" stroke="none" stroke-width="0" />
<rect x="538.76" y="512.95" width="8.03" height="5.25" fill="#ece3f5" stroke="none" stroke-width="0" />
<rect x="546.79" y="512.95" width="8.03" height="5.25" fill="#ece3f5" stroke="none" stroke-width="0" />
<rect x="554.82" y="512.95" width="8.03" height="5.25" fill="#ece3f5" stroke="none" stroke-width="0" />
<rect x="562.85" y="512.95" width="8.03" height="5.25" fill="#ece3f5" stroke="none" stroke-width="0" />
<rect x="570.88" y="512.95" width="8.03" height="5.25" fill="#ece3f5" stroke="none" stroke-width="0" />
<rect x="578.91" y="512.95" width="8.03" height="5.25" fill="#dcc2f2" stroke="none" stroke-width="0" />
<rect x="442.40" y="512.95" width="8.03" height="5.25" fill="#f0eaf6" stroke="none" stroke-width="0" />
<rect x="578.91" y="518.20" width="8.03" height="5.25" fill="#e4d2f4" stroke="none" stroke-width="0" />
<rect x="466.49" y="518.20" width="8.03" height="5.25" fill="#f0eaf6" stroke="none" stroke-width="0" />
<path d="M450.23 381.7v141.75M458.26 381.7v141.75M466.29 381.7v141.75M474.32 381.7v141.75M482.35 381.7v141.75M490.38 381.7v141.75M498.41 381.7v141.75M506.44 381.7v141.75M514.47 381.7v141.75M522.50 381.7v141.75M530.53 381.7v141.75M538.56 381.7v141.75M546.59 381.7v141.75M554.62 381.7v141.75M562.65 381.7v141.75M570.68 381.7v141.75M578.71 381.7v141.75M586.74 381.7v141.75M594.77 381.7v141.75M602.80 381.7v141.75M610.83 381.7v141.75M618.86 381.7v141.75M626.89 381.7v141.75M634.92 381.7v141.75M642.95 381.7v141.75M650.98 381.7v141.75M659.01 381.7v141.75M667.04 381.7v141.75M675.07 381.7v141.75M683.10 381.7v141.75M442.4 386.75h240.89999999999998M442.4 392.00h240.89999999999998M442.4 397.25h240.89999999999998M442.4 402.50h240.89999999999998M442.4 407.75h240.89999999999998M442.4 413.00h240.89999999999998M442.4 418.25h240.89999999999998M442.4 423.50h240.89999999999998M442.4 428.75h240.89999999999998M442.4 434.00h240.89999999999998M442.4 439.25h240.89999999999998M442.4 444.50h240.89999999999998M442.4 449.75h240.89999999999998M442.4 455.00h240.89999999999998M442.4 460.25h240.89999999999998M442.4 465.50h240.89999999999998M442.4 470.75h240.89999999999998M442.4 476.00h240.89999999999998M442.4 481.25h240.89999999999998M442.4 486.50h240.89999999999998M442.4 491.75h240.89999999999998M442.4 497.00h240.89999999999998M442.4 502.25h240.89999999999998M442.4 507.50h240.89999999999998M442.4 512.75h240.89999999999998M442.4 518.00h240.89999999999998M442.4 523.25h240.89999999999998" stroke="#fff" stroke-width="0.5" fill="none"/>
<rect x="431.10" y="381.70" width="7.50" height="4.85" fill="#F7901E" stroke="none" stroke-width="0" />
<rect x="431.10" y="386.95" width="7.50" height="4.85" fill="#F9A64A" stroke="none" stroke-width="0" />
<rect x="431.10" y="392.20" width="7.50" height="4.85" fill="#FAAE5A" stroke="none" stroke-width="0" />
<rect x="431.10" y="397.45" width="7.50" height="4.85" fill="#FBBC78" stroke="none" stroke-width="0" />
<rect x="431.10" y="402.70" width="7.50" height="4.85" fill="#FDD6B4" stroke="none" stroke-width="0" />
<rect x="431.10" y="407.95" width="7.50" height="4.85" fill="#FDD9BA" stroke="none" stroke-width="0" />
<rect x="431.10" y="413.20" width="7.50" height="4.85" fill="#FDDBBE" stroke="none" stroke-width="0" />
<rect x="431.10" y="418.45" width="7.50" height="4.85" fill="#FDDCC0" stroke="none" stroke-width="0" />
<rect x="431.10" y="423.70" width="7.50" height="4.85" fill="#FDDDC3" stroke="none" stroke-width="0" />
<rect x="431.10" y="428.95" width="7.50" height="4.85" fill="#FDDFC6" stroke="none" stroke-width="0" />
<rect x="431.10" y="434.20" width="7.50" height="4.85" fill="#FDE0C9" stroke="none" stroke-width="0" />
<rect x="431.10" y="439.45" width="7.50" height="4.85" fill="#FDE1CB" stroke="none" stroke-width="0" />
<rect x="431.10" y="444.70" width="7.50" height="4.85" fill="#FCE2CE" stroke="none" stroke-width="0" />
<rect x="431.10" y="449.95" width="7.50" height="4.85" fill="#FCE3D0" stroke="none" stroke-width="0" />
<rect x="431.10" y="455.20" width="7.50" height="4.85" fill="#FCE4D3" stroke="none" stroke-width="0" />
<rect x="431.10" y="460.45" width="7.50" height="4.85" fill="#FBE5D6" stroke="none" stroke-width="0" />
<rect x="431.10" y="465.70" width="7.50" height="4.85" fill="#FBE6D9" stroke="none" stroke-width="0" />
<rect x="431.10" y="470.95" width="7.50" height="4.85" fill="#FAE7DC" stroke="none" stroke-width="0" />
<rect x="431.10" y="476.20" width="7.50" height="4.85" fill="#F9E8DF" stroke="none" stroke-width="0" />
<rect x="431.10" y="481.45" width="7.50" height="4.85" fill="#F8E8E2" stroke="none" stroke-width="0" />
<rect x="431.10" y="486.70" width="7.50" height="4.85" fill="#F7E9E5" stroke="none" stroke-width="0" />
<rect x="431.10" y="491.95" width="7.50" height="4.85" fill="#F6EAE8" stroke="none" stroke-width="0" />
<rect x="431.10" y="497.20" width="7.50" height="4.85" fill="#F5EBEA" stroke="none" stroke-width="0" />
<rect x="431.10" y="502.45" width="7.50" height="4.85" fill="#F4ECEC" stroke="none" stroke-width="0" />
<rect x="431.10" y="507.70" width="7.50" height="4.85" fill="#F3EDEE" stroke="none" stroke-width="0" />
<rect x="431.10" y="512.95" width="7.50" height="4.85" fill="#F3EEF0" stroke="none" stroke-width="0" />
<rect x="431.10" y="518.20" width="7.50" height="4.85" fill="#F3EFF2" stroke="none" stroke-width="0" />
<text x="429.5" y="386.625" font-size="6.58" text-anchor="end" font-weight="normal" font-style="italic" fill="#000" >CCL2</text>
<text x="429.5" y="391.875" font-size="6.58" text-anchor="end" font-weight="normal" font-style="italic" fill="#000" >TGFB1</text>
<text x="429.5" y="397.125" font-size="6.58" text-anchor="end" font-weight="normal" font-style="italic" fill="#000" >CCL3</text>
<text x="429.5" y="402.375" font-size="6.58" text-anchor="end" font-weight="normal" font-style="italic" fill="#000" >ANXA1</text>
<text x="429.5" y="407.625" font-size="6.58" text-anchor="end" font-weight="normal" font-style="italic" fill="#000" >HLA.C</text>
<text x="429.5" y="412.875" font-size="6.58" text-anchor="end" font-weight="normal" font-style="italic" fill="#000" >CD82</text>
<text x="429.5" y="418.125" font-size="6.58" text-anchor="end" font-weight="normal" font-style="italic" fill="#000" >TIMP1</text>
<text x="429.5" y="423.375" font-size="6.58" text-anchor="end" font-weight="normal" font-style="italic" fill="#000" >CXCL12</text>
<text x="429.5" y="428.625" font-size="6.58" text-anchor="end" font-weight="normal" font-style="italic" fill="#000" >CFH</text>
<text x="429.5" y="433.875" font-size="6.58" text-anchor="end" font-weight="normal" font-style="italic" fill="#000" >HSPG2</text>
<text x="429.5" y="439.125" font-size="6.58" text-anchor="end" font-weight="normal" font-style="italic" fill="#000" >NCAM1</text>
<text x="429.5" y="444.375" font-size="6.58" text-anchor="end" font-weight="normal" font-style="italic" fill="#000" >BGN</text>
<text x="429.5" y="449.625" font-size="6.58" text-anchor="end" font-weight="normal" font-style="italic" fill="#000" >LGALS3</text>
<text x="429.5" y="454.875" font-size="6.58" text-anchor="end" font-weight="normal" font-style="italic" fill="#000" >MMP1</text>
<text x="429.5" y="460.125" font-size="6.58" text-anchor="end" font-weight="normal" font-style="italic" fill="#000" >DCN</text>
<text x="429.5" y="465.375" font-size="6.58" text-anchor="end" font-weight="normal" font-style="italic" fill="#000" >COL18A1</text>
<text x="429.5" y="470.625" font-size="6.58" text-anchor="end" font-weight="normal" font-style="italic" fill="#000" >PGF</text>
<text x="429.5" y="475.875" font-size="6.58" text-anchor="end" font-weight="normal" font-style="italic" fill="#000" >L1CAM</text>
<text x="429.5" y="481.125" font-size="6.58" text-anchor="end" font-weight="normal" font-style="italic" fill="#000" >TFPI</text>
<text x="429.5" y="486.375" font-size="6.58" text-anchor="end" font-weight="normal" font-style="italic" fill="#000" >LUM</text>
<text x="429.5" y="491.625" font-size="6.58" text-anchor="end" font-weight="normal" font-style="italic" fill="#000" >APOE</text>
<text x="429.5" y="496.875" font-size="6.58" text-anchor="end" font-weight="normal" font-style="italic" fill="#000" >ANXA2</text>
<text x="429.5" y="502.125" font-size="6.58" text-anchor="end" font-weight="normal" font-style="italic" fill="#000" >PROS1</text>
<text x="429.5" y="507.375" font-size="6.58" text-anchor="end" font-weight="normal" font-style="italic" fill="#000" >COL3A1</text>
<text x="429.5" y="512.625" font-size="6.58" text-anchor="end" font-weight="normal" font-style="italic" fill="#000" >MMP14</text>
<text x="429.5" y="517.875" font-size="6.58" text-anchor="end" font-weight="normal" font-style="italic" fill="#000" >ICAM1</text>
<text x="429.5" y="523.125" font-size="6.58" text-anchor="end" font-weight="normal" font-style="italic" fill="#000" >FN1</text>
<text x="448.61" y="379.9" font-size="7.15" text-anchor="start" font-weight="normal" font-style="italic" fill="#ee1c1c" transform="rotate(-90 448.61 379.9)" >IL1A</text>
<text x="456.64" y="379.9" font-size="7.15" text-anchor="start" font-weight="normal" font-style="italic" fill="#ee1c1c" transform="rotate(-90 456.64 379.9)" >IL1B</text>
<text x="464.67" y="379.9" font-size="7.15" text-anchor="start" font-weight="normal" font-style="italic" fill="#000" transform="rotate(-90 464.67 379.9)" >IL1RN</text>
<text x="472.70" y="379.9" font-size="7.15" text-anchor="start" font-weight="normal" font-style="italic" fill="#ee1c1c" transform="rotate(-90 472.70 379.9)" >IL6</text>
<text x="480.73" y="379.9" font-size="7.15" text-anchor="start" font-weight="normal" font-style="italic" fill="#000" transform="rotate(-90 480.73 379.9)" >GADD45B</text>
<text x="488.76" y="379.9" font-size="7.15" text-anchor="start" font-weight="normal" font-style="italic" fill="#000" transform="rotate(-90 488.76 379.9)" >JUNB</text>
<text x="496.79" y="379.9" font-size="7.15" text-anchor="start" font-weight="normal" font-style="italic" fill="#000" transform="rotate(-90 496.79 379.9)" >PLAUR</text>
<text x="504.82" y="379.9" font-size="7.15" text-anchor="start" font-weight="normal" font-style="italic" fill="#000" transform="rotate(-90 504.82 379.9)" >SPHK1</text>
<text x="512.86" y="379.9" font-size="7.15" text-anchor="start" font-weight="normal" font-style="italic" fill="#000" transform="rotate(-90 512.86 379.9)" >TGFBI</text>
<text x="520.88" y="379.9" font-size="7.15" text-anchor="start" font-weight="normal" font-style="italic" fill="#000" transform="rotate(-90 520.88 379.9)" >THBS1</text>
<text x="528.91" y="379.9" font-size="7.15" text-anchor="start" font-weight="normal" font-style="italic" fill="#000" transform="rotate(-90 528.91 379.9)" >EGR1</text>
<text x="536.94" y="379.9" font-size="7.15" text-anchor="start" font-weight="normal" font-style="italic" fill="#000" transform="rotate(-90 536.94 379.9)" >JUN</text>
<text x="544.97" y="379.9" font-size="7.15" text-anchor="start" font-weight="normal" font-style="italic" fill="#000" transform="rotate(-90 544.97 379.9)" >VIM</text>
<text x="553.00" y="379.9" font-size="7.15" text-anchor="start" font-weight="normal" font-style="italic" fill="#000" transform="rotate(-90 553.00 379.9)" >CXCL2</text>
<text x="561.03" y="379.9" font-size="7.15" text-anchor="start" font-weight="normal" font-style="italic" fill="#000" transform="rotate(-90 561.03 379.9)" >MMP9</text>
<text x="569.06" y="379.9" font-size="7.15" text-anchor="start" font-weight="normal" font-style="italic" fill="#000" transform="rotate(-90 569.06 379.9)" >IRF7</text>
<text x="577.09" y="379.9" font-size="7.15" text-anchor="start" font-weight="normal" font-style="italic" fill="#000" transform="rotate(-90 577.09 379.9)" >HES1</text>
<text x="585.12" y="379.9" font-size="7.15" text-anchor="start" font-weight="normal" font-style="italic" fill="#000" transform="rotate(-90 585.12 379.9)" >TIMP1</text>
<text x="593.15" y="379.9" font-size="7.15" text-anchor="start" font-weight="normal" font-style="italic" fill="#000" transform="rotate(-90 593.15 379.9)" >CD44</text>
<text x="601.18" y="379.9" font-size="7.15" text-anchor="start" font-weight="normal" font-style="italic" fill="#000" transform="rotate(-90 601.18 379.9)" >DUSP4</text>
<text x="609.21" y="379.9" font-size="7.15" text-anchor="start" font-weight="normal" font-style="italic" fill="#000" transform="rotate(-90 609.21 379.9)" >EMP1</text>
<text x="617.24" y="379.9" font-size="7.15" text-anchor="start" font-weight="normal" font-style="italic" fill="#000" transform="rotate(-90 617.24 379.9)" >MT2A</text>
<text x="625.27" y="379.9" font-size="7.15" text-anchor="start" font-weight="normal" font-style="italic" fill="#000" transform="rotate(-90 625.27 379.9)" >SH3BGRL3</text>
<text x="633.30" y="379.9" font-size="7.15" text-anchor="start" font-weight="normal" font-style="italic" fill="#000" transform="rotate(-90 633.30 379.9)" >ARPC5</text>
<text x="641.33" y="379.9" font-size="7.15" text-anchor="start" font-weight="normal" font-style="italic" fill="#000" transform="rotate(-90 641.33 379.9)" >ASAH1</text>
<text x="649.36" y="379.9" font-size="7.15" text-anchor="start" font-weight="normal" font-style="italic" fill="#000" transform="rotate(-90 649.36 379.9)" >GLUL</text>
<text x="657.39" y="379.9" font-size="7.15" text-anchor="start" font-weight="normal" font-style="italic" fill="#000" transform="rotate(-90 657.39 379.9)" >LAMP1</text>
<text x="665.42" y="379.9" font-size="7.15" text-anchor="start" font-weight="normal" font-style="italic" fill="#000" transform="rotate(-90 665.42 379.9)" >PILRA</text>
<text x="673.45" y="379.9" font-size="7.15" text-anchor="start" font-weight="normal" font-style="italic" fill="#000" transform="rotate(-90 673.45 379.9)" >CIB1</text>
<text x="681.48" y="379.9" font-size="7.15" text-anchor="start" font-weight="normal" font-style="italic" fill="#ee1c1c" transform="rotate(-90 681.48 379.9)" >HLA.DQA1</text>
<defs><linearGradient id="og" x1="0" x2="1"><stop offset="0" stop-color="#FDE6D2"/><stop offset="1" stop-color="#F7901E"/></linearGradient><linearGradient id="pg" x1="0" x2="1"><stop offset="0" stop-color="#f4f2f6"/><stop offset="0.5" stop-color="#c9a0ee"/><stop offset="1" stop-color="#8b2ee0"/></linearGradient></defs>
<text x="436.5" y="532.5" font-size="6.68" text-anchor="start" font-weight="normal" font-style="normal" fill="#000" >Target gene prediction ability</text>
<rect x="525.50" y="526.50" width="26.00" height="7.50" fill="url(#og)" stroke="none" stroke-width="0" />
<text x="529" y="540" font-size="6.9" text-anchor="middle" font-weight="normal" font-style="normal" fill="#000" >0.075</text>
<text x="548" y="540" font-size="6.9" text-anchor="middle" font-weight="normal" font-style="normal" fill="#000" >0.1</text>
<text x="571" y="532.5" font-size="6.52" text-anchor="start" font-weight="normal" font-style="normal" fill="#000" >Regulatory potential</text>
<rect x="632.00" y="526.50" width="26.00" height="7.50" fill="url(#pg)" stroke="none" stroke-width="0" />
<text x="634" y="540" font-size="6.9" text-anchor="middle" font-weight="normal" font-style="normal" fill="#000" >0</text>
<text x="649.5" y="540" font-size="6.9" text-anchor="middle" font-weight="normal" font-style="normal" fill="#000" >0.2</text>
<text x="0" y="531.5" font-size="15.5" text-anchor="start" font-weight="bold" font-style="normal" fill="#000" >H</text>
<text x="52" y="545.8" font-size="8.1" text-anchor="middle" font-weight="normal" font-style="normal" fill="#000" >Tumor tissues</text>
<text x="119.1" y="545.8" font-size="8.1" text-anchor="middle" font-weight="normal" font-style="normal" fill="#000" >THP-1</text>
<defs><radialGradient id="tg48"><stop offset="0.35" stop-color="#F08080" stop-opacity="1"/><stop offset="0.7" stop-color="#F6A8A8" stop-opacity="0.6"/><stop offset="1" stop-color="#F8B8B8" stop-opacity="0"/></radialGradient></defs>
<ellipse cx="48.8" cy="561.6999999999999" rx="15.0" ry="12.0" fill="url(#tg48)"/>
<polygon points="55.7,560.9 54.9,563.2 52.9,565.0 50.2,565.8 47.5,565.3 44.6,565.1 42.3,563.4 42.7,560.9 43.2,558.8 44.8,557.0 47.3,555.9 50.4,555.3 52.7,557.1 54.0,558.9" fill="#B5453C" stroke="#A83A34" stroke-width="0.5" stroke-linejoin="round"/>
<ellipse cx="116.2" cy="565.7" rx="18.9" ry="11.0" fill="#E3F2FA" stroke="#8FB3C9" stroke-width="0.6"/>
<ellipse cx="116.2" cy="563.3" rx="17.3" ry="9.8" fill="#CFE7F4" stroke="#A9CADD" stroke-width="0.4"/>
<ellipse cx="116.2" cy="561.7" rx="18.9" ry="11.0" fill="none" stroke="#8FB3C9" stroke-width="0.6"/>
<circle cx="128.55" cy="561.53" r="1.00" fill="#F5B06A" stroke="none" stroke-width="0" />
<circle cx="119.80" cy="564.25" r="1.00" fill="#F5B06A" stroke="none" stroke-width="0" />
<circle cx="121.99" cy="558.04" r="1.00" fill="#F5B06A" stroke="none" stroke-width="0" />
<circle cx="112.66" cy="559.90" r="1.00" fill="#F5B06A" stroke="none" stroke-width="0" />
<circle cx="108.12" cy="559.94" r="1.00" fill="#F5B06A" stroke="none" stroke-width="0" />
<circle cx="111.62" cy="562.06" r="1.00" fill="#F5B06A" stroke="none" stroke-width="0" />
<circle cx="108.70" cy="565.46" r="1.00" fill="#F5B06A" stroke="none" stroke-width="0" />
<circle cx="113.98" cy="556.22" r="1.00" fill="#F5B06A" stroke="none" stroke-width="0" />
<circle cx="125.44" cy="561.79" r="1.00" fill="#F5B06A" stroke="none" stroke-width="0" />
<circle cx="109.78" cy="564.80" r="1.00" fill="#F5B06A" stroke="none" stroke-width="0" />
<circle cx="118.33" cy="563.77" r="1.00" fill="#F5B06A" stroke="none" stroke-width="0" />
<circle cx="108.94" cy="564.41" r="1.00" fill="#F5B06A" stroke="none" stroke-width="0" />
<circle cx="107.12" cy="568.29" r="1.00" fill="#F5B06A" stroke="none" stroke-width="0" />
<line x1="49.2" y1="580.2" x2="49.2" y2="593.5" stroke="#111" stroke-width="0.6" />
<polygon points="49.2,594.3 48.2,591.9 50.2,591.9" fill="#111"/>
<text x="55.4" y="584.2" font-size="6.8" text-anchor="start" font-weight="normal" font-style="normal" fill="#000" >Flow cytometry</text>
<text x="55.4" y="590.4" font-size="6.8" text-anchor="start" font-weight="normal" font-style="normal" fill="#000" >sorting</text>
<path d="M36.6 601.2V595.1H62.7V601.2" fill="none" stroke="#111" stroke-width="0.6"/>
<path d="M27.6 611.5 C30.5 609.5 31.5 608 31.8 606 C31 603.5 30 601.5 29.2 599.4 C31.5 601.5 33 603.5 35 604.5 C38 604.3 41 603 44.6 602.2 C42 604.5 40 605.5 39.3 607 C40.5 608.5 42.5 609.5 44.5 610.3 C41.5 610.4 38.5 610 36.5 610.2 C33.5 611.5 31 613.5 27.6 611.5Z" fill="#DBA63C" stroke="#C08E28" stroke-width="0.4"/>
<circle cx="34.60" cy="607.00" r="1.50" fill="#B27F18" stroke="none" stroke-width="0" />
<path d="M54.6 607.2 C58 606.8 60 606 62 604.2 C64 603.8 66.5 604 68.5 605 C71 605.8 73 606 75.2 606.2 C73 607 71 607.3 69.3 608 C70.5 608.8 72 609.3 73.2 610 C70 610 67.5 609.3 65.5 609.2 C62.5 610 60 610.3 57 610 C58.8 609.2 60 608.6 60.3 608 C58.5 607.6 56.5 607.5 54.6 607.2Z" fill="#E0DCF5" stroke="#B9B0E6" stroke-width="0.4"/>
<ellipse cx="64.8" cy="606.8" rx="2.2" ry="1.1" fill="#C9C1EE"/>
<text x="27.7" y="622.7" font-size="8.1" text-anchor="middle" font-weight="normal" font-style="normal" fill="#000" >apCAFs</text>
<text x="46.8" y="622.7" font-size="8.1">MHC II<tspan dy="-3" font-size="5">-</tspan><tspan dy="3"> CAFs</tspan></text>
<path d="M36.6 625.7V630.8H62.7V625.7" fill="none" stroke="#111" stroke-width="0.6"/>
<line x1="55.5" y1="634.9" x2="77.5" y2="649.1" stroke="#111" stroke-width="0.6" />
<polygon points="78.2,649.5 75.6,649.0 76.7,647.4" fill="#111"/>
<text x="121.4" y="589.6" font-size="6.9" text-anchor="start" font-weight="normal" font-style="normal" fill="#000" >+PMA</text>
<line x1="116.3" y1="583.8" x2="116.3" y2="595.5" stroke="#111" stroke-width="0.6" />
<polygon points="116.3,596.3 115.3,593.9 117.3,593.9" fill="#111"/>
<ellipse cx="116.2" cy="613.7" rx="18.9" ry="12.0" fill="#E3F2FA" stroke="#8FB3C9" stroke-width="0.6"/>
<ellipse cx="116.2" cy="611.3" rx="17.3" ry="10.8" fill="#CFE7F4" stroke="#A9CADD" stroke-width="0.4"/>
<ellipse cx="116.2" cy="609.7" rx="18.9" ry="12.0" fill="none" stroke="#8FB3C9" stroke-width="0.6"/>
<circle cx="116.93" cy="617.52" r="1.15" fill="#F06A6A" stroke="none" stroke-width="0" />
<circle cx="109.19" cy="616.14" r="1.15" fill="#F06A6A" stroke="none" stroke-width="0" />
<circle cx="113.82" cy="610.01" r="1.15" fill="#F06A6A" stroke="none" stroke-width="0" />
<circle cx="128.22" cy="612.12" r="1.15" fill="#F06A6A" stroke="none" stroke-width="0" />
<circle cx="115.83" cy="615.46" r="1.15" fill="#F06A6A" stroke="none" stroke-width="0" />
<circle cx="125.24" cy="611.35" r="1.15" fill="#F06A6A" stroke="none" stroke-width="0" />
<circle cx="120.90" cy="606.66" r="1.15" fill="#F06A6A" stroke="none" stroke-width="0" />
<circle cx="112.92" cy="609.06" r="1.15" fill="#F06A6A" stroke="none" stroke-width="0" />
<circle cx="108.07" cy="605.78" r="1.15" fill="#F06A6A" stroke="none" stroke-width="0" />
<circle cx="104.97" cy="610.48" r="1.15" fill="#F06A6A" stroke="none" stroke-width="0" />
<circle cx="114.62" cy="609.68" r="1.15" fill="#F06A6A" stroke="none" stroke-width="0" />
<circle cx="116.72" cy="605.21" r="1.15" fill="#F06A6A" stroke="none" stroke-width="0" />
<circle cx="115.47" cy="612.87" r="1.15" fill="#F06A6A" stroke="none" stroke-width="0" />
<circle cx="122.22" cy="607.29" r="1.15" fill="#F06A6A" stroke="none" stroke-width="0" />
<circle cx="113.79" cy="603.97" r="1.15" fill="#F06A6A" stroke="none" stroke-width="0" />
<text x="117.1" y="633.9" font-size="8.05" text-anchor="middle" font-weight="normal" font-style="normal" fill="#000" >Macrophages</text>
<line x1="112.4" y1="637.2" x2="91.2" y2="649.1" stroke="#111" stroke-width="0.6" />
<polygon points="90.5,649.5 92.1,647.5 93.1,649.2" fill="#111"/>
<ellipse cx="84.2" cy="668.5" rx="20.6" ry="12.5" fill="#E3F2FA" stroke="#8FB3C9" stroke-width="0.6"/>
<ellipse cx="84.2" cy="666.1" rx="19.0" ry="11.3" fill="#CFE7F4" stroke="#A9CADD" stroke-width="0.4"/>
<ellipse cx="84.2" cy="664.5" rx="20.6" ry="12.5" fill="none" stroke="#8FB3C9" stroke-width="0.6"/>
<circle cx="75.25" cy="661.14" r="1.10" fill="#F06A6A" stroke="none" stroke-width="0" />
<circle cx="88.15" cy="658.30" r="1.10" fill="#F06A6A" stroke="none" stroke-width="0" />
<circle cx="83.32" cy="658.08" r="1.10" fill="#F06A6A" stroke="none" stroke-width="0" />
<circle cx="93.94" cy="667.36" r="1.10" fill="#E6B040" stroke="none" stroke-width="0" />
<circle cx="95.16" cy="663.89" r="1.10" fill="#F06A6A" stroke="none" stroke-width="0" />
<circle cx="88.17" cy="664.62" r="1.10" fill="#F06A6A" stroke="none" stroke-width="0" />
<circle cx="77.13" cy="667.12" r="1.10" fill="#F06A6A" stroke="none" stroke-width="0" />
<circle cx="73.62" cy="664.54" r="1.10" fill="#E6B040" stroke="none" stroke-width="0" />
<circle cx="90.93" cy="666.63" r="1.10" fill="#F06A6A" stroke="none" stroke-width="0" />
<circle cx="81.64" cy="674.37" r="1.10" fill="#F06A6A" stroke="none" stroke-width="0" />
<circle cx="84.77" cy="662.89" r="1.10" fill="#F06A6A" stroke="none" stroke-width="0" />
<circle cx="85.78" cy="663.24" r="1.10" fill="#E6B040" stroke="none" stroke-width="0" />
<circle cx="80.38" cy="664.25" r="1.10" fill="#F06A6A" stroke="none" stroke-width="0" />
<circle cx="97.74" cy="666.39" r="1.10" fill="#F06A6A" stroke="none" stroke-width="0" />
<circle cx="85.90" cy="670.15" r="1.10" fill="#F06A6A" stroke="none" stroke-width="0" />
<circle cx="97.67" cy="665.42" r="1.10" fill="#E6B040" stroke="none" stroke-width="0" />
<circle cx="80.72" cy="674.46" r="1.10" fill="#F06A6A" stroke="none" stroke-width="0" />
<circle cx="72.62" cy="664.58" r="1.10" fill="#F06A6A" stroke="none" stroke-width="0" />
<circle cx="88.15" cy="674.29" r="1.10" fill="#F06A6A" stroke="none" stroke-width="0" />
<circle cx="79.00" cy="658.44" r="1.10" fill="#E6B040" stroke="none" stroke-width="0" />
<circle cx="90.43" cy="663.40" r="1.10" fill="#F06A6A" stroke="none" stroke-width="0" />
<circle cx="80.40" cy="668.98" r="1.10" fill="#F06A6A" stroke="none" stroke-width="0" />
<circle cx="86.46" cy="668.04" r="1.10" fill="#F06A6A" stroke="none" stroke-width="0" />
<circle cx="80.63" cy="672.62" r="1.10" fill="#E6B040" stroke="none" stroke-width="0" />
<text x="85.5" y="693.6" font-size="8.1" text-anchor="middle" font-weight="normal" font-style="normal" fill="#000" >Co-culture for 48h</text>
<text x="180.7" y="526.9" font-size="15.5" text-anchor="start" font-weight="bold" font-style="normal" fill="#000" >I</text>
<rect x="215.30" y="553.10" width="10.12" height="10.30" fill="#8C8C8C" stroke="#2a2a2a" stroke-width="0.6" />
<rect x="225.42" y="553.10" width="10.12" height="10.30" fill="#8C8C8C" stroke="#2a2a2a" stroke-width="0.6" />
<rect x="235.54" y="553.10" width="10.12" height="10.30" fill="#8C8C8C" stroke="#2a2a2a" stroke-width="0.6" />
<rect x="245.66" y="553.10" width="10.12" height="10.30" fill="#FAD44A" stroke="#2a2a2a" stroke-width="0.6" />
<rect x="255.78" y="553.10" width="10.12" height="10.30" fill="#FAD44A" stroke="#2a2a2a" stroke-width="0.6" />
<rect x="265.90" y="553.10" width="10.12" height="10.30" fill="#FAD44A" stroke="#2a2a2a" stroke-width="0.6" />
<rect x="276.02" y="553.10" width="10.12" height="10.30" fill="#1F5F99" stroke="#2a2a2a" stroke-width="0.6" />
<rect x="286.14" y="553.10" width="10.12" height="10.30" fill="#1F5F99" stroke="#2a2a2a" stroke-width="0.6" />
<rect x="296.26" y="553.10" width="10.12" height="10.30" fill="#1F5F99" stroke="#2a2a2a" stroke-width="0.6" />
<rect x="215.30" y="564.80" width="10.12" height="8.78" fill="#a6cee4" stroke="#fff" stroke-width="0.5" />
<rect x="225.42" y="564.80" width="10.12" height="8.78" fill="#fcf7c4" stroke="#fff" stroke-width="0.5" />
<rect x="235.54" y="564.80" width="10.12" height="8.78" fill="#fdf2b7" stroke="#fff" stroke-width="0.5" />
<rect x="245.66" y="564.80" width="10.12" height="8.78" fill="#93c1dd" stroke="#fff" stroke-width="0.5" />
<rect x="255.78" y="564.80" width="10.12" height="8.78" fill="#9cc7e0" stroke="#fff" stroke-width="0.5" />
<rect x="265.90" y="564.80" width="10.12" height="8.78" fill="#89bbd9" stroke="#fff" stroke-width="0.5" />
<rect x="276.02" y="564.80" width="10.12" height="8.78" fill="#fdcb7f" stroke="#fff" stroke-width="0.5" />
<rect x="286.14" y="564.80" width="10.12" height="8.78" fill="#e14630" stroke="#fff" stroke-width="0.5" />
<rect x="296.26" y="564.80" width="10.12" height="8.78" fill="#fee79e" stroke="#fff" stroke-width="0.5" />
<text x="308.7" y="571.9899999999999" font-size="7.87" text-anchor="start" font-weight="normal" font-style="italic" fill="#000" >CD80</text>
<rect x="215.30" y="573.58" width="10.12" height="8.78" fill="#89bbd9" stroke="#fff" stroke-width="0.5" />
<rect x="225.42" y="573.58" width="10.12" height="8.78" fill="#daecf2" stroke="#fff" stroke-width="0.5" />
<rect x="235.54" y="573.58" width="10.12" height="8.78" fill="#9cc7e0" stroke="#fff" stroke-width="0.5" />
<rect x="245.66" y="573.58" width="10.12" height="8.78" fill="#c6e1ee" stroke="#fff" stroke-width="0.5" />
<rect x="255.78" y="573.58" width="10.12" height="8.78" fill="#c6e1ee" stroke="#fff" stroke-width="0.5" />
<rect x="265.90" y="573.58" width="10.12" height="8.78" fill="#c6e1ee" stroke="#fff" stroke-width="0.5" />
<rect x="276.02" y="573.58" width="10.12" height="8.78" fill="#fba861" stroke="#fff" stroke-width="0.5" />
<rect x="286.14" y="573.58" width="10.12" height="8.78" fill="#e65034" stroke="#fff" stroke-width="0.5" />
<rect x="296.26" y="573.58" width="10.12" height="8.78" fill="#fede94" stroke="#fff" stroke-width="0.5" />
<text x="308.7" y="580.7699999999999" font-size="7.87" text-anchor="start" font-weight="normal" font-style="italic" fill="#000" >CD86</text>
<rect x="215.30" y="582.36" width="10.12" height="8.78" fill="#c6e1ee" stroke="#fff" stroke-width="0.5" />
<rect x="225.42" y="582.36" width="10.12" height="8.78" fill="#b1d4e7" stroke="#fff" stroke-width="0.5" />
<rect x="235.54" y="582.36" width="10.12" height="8.78" fill="#bcdaea" stroke="#fff" stroke-width="0.5" />
<rect x="245.66" y="582.36" width="10.12" height="8.78" fill="#b1d4e7" stroke="#fff" stroke-width="0.5" />
<rect x="255.78" y="582.36" width="10.12" height="8.78" fill="#b1d4e7" stroke="#fff" stroke-width="0.5" />
<rect x="265.90" y="582.36" width="10.12" height="8.78" fill="#bcdaea" stroke="#fff" stroke-width="0.5" />
<rect x="276.02" y="582.36" width="10.12" height="8.78" fill="#fba861" stroke="#fff" stroke-width="0.5" />
<rect x="286.14" y="582.36" width="10.12" height="8.78" fill="#f88e51" stroke="#fff" stroke-width="0.5" />
<rect x="296.26" y="582.36" width="10.12" height="8.78" fill="#fa9b58" stroke="#fff" stroke-width="0.5" />
<text x="308.7" y="589.5499999999998" font-size="7.87" text-anchor="start" font-weight="normal" font-style="italic" fill="#000" >CXCL9</text>
<rect x="215.30" y="591.14" width="10.12" height="8.78" fill="#c6e1ee" stroke="#fff" stroke-width="0.5" />
<rect x="225.42" y="591.14" width="10.12" height="8.78" fill="#b1d4e7" stroke="#fff" stroke-width="0.5" />
<rect x="235.54" y="591.14" width="10.12" height="8.78" fill="#bcdaea" stroke="#fff" stroke-width="0.5" />
<rect x="245.66" y="591.14" width="10.12" height="8.78" fill="#a6cee4" stroke="#fff" stroke-width="0.5" />
<rect x="255.78" y="591.14" width="10.12" height="8.78" fill="#a6cee4" stroke="#fff" stroke-width="0.5" />
<rect x="265.90" y="591.14" width="10.12" height="8.78" fill="#b1d4e7" stroke="#fff" stroke-width="0.5" />
<rect x="276.02" y="591.14" width="10.12" height="8.78" fill="#f88e51" stroke="#fff" stroke-width="0.5" />
<rect x="286.14" y="591.14" width="10.12" height="8.78" fill="#fa9b58" stroke="#fff" stroke-width="0.5" />
<rect x="296.26" y="591.14" width="10.12" height="8.78" fill="#f88e51" stroke="#fff" stroke-width="0.5" />
<text x="308.7" y="598.3299999999999" font-size="7.87" text-anchor="start" font-weight="normal" font-style="italic" fill="#000" >CXCL10</text>
<rect x="215.30" y="599.92" width="10.12" height="8.78" fill="#c6e1ee" stroke="#fff" stroke-width="0.5" />
<rect x="225.42" y="599.92" width="10.12" height="8.78" fill="#bcdaea" stroke="#fff" stroke-width="0.5" />
<rect x="235.54" y="599.92" width="10.12" height="8.78" fill="#c6e1ee" stroke="#fff" stroke-width="0.5" />
<rect x="245.66" y="599.92" width="10.12" height="8.78" fill="#a6cee4" stroke="#fff" stroke-width="0.5" />
<rect x="255.78" y="599.92" width="10.12" height="8.78" fill="#9cc7e0" stroke="#fff" stroke-width="0.5" />
<rect x="265.90" y="599.92" width="10.12" height="8.78" fill="#9cc7e0" stroke="#fff" stroke-width="0.5" />
<rect x="276.02" y="599.92" width="10.12" height="8.78" fill="#f88e51" stroke="#fff" stroke-width="0.5" />
<rect x="286.14" y="599.92" width="10.12" height="8.78" fill="#fba861" stroke="#fff" stroke-width="0.5" />
<rect x="296.26" y="599.92" width="10.12" height="8.78" fill="#f88e51" stroke="#fff" stroke-width="0.5" />
<text x="308.7" y="607.1099999999999" font-size="7.87" text-anchor="start" font-weight="normal" font-style="italic" fill="#000" >CXCL11</text>
<rect x="215.30" y="608.70" width="10.12" height="8.78" fill="#b1d4e7" stroke="#fff" stroke-width="0.5" />
<rect x="225.42" y="608.70" width="10.12" height="8.78" fill="#a6cee4" stroke="#fff" stroke-width="0.5" />
<rect x="235.54" y="608.70" width="10.12" height="8.78" fill="#bcdaea" stroke="#fff" stroke-width="0.5" />
<rect x="245.66" y="608.70" width="10.12" height="8.78" fill="#b1d4e7" stroke="#fff" stroke-width="0.5" />
<rect x="255.78" y="608.70" width="10.12" height="8.78" fill="#bcdaea" stroke="#fff" stroke-width="0.5" />
<rect x="265.90" y="608.70" width="10.12" height="8.78" fill="#bcdaea" stroke="#fff" stroke-width="0.5" />
<rect x="276.02" y="608.70" width="10.12" height="8.78" fill="#fba861" stroke="#fff" stroke-width="0.5" />
<rect x="286.14" y="608.70" width="10.12" height="8.78" fill="#fa9b58" stroke="#fff" stroke-width="0.5" />
<rect x="296.26" y="608.70" width="10.12" height="8.78" fill="#fa9b58" stroke="#fff" stroke-width="0.5" />
<text x="308.7" y="615.8899999999999" font-size="7.87" text-anchor="start" font-weight="normal" font-style="italic" fill="#000" >IL1A</text>
<rect x="215.30" y="617.48" width="10.12" height="8.78" fill="#c6e1ee" stroke="#fff" stroke-width="0.5" />
<rect x="225.42" y="617.48" width="10.12" height="8.78" fill="#c6e1ee" stroke="#fff" stroke-width="0.5" />
<rect x="235.54" y="617.48" width="10.12" height="8.78" fill="#bcdaea" stroke="#fff" stroke-width="0.5" />
<rect x="245.66" y="617.48" width="10.12" height="8.78" fill="#9cc7e0" stroke="#fff" stroke-width="0.5" />
<rect x="255.78" y="617.48" width="10.12" height="8.78" fill="#9cc7e0" stroke="#fff" stroke-width="0.5" />
<rect x="265.90" y="617.48" width="10.12" height="8.78" fill="#a6cee4" stroke="#fff" stroke-width="0.5" />
<rect x="276.02" y="617.48" width="10.12" height="8.78" fill="#fba861" stroke="#fff" stroke-width="0.5" />
<rect x="286.14" y="617.48" width="10.12" height="8.78" fill="#fa9b58" stroke="#fff" stroke-width="0.5" />
<rect x="296.26" y="617.48" width="10.12" height="8.78" fill="#fa9b58" stroke="#fff" stroke-width="0.5" />
<text x="308.7" y="624.6699999999998" font-size="7.87" text-anchor="start" font-weight="normal" font-style="italic" fill="#000" >IL1B</text>
<rect x="215.30" y="626.26" width="10.12" height="8.78" fill="#a6cee4" stroke="#fff" stroke-width="0.5" />
<rect x="225.42" y="626.26" width="10.12" height="8.78" fill="#a6cee4" stroke="#fff" stroke-width="0.5" />
<rect x="235.54" y="626.26" width="10.12" height="8.78" fill="#c6e1ee" stroke="#fff" stroke-width="0.5" />
<rect x="245.66" y="626.26" width="10.12" height="8.78" fill="#b1d4e7" stroke="#fff" stroke-width="0.5" />
<rect x="255.78" y="626.26" width="10.12" height="8.78" fill="#b1d4e7" stroke="#fff" stroke-width="0.5" />
<rect x="265.90" y="626.26" width="10.12" height="8.78" fill="#a6cee4" stroke="#fff" stroke-width="0.5" />
<rect x="276.02" y="626.26" width="10.12" height="8.78" fill="#fba861" stroke="#fff" stroke-width="0.5" />
<rect x="286.14" y="626.26" width="10.12" height="8.78" fill="#f88e51" stroke="#fff" stroke-width="0.5" />
<rect x="296.26" y="626.26" width="10.12" height="8.78" fill="#fa9b58" stroke="#fff" stroke-width="0.5" />
<text x="308.7" y="633.4499999999999" font-size="7.87" text-anchor="start" font-weight="normal" font-style="italic" fill="#000" >IL6</text>
<rect x="215.30" y="635.04" width="10.12" height="8.78" fill="#b1d4e7" stroke="#fff" stroke-width="0.5" />
<rect x="225.42" y="635.04" width="10.12" height="8.78" fill="#c6e1ee" stroke="#fff" stroke-width="0.5" />
<rect x="235.54" y="635.04" width="10.12" height="8.78" fill="#c6e1ee" stroke="#fff" stroke-width="0.5" />
<rect x="245.66" y="635.04" width="10.12" height="8.78" fill="#b1d4e7" stroke="#fff" stroke-width="0.5" />
<rect x="255.78" y="635.04" width="10.12" height="8.78" fill="#a6cee4" stroke="#fff" stroke-width="0.5" />
<rect x="265.90" y="635.04" width="10.12" height="8.78" fill="#a6cee4" stroke="#fff" stroke-width="0.5" />
<rect x="276.02" y="635.04" width="10.12" height="8.78" fill="#fa9b58" stroke="#fff" stroke-width="0.5" />
<rect x="286.14" y="635.04" width="10.12" height="8.78" fill="#fa9b58" stroke="#fff" stroke-width="0.5" />
<rect x="296.26" y="635.04" width="10.12" height="8.78" fill="#fa9b58" stroke="#fff" stroke-width="0.5" />
<text x="308.7" y="642.2299999999999" font-size="7.87" text-anchor="start" font-weight="normal" font-style="italic" fill="#000" >IRF1</text>
<rect x="215.30" y="643.82" width="10.12" height="8.78" fill="#d0e7f0" stroke="#fff" stroke-width="0.5" />
<rect x="225.42" y="643.82" width="10.12" height="8.78" fill="#daecf2" stroke="#fff" stroke-width="0.5" />
<rect x="235.54" y="643.82" width="10.12" height="8.78" fill="#daecf2" stroke="#fff" stroke-width="0.5" />
<rect x="245.66" y="643.82" width="10.12" height="8.78" fill="#93c1dd" stroke="#fff" stroke-width="0.5" />
<rect x="255.78" y="643.82" width="10.12" height="8.78" fill="#93c1dd" stroke="#fff" stroke-width="0.5" />
<rect x="265.90" y="643.82" width="10.12" height="8.78" fill="#9cc7e0" stroke="#fff" stroke-width="0.5" />
<rect x="276.02" y="643.82" width="10.12" height="8.78" fill="#fa9b58" stroke="#fff" stroke-width="0.5" />
<rect x="286.14" y="643.82" width="10.12" height="8.78" fill="#fa9b58" stroke="#fff" stroke-width="0.5" />
<rect x="296.26" y="643.82" width="10.12" height="8.78" fill="#fba861" stroke="#fff" stroke-width="0.5" />
<text x="308.7" y="651.0099999999999" font-size="7.87" text-anchor="start" font-weight="normal" font-style="italic" fill="#000" >HLA−DRA</text>
<rect x="215.30" y="652.60" width="10.12" height="8.78" fill="#c6e1ee" stroke="#fff" stroke-width="0.5" />
<rect x="225.42" y="652.60" width="10.12" height="8.78" fill="#a6cee4" stroke="#fff" stroke-width="0.5" />
<rect x="235.54" y="652.60" width="10.12" height="8.78" fill="#c6e1ee" stroke="#fff" stroke-width="0.5" />
<rect x="245.66" y="652.60" width="10.12" height="8.78" fill="#dc3b2b" stroke="#fff" stroke-width="0.5" />
<rect x="255.78" y="652.60" width="10.12" height="8.78" fill="#fede94" stroke="#fff" stroke-width="0.5" />
<rect x="265.90" y="652.60" width="10.12" height="8.78" fill="#fdc274" stroke="#fff" stroke-width="0.5" />
<rect x="276.02" y="652.60" width="10.12" height="8.78" fill="#a6cee4" stroke="#fff" stroke-width="0.5" />
<rect x="286.14" y="652.60" width="10.12" height="8.78" fill="#89bbd9" stroke="#fff" stroke-width="0.5" />
<rect x="296.26" y="652.60" width="10.12" height="8.78" fill="#d0e7f0" stroke="#fff" stroke-width="0.5" />
<text x="308.7" y="659.7899999999998" font-size="7.87" text-anchor="start" font-weight="normal" font-style="italic" fill="#000" >CCL13</text>
<rect x="215.30" y="661.38" width="10.12" height="8.78" fill="#fede94" stroke="#fff" stroke-width="0.5" />
<rect x="225.42" y="661.38" width="10.12" height="8.78" fill="#89bbd9" stroke="#fff" stroke-width="0.5" />
<rect x="235.54" y="661.38" width="10.12" height="8.78" fill="#f5804a" stroke="#fff" stroke-width="0.5" />
<rect x="245.66" y="661.38" width="10.12" height="8.78" fill="#fede94" stroke="#fff" stroke-width="0.5" />
<rect x="255.78" y="661.38" width="10.12" height="8.78" fill="#fede94" stroke="#fff" stroke-width="0.5" />
<rect x="265.90" y="661.38" width="10.12" height="8.78" fill="#fed489" stroke="#fff" stroke-width="0.5" />
<rect x="276.02" y="661.38" width="10.12" height="8.78" fill="#89bbd9" stroke="#fff" stroke-width="0.5" />
<rect x="286.14" y="661.38" width="10.12" height="8.78" fill="#93c1dd" stroke="#fff" stroke-width="0.5" />
<rect x="296.26" y="661.38" width="10.12" height="8.78" fill="#9cc7e0" stroke="#fff" stroke-width="0.5" />
<text x="308.7" y="668.5699999999999" font-size="7.87" text-anchor="start" font-weight="normal" font-style="italic" fill="#000" >CCL18</text>
<rect x="215.30" y="670.16" width="10.12" height="8.78" fill="#daecf2" stroke="#fff" stroke-width="0.5" />
<rect x="225.42" y="670.16" width="10.12" height="8.78" fill="#c6e1ee" stroke="#fff" stroke-width="0.5" />
<rect x="235.54" y="670.16" width="10.12" height="8.78" fill="#e4f2f4" stroke="#fff" stroke-width="0.5" />
<rect x="245.66" y="670.16" width="10.12" height="8.78" fill="#fcb56b" stroke="#fff" stroke-width="0.5" />
<rect x="255.78" y="670.16" width="10.12" height="8.78" fill="#f88e51" stroke="#fff" stroke-width="0.5" />
<rect x="265.90" y="670.16" width="10.12" height="8.78" fill="#fdc274" stroke="#fff" stroke-width="0.5" />
<rect x="276.02" y="670.16" width="10.12" height="8.78" fill="#93c1dd" stroke="#fff" stroke-width="0.5" />
<rect x="286.14" y="670.16" width="10.12" height="8.78" fill="#9cc7e0" stroke="#fff" stroke-width="0.5" />
<rect x="296.26" y="670.16" width="10.12" height="8.78" fill="#93c1dd" stroke="#fff" stroke-width="0.5" />
<text x="308.7" y="677.3499999999999" font-size="7.87" text-anchor="start" font-weight="normal" font-style="italic" fill="#000" >CD276</text>
<rect x="215.30" y="678.94" width="10.12" height="8.78" fill="#fdf2b7" stroke="#fff" stroke-width="0.5" />
<rect x="225.42" y="678.94" width="10.12" height="8.78" fill="#fede94" stroke="#fff" stroke-width="0.5" />
<rect x="235.54" y="678.94" width="10.12" height="8.78" fill="#fcf7c4" stroke="#fff" stroke-width="0.5" />
<rect x="245.66" y="678.94" width="10.12" height="8.78" fill="#fed489" stroke="#fff" stroke-width="0.5" />
<rect x="255.78" y="678.94" width="10.12" height="8.78" fill="#fdc274" stroke="#fff" stroke-width="0.5" />
<rect x="265.90" y="678.94" width="10.12" height="8.78" fill="#fdcb7f" stroke="#fff" stroke-width="0.5" />
<rect x="276.02" y="678.94" width="10.12" height="8.78" fill="#689fca" stroke="#fff" stroke-width="0.5" />
<rect x="286.14" y="678.94" width="10.12" height="8.78" fill="#6fa7ce" stroke="#fff" stroke-width="0.5" />
<rect x="296.26" y="678.94" width="10.12" height="8.78" fill="#77afd2" stroke="#fff" stroke-width="0.5" />
<text x="308.7" y="686.1299999999999" font-size="7.87" text-anchor="start" font-weight="normal" font-style="italic" fill="#000" >MMP9</text>
<rect x="215.30" y="687.72" width="10.12" height="8.78" fill="#f0f7e2" stroke="#fff" stroke-width="0.5" />
<rect x="225.42" y="687.72" width="10.12" height="8.78" fill="#fdf2b7" stroke="#fff" stroke-width="0.5" />
<rect x="235.54" y="687.72" width="10.12" height="8.78" fill="#fee79e" stroke="#fff" stroke-width="0.5" />
<rect x="245.66" y="687.72" width="10.12" height="8.78" fill="#fede94" stroke="#fff" stroke-width="0.5" />
<rect x="255.78" y="687.72" width="10.12" height="8.78" fill="#fdcb7f" stroke="#fff" stroke-width="0.5" />
<rect x="265.90" y="687.72" width="10.12" height="8.78" fill="#fba861" stroke="#fff" stroke-width="0.5" />
<rect x="276.02" y="687.72" width="10.12" height="8.78" fill="#77afd2" stroke="#fff" stroke-width="0.5" />
<rect x="286.14" y="687.72" width="10.12" height="8.78" fill="#77afd2" stroke="#fff" stroke-width="0.5" />
<rect x="296.26" y="687.72" width="10.12" height="8.78" fill="#689fca" stroke="#fff" stroke-width="0.5" />
<text x="308.7" y="694.9099999999999" font-size="7.87" text-anchor="start" font-weight="normal" font-style="italic" fill="#000" >MSR1</text>
<rect x="215.30" y="696.50" width="10.12" height="8.78" fill="#d0e7f0" stroke="#fff" stroke-width="0.5" />
<rect x="225.42" y="696.50" width="10.12" height="8.78" fill="#fcf7c4" stroke="#fff" stroke-width="0.5" />
<rect x="235.54" y="696.50" width="10.12" height="8.78" fill="#daecf2" stroke="#fff" stroke-width="0.5" />
<rect x="245.66" y="696.50" width="10.12" height="8.78" fill="#fa9b58" stroke="#fff" stroke-width="0.5" />
<rect x="255.78" y="696.50" width="10.12" height="8.78" fill="#f0663d" stroke="#fff" stroke-width="0.5" />
<rect x="265.90" y="696.50" width="10.12" height="8.78" fill="#fdf2b7" stroke="#fff" stroke-width="0.5" />
<rect x="276.02" y="696.50" width="10.12" height="8.78" fill="#93c1dd" stroke="#fff" stroke-width="0.5" />
<rect x="286.14" y="696.50" width="10.12" height="8.78" fill="#93c1dd" stroke="#fff" stroke-width="0.5" />
<rect x="296.26" y="696.50" width="10.12" height="8.78" fill="#a6cee4" stroke="#fff" stroke-width="0.5" />
<text x="308.7" y="703.6899999999999" font-size="7.87" text-anchor="start" font-weight="normal" font-style="italic" fill="#000" >TGFB1</text>
<rect x="215.30" y="705.28" width="10.12" height="8.78" fill="#fcf7c4" stroke="#fff" stroke-width="0.5" />
<rect x="225.42" y="705.28" width="10.12" height="8.78" fill="#f0f7e2" stroke="#fff" stroke-width="0.5" />
<rect x="235.54" y="705.28" width="10.12" height="8.78" fill="#fcf7c4" stroke="#fff" stroke-width="0.5" />
<rect x="245.66" y="705.28" width="10.12" height="8.78" fill="#fdc274" stroke="#fff" stroke-width="0.5" />
<rect x="255.78" y="705.28" width="10.12" height="8.78" fill="#fdcb7f" stroke="#fff" stroke-width="0.5" />
<rect x="265.90" y="705.28" width="10.12" height="8.78" fill="#fdc274" stroke="#fff" stroke-width="0.5" />
<rect x="276.02" y="705.28" width="10.12" height="8.78" fill="#80b5d6" stroke="#fff" stroke-width="0.5" />
<rect x="286.14" y="705.28" width="10.12" height="8.78" fill="#93c1dd" stroke="#fff" stroke-width="0.5" />
<rect x="296.26" y="705.28" width="10.12" height="8.78" fill="#689fca" stroke="#fff" stroke-width="0.5" />
<text x="308.7" y="712.4699999999999" font-size="7.87" text-anchor="start" font-weight="normal" font-style="italic" fill="#000" >SPP1</text>
<rect x="215.30" y="714.06" width="10.12" height="8.78" fill="#bcdaea" stroke="#fff" stroke-width="0.5" />
<rect x="225.42" y="714.06" width="10.12" height="8.78" fill="#f0f7e2" stroke="#fff" stroke-width="0.5" />
<rect x="235.54" y="714.06" width="10.12" height="8.78" fill="#f0f7e2" stroke="#fff" stroke-width="0.5" />
<rect x="245.66" y="714.06" width="10.12" height="8.78" fill="#fdc274" stroke="#fff" stroke-width="0.5" />
<rect x="255.78" y="714.06" width="10.12" height="8.78" fill="#fdcb7f" stroke="#fff" stroke-width="0.5" />
<rect x="265.90" y="714.06" width="10.12" height="8.78" fill="#f88e51" stroke="#fff" stroke-width="0.5" />
<rect x="276.02" y="714.06" width="10.12" height="8.78" fill="#93c1dd" stroke="#fff" stroke-width="0.5" />
<rect x="286.14" y="714.06" width="10.12" height="8.78" fill="#a6cee4" stroke="#fff" stroke-width="0.5" />
<rect x="296.26" y="714.06" width="10.12" height="8.78" fill="#93c1dd" stroke="#fff" stroke-width="0.5" />
<text x="308.7" y="721.2499999999999" font-size="7.87" text-anchor="start" font-weight="normal" font-style="italic" fill="#000" >CD163</text>
<rect x="215.30" y="722.84" width="10.12" height="8.78" fill="#fee79e" stroke="#fff" stroke-width="0.5" />
<rect x="225.42" y="722.84" width="10.12" height="8.78" fill="#fed489" stroke="#fff" stroke-width="0.5" />
<rect x="235.54" y="722.84" width="10.12" height="8.78" fill="#fdc274" stroke="#fff" stroke-width="0.5" />
<rect x="245.66" y="722.84" width="10.12" height="8.78" fill="#fee79e" stroke="#fff" stroke-width="0.5" />
<rect x="255.78" y="722.84" width="10.12" height="8.78" fill="#feecaa" stroke="#fff" stroke-width="0.5" />
<rect x="265.90" y="722.84" width="10.12" height="8.78" fill="#f0f7e2" stroke="#fff" stroke-width="0.5" />
<rect x="276.02" y="722.84" width="10.12" height="8.78" fill="#5386bd" stroke="#fff" stroke-width="0.5" />
<rect x="286.14" y="722.84" width="10.12" height="8.78" fill="#89bbd9" stroke="#fff" stroke-width="0.5" />
<rect x="296.26" y="722.84" width="10.12" height="8.78" fill="#89bbd9" stroke="#fff" stroke-width="0.5" />
<text x="308.7" y="730.0299999999999" font-size="7.87" text-anchor="start" font-weight="normal" font-style="italic" fill="#000" >TREM2</text>
<rect x="215.30" y="731.62" width="10.12" height="8.78" fill="#9cc7e0" stroke="#fff" stroke-width="0.5" />
<rect x="225.42" y="731.62" width="10.12" height="8.78" fill="#9cc7e0" stroke="#fff" stroke-width="0.5" />
<rect x="235.54" y="731.62" width="10.12" height="8.78" fill="#fede94" stroke="#fff" stroke-width="0.5" />
<rect x="245.66" y="731.62" width="10.12" height="8.78" fill="#a6cee4" stroke="#fff" stroke-width="0.5" />
<rect x="255.78" y="731.62" width="10.12" height="8.78" fill="#f0663d" stroke="#fff" stroke-width="0.5" />
<rect x="265.90" y="731.62" width="10.12" height="8.78" fill="#fa9b58" stroke="#fff" stroke-width="0.5" />
<rect x="276.02" y="731.62" width="10.12" height="8.78" fill="#e4f2f4" stroke="#fff" stroke-width="0.5" />
<rect x="286.14" y="731.62" width="10.12" height="8.78" fill="#a6cee4" stroke="#fff" stroke-width="0.5" />
<rect x="296.26" y="731.62" width="10.12" height="8.78" fill="#daecf2" stroke="#fff" stroke-width="0.5" />
<text x="308.7" y="738.8099999999998" font-size="7.87" text-anchor="start" font-weight="normal" font-style="italic" fill="#000" >MRC1</text>
<text x="228.5" y="551.1" font-size="8.7" text-anchor="start" font-weight="normal" font-style="normal" fill="#000" transform="rotate(-45 228.5 551.1)" >Con</text>
<text x="256" y="552" font-size="8.7" text-anchor="start" font-weight="normal" font-style="normal" fill="#000" transform="rotate(-45 256 552)" >MHC II- CAFs</text>
<text x="288" y="552" font-size="8.7" text-anchor="start" font-weight="normal" font-style="normal" fill="#000" transform="rotate(-45 288 552)" >apCAFs</text>
<defs><linearGradient id="rybg" x1="0" y1="1" x2="0" y2="0"><stop offset="0.000" stop-color="#4575B4"/><stop offset="0.167" stop-color="#74ADD1"/><stop offset="0.275" stop-color="#9CC7E0"/><stop offset="0.375" stop-color="#C6E1EE"/><stop offset="0.450" stop-color="#E4F2F4"/><stop offset="0.500" stop-color="#FCFCD0"/><stop offset="0.600" stop-color="#FEE79E"/><stop offset="0.700" stop-color="#FDC274"/><stop offset="0.775" stop-color="#FA9B58"/><stop offset="0.875" stop-color="#F0663D"/><stop offset="1.000" stop-color="#D73027"/></linearGradient></defs>
<rect x="358.00" y="622.80" width="8.40" height="42.00" fill="url(#rybg)" stroke="none" stroke-width="0" />
<line x1="366.4" y1="625.2" x2="367.4" y2="625.2" stroke="#444" stroke-width="0.4" />
<text x="368.3" y="627.6" font-size="6.8" text-anchor="start" font-weight="normal" font-style="normal" fill="#000" >2</text>
<line x1="366.4" y1="634.9" x2="367.4" y2="634.9" stroke="#444" stroke-width="0.4" />
<text x="368.3" y="637.3" font-size="6.8" text-anchor="start" font-weight="normal" font-style="normal" fill="#000" >1</text>
<line x1="366.4" y1="644.7" x2="367.4" y2="644.7" stroke="#444" stroke-width="0.4" />
<text x="368.3" y="647.1" font-size="6.8" text-anchor="start" font-weight="normal" font-style="normal" fill="#000" >0</text>
<line x1="366.4" y1="654.1" x2="367.4" y2="654.1" stroke="#444" stroke-width="0.4" />
<text x="368.3" y="656.5" font-size="6.8" text-anchor="start" font-weight="normal" font-style="normal" fill="#000" >−1</text>
<line x1="366.4" y1="663.5" x2="367.4" y2="663.5" stroke="#444" stroke-width="0.4" />
<text x="368.3" y="665.9" font-size="6.8" text-anchor="start" font-weight="normal" font-style="normal" fill="#000" >−2</text>
<text x="419.8" y="574.7" font-size="15.5" text-anchor="start" font-weight="bold" font-style="normal" fill="#000" >J</text>
<text x="497.5" y="573.7" font-size="8.1" text-anchor="middle">CD86<tspan dy="-3" font-size="5.5">+</tspan><tspan dy="3"> cells</tspan></text>
<rect x="480.10" y="646.90" width="9.00" height="45.50" fill="#fff" stroke="#111" stroke-width="1.5" />
<rect x="496.80" y="613.50" width="9.10" height="78.90" fill="#fff" stroke="#1B4F72" stroke-width="1.5" />
<rect x="513.40" y="661.80" width="9.00" height="30.60" fill="#fff" stroke="#9C7A2E" stroke-width="1.5" />
<line x1="484.6" y1="643.5" x2="484.6" y2="650.3" stroke="#111" stroke-width="0.7" />
<line x1="482.20000000000005" y1="643.5" x2="487.0" y2="643.5" stroke="#111" stroke-width="0.7" />
<line x1="482.20000000000005" y1="650.3" x2="487.0" y2="650.3" stroke="#111" stroke-width="0.7" />
<line x1="501.4" y1="603.9" x2="501.4" y2="622.3" stroke="#1B4F72" stroke-width="0.7" />
<line x1="499.0" y1="603.9" x2="503.79999999999995" y2="603.9" stroke="#1B4F72" stroke-width="0.7" />
<line x1="499.0" y1="622.3" x2="503.79999999999995" y2="622.3" stroke="#1B4F72" stroke-width="0.7" />
<line x1="517.9" y1="656.0" x2="517.9" y2="667.3" stroke="#9C7A2E" stroke-width="0.7" />
<line x1="515.5" y1="656.0" x2="520.3" y2="656.0" stroke="#9C7A2E" stroke-width="0.7" />
<line x1="515.5" y1="667.3" x2="520.3" y2="667.3" stroke="#9C7A2E" stroke-width="0.7" />
<circle cx="484.60" cy="636.60" r="2.15" fill="#161616" stroke="none" stroke-width="0" />
<circle cx="480.90" cy="646.90" r="2.15" fill="#161616" stroke="none" stroke-width="0" />
<circle cx="487.70" cy="643.80" r="2.15" fill="#161616" stroke="none" stroke-width="0" />
<circle cx="481.50" cy="650.90" r="2.15" fill="#161616" stroke="none" stroke-width="0" />
<circle cx="487.30" cy="648.90" r="2.15" fill="#161616" stroke="none" stroke-width="0" />
<rect x="496.00" y="602.00" width="3.80" height="3.80" fill="#1F6FA8" stroke="none" stroke-width="0" />
<rect x="502.50" y="600.60" width="3.80" height="3.80" fill="#1F6FA8" stroke="none" stroke-width="0" />
<rect x="496.00" y="616.30" width="3.80" height="3.80" fill="#1F6FA8" stroke="none" stroke-width="0" />
<rect x="502.50" y="618.40" width="3.80" height="3.80" fill="#1F6FA8" stroke="none" stroke-width="0" />
<rect x="496.40" y="621.50" width="3.80" height="3.80" fill="#1F6FA8" stroke="none" stroke-width="0" />
<polygon points="517.9,652.5 520.4,655.0 517.9,657.5 515.4,655.0" fill="#FAC832"/>
<polygon points="514.6,657.2 517.1,659.7 514.6,662.2 512.1,659.7" fill="#FAC832"/>
<polygon points="521.0,658.1 523.5,660.6 521.0,663.1 518.5,660.6" fill="#FAC832"/>
<polygon points="517.9,660.7 520.4,663.2 517.9,665.7 515.4,663.2" fill="#FAC832"/>
<polygon points="517.9,663.8 520.4,666.3 517.9,668.8 515.4,666.3" fill="#FAC832"/>
<line x1="473.8" y1="590.6" x2="473.8" y2="692.9" stroke="#000" stroke-width="1.0" />
<line x1="473.3" y1="692.4" x2="529.6" y2="692.4" stroke="#000" stroke-width="1.0" />
<line x1="469.3" y1="692.4" x2="473.8" y2="692.4" stroke="#000" stroke-width="1.0" />
<text x="467.8" y="694.9" font-size="7.0" text-anchor="end" font-weight="normal" font-style="normal" fill="#000" >0</text>
<line x1="469.3" y1="658.6333333333333" x2="473.8" y2="658.6333333333333" stroke="#000" stroke-width="1.0" />
<text x="467.8" y="661.1333333333333" font-size="7.0" text-anchor="end" font-weight="normal" font-style="normal" fill="#000" >10</text>
<line x1="469.3" y1="624.8666666666667" x2="473.8" y2="624.8666666666667" stroke="#000" stroke-width="1.0" />
<text x="467.8" y="627.3666666666667" font-size="7.0" text-anchor="end" font-weight="normal" font-style="normal" fill="#000" >20</text>
<line x1="469.3" y1="591.1" x2="473.8" y2="591.1" stroke="#000" stroke-width="1.0" />
<text x="467.8" y="593.6" font-size="7.0" text-anchor="end" font-weight="normal" font-style="normal" fill="#000" >30</text>
<line x1="484.6" y1="692.4" x2="484.6" y2="696.5" stroke="#000" stroke-width="1.0" />
<line x1="501.4" y1="692.4" x2="501.4" y2="696.5" stroke="#000" stroke-width="1.0" />
<line x1="517.9" y1="692.4" x2="517.9" y2="696.5" stroke="#000" stroke-width="1.0" />
<path d="M481.5 596.8V590.7H496.9V596.8" fill="none" stroke="#111" stroke-width="0.9"/>
<path d="M503.0 596.8V590.7H517.9V596.8" fill="none" stroke="#111" stroke-width="0.9"/>
<text x="486.4" y="587.6" font-size="7.1" text-anchor="middle" font-weight="normal" font-style="normal" fill="#000" >&lt; 0.001</text>
<text x="515.6" y="587.6" font-size="7.1" text-anchor="middle" font-weight="normal" font-style="normal" fill="#000" >&lt; 0.001</text>
<text x="456.6" y="642" font-size="8.14" text-anchor="middle" font-weight="normal" font-style="normal" fill="#000" transform="rotate(-90 456.6 642)" >% of macrophages</text>
<text transform="translate(487.3 702.5) rotate(-45)" font-size="7.8" text-anchor="end">Con</text>
<text transform="translate(505.3 701.5) rotate(-45)" font-size="7.8" text-anchor="end">apCAFs</text>
<text transform="translate(522.8 702.5) rotate(-45)" font-size="7.8" text-anchor="end">MHC II<tspan dy="-2.6" font-size="5">-</tspan><tspan dy="2.6"> CAFs</tspan></text>
<text x="605.3" y="573.7" font-size="8.1" text-anchor="middle">MHC II<tspan dy="-3" font-size="5.5">+</tspan><tspan dy="3"> cells</tspan></text>
<rect x="585.00" y="641.70" width="9.10" height="50.70" fill="#fff" stroke="#111" stroke-width="1.5" />
<rect x="601.80" y="621.30" width="9.00" height="71.10" fill="#fff" stroke="#1B4F72" stroke-width="1.5" />
<rect x="618.80" y="642.80" width="9.00" height="49.60" fill="#fff" stroke="#9C7A2E" stroke-width="1.5" />
<line x1="589.6" y1="638.3" x2="589.6" y2="645.3" stroke="#111" stroke-width="0.7" />
<line x1="587.2" y1="638.3" x2="592.0" y2="638.3" stroke="#111" stroke-width="0.7" />
<line x1="587.2" y1="645.3" x2="592.0" y2="645.3" stroke="#111" stroke-width="0.7" />
<line x1="606.3" y1="614.2" x2="606.3" y2="629.0" stroke="#1B4F72" stroke-width="0.7" />
<line x1="603.9" y1="614.2" x2="608.6999999999999" y2="614.2" stroke="#1B4F72" stroke-width="0.7" />
<line x1="603.9" y1="629.0" x2="608.6999999999999" y2="629.0" stroke="#1B4F72" stroke-width="0.7" />
<line x1="623.3" y1="633.2" x2="623.3" y2="651.0" stroke="#9C7A2E" stroke-width="0.7" />
<line x1="620.9" y1="633.2" x2="625.6999999999999" y2="633.2" stroke="#9C7A2E" stroke-width="0.7" />
<line x1="620.9" y1="651.0" x2="625.6999999999999" y2="651.0" stroke="#9C7A2E" stroke-width="0.7" />
<circle cx="586.50" cy="634.00" r="2.15" fill="#161616" stroke="none" stroke-width="0" />
<circle cx="593.60" cy="637.70" r="2.15" fill="#161616" stroke="none" stroke-width="0" />
<circle cx="586.50" cy="641.70" r="2.15" fill="#161616" stroke="none" stroke-width="0" />
<circle cx="593.00" cy="643.40" r="2.15" fill="#161616" stroke="none" stroke-width="0" />
<circle cx="586.50" cy="647.90" r="2.15" fill="#161616" stroke="none" stroke-width="0" />
<rect x="604.40" y="607.10" width="3.80" height="3.80" fill="#1F6FA8" stroke="none" stroke-width="0" />
<rect x="608.10" y="619.40" width="3.80" height="3.80" fill="#1F6FA8" stroke="none" stroke-width="0" />
<rect x="601.30" y="623.10" width="3.80" height="3.80" fill="#1F6FA8" stroke="none" stroke-width="0" />
<rect x="604.40" y="624.50" width="3.80" height="3.80" fill="#1F6FA8" stroke="none" stroke-width="0" />
<rect x="608.10" y="623.90" width="3.80" height="3.80" fill="#1F6FA8" stroke="none" stroke-width="0" />
<circle cx="623.30" cy="629.50" r="2.15" fill="#FAD050" stroke="none" stroke-width="0" />
<circle cx="623.30" cy="638.70" r="2.15" fill="#FAD050" stroke="none" stroke-width="0" />
<circle cx="620.20" cy="648.30" r="2.15" fill="#FAD050" stroke="none" stroke-width="0" />
<circle cx="626.30" cy="647.90" r="2.15" fill="#FAD050" stroke="none" stroke-width="0" />
<circle cx="623.30" cy="644.80" r="2.15" fill="#FAD050" stroke="none" stroke-width="0" />
<line x1="578.7" y1="590.6" x2="578.7" y2="692.9" stroke="#000" stroke-width="1.0" />
<line x1="578.2" y1="692.4" x2="634.5" y2="692.4" stroke="#000" stroke-width="1.0" />
<line x1="574.2" y1="692.4" x2="578.7" y2="692.4" stroke="#000" stroke-width="1.0" />
<text x="573.2" y="694.9" font-size="7.0" text-anchor="end" font-weight="normal" font-style="normal" fill="#000" >0</text>
<line x1="574.2" y1="658.6333333333333" x2="578.7" y2="658.6333333333333" stroke="#000" stroke-width="1.0" />
<text x="573.2" y="661.1333333333333" font-size="7.0" text-anchor="end" font-weight="normal" font-style="normal" fill="#000" >10</text>
<line x1="574.2" y1="624.8666666666667" x2="578.7" y2="624.8666666666667" stroke="#000" stroke-width="1.0" />
<text x="573.2" y="627.3666666666667" font-size="7.0" text-anchor="end" font-weight="normal" font-style="normal" fill="#000" >20</text>
<line x1="574.2" y1="591.1" x2="578.7" y2="591.1" stroke="#000" stroke-width="1.0" />
<text x="573.2" y="593.6" font-size="7.0" text-anchor="end" font-weight="normal" font-style="normal" fill="#000" >30</text>
<line x1="589.6" y1="692.4" x2="589.6" y2="696.5" stroke="#000" stroke-width="1.0" />
<line x1="606.3" y1="692.4" x2="606.3" y2="696.5" stroke="#000" stroke-width="1.0" />
<line x1="623.3" y1="692.4" x2="623.3" y2="696.5" stroke="#000" stroke-width="1.0" />
<path d="M585.5 602.9V597.2H602.2V602.9" fill="none" stroke="#111" stroke-width="0.9"/>
<path d="M607.9 602.9V597.2H624.7V602.9" fill="none" stroke="#111" stroke-width="0.9"/>
<text x="593" y="594.3" font-size="7.2" text-anchor="middle" font-weight="normal" font-style="normal" fill="#000" >0.002</text>
<text x="616.5" y="594.3" font-size="7.2" text-anchor="middle" font-weight="normal" font-style="normal" fill="#000" >0.002</text>
<text x="563" y="642" font-size="8.14" text-anchor="middle" font-weight="normal" font-style="normal" fill="#000" transform="rotate(-90 563 642)" >% of macrophages</text>
<text transform="translate(592.6 702.5) rotate(-45)" font-size="7.8" text-anchor="end">Con</text>
<text transform="translate(610.5 701.5) rotate(-45)" font-size="7.8" text-anchor="end">apCAFs</text>
<text transform="translate(628.0 702.5) rotate(-45)" font-size="7.8" text-anchor="end">MHC II<tspan dy="-2.6" font-size="5">-</tspan><tspan dy="2.6"> CAFs</tspan></text>
<text x="0" y="765.5" font-size="15.5" text-anchor="start" font-weight="bold" font-style="normal" fill="#000" >K</text>
<text x="82.8" y="783.6" font-size="10.3" text-anchor="middle" font-weight="normal" font-style="normal" fill="#000" >CellChat</text>
<path d="M104.3 808.1 Q120 821 134 845.4" fill="none" stroke="#8DB6DC" stroke-width="2.7" stroke-linecap="round"/>
<path d="M56 868.5 Q92 848.5 134 845.4" fill="none" stroke="#C79EDB" stroke-width="3.4" stroke-linecap="round"/>
<path d="M56 822.2 Q103 825 134 845.4" fill="none" stroke="#8ED08E" stroke-width="3.9" stroke-linecap="round"/>
<circle cx="104.30" cy="808.10" r="1.70" fill="#3C86C8" stroke="none" stroke-width="0" />
<circle cx="56.00" cy="822.20" r="1.60" fill="#3FAE45" stroke="none" stroke-width="0" />
<circle cx="56.00" cy="868.50" r="1.60" fill="#9A4FB5" stroke="none" stroke-width="0" />
<circle cx="134.00" cy="845.40" r="1.70" fill="#E8202A" stroke="none" stroke-width="0" />
<text x="101.2" y="803.3" font-size="8.1" text-anchor="middle" font-weight="normal" font-style="normal" fill="#000" >M0-TAM</text>
<text x="19.7" y="817.3" font-size="8.04" text-anchor="start" font-weight="normal" font-style="normal" fill="#000" >Pro-inflam Macro</text>
<text x="18.9" y="881.1" font-size="8.1" text-anchor="start" font-weight="normal" font-style="normal" fill="#000" >Anti-inflam Macro</text>
<text x="126.9" y="856.1" font-size="8.0" text-anchor="start" font-weight="normal" font-style="normal" fill="#000" >apCAFs</text>
<text x="125.6" y="832.2" font-size="7.2" text-anchor="middle" font-weight="normal" font-style="normal" fill="#000" >10</text>
<text x="104" y="835.6" font-size="7.2" text-anchor="middle" font-weight="normal" font-style="normal" fill="#000" >16</text>
<text x="104" y="851.9" font-size="7.2" text-anchor="middle" font-weight="normal" font-style="normal" fill="#000" >13</text>
<text x="90.6" y="905.3" font-size="8.5" text-anchor="middle" font-weight="normal" font-style="normal" fill="#000" >Interaction activity from</text>
<text x="93" y="915" font-size="8.5" text-anchor="middle" font-weight="normal" font-style="normal" fill="#000" >macrophages subsets to apCAFs</text>
<text x="190" y="775.2" font-size="15.5" text-anchor="start" font-weight="bold" font-style="normal" fill="#000" >L</text>
<text x="268" y="779.7" font-size="10.2" text-anchor="middle" font-weight="normal" font-style="normal" fill="#000" >CellCall</text>
<path d="M244.14 796.15A55.4 55.4 0 0 1 326.39 843.63" fill="none" stroke="#1A9E80" stroke-width="2.6"/>
<path d="M326.39 845.57A55.4 55.4 0 0 1 244.14 893.05" fill="none" stroke="#E31A1C" stroke-width="2.6"/>
<path d="M242.47 892.09A55.4 55.4 0 0 1 242.47 797.11" fill="none" stroke="#1F78B4" stroke-width="2.6"/>
<path d="M248.88 805.18A45.2 45.2 0 0 1 292.22 804.69" fill="none" stroke="#F07F7F" stroke-width="1.5"/>
<path d="M292.71 804.95A45.2 45.2 0 0 1 316.20 844.05" fill="none" stroke="#9DC0EE" stroke-width="1.5"/>
<path d="M316.20 845.15A45.2 45.2 0 0 1 293.94 883.55" fill="none" stroke="#F07F7F" stroke-width="1.5"/>
<path d="M293.26 883.94A45.2 45.2 0 0 1 248.88 884.02" fill="none" stroke="#9DC0EE" stroke-width="1.5"/>
<path d="M247.92 883.47A45.2 45.2 0 0 1 225.80 845.15" fill="none" stroke="#F07F7F" stroke-width="1.5"/>
<path d="M225.80 844.05A45.2 45.2 0 0 1 247.92 805.73" fill="none" stroke="#9DC0EE" stroke-width="1.5"/>
<path d="M277.2 800.6A44.400000000000006 44.400000000000006 0 0 1 291.8 805.4Q276.6 842.6 292.9 883.2A44.400000000000006 44.400000000000006 0 0 1 279.5 888.2Q273.8 842.6 277.2 800.6Z" fill="#1A9E80"/>
<path d="M277.6 888.5L271.4 891.4L264.8 888.6Q266.0 852.6 228.7 858.0A44.400000000000006 44.400000000000006 0 0 1 226.6 846.5Q274.0 839.6 277.6 888.5Z" fill="#CDD9EB"/>
<path d="M314.3 834.6A44.400000000000006 44.400000000000006 0 0 1 314.0 855.6Q301.0 856.6 290.0 847.1Q287.5 844.6 290.0 842.6Q298.0 834.6 308.0 830.6Q312.0 830.1 314.3 834.6Z" fill="#F4836F"/>
<line x1="302.0" y1="844.7" x2="316.0" y2="844.7" stroke="#fbd5cc" stroke-width="0.4" />
<text x="282.3" y="815" font-size="7.0" text-anchor="middle" font-weight="normal" font-style="normal" fill="#000" >1.0</text>
<text x="236" y="854.5" font-size="7.0" text-anchor="middle" font-weight="normal" font-style="normal" fill="#000" >0.2</text>
<text x="306" y="853" font-size="7.0" text-anchor="middle" font-weight="normal" font-style="normal" fill="#000" >0.4</text>
<text transform="translate(299 790.5) rotate(39)" font-size="7.2">apCAFs</text>
<text x="210.8" y="841.7" font-size="7.0" text-anchor="middle" font-weight="normal" font-style="normal" fill="#000" transform="rotate(-90 210.8 841.7)" >MHC II- CAFs</text>
<text transform="translate(286 915.5) rotate(-40)" font-size="7.2">Pro-inflam Macro</text>
<text x="339.8" y="839" font-size="6.69" text-anchor="middle" font-weight="normal" font-style="normal" fill="#000" transform="rotate(-90 339.8 839)" >Communications score</text>
<defs><linearGradient id="lg1" x1="0" y1="0" x2="0" y2="1"><stop offset="0" stop-color="#E8392E"/><stop offset="1" stop-color="#FDE4DE"/></linearGradient><linearGradient id="lg2" x1="0" y1="0" x2="0" y2="1"><stop offset="0" stop-color="#2B6CB5"/><stop offset="1" stop-color="#E6EEF8"/></linearGradient><linearGradient id="lg3" x1="0" y1="0" x2="0" y2="1"><stop offset="0" stop-color="#1A9E80"/><stop offset="1" stop-color="#E4F4EE"/></linearGradient></defs>
<rect x="343.40" y="808.80" width="4.80" height="18.20" fill="url(#lg1)" stroke="none" stroke-width="0" />
<text x="354.5" y="812.3" font-size="6.3" text-anchor="middle" font-weight="normal" font-style="normal" fill="#000" transform="rotate(-90 354.5 812.3)" >1</text>
<text x="354.5" y="824.5" font-size="6.3" text-anchor="middle" font-weight="normal" font-style="normal" fill="#000" transform="rotate(-90 354.5 824.5)" >0</text>
<rect x="343.40" y="831.70" width="4.80" height="15.30" fill="url(#lg2)" stroke="none" stroke-width="0" />
<text x="354.5" y="835.2" font-size="6.3" text-anchor="middle" font-weight="normal" font-style="normal" fill="#000" transform="rotate(-90 354.5 835.2)" >1</text>
<text x="354.5" y="844.5" font-size="6.3" text-anchor="middle" font-weight="normal" font-style="normal" fill="#000" transform="rotate(-90 354.5 844.5)" >0</text>
<rect x="343.40" y="856.70" width="4.80" height="15.70" fill="url(#lg3)" stroke="none" stroke-width="0" />
<text x="354.5" y="860.2" font-size="6.3" text-anchor="middle" font-weight="normal" font-style="normal" fill="#000" transform="rotate(-90 354.5 860.2)" >1</text>
<text x="354.5" y="869.9" font-size="6.3" text-anchor="middle" font-weight="normal" font-style="normal" fill="#000" transform="rotate(-90 354.5 869.9)" >0</text>
<circle cx="327.10" cy="889.50" r="1.10" fill="#F07F7F" stroke="none" stroke-width="0" />
<text x="331.9" y="891.6" font-size="6.6" text-anchor="start" font-weight="normal" font-style="normal" fill="#000" >Ligand</text>
<circle cx="327.10" cy="897.40" r="1.10" fill="#9DC0EE" stroke="none" stroke-width="0" />
<text x="331.9" y="899.7" font-size="6.6" text-anchor="start" font-weight="normal" font-style="normal" fill="#000" >Receptor</text>
<text x="376.7" y="768" font-size="15.5" text-anchor="start" font-weight="bold" font-style="normal" fill="#000" >M</text>
<text x="435" y="774.7" font-size="7.85" text-anchor="middle" font-weight="normal" font-style="normal" fill="#000" >Tumor tissues</text>
<text x="494.2" y="774.7" font-size="7.85" text-anchor="middle" font-weight="normal" font-style="normal" fill="#000" >THP-1</text>
<defs><radialGradient id="tg426"><stop offset="0.35" stop-color="#F08080" stop-opacity="1"/><stop offset="0.7" stop-color="#F6A8A8" stop-opacity="0.6"/><stop offset="1" stop-color="#F8B8B8" stop-opacity="0"/></radialGradient></defs>
<ellipse cx="426.1" cy="790.3" rx="14.25" ry="11.399999999999999" fill="url(#tg426)"/>
<polygon points="432.6,789.5 431.9,791.7 430.0,793.4 427.5,794.2 424.9,793.7 422.1,793.5 419.9,791.8 420.3,789.5 420.8,787.5 422.3,785.8 424.7,784.7 427.6,784.2 429.8,785.9 431.0,787.6" fill="#B5453C" stroke="#A83A34" stroke-width="0.5" stroke-linejoin="round"/>
<ellipse cx="493.5" cy="789.4" rx="13.8" ry="6.2" fill="#E3F2FA" stroke="#8FB3C9" stroke-width="0.6"/>
<ellipse cx="493.5" cy="787.0" rx="12.2" ry="5.0" fill="#CFE7F4" stroke="#A9CADD" stroke-width="0.4"/>
<ellipse cx="493.5" cy="785.4" rx="13.8" ry="6.2" fill="none" stroke="#8FB3C9" stroke-width="0.6"/>
<circle cx="486.13" cy="787.72" r="0.70" fill="#F5B06A" stroke="none" stroke-width="0" />
<circle cx="491.76" cy="786.06" r="0.70" fill="#F5B06A" stroke="none" stroke-width="0" />
<circle cx="499.12" cy="787.40" r="0.70" fill="#F5B06A" stroke="none" stroke-width="0" />
<circle cx="492.25" cy="790.48" r="0.70" fill="#F5B06A" stroke="none" stroke-width="0" />
<circle cx="490.90" cy="784.63" r="0.70" fill="#F5B06A" stroke="none" stroke-width="0" />
<circle cx="486.51" cy="786.20" r="0.70" fill="#F5B06A" stroke="none" stroke-width="0" />
<circle cx="497.23" cy="789.15" r="0.70" fill="#F5B06A" stroke="none" stroke-width="0" />
<circle cx="498.09" cy="790.19" r="0.70" fill="#F5B06A" stroke="none" stroke-width="0" />
<circle cx="501.27" cy="788.44" r="0.70" fill="#F5B06A" stroke="none" stroke-width="0" />
<circle cx="500.31" cy="788.61" r="0.70" fill="#F5B06A" stroke="none" stroke-width="0" />
<circle cx="490.46" cy="789.22" r="0.70" fill="#F5B06A" stroke="none" stroke-width="0" />
<line x1="424.6" y1="801.7" x2="424.6" y2="820.4" stroke="#111" stroke-width="0.5" />
<polygon points="424.6,821.2 423.7,819.1 425.5,819.1" fill="#111"/>
<text x="429.2" y="807.2" font-size="6.57" text-anchor="start" font-weight="normal" font-style="normal" fill="#000" >Flow cytometry</text>
<text x="429.2" y="813" font-size="6.57" text-anchor="start" font-weight="normal" font-style="normal" fill="#000" >sorting</text>
<path d="M416 824.5 C418 827.5 420.5 829 423.5 828.6 C426 827.6 428.5 827.6 430.5 828.6 C432 829.5 433.3 830.8 434.4 832 C431.5 831.8 429 832 426.5 832.3 C423.5 832.8 420.8 832.2 419 830.5 C417.5 829 416.5 827 416 824.5Z" fill="#D2A27A" stroke="#B07F55" stroke-width="0.4"/>
<ellipse cx="424.8" cy="830.3" rx="1.8" ry="0.9" fill="#A8744C" transform="rotate(8 424.8 830.3)"/>
<text x="427.8" y="841.6" font-size="7.7" text-anchor="middle" font-weight="normal" font-style="normal" fill="#000" >Pan-CAF</text>
<line x1="485.0" y1="801.7" x2="476.3" y2="814.2" stroke="#111" stroke-width="0.5" />
<polygon points="475.8,814.9 476.3,812.7 477.7,813.6" fill="#111"/>
<line x1="501.8" y1="801.7" x2="511.1" y2="814.3" stroke="#111" stroke-width="0.5" />
<polygon points="511.6,814.9 509.6,813.7 511.0,812.7" fill="#111"/>
<text x="483.4" y="808.8" font-size="6.4" text-anchor="start" font-weight="normal" font-style="normal" fill="#000" >+PMA</text>
<text x="509.5" y="801.1" font-size="6.4" text-anchor="start" font-weight="normal" font-style="normal" fill="#000" >+PMA</text>
<text x="511.6" y="807.4" font-size="6.4" text-anchor="start" font-weight="normal" font-style="normal" fill="#000" >+LPS</text>
<text x="514.1" y="814" font-size="6.4" text-anchor="start" font-weight="normal" font-style="normal" fill="#000" >+IFN-γ</text>
<ellipse cx="475.8" cy="830.2" rx="14.4" ry="7.7" fill="#E3F2FA" stroke="#8FB3C9" stroke-width="0.6"/>
<ellipse cx="475.8" cy="827.9" rx="12.8" ry="6.5" fill="#CFE7F4" stroke="#A9CADD" stroke-width="0.4"/>
<ellipse cx="475.8" cy="826.2" rx="14.4" ry="7.7" fill="none" stroke="#8FB3C9" stroke-width="0.6"/>
<circle cx="475.35" cy="832.01" r="0.90" fill="#F06A6A" stroke="none" stroke-width="0" />
<circle cx="472.21" cy="824.00" r="0.90" fill="#F06A6A" stroke="none" stroke-width="0" />
<circle cx="477.63" cy="830.17" r="0.90" fill="#F06A6A" stroke="none" stroke-width="0" />
<circle cx="478.56" cy="829.87" r="0.90" fill="#F06A6A" stroke="none" stroke-width="0" />
<circle cx="475.45" cy="826.33" r="0.90" fill="#F06A6A" stroke="none" stroke-width="0" />
<circle cx="471.41" cy="827.62" r="0.90" fill="#F06A6A" stroke="none" stroke-width="0" />
<circle cx="474.04" cy="831.08" r="0.90" fill="#F06A6A" stroke="none" stroke-width="0" />
<circle cx="479.75" cy="824.86" r="0.90" fill="#F06A6A" stroke="none" stroke-width="0" />
<circle cx="480.86" cy="828.28" r="0.90" fill="#F06A6A" stroke="none" stroke-width="0" />
<circle cx="481.26" cy="831.62" r="0.90" fill="#F06A6A" stroke="none" stroke-width="0" />
<circle cx="478.98" cy="824.04" r="0.90" fill="#F06A6A" stroke="none" stroke-width="0" />
<circle cx="479.65" cy="824.38" r="0.90" fill="#F06A6A" stroke="none" stroke-width="0" />
<circle cx="483.98" cy="826.71" r="0.90" fill="#F06A6A" stroke="none" stroke-width="0" />
<ellipse cx="519" cy="830.0" rx="14.1" ry="7.4" fill="#E3F2FA" stroke="#8FB3C9" stroke-width="0.6"/>
<ellipse cx="519" cy="827.6" rx="12.5" ry="6.2" fill="#CFE7F4" stroke="#A9CADD" stroke-width="0.4"/>
<ellipse cx="519" cy="826.0" rx="14.1" ry="7.4" fill="none" stroke="#8FB3C9" stroke-width="0.6"/>
<circle cx="525.19" cy="830.20" r="0.90" fill="#2E6FA8" stroke="none" stroke-width="0" />
<circle cx="513.72" cy="824.16" r="0.90" fill="#2E6FA8" stroke="none" stroke-width="0" />
<circle cx="518.37" cy="830.11" r="0.90" fill="#2E6FA8" stroke="none" stroke-width="0" />
<circle cx="518.23" cy="824.08" r="0.90" fill="#2E6FA8" stroke="none" stroke-width="0" />
<circle cx="516.45" cy="831.40" r="0.90" fill="#2E6FA8" stroke="none" stroke-width="0" />
<circle cx="512.37" cy="830.25" r="0.90" fill="#2E6FA8" stroke="none" stroke-width="0" />
<circle cx="522.28" cy="829.27" r="0.90" fill="#2E6FA8" stroke="none" stroke-width="0" />
<circle cx="523.60" cy="826.20" r="0.90" fill="#2E6FA8" stroke="none" stroke-width="0" />
<circle cx="518.45" cy="831.92" r="0.90" fill="#2E6FA8" stroke="none" stroke-width="0" />
<circle cx="516.53" cy="826.49" r="0.90" fill="#2E6FA8" stroke="none" stroke-width="0" />
<circle cx="511.71" cy="826.61" r="0.90" fill="#2E6FA8" stroke="none" stroke-width="0" />
<circle cx="522.88" cy="831.00" r="0.90" fill="#2E6FA8" stroke="none" stroke-width="0" />
<circle cx="522.92" cy="829.67" r="0.90" fill="#2E6FA8" stroke="none" stroke-width="0" />
<text x="475" y="847.7" font-size="7.85" text-anchor="middle" font-weight="normal" font-style="normal" fill="#000" >Macro (Con)</text>
<text x="504.9" y="847.7" font-size="7.85" text-anchor="start" font-weight="normal" font-style="normal" fill="#000" >Macro (Pro-inflam)</text>
<path d="M475.8 849.8V852.9H518.7V849.8M497.2 852.9V879.3H484" fill="none" stroke="#222" stroke-width="0.5"/>
<polygon points="481.8,879.3 484.6,878.2 484.6,880.4" fill="#222"/>
<line x1="435.0" y1="846.8" x2="447.8" y2="866.9" stroke="#111" stroke-width="0.5" />
<polygon points="448.2,867.6 446.3,866.3 447.8,865.3" fill="#111"/>
<ellipse cx="464.2" cy="882.9" rx="14.6" ry="7.7" fill="#E3F2FA" stroke="#8FB3C9" stroke-width="0.6"/>
<ellipse cx="464.2" cy="880.5" rx="13.0" ry="6.5" fill="#CFE7F4" stroke="#A9CADD" stroke-width="0.4"/>
<ellipse cx="464.2" cy="878.9" rx="14.6" ry="7.7" fill="none" stroke="#8FB3C9" stroke-width="0.6"/>
<circle cx="465.24" cy="880.64" r="0.85" fill="#2E6FA8" stroke="none" stroke-width="0" />
<circle cx="463.86" cy="878.85" r="0.85" fill="#2E6FA8" stroke="none" stroke-width="0" />
<circle cx="465.47" cy="880.70" r="0.85" fill="#2E6FA8" stroke="none" stroke-width="0" />
<circle cx="470.10" cy="878.03" r="0.85" fill="#E6C040" stroke="none" stroke-width="0" />
<circle cx="470.34" cy="877.00" r="0.85" fill="#2E6FA8" stroke="none" stroke-width="0" />
<circle cx="464.57" cy="883.53" r="0.85" fill="#2E6FA8" stroke="none" stroke-width="0" />
<circle cx="462.85" cy="878.30" r="0.85" fill="#2E6FA8" stroke="none" stroke-width="0" />
<circle cx="463.81" cy="883.04" r="0.85" fill="#E6C040" stroke="none" stroke-width="0" />
<circle cx="469.96" cy="877.25" r="0.85" fill="#2E6FA8" stroke="none" stroke-width="0" />
<circle cx="465.57" cy="878.58" r="0.85" fill="#2E6FA8" stroke="none" stroke-width="0" />
<circle cx="470.46" cy="879.19" r="0.85" fill="#2E6FA8" stroke="none" stroke-width="0" />
<circle cx="464.97" cy="883.97" r="0.85" fill="#E6C040" stroke="none" stroke-width="0" />
<circle cx="461.78" cy="881.40" r="0.85" fill="#2E6FA8" stroke="none" stroke-width="0" />
<circle cx="458.78" cy="879.61" r="0.85" fill="#2E6FA8" stroke="none" stroke-width="0" />
<circle cx="455.61" cy="878.79" r="0.85" fill="#2E6FA8" stroke="none" stroke-width="0" />
<circle cx="460.38" cy="878.33" r="0.85" fill="#E6C040" stroke="none" stroke-width="0" />
<circle cx="470.62" cy="877.13" r="0.85" fill="#2E6FA8" stroke="none" stroke-width="0" />
<circle cx="454.66" cy="881.04" r="0.85" fill="#2E6FA8" stroke="none" stroke-width="0" />
<text x="475.8" y="899.8" font-size="7.8" text-anchor="middle" font-weight="normal" font-style="normal" fill="#000" >Co-culture for 48h</text>
<text x="582.1" y="767.8" font-size="15.5" text-anchor="start" font-weight="bold" font-style="normal" fill="#000" >N</text>
<rect x="644.00" y="834.30" width="9.50" height="32.30" fill="#7B9FD9" stroke="#2A4F9A" stroke-width="1.3" />
<rect x="660.90" y="804.30" width="9.50" height="62.30" fill="#DCCBF0" stroke="#5B2D9A" stroke-width="1.3" />
<line x1="648.7" y1="829.5" x2="648.7" y2="842.3" stroke="#2A4F9A" stroke-width="0.7" />
<line x1="646.5" y1="829.5" x2="650.9000000000001" y2="829.5" stroke="#2A4F9A" stroke-width="0.7" />
<line x1="646.5" y1="842.3" x2="650.9000000000001" y2="842.3" stroke="#2A4F9A" stroke-width="0.7" />
<line x1="665.5" y1="789.9" x2="665.5" y2="817.1" stroke="#6A3AA8" stroke-width="0.7" />
<line x1="662.7" y1="789.9" x2="668.3" y2="789.9" stroke="#6A3AA8" stroke-width="0.7" />
<line x1="662.7" y1="817.1" x2="668.3" y2="817.1" stroke="#6A3AA8" stroke-width="0.7" />
<circle cx="648.70" cy="824.40" r="1.90" fill="#6E9BDD" stroke="#2A4F9A" stroke-width="0.9" />
<circle cx="645.80" cy="835.80" r="1.90" fill="#6E9BDD" stroke="#2A4F9A" stroke-width="0.9" />
<circle cx="651.80" cy="835.80" r="1.90" fill="#6E9BDD" stroke="#2A4F9A" stroke-width="0.9" />
<circle cx="645.80" cy="845.60" r="1.90" fill="#6E9BDD" stroke="#2A4F9A" stroke-width="0.9" />
<circle cx="651.80" cy="845.60" r="1.90" fill="#6E9BDD" stroke="#2A4F9A" stroke-width="0.9" />
<rect x="660.70" y="788.10" width="3.61" height="3.61" fill="#B48BDB" stroke="none" stroke-width="0" />
<rect x="667.30" y="789.80" width="3.61" height="3.61" fill="#B48BDB" stroke="none" stroke-width="0" />
<rect x="660.70" y="803.10" width="3.61" height="3.61" fill="#B48BDB" stroke="none" stroke-width="0" />
<rect x="666.90" y="804.00" width="3.61" height="3.61" fill="#B48BDB" stroke="none" stroke-width="0" />
<rect x="663.70" y="821.70" width="3.61" height="3.61" fill="#B48BDB" stroke="none" stroke-width="0" />
<line x1="637.8" y1="777.6" x2="637.8" y2="867.1" stroke="#000" stroke-width="1.0" />
<line x1="637.3" y1="866.6" x2="677.1" y2="866.6" stroke="#000" stroke-width="1.0" />
<line x1="634" y1="866.6" x2="637.8" y2="866.6" stroke="#000" stroke-width="1.0" />
<text x="632.7" y="869.1" font-size="7.0" text-anchor="end" font-weight="normal" font-style="normal" fill="#000" >0</text>
<line x1="634" y1="844.475" x2="637.8" y2="844.475" stroke="#000" stroke-width="1.0" />
<text x="632.7" y="846.975" font-size="7.0" text-anchor="end" font-weight="normal" font-style="normal" fill="#000" >10</text>
<line x1="634" y1="822.35" x2="637.8" y2="822.35" stroke="#000" stroke-width="1.0" />
<text x="632.7" y="824.85" font-size="7.0" text-anchor="end" font-weight="normal" font-style="normal" fill="#000" >20</text>
<line x1="634" y1="800.225" x2="637.8" y2="800.225" stroke="#000" stroke-width="1.0" />
<text x="632.7" y="802.725" font-size="7.0" text-anchor="end" font-weight="normal" font-style="normal" fill="#000" >30</text>
<line x1="634" y1="778.1" x2="637.8" y2="778.1" stroke="#000" stroke-width="1.0" />
<text x="632.7" y="780.6" font-size="7.0" text-anchor="end" font-weight="normal" font-style="normal" fill="#000" >40</text>
<line x1="648.7" y1="866.6" x2="648.7" y2="870" stroke="#000" stroke-width="1.0" />
<line x1="665.5" y1="866.6" x2="665.5" y2="870" stroke="#000" stroke-width="1.0" />
<path d="M648.7 783.7V778.1H665.5V783.7" fill="none" stroke="#111" stroke-width="0.9"/>
<text x="657.1" y="775.3" font-size="7.27" text-anchor="middle" font-weight="normal" font-style="normal" fill="#000" >0.002</text>
<text x="616.8" y="824" font-size="7.65" text-anchor="middle" font-weight="normal" font-style="normal" fill="#000" transform="rotate(-90 616.8 824)" >The ratio of apCAFs (%)</text>
<text transform="translate(652.3 877.0) rotate(-45)" font-size="7.6" text-anchor="end">Macro (Con)</text>
<text transform="translate(668.6 877.0) rotate(-45)" font-size="7.6" text-anchor="end">Macro (Pro-inflam)</text>
</svg></body></html>
